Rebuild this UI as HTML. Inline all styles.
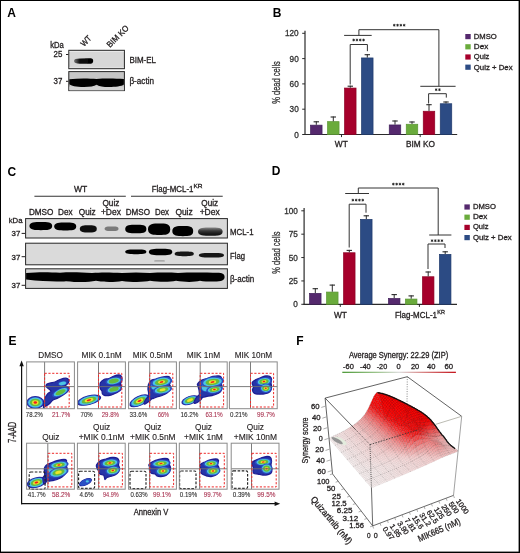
<!DOCTYPE html>
<html><head><meta charset="utf-8"><title>figure</title>
<style>html,body{margin:0;padding:0;background:#fff;}body{width:520px;height:553px;overflow:hidden;position:relative;font-family:"Liberation Sans", sans-serif;}</style>
</head><body>
<svg width="520" height="553" viewBox="0 0 520 553" style="position:absolute;left:0;top:0;will-change:transform;font-family:'Liberation Sans', sans-serif">
<defs>
<filter id="bl1" x="-20%" y="-50%" width="140%" height="200%"><feGaussianBlur stdDeviation="0.7"/></filter>
<filter id="bl2" x="-20%" y="-50%" width="140%" height="200%"><feGaussianBlur stdDeviation="1.1"/></filter>
<filter id="bl05" x="-20%" y="-50%" width="140%" height="200%"><feGaussianBlur stdDeviation="0.45"/></filter>
<linearGradient id="bimg" x1="0" x2="1" y1="0" y2="0"><stop offset="0" stop-color="#777"/><stop offset="0.3" stop-color="#111"/><stop offset="1" stop-color="#000"/></linearGradient>
<linearGradient id="qdg" x1="0" x2="0" y1="0" y2="1"><stop offset="0" stop-color="#8a8a8a"/><stop offset="0.45" stop-color="#333"/><stop offset="1" stop-color="#0a0a0a"/></linearGradient>
<linearGradient id="cbar" x1="0" x2="1" y1="0" y2="0">
 <stop offset="0" stop-color="#4f9a3a"/><stop offset="0.3" stop-color="#9cc48c"/>
 <stop offset="0.5" stop-color="#dddddd"/><stop offset="0.7" stop-color="#d98a8a"/>
 <stop offset="1" stop-color="#c4141c"/></linearGradient>
</defs>
<rect x="0.00" y="0.00" width="520.00" height="553.00" fill="#fff" />
<text x="7.20" y="16.90" font-size="12" fill="#000" font-weight="bold" >A</text>
<text x="272.80" y="16.90" font-size="12" fill="#000" font-weight="bold" >B</text>
<text x="7.40" y="175.60" font-size="12" fill="#000" font-weight="bold" >C</text>
<text x="271.70" y="175.40" font-size="12" fill="#000" font-weight="bold" >D</text>
<text x="8.40" y="345.30" font-size="12" fill="#000" font-weight="bold" >E</text>
<text x="296.20" y="345.30" font-size="12" fill="#000" font-weight="bold" >F</text>
<text x="50.20" y="47.50" font-size="8.2" fill="#231f20" textLength="13.60" lengthAdjust="spacingAndGlyphs" stroke="#231f20" stroke-width="0.3" >kDa</text>
<text x="53.60" y="56.90" font-size="8.9" fill="#231f20" textLength="8.80" lengthAdjust="spacingAndGlyphs" stroke="#231f20" stroke-width="0.3" >25</text>
<text x="53.60" y="83.70" font-size="8.9" fill="#231f20" textLength="8.80" lengthAdjust="spacingAndGlyphs" stroke="#231f20" stroke-width="0.3" >37</text>
<line x1="66.00" y1="54.50" x2="68.50" y2="54.50" stroke="#231f20" stroke-width="1" />
<line x1="66.00" y1="81.30" x2="68.50" y2="81.30" stroke="#231f20" stroke-width="1" />
<text x="83.90" y="46.90" font-size="8.4" fill="#231f20" textLength="11.50" lengthAdjust="spacingAndGlyphs" stroke="#231f20" stroke-width="0.3" transform="rotate(-45 83.90 46.90)" >WT</text>
<text x="110.00" y="48.10" font-size="8.4" fill="#231f20" textLength="27.50" lengthAdjust="spacingAndGlyphs" stroke="#231f20" stroke-width="0.3" transform="rotate(-45 110.00 48.10)" >BIM KO</text>
<rect x="68.80" y="50.30" width="55.60" height="18.40" fill="#d7d7d7" stroke="#262626" stroke-width="1" />
<line x1="69.50" y1="51.50" x2="123.80" y2="51.50" stroke="#ececec" stroke-width="0.8" />
<line x1="69.50" y1="67.40" x2="123.80" y2="67.40" stroke="#e6e6e6" stroke-width="0.8" />
<path d="M74.0,61 C74.0,59.2 76,58.6 80,58.5 L89,58.3 C92,58.3 93.2,58.8 93.2,61 C93.2,63.2 92,63.8 89,63.8 L80,63.7 C76,63.6 74.0,62.8 74.0,61 Z" fill="url(#bimg)" filter="url(#bl05)"/>
<rect x="68.80" y="71.60" width="55.60" height="19.00" fill="#c6c6c6" stroke="#262626" stroke-width="1" />
<rect x="69.30" y="86.50" width="54.60" height="3.90" fill="#d2d2d2" />
<path d="M69.3,79.2 C80,78.2 90,78.6 96.5,79.0 C104,78.3 115,78.4 123.9,79.0 L123.9,84.5 C121,86.8 112,87.2 105,86.9 C100,86.7 98,85.5 96.5,84.8 C94,86.3 90,87.0 84,87.0 C76,87.0 71,85.8 69.3,84.2 Z" fill="#060606" filter="url(#bl05)"/>
<text x="129.40" y="63.30" font-size="8.6" fill="#231f20" textLength="26.60" lengthAdjust="spacingAndGlyphs" stroke="#231f20" stroke-width="0.3" >BIM-EL</text>
<text x="129.40" y="84.20" font-size="8.6" fill="#231f20" textLength="24.60" lengthAdjust="spacingAndGlyphs" stroke="#231f20" stroke-width="0.3" >β-actin</text>
<line x1="305.00" y1="30.80" x2="305.00" y2="135.00" stroke="#2a2a2a" stroke-width="1.2" />
<line x1="304.40" y1="134.50" x2="457.20" y2="134.50" stroke="#2a2a2a" stroke-width="1.2" />
<line x1="302.20" y1="134.50" x2="305.00" y2="134.50" stroke="#2a2a2a" stroke-width="1" />
<text x="298.70" y="137.50" font-size="8.2" fill="#333" text-anchor="end" stroke="#333" stroke-width="0.3" >0</text>
<line x1="302.20" y1="109.20" x2="305.00" y2="109.20" stroke="#2a2a2a" stroke-width="1" />
<text x="298.70" y="112.20" font-size="8.2" fill="#333" text-anchor="end" stroke="#333" stroke-width="0.3" >30</text>
<line x1="302.20" y1="83.90" x2="305.00" y2="83.90" stroke="#2a2a2a" stroke-width="1" />
<text x="298.70" y="86.90" font-size="8.2" fill="#333" text-anchor="end" stroke="#333" stroke-width="0.3" >60</text>
<line x1="302.20" y1="58.60" x2="305.00" y2="58.60" stroke="#2a2a2a" stroke-width="1" />
<text x="298.70" y="61.60" font-size="8.2" fill="#333" text-anchor="end" stroke="#333" stroke-width="0.3" >90</text>
<line x1="302.20" y1="33.30" x2="305.00" y2="33.30" stroke="#2a2a2a" stroke-width="1" />
<text x="298.70" y="36.30" font-size="8.2" fill="#333" text-anchor="end" stroke="#333" stroke-width="0.3" >120</text>
<line x1="341.50" y1="134.50" x2="341.50" y2="137.10" stroke="#2a2a2a" stroke-width="1" />
<line x1="420.20" y1="134.50" x2="420.20" y2="137.10" stroke="#2a2a2a" stroke-width="1" />
<rect x="310.55" y="125.15" width="11.50" height="9.35" fill="#55296e" stroke="#40205a" stroke-width="0.7" />
<line x1="316.30" y1="121.30" x2="316.30" y2="124.80" stroke="#2a2a2a" stroke-width="1" />
<line x1="313.60" y1="121.80" x2="319.00" y2="121.80" stroke="#2a2a2a" stroke-width="1.1" />
<rect x="327.55" y="121.65" width="11.50" height="12.85" fill="#6aab3c" stroke="#5a9632" stroke-width="0.7" />
<line x1="333.30" y1="116.50" x2="333.30" y2="121.30" stroke="#2a2a2a" stroke-width="1" />
<line x1="330.60" y1="117.00" x2="336.00" y2="117.00" stroke="#2a2a2a" stroke-width="1.1" />
<rect x="344.55" y="88.05" width="11.50" height="46.45" fill="#a6002b" stroke="#8c0024" stroke-width="0.7" />
<line x1="350.30" y1="85.70" x2="350.30" y2="87.70" stroke="#2a2a2a" stroke-width="1" />
<line x1="347.60" y1="86.20" x2="353.00" y2="86.20" stroke="#2a2a2a" stroke-width="1.1" />
<rect x="361.55" y="57.95" width="11.50" height="76.55" fill="#2c4b84" stroke="#1f3a6c" stroke-width="0.7" />
<line x1="367.30" y1="54.20" x2="367.30" y2="57.60" stroke="#2a2a2a" stroke-width="1" />
<line x1="364.60" y1="54.70" x2="370.00" y2="54.70" stroke="#2a2a2a" stroke-width="1.1" />
<rect x="389.25" y="124.95" width="11.50" height="9.55" fill="#55296e" stroke="#40205a" stroke-width="0.7" />
<line x1="395.00" y1="120.50" x2="395.00" y2="124.60" stroke="#2a2a2a" stroke-width="1" />
<line x1="392.30" y1="121.00" x2="397.70" y2="121.00" stroke="#2a2a2a" stroke-width="1.1" />
<rect x="406.25" y="124.25" width="11.50" height="10.25" fill="#6aab3c" stroke="#5a9632" stroke-width="0.7" />
<line x1="412.00" y1="121.50" x2="412.00" y2="123.90" stroke="#2a2a2a" stroke-width="1" />
<line x1="409.30" y1="122.00" x2="414.70" y2="122.00" stroke="#2a2a2a" stroke-width="1.1" />
<rect x="423.25" y="111.25" width="11.50" height="23.25" fill="#a6002b" stroke="#8c0024" stroke-width="0.7" />
<line x1="429.00" y1="104.20" x2="429.00" y2="110.90" stroke="#2a2a2a" stroke-width="1" />
<line x1="426.30" y1="104.70" x2="431.70" y2="104.70" stroke="#2a2a2a" stroke-width="1.1" />
<rect x="440.25" y="103.75" width="11.50" height="30.75" fill="#2c4b84" stroke="#1f3a6c" stroke-width="0.7" />
<line x1="446.00" y1="101.50" x2="446.00" y2="103.40" stroke="#2a2a2a" stroke-width="1" />
<line x1="443.30" y1="102.00" x2="448.70" y2="102.00" stroke="#2a2a2a" stroke-width="1.1" />
<text x="279.80" y="103.80" font-size="10.5" fill="#333" textLength="42.70" lengthAdjust="spacingAndGlyphs" stroke="#333" stroke-width="0.3" transform="rotate(-90 279.80 103.80)" >% dead cells</text>
<text x="341.30" y="147.40" font-size="8.2" fill="#231f20" text-anchor="middle" textLength="13.00" lengthAdjust="spacingAndGlyphs" stroke="#231f20" stroke-width="0.3" >WT</text>
<text x="420.50" y="147.40" font-size="8.2" fill="#231f20" text-anchor="middle" textLength="29.00" lengthAdjust="spacingAndGlyphs" stroke="#231f20" stroke-width="0.3" >BIM KO</text>
<path d="M358.9,35.4 V29.7 H438.9 V86.3" fill="none" stroke="#333" stroke-width="1" />
<line x1="344.10" y1="35.40" x2="371.70" y2="35.40" stroke="#333" stroke-width="1" />
<path d="M353.65,38.65L353.65,41.35M352.48,39.33L354.82,40.67M354.82,39.33L352.48,40.67M356.95,38.65L356.95,41.35M355.78,39.33L358.12,40.67M358.12,39.33L355.78,40.67M360.25,38.65L360.25,41.35M359.08,39.33L361.42,40.67M361.42,39.33L359.08,40.67M363.55,38.65L363.55,41.35M362.38,39.33L364.72,40.67M364.72,39.33L362.38,40.67" fill="none" stroke="#1a1a1a" stroke-width="0.8" />
<path d="M350.2,84.5 V44.5 H367.4 V51.2" fill="none" stroke="#333" stroke-width="1" />
<path d="M394.25,23.85L394.25,26.55M393.08,24.52L395.42,25.88M395.42,24.52L393.08,25.88M397.55,23.85L397.55,26.55M396.38,24.52L398.72,25.88M398.72,24.52L396.38,25.88M400.85,23.85L400.85,26.55M399.68,24.52L402.02,25.88M402.02,24.52L399.68,25.88M404.15,23.85L404.15,26.55M402.98,24.52L405.32,25.88M405.32,24.52L402.98,25.88" fill="none" stroke="#1a1a1a" stroke-width="0.8" />
<line x1="420.30" y1="86.30" x2="455.60" y2="86.30" stroke="#333" stroke-width="1" />
<path d="M436.15,88.35L436.15,91.05M434.98,89.03L437.32,90.38M437.32,89.03L434.98,90.38M439.45,88.35L439.45,91.05M438.28,89.03L440.62,90.38M440.62,89.03L438.28,90.38" fill="none" stroke="#1a1a1a" stroke-width="0.8" />
<path d="M428.6,103.5 V93.7 H446.3 V97.6" fill="none" stroke="#333" stroke-width="1" />
<rect x="465.30" y="34.00" width="5.40" height="5.20" fill="#55296e" />
<text x="473.80" y="38.90" font-size="7.6" fill="#231f20" textLength="23.00" lengthAdjust="spacingAndGlyphs" stroke="#231f20" stroke-width="0.3" >DMSO</text>
<rect x="465.30" y="44.20" width="5.40" height="5.20" fill="#6aab3c" />
<text x="473.80" y="49.10" font-size="7.6" fill="#231f20" textLength="14.40" lengthAdjust="spacingAndGlyphs" stroke="#231f20" stroke-width="0.3" >Dex</text>
<rect x="465.30" y="54.40" width="5.40" height="5.20" fill="#a6002b" />
<text x="473.80" y="59.30" font-size="7.6" fill="#231f20" textLength="15.60" lengthAdjust="spacingAndGlyphs" stroke="#231f20" stroke-width="0.3" >Quiz</text>
<rect x="465.30" y="64.60" width="5.40" height="5.20" fill="#2c4b84" />
<text x="473.80" y="69.50" font-size="7.6" fill="#231f20" textLength="38.80" lengthAdjust="spacingAndGlyphs" stroke="#231f20" stroke-width="0.3" >Quiz + Dex</text>
<text x="80.70" y="191.60" font-size="8.2" fill="#231f20" text-anchor="middle" textLength="13.30" lengthAdjust="spacingAndGlyphs" stroke="#231f20" stroke-width="0.3" >WT</text>
<line x1="34.40" y1="196.20" x2="125.80" y2="196.20" stroke="#333" stroke-width="1.1" />
<text x="151.80" y="191.80" font-size="8.4" fill="#231f20" textLength="41.60" lengthAdjust="spacingAndGlyphs" stroke="#231f20" stroke-width="0.3" >Flag-MCL-1</text>
<text x="193.50" y="188.20" font-size="5.9" fill="#231f20" textLength="9.00" lengthAdjust="spacingAndGlyphs" stroke="#231f20" stroke-width="0.3" >KR</text>
<line x1="131.00" y1="196.20" x2="222.70" y2="196.20" stroke="#333" stroke-width="1.1" />
<text x="28.90" y="215.30" font-size="8.2" fill="#231f20" textLength="24.50" lengthAdjust="spacingAndGlyphs" stroke="#231f20" stroke-width="0.3" >DMSO</text>
<text x="58.00" y="215.30" font-size="8.2" fill="#231f20" textLength="14.50" lengthAdjust="spacingAndGlyphs" stroke="#231f20" stroke-width="0.3" >Dex</text>
<text x="78.80" y="215.30" font-size="8.2" fill="#231f20" textLength="16.90" lengthAdjust="spacingAndGlyphs" stroke="#231f20" stroke-width="0.3" >Quiz</text>
<text x="125.80" y="215.30" font-size="8.2" fill="#231f20" textLength="24.20" lengthAdjust="spacingAndGlyphs" stroke="#231f20" stroke-width="0.3" >DMSO</text>
<text x="155.00" y="215.30" font-size="8.2" fill="#231f20" textLength="14.00" lengthAdjust="spacingAndGlyphs" stroke="#231f20" stroke-width="0.3" >Dex</text>
<text x="175.40" y="215.30" font-size="8.2" fill="#231f20" textLength="17.30" lengthAdjust="spacingAndGlyphs" stroke="#231f20" stroke-width="0.3" >Quiz</text>
<text x="110.90" y="205.80" font-size="8.2" fill="#231f20" text-anchor="middle" textLength="16.90" lengthAdjust="spacingAndGlyphs" stroke="#231f20" stroke-width="0.3" >Quiz</text>
<text x="110.90" y="215.30" font-size="8.2" fill="#231f20" text-anchor="middle" textLength="20.00" lengthAdjust="spacingAndGlyphs" stroke="#231f20" stroke-width="0.3" >+Dex</text>
<text x="209.70" y="205.80" font-size="8.2" fill="#231f20" text-anchor="middle" textLength="16.80" lengthAdjust="spacingAndGlyphs" stroke="#231f20" stroke-width="0.3" >Quiz</text>
<text x="209.70" y="215.30" font-size="8.2" fill="#231f20" text-anchor="middle" textLength="20.10" lengthAdjust="spacingAndGlyphs" stroke="#231f20" stroke-width="0.3" >+Dex</text>
<text x="8.70" y="223.00" font-size="8" fill="#231f20" textLength="13.80" lengthAdjust="spacingAndGlyphs" stroke="#231f20" stroke-width="0.3" >kDa</text>
<text x="11.60" y="236.30" font-size="8" fill="#231f20" textLength="8.80" lengthAdjust="spacingAndGlyphs" stroke="#231f20" stroke-width="0.3" >37</text>
<line x1="21.60" y1="233.40" x2="25.30" y2="233.40" stroke="#231f20" stroke-width="1" />
<text x="11.60" y="259.60" font-size="8" fill="#231f20" textLength="8.80" lengthAdjust="spacingAndGlyphs" stroke="#231f20" stroke-width="0.3" >37</text>
<line x1="21.60" y1="256.70" x2="25.30" y2="256.70" stroke="#231f20" stroke-width="1" />
<text x="11.60" y="288.20" font-size="8" fill="#231f20" textLength="8.80" lengthAdjust="spacingAndGlyphs" stroke="#231f20" stroke-width="0.3" >37</text>
<line x1="21.60" y1="285.30" x2="25.30" y2="285.30" stroke="#231f20" stroke-width="1" />
<rect x="25.60" y="218.60" width="201.80" height="19.40" fill="#d9d9d9" stroke="#262626" stroke-width="1" />
<rect x="25.60" y="243.20" width="201.80" height="21.60" fill="#dadada" stroke="#262626" stroke-width="1" />
<rect x="25.60" y="268.80" width="201.80" height="19.60" fill="#d3d3d3" stroke="#262626" stroke-width="1" />
<path d="M29.4,226.1 C29.4,222.0 35.1,222.0 40.8,222.0 C47.6,222.0 52.2,222.0 52.2,226.1 C52.2,230.2 47.6,230.2 40.8,230.2 C35.1,230.2 29.4,230.2 29.4,226.1 Z" fill="#050505" filter="url(#bl05)"/>
<path d="M54.2,226.5 C54.2,222.6 59.7,222.6 65.2,222.6 C71.8,222.6 76.2,222.6 76.2,226.5 C76.2,230.4 71.8,230.4 65.2,230.4 C59.7,230.4 54.2,230.4 54.2,226.5 Z" fill="#050505" filter="url(#bl05)"/>
<path d="M79.8,228.8 C79.8,225.2 84.0,225.2 88.3,225.2 C93.4,225.2 96.8,225.2 96.8,228.8 C96.8,232.5 93.4,232.5 88.3,232.5 C84.0,232.5 79.8,232.5 79.8,228.8 Z" fill="#111" filter="url(#bl05)"/>
<path d="M104.6,228.8 C104.6,226.6 108.1,226.6 111.5,226.6 C115.7,226.6 118.5,226.6 118.5,228.8 C118.5,231.1 115.7,231.1 111.5,231.1 C108.1,231.1 104.6,231.1 104.6,228.8 Z" fill="#7a7a7a" filter="url(#bl1)"/>
<path d="M125.2,229.0 C125.2,224.7 130.5,224.7 135.8,224.7 C142.2,224.7 146.4,224.7 146.4,229.0 C146.4,233.3 142.2,233.3 135.8,233.3 C130.5,233.3 125.2,233.3 125.2,229.0 Z" fill="#050505" filter="url(#bl05)"/>
<path d="M148.0,229.3 C148.0,223.6 153.6,223.6 159.1,223.6 C165.8,223.6 170.2,223.6 170.2,229.3 C170.2,235.0 165.8,235.0 159.1,235.0 C153.6,235.0 148.0,235.0 148.0,229.3 Z" fill="#050505" filter="url(#bl05)"/>
<path d="M172.3,231.1 C172.3,226.0 177.5,226.0 182.8,226.0 C189.0,226.0 193.2,226.0 193.2,231.1 C193.2,236.2 189.0,236.2 182.8,236.2 C177.5,236.2 172.3,236.2 172.3,231.1 Z" fill="#050505" filter="url(#bl05)"/>
<path d="M198.0,231.6 C198.0,227.4 204.2,227.4 210.3,227.4 C217.7,227.4 222.6,227.4 222.6,231.6 C222.6,235.8 217.7,235.8 210.3,235.8 C204.2,235.8 198.0,235.8 198.0,231.6 Z" fill="url(#qdg)" filter="url(#bl05)"/>
<path d="M125.2,251.8 C125.2,249.5 130.5,249.5 135.8,249.5 C142.2,249.5 146.4,249.5 146.4,251.8 C146.4,254.2 142.2,254.2 135.8,254.2 C130.5,254.2 125.2,254.2 125.2,251.8 Z" fill="#050505" filter="url(#bl05)"/>
<path d="M148.8,252.0 C148.8,248.8 154.7,248.8 160.6,248.8 C167.6,248.8 172.3,248.8 172.3,252.0 C172.3,255.2 167.6,255.2 160.6,255.2 C154.7,255.2 148.8,255.2 148.8,252.0 Z" fill="#050505" filter="url(#bl05)"/>
<path d="M174.6,253.8 C174.6,251.4 179.4,251.4 184.2,251.4 C190.0,251.4 193.8,251.4 193.8,253.8 C193.8,256.2 190.0,256.2 184.2,256.2 C179.4,256.2 174.6,256.2 174.6,253.8 Z" fill="#151515" filter="url(#bl05)"/>
<path d="M198.8,255.3 C198.8,253.0 205.1,253.0 211.4,253.0 C219.0,253.0 224.0,253.0 224.0,255.3 C224.0,257.6 219.0,257.6 211.4,257.6 C205.1,257.6 198.8,257.6 198.8,255.3 Z" fill="#151515" filter="url(#bl05)"/>
<path d="M154.0,260.9 C154.0,260.2 156.8,260.2 159.5,260.2 C162.8,260.2 165.0,260.2 165.0,260.9 C165.0,261.6 162.8,261.6 159.5,261.6 C156.8,261.6 154.0,261.6 154.0,260.9 Z" fill="#9a9a9a" filter="url(#bl1)"/>
<path d="M26.1,273.0 C40,271.8 50,272.2 60,272.8 C70,272.0 80,272.4 92,273.0 C100,272.2 110,272.2 122,273.0 C132,272.2 140,272.2 150,273.0 C160,272.4 170,272.4 178,273.0 C188,272.4 200,272.4 219,272.8 C223.5,273.0 224.6,275.0 224.6,277.0 C224.6,280.2 222,281.6 214,281.6 C208,281.6 203,281.4 200,280.8 C195,282.2 185,282.4 176,280.8 C170,282.0 160,282.2 150,280.8 C145,282.2 132,282.4 122,281.0 C115,282.2 104,282.4 96,280.8 C88,282.4 78,282.4 66,281.2 C58,282.0 44,281.6 26.1,279.6 Z" fill="#060606" filter="url(#bl05)"/>
<text x="230.00" y="235.00" font-size="8.6" fill="#231f20" textLength="23.50" lengthAdjust="spacingAndGlyphs" stroke="#231f20" stroke-width="0.3" >MCL-1</text>
<text x="230.00" y="259.40" font-size="8.6" fill="#231f20" textLength="15.00" lengthAdjust="spacingAndGlyphs" stroke="#231f20" stroke-width="0.3" >Flag</text>
<text x="230.00" y="282.00" font-size="8.6" fill="#231f20" textLength="24.20" lengthAdjust="spacingAndGlyphs" stroke="#231f20" stroke-width="0.3" >β-actin</text>
<line x1="304.10" y1="208.00" x2="304.10" y2="304.80" stroke="#2a2a2a" stroke-width="1.2" />
<line x1="303.50" y1="304.30" x2="457.00" y2="304.30" stroke="#2a2a2a" stroke-width="1.2" />
<line x1="301.30" y1="304.30" x2="304.10" y2="304.30" stroke="#2a2a2a" stroke-width="1" />
<text x="297.80" y="307.30" font-size="8.2" fill="#333" text-anchor="end" stroke="#333" stroke-width="0.3" >0</text>
<line x1="301.30" y1="280.93" x2="304.10" y2="280.93" stroke="#2a2a2a" stroke-width="1" />
<text x="297.80" y="283.93" font-size="8.2" fill="#333" text-anchor="end" stroke="#333" stroke-width="0.3" >25</text>
<line x1="301.30" y1="257.55" x2="304.10" y2="257.55" stroke="#2a2a2a" stroke-width="1" />
<text x="297.80" y="260.55" font-size="8.2" fill="#333" text-anchor="end" stroke="#333" stroke-width="0.3" >50</text>
<line x1="301.30" y1="234.18" x2="304.10" y2="234.18" stroke="#2a2a2a" stroke-width="1" />
<text x="297.80" y="237.18" font-size="8.2" fill="#333" text-anchor="end" stroke="#333" stroke-width="0.3" >75</text>
<line x1="301.30" y1="210.80" x2="304.10" y2="210.80" stroke="#2a2a2a" stroke-width="1" />
<text x="297.80" y="213.80" font-size="8.2" fill="#333" text-anchor="end" stroke="#333" stroke-width="0.3" >100</text>
<line x1="340.30" y1="304.30" x2="340.30" y2="306.90" stroke="#2a2a2a" stroke-width="1" />
<line x1="419.40" y1="304.30" x2="419.40" y2="306.90" stroke="#2a2a2a" stroke-width="1" />
<rect x="309.55" y="293.35" width="11.50" height="10.95" fill="#55296e" stroke="#40205a" stroke-width="0.7" />
<line x1="315.30" y1="288.20" x2="315.30" y2="293.00" stroke="#2a2a2a" stroke-width="1" />
<line x1="312.60" y1="288.70" x2="318.00" y2="288.70" stroke="#2a2a2a" stroke-width="1.1" />
<rect x="326.55" y="292.05" width="11.50" height="12.25" fill="#6aab3c" stroke="#5a9632" stroke-width="0.7" />
<line x1="332.30" y1="284.60" x2="332.30" y2="291.70" stroke="#2a2a2a" stroke-width="1" />
<line x1="329.60" y1="285.10" x2="335.00" y2="285.10" stroke="#2a2a2a" stroke-width="1.1" />
<rect x="343.55" y="252.75" width="11.50" height="51.55" fill="#a6002b" stroke="#8c0024" stroke-width="0.7" />
<line x1="349.30" y1="249.90" x2="349.30" y2="252.40" stroke="#2a2a2a" stroke-width="1" />
<line x1="346.60" y1="250.40" x2="352.00" y2="250.40" stroke="#2a2a2a" stroke-width="1.1" />
<rect x="360.55" y="219.35" width="11.50" height="84.95" fill="#2c4b84" stroke="#1f3a6c" stroke-width="0.7" />
<line x1="366.30" y1="215.30" x2="366.30" y2="219.00" stroke="#2a2a2a" stroke-width="1" />
<line x1="363.60" y1="215.80" x2="369.00" y2="215.80" stroke="#2a2a2a" stroke-width="1.1" />
<rect x="388.45" y="298.45" width="11.50" height="5.85" fill="#55296e" stroke="#40205a" stroke-width="0.7" />
<line x1="394.20" y1="294.10" x2="394.20" y2="298.10" stroke="#2a2a2a" stroke-width="1" />
<line x1="391.50" y1="294.60" x2="396.90" y2="294.60" stroke="#2a2a2a" stroke-width="1.1" />
<rect x="405.45" y="299.05" width="11.50" height="5.25" fill="#6aab3c" stroke="#5a9632" stroke-width="0.7" />
<line x1="411.20" y1="295.40" x2="411.20" y2="298.70" stroke="#2a2a2a" stroke-width="1" />
<line x1="408.50" y1="295.90" x2="413.90" y2="295.90" stroke="#2a2a2a" stroke-width="1.1" />
<rect x="422.45" y="276.75" width="11.50" height="27.55" fill="#a6002b" stroke="#8c0024" stroke-width="0.7" />
<line x1="428.20" y1="271.50" x2="428.20" y2="276.40" stroke="#2a2a2a" stroke-width="1" />
<line x1="425.50" y1="272.00" x2="430.90" y2="272.00" stroke="#2a2a2a" stroke-width="1.1" />
<rect x="439.45" y="254.35" width="11.50" height="49.95" fill="#2c4b84" stroke="#1f3a6c" stroke-width="0.7" />
<line x1="445.20" y1="251.30" x2="445.20" y2="254.00" stroke="#2a2a2a" stroke-width="1" />
<line x1="442.50" y1="251.80" x2="447.90" y2="251.80" stroke="#2a2a2a" stroke-width="1.1" />
<text x="279.60" y="273.70" font-size="10.5" fill="#333" textLength="42.30" lengthAdjust="spacingAndGlyphs" stroke="#333" stroke-width="0.3" transform="rotate(-90 279.60 273.70)" >% dead cells</text>
<text x="340.40" y="318.00" font-size="8.2" fill="#231f20" text-anchor="middle" textLength="13.00" lengthAdjust="spacingAndGlyphs" stroke="#231f20" stroke-width="0.3" >WT</text>
<text x="394.90" y="318.00" font-size="8.2" fill="#231f20" textLength="42.10" lengthAdjust="spacingAndGlyphs" stroke="#231f20" stroke-width="0.3" >Flag-MCL-1</text>
<text x="437.30" y="314.20" font-size="5.9" fill="#231f20" textLength="7.60" lengthAdjust="spacingAndGlyphs" stroke="#231f20" stroke-width="0.3" >KR</text>
<path d="M358.3,193.5 V188.0 H438.2 V235.0" fill="none" stroke="#333" stroke-width="1" />
<line x1="345.20" y1="193.50" x2="369.00" y2="193.50" stroke="#333" stroke-width="1" />
<path d="M352.85,198.75L352.85,201.45M351.68,199.43L354.02,200.78M354.02,199.43L351.68,200.78M356.15,198.75L356.15,201.45M354.98,199.43L357.32,200.78M357.32,199.43L354.98,200.78M359.45,198.75L359.45,201.45M358.28,199.43L360.62,200.78M360.62,199.43L358.28,200.78M362.75,198.75L362.75,201.45M361.58,199.43L363.92,200.78M363.92,199.43L361.58,200.78" fill="none" stroke="#1a1a1a" stroke-width="0.8" />
<path d="M349.2,247.5 V204.2 H366.0 V212.7" fill="none" stroke="#333" stroke-width="1" />
<path d="M393.35,182.75L393.35,185.45M392.18,183.43L394.52,184.78M394.52,183.43L392.18,184.78M396.65,182.75L396.65,185.45M395.48,183.43L397.82,184.78M397.82,183.43L395.48,184.78M399.95,182.75L399.95,185.45M398.78,183.43L401.12,184.78M401.12,183.43L398.78,184.78M403.25,182.75L403.25,185.45M402.08,183.43L404.42,184.78M404.42,183.43L402.08,184.78" fill="none" stroke="#1a1a1a" stroke-width="0.8" />
<line x1="429.20" y1="235.00" x2="451.40" y2="235.00" stroke="#333" stroke-width="1" />
<path d="M432.05,239.35L432.05,242.05M430.88,240.03L433.22,241.38M433.22,240.03L430.88,241.38M435.35,239.35L435.35,242.05M434.18,240.03L436.52,241.38M436.52,240.03L434.18,241.38M438.65,239.35L438.65,242.05M437.48,240.03L439.82,241.38M439.82,240.03L437.48,241.38M441.95,239.35L441.95,242.05M440.78,240.03L443.12,241.38M443.12,240.03L440.78,241.38" fill="none" stroke="#1a1a1a" stroke-width="0.8" />
<path d="M428.0,269.0 V244.0 H445.0 V248.0" fill="none" stroke="#333" stroke-width="1" />
<rect x="464.40" y="204.40" width="5.40" height="5.20" fill="#55296e" />
<text x="472.90" y="208.90" font-size="7.6" fill="#231f20" textLength="23.00" lengthAdjust="spacingAndGlyphs" stroke="#231f20" stroke-width="0.3" >DMSO</text>
<rect x="464.40" y="214.60" width="5.40" height="5.20" fill="#6aab3c" />
<text x="472.90" y="219.10" font-size="7.6" fill="#231f20" textLength="14.40" lengthAdjust="spacingAndGlyphs" stroke="#231f20" stroke-width="0.3" >Dex</text>
<rect x="464.40" y="224.80" width="5.40" height="5.20" fill="#a6002b" />
<text x="472.90" y="229.30" font-size="7.6" fill="#231f20" textLength="15.60" lengthAdjust="spacingAndGlyphs" stroke="#231f20" stroke-width="0.3" >Quiz</text>
<rect x="464.40" y="235.00" width="5.40" height="5.20" fill="#2c4b84" />
<text x="472.90" y="239.50" font-size="7.6" fill="#231f20" textLength="38.80" lengthAdjust="spacingAndGlyphs" stroke="#231f20" stroke-width="0.3" >Quiz + Dex</text>
<defs><filter id="blE" x="-10%" y="-10%" width="120%" height="120%"><feGaussianBlur stdDeviation="0.45"/></filter></defs>
<line x1="21.60" y1="364.00" x2="21.60" y2="504.20" stroke="#111" stroke-width="1.2" />
<path d="M21.6,360.6 L19.4,366.2 L23.8,366.2 Z" fill="#111" />
<line x1="21.00" y1="503.70" x2="276.50" y2="503.70" stroke="#111" stroke-width="1.2" />
<path d="M280.2,503.7 L274.6,501.5 L274.6,505.9 Z" fill="#111" />
<text x="16.40" y="442.80" font-size="10.4" fill="#231f20" textLength="21.00" lengthAdjust="spacingAndGlyphs" stroke="#231f20" stroke-width="0.3" transform="rotate(-90 16.40 442.80)" >7-AAD</text>
<text x="133.70" y="514.90" font-size="9.0" fill="#231f20" textLength="34.60" lengthAdjust="spacingAndGlyphs" stroke="#231f20" stroke-width="0.3" >Annexin V</text>
<clipPath id="ce0"><rect x="26.60" y="361.90" width="47.80" height="46.80"/></clipPath>
<g clip-path="url(#ce0)"><g filter="url(#blE)">
<ellipse cx="35.30" cy="402.50" rx="9.00" ry="6.40" fill="#1f1f94" transform="rotate(0 35.30 402.50)"/>
<ellipse cx="35.30" cy="402.50" rx="8.10" ry="5.76" fill="#2c4fc4" transform="rotate(0 35.30 402.50)"/>
<ellipse cx="35.30" cy="402.50" rx="7.20" ry="5.12" fill="#4cc4e4" transform="rotate(0 35.30 402.50)"/>
<ellipse cx="35.30" cy="402.50" rx="5.40" ry="3.84" fill="#66bb3e" transform="rotate(0 35.30 402.50)"/>
<ellipse cx="35.30" cy="402.50" rx="3.24" ry="2.30" fill="#ece42a" transform="rotate(0 35.30 402.50)"/>
<ellipse cx="35.30" cy="402.50" rx="1.71" ry="1.22" fill="#f21c1c" transform="rotate(0 35.30 402.50)"/>
<path d="M44.00,402.00 C44.25,400.42 44.33,399.42 45.00,398.00 C45.67,396.58 47.00,394.67 48.00,393.50 C49.00,392.33 51.25,392.08 51.00,391.00 C50.75,389.92 47.25,388.08 46.50,387.00 C45.75,385.92 45.92,385.17 46.50,384.50 C47.08,383.83 48.58,383.42 50.00,383.00 C51.42,382.58 53.33,382.58 55.00,382.00 C56.67,381.42 58.17,380.13 60.00,379.50 C61.83,378.87 64.53,378.12 66.00,378.20 C67.47,378.28 68.47,379.12 68.80,380.00 C69.13,380.88 68.63,382.58 68.00,383.50 C67.37,384.42 65.00,384.92 65.00,385.50 C65.00,386.08 67.33,386.42 68.00,387.00 C68.67,387.58 69.17,388.17 69.00,389.00 C68.83,389.83 68.00,391.00 67.00,392.00 C66.00,393.00 64.50,394.00 63.00,395.00 C61.50,396.00 59.67,397.17 58.00,398.00 C56.33,398.83 54.50,399.00 53.00,400.00 C51.50,401.00 50.33,402.92 49.00,404.00 C47.67,405.08 45.92,405.92 45.00,406.50 C44.08,407.08 43.67,408.25 43.50,407.50 C43.33,406.75 43.75,403.58 44.00,402.00 Z" fill="#2636a8" stroke="#1f1f94" stroke-width="1.3" />
<ellipse cx="62.50" cy="383.40" rx="4.42" ry="2.08" fill="#2c4fc4" transform="rotate(-10 62.50 383.40)"/>
<ellipse cx="62.50" cy="383.40" rx="3.57" ry="1.68" fill="#4cc4e4" transform="rotate(-10 62.50 383.40)"/>
<ellipse cx="60.50" cy="392.20" rx="9.10" ry="3.64" fill="#2c4fc4" transform="rotate(-25 60.50 392.20)"/>
<ellipse cx="60.50" cy="392.20" rx="7.35" ry="2.94" fill="#4cc4e4" transform="rotate(-25 60.50 392.20)"/>
<ellipse cx="60.50" cy="392.20" rx="5.46" ry="2.18" fill="#66bb3e" transform="rotate(-25 60.50 392.20)"/>
</g></g>
<line x1="44.60" y1="361.90" x2="44.60" y2="408.70" stroke="#6e6e6e" stroke-width="0.9" />
<line x1="26.60" y1="386.60" x2="74.40" y2="386.60" stroke="#6e6e6e" stroke-width="0.9" />
<rect x="44.60" y="373.30" width="24.60" height="33.70" fill="none" stroke="#ee2a2a" stroke-width="1.0" stroke-dasharray="2.2 1.6"/>
<rect x="26.60" y="361.90" width="47.80" height="46.80" fill="none" stroke="#8a8a8a" stroke-width="1.0" />
<text x="50.60" y="358.40" font-size="8.4" fill="#231f20" text-anchor="middle" textLength="24.60" lengthAdjust="spacingAndGlyphs" stroke="#231f20" stroke-width="0.12" >DMSO</text>
<text x="25.80" y="416.60" font-size="7.6" fill="#2a2a2a" textLength="17.20" lengthAdjust="spacingAndGlyphs" stroke="#2a2a2a" stroke-width="0.1" >78.2%</text>
<text x="52.00" y="416.60" font-size="7.6" fill="#a8304e" textLength="18.40" lengthAdjust="spacingAndGlyphs" stroke="#a8304e" stroke-width="0.1" >21.7%</text>
<clipPath id="ce1"><rect x="77.60" y="361.90" width="47.80" height="46.80"/></clipPath>
<g clip-path="url(#ce1)"><g filter="url(#blE)">
<ellipse cx="89.00" cy="400.20" rx="12.50" ry="4.80" fill="#1f1f94" transform="rotate(-15 89.00 400.20)"/>
<ellipse cx="89.00" cy="400.20" rx="11.25" ry="4.32" fill="#2c4fc4" transform="rotate(-15 89.00 400.20)"/>
<ellipse cx="89.00" cy="400.20" rx="10.00" ry="3.84" fill="#4cc4e4" transform="rotate(-15 89.00 400.20)"/>
<ellipse cx="89.00" cy="400.20" rx="7.50" ry="2.88" fill="#66bb3e" transform="rotate(-15 89.00 400.20)"/>
<ellipse cx="89.00" cy="400.20" rx="4.50" ry="1.73" fill="#ece42a" transform="rotate(-15 89.00 400.20)"/>
<ellipse cx="89.00" cy="400.20" rx="2.38" ry="0.91" fill="#f21c1c" transform="rotate(-15 89.00 400.20)"/>
<path d="M100.50,382.50 C101.17,381.42 102.58,380.17 104.00,379.50 C105.42,378.83 107.33,379.08 109.00,378.50 C110.67,377.92 112.33,376.58 114.00,376.00 C115.67,375.42 117.75,374.92 119.00,375.00 C120.25,375.08 121.00,375.67 121.50,376.50 C122.00,377.33 122.17,378.75 122.00,380.00 C121.83,381.25 120.58,383.00 120.50,384.00 C120.42,385.00 121.50,385.00 121.50,386.00 C121.50,387.00 121.42,388.83 120.50,390.00 C119.58,391.17 117.58,392.17 116.00,393.00 C114.42,393.83 112.83,394.58 111.00,395.00 C109.17,395.42 106.42,395.67 105.00,395.50 C103.58,395.33 103.00,394.75 102.50,394.00 C102.00,393.25 102.33,391.83 102.00,391.00 C101.67,390.17 100.83,389.83 100.50,389.00 C100.17,388.17 100.00,387.08 100.00,386.00 C100.00,384.92 99.83,383.58 100.50,382.50 Z" fill="#2636a8" stroke="#1f1f94" stroke-width="1.3" />
<ellipse cx="113.80" cy="381.00" rx="8.45" ry="3.64" fill="#2c4fc4" transform="rotate(-10 113.80 381.00)"/>
<ellipse cx="113.80" cy="381.00" rx="6.83" ry="2.94" fill="#4cc4e4" transform="rotate(-10 113.80 381.00)"/>
<ellipse cx="113.80" cy="381.00" rx="5.07" ry="2.18" fill="#66bb3e" transform="rotate(-10 113.80 381.00)"/>
<ellipse cx="114.00" cy="389.20" rx="8.06" ry="3.64" fill="#2c4fc4" transform="rotate(-15 114.00 389.20)"/>
<ellipse cx="114.00" cy="389.20" rx="6.51" ry="2.94" fill="#4cc4e4" transform="rotate(-15 114.00 389.20)"/>
<ellipse cx="114.00" cy="389.20" rx="4.84" ry="2.18" fill="#66bb3e" transform="rotate(-15 114.00 389.20)"/>
</g></g>
<line x1="98.50" y1="361.90" x2="98.50" y2="408.70" stroke="#6e6e6e" stroke-width="0.9" />
<line x1="77.60" y1="386.60" x2="125.40" y2="386.60" stroke="#6e6e6e" stroke-width="0.9" />
<rect x="98.50" y="373.30" width="23.30" height="33.70" fill="none" stroke="#ee2a2a" stroke-width="1.0" stroke-dasharray="2.2 1.6"/>
<rect x="77.60" y="361.90" width="47.80" height="46.80" fill="none" stroke="#8a8a8a" stroke-width="1.0" />
<text x="101.60" y="358.40" font-size="8.4" fill="#231f20" text-anchor="middle" textLength="40.30" lengthAdjust="spacingAndGlyphs" stroke="#231f20" stroke-width="0.12" >MIK 0.1nM</text>
<text x="80.60" y="416.60" font-size="7.6" fill="#2a2a2a" textLength="12.10" lengthAdjust="spacingAndGlyphs" stroke="#2a2a2a" stroke-width="0.1" >70%</text>
<text x="101.70" y="416.60" font-size="7.6" fill="#a8304e" textLength="17.30" lengthAdjust="spacingAndGlyphs" stroke="#a8304e" stroke-width="0.1" >29.8%</text>
<clipPath id="ce2"><rect x="128.60" y="361.90" width="47.80" height="46.80"/></clipPath>
<g clip-path="url(#ce2)"><g filter="url(#blE)">
<ellipse cx="139.50" cy="400.80" rx="11.00" ry="5.00" fill="#1f1f94" transform="rotate(-25 139.50 400.80)"/>
<ellipse cx="139.50" cy="400.80" rx="9.90" ry="4.50" fill="#2c4fc4" transform="rotate(-25 139.50 400.80)"/>
<ellipse cx="139.50" cy="400.80" rx="8.80" ry="4.00" fill="#4cc4e4" transform="rotate(-25 139.50 400.80)"/>
<ellipse cx="139.50" cy="400.80" rx="6.60" ry="3.00" fill="#66bb3e" transform="rotate(-25 139.50 400.80)"/>
<ellipse cx="139.50" cy="400.80" rx="3.96" ry="1.80" fill="#ece42a" transform="rotate(-25 139.50 400.80)"/>
<ellipse cx="139.50" cy="400.80" rx="2.09" ry="0.95" fill="#f21c1c" transform="rotate(-25 139.50 400.80)"/>
<path d="M146.00,399.00 C146.83,397.67 148.25,396.83 149.00,396.00 C149.75,395.17 150.00,393.67 150.50,394.00 C151.00,394.33 152.42,396.67 152.00,398.00 C151.58,399.33 149.33,401.00 148.00,402.00 C146.67,403.00 144.33,404.50 144.00,404.00 C143.67,403.50 145.17,400.33 146.00,399.00 Z" fill="#2636a8" stroke="#1f1f94" stroke-width="1.3" />
<path d="M148.50,384.50 C149.00,383.08 149.75,381.42 151.00,380.50 C152.25,379.58 154.33,379.50 156.00,379.00 C157.67,378.50 159.17,377.92 161.00,377.50 C162.83,377.08 165.50,376.50 167.00,376.50 C168.50,376.50 169.42,376.67 170.00,377.50 C170.58,378.33 170.58,380.33 170.50,381.50 C170.42,382.67 169.50,383.67 169.50,384.50 C169.50,385.33 170.42,385.58 170.50,386.50 C170.58,387.42 170.58,388.92 170.00,390.00 C169.42,391.08 168.33,392.08 167.00,393.00 C165.67,393.92 163.67,394.83 162.00,395.50 C160.33,396.17 158.50,396.50 157.00,397.00 C155.50,397.50 154.08,398.25 153.00,398.50 C151.92,398.75 151.17,398.92 150.50,398.50 C149.83,398.08 149.33,397.08 149.00,396.00 C148.67,394.92 148.67,393.17 148.50,392.00 C148.33,390.83 148.00,390.25 148.00,389.00 C148.00,387.75 148.00,385.92 148.50,384.50 Z" fill="#2636a8" stroke="#1f1f94" stroke-width="1.3" />
<ellipse cx="156.00" cy="386.50" rx="5.85" ry="4.16" fill="#2c4fc4" transform="rotate(0 156.00 386.50)"/>
<ellipse cx="156.00" cy="386.50" rx="4.73" ry="3.36" fill="#4cc4e4" transform="rotate(0 156.00 386.50)"/>
<ellipse cx="161.50" cy="382.00" rx="11.05" ry="4.94" fill="#2c4fc4" transform="rotate(-10 161.50 382.00)"/>
<ellipse cx="161.50" cy="382.00" rx="8.93" ry="3.99" fill="#4cc4e4" transform="rotate(-10 161.50 382.00)"/>
<ellipse cx="161.50" cy="382.00" rx="6.63" ry="2.96" fill="#66bb3e" transform="rotate(-10 161.50 382.00)"/>
<ellipse cx="161.50" cy="382.00" rx="3.57" ry="1.60" fill="#ece42a" transform="rotate(-10 161.50 382.00)"/>
<ellipse cx="161.50" cy="382.00" rx="1.87" ry="0.84" fill="#f21c1c" transform="rotate(-10 161.50 382.00)"/>
<ellipse cx="162.50" cy="389.80" rx="9.75" ry="4.16" fill="#2c4fc4" transform="rotate(-10 162.50 389.80)"/>
<ellipse cx="162.50" cy="389.80" rx="7.88" ry="3.36" fill="#4cc4e4" transform="rotate(-10 162.50 389.80)"/>
<ellipse cx="162.50" cy="389.80" rx="5.85" ry="2.50" fill="#66bb3e" transform="rotate(-10 162.50 389.80)"/>
<ellipse cx="162.50" cy="389.80" rx="3.15" ry="1.34" fill="#ece42a" transform="rotate(-10 162.50 389.80)"/>
</g></g>
<line x1="149.70" y1="361.90" x2="149.70" y2="408.70" stroke="#6e6e6e" stroke-width="0.9" />
<line x1="128.60" y1="386.60" x2="176.40" y2="386.60" stroke="#6e6e6e" stroke-width="0.9" />
<rect x="149.70" y="373.30" width="23.10" height="33.70" fill="none" stroke="#ee2a2a" stroke-width="1.0" stroke-dasharray="2.2 1.6"/>
<rect x="128.60" y="361.90" width="47.80" height="46.80" fill="none" stroke="#8a8a8a" stroke-width="1.0" />
<text x="152.60" y="358.40" font-size="8.4" fill="#231f20" text-anchor="middle" textLength="39.70" lengthAdjust="spacingAndGlyphs" stroke="#231f20" stroke-width="0.12" >MIK 0.5nM</text>
<text x="129.60" y="416.60" font-size="7.6" fill="#2a2a2a" textLength="17.60" lengthAdjust="spacingAndGlyphs" stroke="#2a2a2a" stroke-width="0.1" >33.6%</text>
<text x="158.00" y="416.60" font-size="7.6" fill="#a8304e" textLength="11.00" lengthAdjust="spacingAndGlyphs" stroke="#a8304e" stroke-width="0.1" >66%</text>
<clipPath id="ce3"><rect x="179.40" y="361.90" width="47.80" height="46.80"/></clipPath>
<g clip-path="url(#ce3)"><g filter="url(#blE)">
<ellipse cx="190.00" cy="400.20" rx="9.00" ry="4.20" fill="#1f1f94" transform="rotate(-20 190.00 400.20)"/>
<ellipse cx="190.00" cy="400.20" rx="8.10" ry="3.78" fill="#2c4fc4" transform="rotate(-20 190.00 400.20)"/>
<ellipse cx="190.00" cy="400.20" rx="7.20" ry="3.36" fill="#4cc4e4" transform="rotate(-20 190.00 400.20)"/>
<ellipse cx="190.00" cy="400.20" rx="5.40" ry="2.52" fill="#66bb3e" transform="rotate(-20 190.00 400.20)"/>
<ellipse cx="190.00" cy="400.20" rx="3.24" ry="1.51" fill="#ece42a" transform="rotate(-20 190.00 400.20)"/>
<path d="M196.00,398.00 C196.83,396.67 198.25,395.67 199.00,395.00 C199.75,394.33 200.00,393.50 200.50,394.00 C201.00,394.50 202.42,396.67 202.00,398.00 C201.58,399.33 199.33,401.17 198.00,402.00 C196.67,402.83 194.33,403.67 194.00,403.00 C193.67,402.33 195.17,399.33 196.00,398.00 Z" fill="#2636a8" stroke="#1f1f94" stroke-width="1.3" />
<path d="M197.50,384.00 C198.00,383.08 199.42,381.42 201.00,380.50 C202.58,379.58 205.00,379.17 207.00,378.50 C209.00,377.83 211.00,376.92 213.00,376.50 C215.00,376.08 217.58,375.75 219.00,376.00 C220.42,376.25 221.17,376.83 221.50,378.00 C221.83,379.17 220.92,381.67 221.00,383.00 C221.08,384.33 222.00,384.67 222.00,386.00 C222.00,387.33 221.67,389.75 221.00,391.00 C220.33,392.25 219.50,392.75 218.00,393.50 C216.50,394.25 214.00,395.00 212.00,395.50 C210.00,396.00 207.67,396.17 206.00,396.50 C204.33,396.83 202.92,397.42 202.00,397.50 C201.08,397.58 200.92,397.58 200.50,397.00 C200.08,396.42 199.75,395.17 199.50,394.00 C199.25,392.83 199.25,391.33 199.00,390.00 C198.75,388.67 198.25,387.00 198.00,386.00 C197.75,385.00 197.00,384.92 197.50,384.00 Z" fill="#2636a8" stroke="#1f1f94" stroke-width="1.3" />
<ellipse cx="206.00" cy="387.50" rx="5.20" ry="4.55" fill="#2c4fc4" transform="rotate(0 206.00 387.50)"/>
<ellipse cx="206.00" cy="387.50" rx="4.20" ry="3.68" fill="#4cc4e4" transform="rotate(0 206.00 387.50)"/>
<ellipse cx="212.50" cy="382.00" rx="11.70" ry="5.20" fill="#2c4fc4" transform="rotate(-8 212.50 382.00)"/>
<ellipse cx="212.50" cy="382.00" rx="9.45" ry="4.20" fill="#4cc4e4" transform="rotate(-8 212.50 382.00)"/>
<ellipse cx="212.50" cy="382.00" rx="7.02" ry="3.12" fill="#66bb3e" transform="rotate(-8 212.50 382.00)"/>
<ellipse cx="212.50" cy="382.00" rx="3.78" ry="1.68" fill="#ece42a" transform="rotate(-8 212.50 382.00)"/>
<ellipse cx="212.50" cy="382.00" rx="1.98" ry="0.88" fill="#f21c1c" transform="rotate(-8 212.50 382.00)"/>
<ellipse cx="214.50" cy="389.50" rx="8.45" ry="3.90" fill="#2c4fc4" transform="rotate(-10 214.50 389.50)"/>
<ellipse cx="214.50" cy="389.50" rx="6.83" ry="3.15" fill="#4cc4e4" transform="rotate(-10 214.50 389.50)"/>
<ellipse cx="214.50" cy="389.50" rx="5.07" ry="2.34" fill="#66bb3e" transform="rotate(-10 214.50 389.50)"/>
<ellipse cx="214.50" cy="389.50" rx="2.73" ry="1.26" fill="#ece42a" transform="rotate(-10 214.50 389.50)"/>
<ellipse cx="214.50" cy="389.50" rx="1.43" ry="0.66" fill="#f21c1c" transform="rotate(-10 214.50 389.50)"/>
</g></g>
<line x1="200.20" y1="361.90" x2="200.20" y2="408.70" stroke="#6e6e6e" stroke-width="0.9" />
<line x1="179.40" y1="386.60" x2="227.20" y2="386.60" stroke="#6e6e6e" stroke-width="0.9" />
<rect x="200.20" y="373.30" width="23.40" height="33.70" fill="none" stroke="#ee2a2a" stroke-width="1.0" stroke-dasharray="2.2 1.6"/>
<rect x="179.40" y="361.90" width="47.80" height="46.80" fill="none" stroke="#8a8a8a" stroke-width="1.0" />
<text x="203.40" y="358.40" font-size="8.4" fill="#231f20" text-anchor="middle" textLength="33.40" lengthAdjust="spacingAndGlyphs" stroke="#231f20" stroke-width="0.12" >MIK 1nM</text>
<text x="180.50" y="416.60" font-size="7.6" fill="#2a2a2a" textLength="18.00" lengthAdjust="spacingAndGlyphs" stroke="#2a2a2a" stroke-width="0.1" >16.2%</text>
<text x="205.40" y="416.60" font-size="7.6" fill="#a8304e" textLength="17.30" lengthAdjust="spacingAndGlyphs" stroke="#a8304e" stroke-width="0.1" >63.1%</text>
<clipPath id="ce4"><rect x="229.40" y="361.90" width="47.80" height="46.80"/></clipPath>
<g clip-path="url(#ce4)"><g filter="url(#blE)">
<path d="M252.50,382.00 C253.08,381.17 254.58,380.25 256.00,379.50 C257.42,378.75 259.33,378.08 261.00,377.50 C262.67,376.92 264.50,376.17 266.00,376.00 C267.50,375.83 269.08,376.00 270.00,376.50 C270.92,377.00 271.33,377.92 271.50,379.00 C271.67,380.08 271.00,381.83 271.00,383.00 C271.00,384.17 271.50,384.83 271.50,386.00 C271.50,387.17 271.58,388.83 271.00,390.00 C270.42,391.17 269.33,392.33 268.00,393.00 C266.67,393.67 264.83,393.83 263.00,394.00 C261.17,394.17 258.50,394.17 257.00,394.00 C255.50,393.83 254.75,393.67 254.00,393.00 C253.25,392.33 252.58,391.00 252.50,390.00 C252.42,389.00 253.50,387.92 253.50,387.00 C253.50,386.08 252.67,385.33 252.50,384.50 C252.33,383.67 251.92,382.83 252.50,382.00 Z" fill="#2636a8" stroke="#1f1f94" stroke-width="1.3" />
<ellipse cx="264.00" cy="381.50" rx="7.80" ry="4.16" fill="#2c4fc4" transform="rotate(-8 264.00 381.50)"/>
<ellipse cx="264.00" cy="381.50" rx="6.30" ry="3.36" fill="#4cc4e4" transform="rotate(-8 264.00 381.50)"/>
<ellipse cx="264.00" cy="381.50" rx="4.68" ry="2.50" fill="#66bb3e" transform="rotate(-8 264.00 381.50)"/>
<ellipse cx="264.00" cy="381.50" rx="2.52" ry="1.34" fill="#ece42a" transform="rotate(-8 264.00 381.50)"/>
<ellipse cx="264.00" cy="381.50" rx="1.32" ry="0.70" fill="#f21c1c" transform="rotate(-8 264.00 381.50)"/>
<ellipse cx="265.80" cy="388.20" rx="5.85" ry="4.68" fill="#2c4fc4" transform="rotate(0 265.80 388.20)"/>
<ellipse cx="265.80" cy="388.20" rx="4.73" ry="3.78" fill="#4cc4e4" transform="rotate(0 265.80 388.20)"/>
<ellipse cx="265.80" cy="388.20" rx="3.51" ry="2.81" fill="#66bb3e" transform="rotate(0 265.80 388.20)"/>
<ellipse cx="265.80" cy="388.20" rx="1.89" ry="1.51" fill="#ece42a" transform="rotate(0 265.80 388.20)"/>
<ellipse cx="265.80" cy="388.20" rx="0.99" ry="0.79" fill="#f21c1c" transform="rotate(0 265.80 388.20)"/>
</g></g>
<line x1="250.50" y1="361.90" x2="250.50" y2="408.70" stroke="#6e6e6e" stroke-width="0.9" />
<line x1="229.40" y1="386.60" x2="277.20" y2="386.60" stroke="#6e6e6e" stroke-width="0.9" />
<rect x="250.50" y="373.30" width="23.10" height="33.70" fill="none" stroke="#ee2a2a" stroke-width="1.0" stroke-dasharray="2.2 1.6"/>
<rect x="229.40" y="361.90" width="47.80" height="46.80" fill="none" stroke="#8a8a8a" stroke-width="1.0" />
<text x="253.40" y="358.40" font-size="8.4" fill="#231f20" text-anchor="middle" textLength="37.30" lengthAdjust="spacingAndGlyphs" stroke="#231f20" stroke-width="0.12" >MIK 10nM</text>
<text x="230.00" y="416.60" font-size="7.6" fill="#2a2a2a" textLength="17.60" lengthAdjust="spacingAndGlyphs" stroke="#2a2a2a" stroke-width="0.1" >0.21%</text>
<text x="257.00" y="416.60" font-size="7.6" fill="#a8304e" textLength="17.90" lengthAdjust="spacingAndGlyphs" stroke="#a8304e" stroke-width="0.1" >99.7%</text>
<clipPath id="cf0"><rect x="26.60" y="443.20" width="47.80" height="46.00"/></clipPath>
<g clip-path="url(#cf0)"><g filter="url(#blE)">
<ellipse cx="36.50" cy="482.50" rx="10.00" ry="5.20" fill="#1f1f94" transform="rotate(-15 36.50 482.50)"/>
<ellipse cx="36.50" cy="482.50" rx="9.00" ry="4.68" fill="#2c4fc4" transform="rotate(-15 36.50 482.50)"/>
<ellipse cx="36.50" cy="482.50" rx="8.00" ry="4.16" fill="#4cc4e4" transform="rotate(-15 36.50 482.50)"/>
<ellipse cx="36.50" cy="482.50" rx="6.00" ry="3.12" fill="#66bb3e" transform="rotate(-15 36.50 482.50)"/>
<ellipse cx="36.50" cy="482.50" rx="3.60" ry="1.87" fill="#ece42a" transform="rotate(-15 36.50 482.50)"/>
<ellipse cx="36.50" cy="482.50" rx="1.90" ry="0.99" fill="#f21c1c" transform="rotate(-15 36.50 482.50)"/>
<path d="M43.00,478.00 C43.33,476.50 45.33,474.67 46.00,475.00 C46.67,475.33 47.33,478.50 47.00,480.00 C46.67,481.50 44.67,484.33 44.00,484.00 C43.33,483.67 42.67,479.50 43.00,478.00 Z" fill="#2636a8" stroke="#1f1f94" stroke-width="1.3" />
<path d="M44.50,468.00 C44.83,466.83 45.25,465.92 46.50,465.00 C47.75,464.08 50.08,463.25 52.00,462.50 C53.92,461.75 56.00,461.00 58.00,460.50 C60.00,460.00 62.58,459.50 64.00,459.50 C65.42,459.50 66.17,459.58 66.50,460.50 C66.83,461.42 65.92,463.75 66.00,465.00 C66.08,466.25 67.00,466.67 67.00,468.00 C67.00,469.33 66.83,471.50 66.00,473.00 C65.17,474.50 63.50,475.92 62.00,477.00 C60.50,478.08 58.50,478.92 57.00,479.50 C55.50,480.08 54.33,480.25 53.00,480.50 C51.67,480.75 50.08,481.17 49.00,481.00 C47.92,480.83 47.17,480.33 46.50,479.50 C45.83,478.67 45.33,477.25 45.00,476.00 C44.67,474.75 44.58,473.33 44.50,472.00 C44.42,470.67 44.17,469.17 44.50,468.00 Z" fill="#2636a8" stroke="#1f1f94" stroke-width="1.3" />
<ellipse cx="52.00" cy="470.50" rx="5.20" ry="3.90" fill="#2c4fc4" transform="rotate(0 52.00 470.50)"/>
<ellipse cx="52.00" cy="470.50" rx="4.20" ry="3.15" fill="#4cc4e4" transform="rotate(0 52.00 470.50)"/>
<ellipse cx="59.00" cy="465.00" rx="9.75" ry="3.90" fill="#2c4fc4" transform="rotate(-8 59.00 465.00)"/>
<ellipse cx="59.00" cy="465.00" rx="7.88" ry="3.15" fill="#4cc4e4" transform="rotate(-8 59.00 465.00)"/>
<ellipse cx="59.00" cy="465.00" rx="5.85" ry="2.34" fill="#66bb3e" transform="rotate(-8 59.00 465.00)"/>
<ellipse cx="59.00" cy="465.00" rx="3.15" ry="1.26" fill="#ece42a" transform="rotate(-8 59.00 465.00)"/>
<ellipse cx="59.00" cy="465.00" rx="1.65" ry="0.66" fill="#f21c1c" transform="rotate(-8 59.00 465.00)"/>
<ellipse cx="58.50" cy="472.30" rx="10.40" ry="4.94" fill="#2c4fc4" transform="rotate(-15 58.50 472.30)"/>
<ellipse cx="58.50" cy="472.30" rx="8.40" ry="3.99" fill="#4cc4e4" transform="rotate(-15 58.50 472.30)"/>
<ellipse cx="58.50" cy="472.30" rx="6.24" ry="2.96" fill="#66bb3e" transform="rotate(-15 58.50 472.30)"/>
<ellipse cx="58.50" cy="472.30" rx="3.36" ry="1.60" fill="#ece42a" transform="rotate(-15 58.50 472.30)"/>
</g></g>
<line x1="47.80" y1="443.20" x2="47.80" y2="489.20" stroke="#6e6e6e" stroke-width="0.9" />
<line x1="26.60" y1="468.80" x2="74.40" y2="468.80" stroke="#6e6e6e" stroke-width="0.9" />
<rect x="48.10" y="453.30" width="23.70" height="33.60" fill="none" stroke="#ee2a2a" stroke-width="1.0" stroke-dasharray="2.2 1.6"/>
<rect x="29.20" y="472.00" width="15.90" height="17.30" fill="none" stroke="#222" stroke-width="1.15" rx="1.5" stroke-dasharray="2.6 1.5"/>
<rect x="26.60" y="443.20" width="47.80" height="46.00" fill="none" stroke="#8a8a8a" stroke-width="1.0" />
<text x="50.80" y="439.80" font-size="8.4" fill="#231f20" text-anchor="middle" textLength="17.10" lengthAdjust="spacingAndGlyphs" stroke="#231f20" stroke-width="0.12" >Quiz</text>
<text x="27.70" y="497.10" font-size="7.6" fill="#2a2a2a" textLength="17.90" lengthAdjust="spacingAndGlyphs" stroke="#2a2a2a" stroke-width="0.1" >41.7%</text>
<text x="52.00" y="497.10" font-size="7.6" fill="#a8304e" textLength="18.40" lengthAdjust="spacingAndGlyphs" stroke="#a8304e" stroke-width="0.1" >58.2%</text>
<clipPath id="cf1"><rect x="77.40" y="443.20" width="47.80" height="46.00"/></clipPath>
<g clip-path="url(#cf1)"><g filter="url(#blE)">
<ellipse cx="85.50" cy="482.20" rx="7.00" ry="3.20" fill="#1f1f94" transform="rotate(-25 85.50 482.20)"/>
<ellipse cx="85.50" cy="482.20" rx="6.30" ry="2.88" fill="#2c4fc4" transform="rotate(-25 85.50 482.20)"/>
<ellipse cx="87.30" cy="481.40" rx="1.95" ry="1.30" fill="#2c4fc4" transform="rotate(0 87.30 481.40)"/>
<ellipse cx="87.30" cy="481.40" rx="1.58" ry="1.05" fill="#4cc4e4" transform="rotate(0 87.30 481.40)"/>
<path d="M96.50,465.00 C97.00,463.83 98.42,462.00 100.00,461.00 C101.58,460.00 104.00,459.58 106.00,459.00 C108.00,458.42 110.17,457.67 112.00,457.50 C113.83,457.33 115.83,457.42 117.00,458.00 C118.17,458.58 118.75,459.83 119.00,461.00 C119.25,462.17 118.42,463.83 118.50,465.00 C118.58,466.17 119.50,466.83 119.50,468.00 C119.50,469.17 119.25,470.83 118.50,472.00 C117.75,473.17 116.42,474.25 115.00,475.00 C113.58,475.75 111.33,476.08 110.00,476.50 C108.67,476.92 107.83,477.00 107.00,477.50 C106.17,478.00 105.42,479.50 105.00,479.50 C104.58,479.50 104.75,478.25 104.50,477.50 C104.25,476.75 104.25,475.58 103.50,475.00 C102.75,474.42 100.83,474.67 100.00,474.00 C99.17,473.33 99.00,472.00 98.50,471.00 C98.00,470.00 97.33,469.00 97.00,468.00 C96.67,467.00 96.00,466.17 96.50,465.00 Z" fill="#2636a8" stroke="#1f1f94" stroke-width="1.3" />
<ellipse cx="110.00" cy="463.00" rx="9.10" ry="4.16" fill="#2c4fc4" transform="rotate(-8 110.00 463.00)"/>
<ellipse cx="110.00" cy="463.00" rx="7.35" ry="3.36" fill="#4cc4e4" transform="rotate(-8 110.00 463.00)"/>
<ellipse cx="110.00" cy="463.00" rx="5.46" ry="2.50" fill="#66bb3e" transform="rotate(-8 110.00 463.00)"/>
<ellipse cx="110.00" cy="463.00" rx="2.94" ry="1.34" fill="#ece42a" transform="rotate(-8 110.00 463.00)"/>
<ellipse cx="110.00" cy="463.00" rx="1.54" ry="0.70" fill="#f21c1c" transform="rotate(-8 110.00 463.00)"/>
<ellipse cx="112.80" cy="470.40" rx="7.54" ry="4.42" fill="#2c4fc4" transform="rotate(-10 112.80 470.40)"/>
<ellipse cx="112.80" cy="470.40" rx="6.09" ry="3.57" fill="#4cc4e4" transform="rotate(-10 112.80 470.40)"/>
<ellipse cx="112.80" cy="470.40" rx="4.52" ry="2.65" fill="#66bb3e" transform="rotate(-10 112.80 470.40)"/>
<ellipse cx="112.80" cy="470.40" rx="2.44" ry="1.43" fill="#ece42a" transform="rotate(-10 112.80 470.40)"/>
<ellipse cx="112.80" cy="470.40" rx="1.28" ry="0.75" fill="#f21c1c" transform="rotate(-10 112.80 470.40)"/>
</g></g>
<line x1="98.60" y1="443.20" x2="98.60" y2="489.20" stroke="#6e6e6e" stroke-width="0.9" />
<line x1="77.40" y1="468.80" x2="125.20" y2="468.80" stroke="#6e6e6e" stroke-width="0.9" />
<rect x="98.90" y="453.30" width="23.50" height="33.60" fill="none" stroke="#ee2a2a" stroke-width="1.0" stroke-dasharray="2.2 1.6"/>
<rect x="78.60" y="471.20" width="16.00" height="17.20" fill="none" stroke="#222" stroke-width="1.15" rx="1.5" stroke-dasharray="2.6 1.5"/>
<rect x="77.40" y="443.20" width="47.80" height="46.00" fill="none" stroke="#8a8a8a" stroke-width="1.0" />
<text x="101.60" y="430.40" font-size="8.4" fill="#231f20" text-anchor="middle" textLength="17.10" lengthAdjust="spacingAndGlyphs" stroke="#231f20" stroke-width="0.12" >Quiz</text>
<text x="101.60" y="439.70" font-size="8.4" fill="#231f20" text-anchor="middle" textLength="45.80" lengthAdjust="spacingAndGlyphs" stroke="#231f20" stroke-width="0.12" >+MIK 0.1nM</text>
<text x="79.40" y="497.10" font-size="7.6" fill="#2a2a2a" textLength="14.30" lengthAdjust="spacingAndGlyphs" stroke="#2a2a2a" stroke-width="0.1" >4.6%</text>
<text x="103.00" y="497.10" font-size="7.6" fill="#a8304e" textLength="15.70" lengthAdjust="spacingAndGlyphs" stroke="#a8304e" stroke-width="0.1" >94.9%</text>
<clipPath id="cf2"><rect x="128.60" y="443.20" width="47.80" height="46.00"/></clipPath>
<g clip-path="url(#cf2)"><g filter="url(#blE)">
<path d="M149.00,464.50 C149.58,463.58 151.33,462.33 153.00,461.50 C154.67,460.67 157.00,460.00 159.00,459.50 C161.00,459.00 163.42,458.50 165.00,458.50 C166.58,458.50 167.83,458.58 168.50,459.50 C169.17,460.42 168.67,462.67 169.00,464.00 C169.33,465.33 170.42,466.17 170.50,467.50 C170.58,468.83 170.25,470.67 169.50,472.00 C168.75,473.33 167.42,474.75 166.00,475.50 C164.58,476.25 162.50,476.42 161.00,476.50 C159.50,476.58 158.00,476.42 157.00,476.00 C156.00,475.58 156.00,474.50 155.00,474.00 C154.00,473.50 151.92,473.67 151.00,473.00 C150.08,472.33 149.75,471.00 149.50,470.00 C149.25,469.00 149.58,467.92 149.50,467.00 C149.42,466.08 148.42,465.42 149.00,464.50 Z" fill="#2636a8" stroke="#1f1f94" stroke-width="1.3" />
<ellipse cx="161.00" cy="463.50" rx="9.75" ry="3.64" fill="#2c4fc4" transform="rotate(-5 161.00 463.50)"/>
<ellipse cx="161.00" cy="463.50" rx="7.88" ry="2.94" fill="#4cc4e4" transform="rotate(-5 161.00 463.50)"/>
<ellipse cx="161.00" cy="463.50" rx="5.85" ry="2.18" fill="#66bb3e" transform="rotate(-5 161.00 463.50)"/>
<ellipse cx="161.00" cy="463.50" rx="3.15" ry="1.18" fill="#ece42a" transform="rotate(-5 161.00 463.50)"/>
<ellipse cx="161.00" cy="463.50" rx="1.65" ry="0.62" fill="#f21c1c" transform="rotate(-5 161.00 463.50)"/>
<ellipse cx="163.00" cy="471.00" rx="7.54" ry="4.42" fill="#2c4fc4" transform="rotate(-5 163.00 471.00)"/>
<ellipse cx="163.00" cy="471.00" rx="6.09" ry="3.57" fill="#4cc4e4" transform="rotate(-5 163.00 471.00)"/>
<ellipse cx="163.00" cy="471.00" rx="4.52" ry="2.65" fill="#66bb3e" transform="rotate(-5 163.00 471.00)"/>
<ellipse cx="163.00" cy="471.00" rx="2.44" ry="1.43" fill="#ece42a" transform="rotate(-5 163.00 471.00)"/>
<ellipse cx="163.00" cy="471.00" rx="1.28" ry="0.75" fill="#f21c1c" transform="rotate(-5 163.00 471.00)"/>
</g></g>
<line x1="149.60" y1="443.20" x2="149.60" y2="489.20" stroke="#6e6e6e" stroke-width="0.9" />
<line x1="128.60" y1="468.80" x2="176.40" y2="468.80" stroke="#6e6e6e" stroke-width="0.9" />
<rect x="149.90" y="453.30" width="23.70" height="33.60" fill="none" stroke="#ee2a2a" stroke-width="1.0" stroke-dasharray="2.2 1.6"/>
<rect x="130.00" y="471.20" width="16.00" height="17.40" fill="none" stroke="#222" stroke-width="1.15" rx="1.5" stroke-dasharray="2.6 1.5"/>
<rect x="128.60" y="443.20" width="47.80" height="46.00" fill="none" stroke="#8a8a8a" stroke-width="1.0" />
<text x="152.80" y="430.40" font-size="8.4" fill="#231f20" text-anchor="middle" textLength="17.10" lengthAdjust="spacingAndGlyphs" stroke="#231f20" stroke-width="0.12" >Quiz</text>
<text x="152.80" y="439.70" font-size="8.4" fill="#231f20" text-anchor="middle" textLength="45.60" lengthAdjust="spacingAndGlyphs" stroke="#231f20" stroke-width="0.12" >+MIK 0.5nM</text>
<text x="130.50" y="497.10" font-size="7.6" fill="#2a2a2a" textLength="17.00" lengthAdjust="spacingAndGlyphs" stroke="#2a2a2a" stroke-width="0.1" >0.63%</text>
<text x="152.90" y="497.10" font-size="7.6" fill="#a8304e" textLength="18.10" lengthAdjust="spacingAndGlyphs" stroke="#a8304e" stroke-width="0.1" >99.1%</text>
<clipPath id="cf3"><rect x="179.30" y="443.20" width="47.80" height="46.00"/></clipPath>
<g clip-path="url(#cf3)"><g filter="url(#blE)">
<path d="M200.50,464.50 C201.25,463.58 203.42,462.75 205.00,462.00 C206.58,461.25 208.17,460.50 210.00,460.00 C211.83,459.50 214.58,458.92 216.00,459.00 C217.42,459.08 218.25,459.58 218.50,460.50 C218.75,461.42 217.42,463.25 217.50,464.50 C217.58,465.75 218.83,466.75 219.00,468.00 C219.17,469.25 219.00,470.83 218.50,472.00 C218.00,473.17 217.25,474.25 216.00,475.00 C214.75,475.75 212.50,476.33 211.00,476.50 C209.50,476.67 208.33,476.33 207.00,476.00 C205.67,475.67 204.00,475.08 203.00,474.50 C202.00,473.92 201.25,473.33 201.00,472.50 C200.75,471.67 201.58,470.33 201.50,469.50 C201.42,468.67 200.67,468.33 200.50,467.50 C200.33,466.67 199.75,465.42 200.50,464.50 Z" fill="#2636a8" stroke="#1f1f94" stroke-width="1.3" />
<ellipse cx="211.00" cy="463.60" rx="7.80" ry="3.64" fill="#2c4fc4" transform="rotate(-5 211.00 463.60)"/>
<ellipse cx="211.00" cy="463.60" rx="6.30" ry="2.94" fill="#4cc4e4" transform="rotate(-5 211.00 463.60)"/>
<ellipse cx="211.00" cy="463.60" rx="4.68" ry="2.18" fill="#66bb3e" transform="rotate(-5 211.00 463.60)"/>
<ellipse cx="211.00" cy="463.60" rx="2.52" ry="1.18" fill="#ece42a" transform="rotate(-5 211.00 463.60)"/>
<ellipse cx="211.00" cy="463.60" rx="1.32" ry="0.62" fill="#f21c1c" transform="rotate(-5 211.00 463.60)"/>
<ellipse cx="213.00" cy="471.00" rx="7.54" ry="4.42" fill="#2c4fc4" transform="rotate(-5 213.00 471.00)"/>
<ellipse cx="213.00" cy="471.00" rx="6.09" ry="3.57" fill="#4cc4e4" transform="rotate(-5 213.00 471.00)"/>
<ellipse cx="213.00" cy="471.00" rx="4.52" ry="2.65" fill="#66bb3e" transform="rotate(-5 213.00 471.00)"/>
<ellipse cx="213.00" cy="471.00" rx="2.44" ry="1.43" fill="#ece42a" transform="rotate(-5 213.00 471.00)"/>
<ellipse cx="213.00" cy="471.00" rx="1.28" ry="0.75" fill="#f21c1c" transform="rotate(-5 213.00 471.00)"/>
</g></g>
<line x1="199.60" y1="443.20" x2="199.60" y2="489.20" stroke="#6e6e6e" stroke-width="0.9" />
<line x1="179.30" y1="468.80" x2="227.10" y2="468.80" stroke="#6e6e6e" stroke-width="0.9" />
<rect x="199.90" y="453.30" width="24.40" height="33.60" fill="none" stroke="#ee2a2a" stroke-width="1.0" stroke-dasharray="2.2 1.6"/>
<rect x="179.60" y="471.00" width="16.40" height="17.60" fill="none" stroke="#222" stroke-width="1.15" rx="1.5" stroke-dasharray="2.6 1.5"/>
<rect x="179.30" y="443.20" width="47.80" height="46.00" fill="none" stroke="#8a8a8a" stroke-width="1.0" />
<text x="203.50" y="430.40" font-size="8.4" fill="#231f20" text-anchor="middle" textLength="17.10" lengthAdjust="spacingAndGlyphs" stroke="#231f20" stroke-width="0.12" >Quiz</text>
<text x="203.50" y="439.70" font-size="8.4" fill="#231f20" text-anchor="middle" textLength="38.80" lengthAdjust="spacingAndGlyphs" stroke="#231f20" stroke-width="0.12" >+MIK 1nM</text>
<text x="179.80" y="497.10" font-size="7.6" fill="#2a2a2a" textLength="17.40" lengthAdjust="spacingAndGlyphs" stroke="#2a2a2a" stroke-width="0.1" >0.19%</text>
<text x="203.80" y="497.10" font-size="7.6" fill="#a8304e" textLength="17.70" lengthAdjust="spacingAndGlyphs" stroke="#a8304e" stroke-width="0.1" >99.7%</text>
<clipPath id="cf4"><rect x="231.20" y="443.20" width="47.80" height="46.00"/></clipPath>
<g clip-path="url(#cf4)"><g filter="url(#blE)">
<path d="M252.00,462.50 C252.58,461.58 254.50,460.75 256.00,460.00 C257.50,459.25 259.17,458.58 261.00,458.00 C262.83,457.42 265.42,456.58 267.00,456.50 C268.58,456.42 269.75,456.75 270.50,457.50 C271.25,458.25 271.42,459.75 271.50,461.00 C271.58,462.25 270.92,463.67 271.00,465.00 C271.08,466.33 272.00,467.67 272.00,469.00 C272.00,470.33 271.67,472.08 271.00,473.00 C270.33,473.92 269.33,474.17 268.00,474.50 C266.67,474.83 264.67,475.08 263.00,475.00 C261.33,474.92 259.50,474.25 258.00,474.00 C256.50,473.75 254.83,474.00 254.00,473.50 C253.17,473.00 253.08,471.92 253.00,471.00 C252.92,470.08 253.58,468.92 253.50,468.00 C253.42,467.08 252.75,466.42 252.50,465.50 C252.25,464.58 251.42,463.42 252.00,462.50 Z" fill="#2636a8" stroke="#1f1f94" stroke-width="1.3" />
<ellipse cx="263.20" cy="462.00" rx="8.45" ry="3.64" fill="#2c4fc4" transform="rotate(-5 263.20 462.00)"/>
<ellipse cx="263.20" cy="462.00" rx="6.83" ry="2.94" fill="#4cc4e4" transform="rotate(-5 263.20 462.00)"/>
<ellipse cx="263.20" cy="462.00" rx="5.07" ry="2.18" fill="#66bb3e" transform="rotate(-5 263.20 462.00)"/>
<ellipse cx="263.20" cy="462.00" rx="2.73" ry="1.18" fill="#ece42a" transform="rotate(-5 263.20 462.00)"/>
<ellipse cx="263.20" cy="462.00" rx="1.43" ry="0.62" fill="#f21c1c" transform="rotate(-5 263.20 462.00)"/>
<ellipse cx="266.60" cy="468.60" rx="5.85" ry="5.20" fill="#2c4fc4" transform="rotate(0 266.60 468.60)"/>
<ellipse cx="266.60" cy="468.60" rx="4.73" ry="4.20" fill="#4cc4e4" transform="rotate(0 266.60 468.60)"/>
<ellipse cx="266.60" cy="468.60" rx="3.51" ry="3.12" fill="#66bb3e" transform="rotate(0 266.60 468.60)"/>
<ellipse cx="266.60" cy="468.60" rx="1.89" ry="1.68" fill="#ece42a" transform="rotate(0 266.60 468.60)"/>
<ellipse cx="266.60" cy="468.60" rx="0.99" ry="0.88" fill="#f21c1c" transform="rotate(0 266.60 468.60)"/>
</g></g>
<line x1="251.50" y1="443.20" x2="251.50" y2="489.20" stroke="#6e6e6e" stroke-width="0.9" />
<line x1="231.20" y1="468.80" x2="279.00" y2="468.80" stroke="#6e6e6e" stroke-width="0.9" />
<rect x="251.80" y="453.30" width="24.40" height="33.60" fill="none" stroke="#ee2a2a" stroke-width="1.0" stroke-dasharray="2.2 1.6"/>
<rect x="232.00" y="470.80" width="15.60" height="17.60" fill="none" stroke="#222" stroke-width="1.15" rx="1.5" stroke-dasharray="2.6 1.5"/>
<rect x="231.20" y="443.20" width="47.80" height="46.00" fill="none" stroke="#8a8a8a" stroke-width="1.0" />
<text x="255.40" y="430.40" font-size="8.4" fill="#231f20" text-anchor="middle" textLength="17.10" lengthAdjust="spacingAndGlyphs" stroke="#231f20" stroke-width="0.12" >Quiz</text>
<text x="255.40" y="439.70" font-size="8.4" fill="#231f20" text-anchor="middle" textLength="43.30" lengthAdjust="spacingAndGlyphs" stroke="#231f20" stroke-width="0.12" >+MIK 10nM</text>
<text x="232.70" y="497.10" font-size="7.6" fill="#2a2a2a" textLength="17.70" lengthAdjust="spacingAndGlyphs" stroke="#2a2a2a" stroke-width="0.1" >0.39%</text>
<text x="257.30" y="497.10" font-size="7.6" fill="#a8304e" textLength="18.10" lengthAdjust="spacingAndGlyphs" stroke="#a8304e" stroke-width="0.1" >99.5%</text>
<text x="348.90" y="358.20" font-size="8.2" fill="#231f20" textLength="99.30" lengthAdjust="spacingAndGlyphs" stroke="#231f20" stroke-width="0.3" >Average Synergy: 22.29 (ZIP)</text>
<text x="343.00" y="369.10" font-size="7.8" fill="#231f20" textLength="10.80" lengthAdjust="spacingAndGlyphs" stroke="#231f20" stroke-width="0.3" >-60</text>
<text x="359.90" y="369.10" font-size="7.8" fill="#231f20" textLength="10.80" lengthAdjust="spacingAndGlyphs" stroke="#231f20" stroke-width="0.3" >-40</text>
<text x="376.70" y="369.10" font-size="7.8" fill="#231f20" textLength="10.50" lengthAdjust="spacingAndGlyphs" stroke="#231f20" stroke-width="0.3" >-20</text>
<text x="396.60" y="369.10" font-size="7.8" fill="#231f20" textLength="4.20" lengthAdjust="spacingAndGlyphs" stroke="#231f20" stroke-width="0.3" >0</text>
<text x="410.90" y="369.10" font-size="7.8" fill="#231f20" textLength="8.30" lengthAdjust="spacingAndGlyphs" stroke="#231f20" stroke-width="0.3" >20</text>
<text x="427.00" y="369.10" font-size="7.8" fill="#231f20" textLength="8.40" lengthAdjust="spacingAndGlyphs" stroke="#231f20" stroke-width="0.3" >40</text>
<text x="444.50" y="369.10" font-size="7.8" fill="#231f20" textLength="8.60" lengthAdjust="spacingAndGlyphs" stroke="#231f20" stroke-width="0.3" >60</text>
<rect x="342.30" y="371.70" width="113.60" height="1.30" fill="url(#cbar)" />
<line x1="407.30" y1="376.70" x2="406.50" y2="450.00" stroke="#555" stroke-width="0.7" stroke-dasharray="1 1.4"/>
<line x1="325.10" y1="398.10" x2="407.30" y2="376.70" stroke="#3a3a3a" stroke-width="0.8" />
<line x1="407.30" y1="376.70" x2="461.70" y2="416.30" stroke="#3a3a3a" stroke-width="0.8" />
<g stroke-width="0.22"><path d="M406.9,417.3L408.3,416.9L406.9,415.7L405.5,416.1Z" fill="#f8f0f0" stroke="#c6c0c0"/><path d="M405.5,417.7L406.9,417.3L405.5,416.1L404.1,416.5Z" fill="#f8f0f0" stroke="#c6c0c0"/><path d="M404.1,418.1L405.5,417.7L404.1,416.5L402.7,416.9Z" fill="#f8f0f0" stroke="#c6c0c0"/><path d="M402.7,418.5L404.1,418.1L402.7,416.9L401.3,417.3Z" fill="#f8f0f0" stroke="#c6c0c0"/><path d="M401.3,418.9L402.7,418.5L401.3,417.3L399.9,417.7Z" fill="#f8f0f0" stroke="#c6c0c0"/><path d="M399.9,419.3L401.3,418.9L399.9,417.7L398.5,418.1Z" fill="#f8f0f0" stroke="#c6c0c0"/><path d="M398.5,419.7L399.9,419.3L398.5,418.1L397.1,418.5Z" fill="#f8f0f0" stroke="#c6c0c0"/><path d="M397.1,420.1L398.5,419.7L397.1,418.5L395.8,418.9Z" fill="#f8f0f0" stroke="#c6c0c0"/><path d="M395.7,420.5L397.1,420.1L395.8,418.9L394.4,419.3Z" fill="#f8f0f0" stroke="#c6c0c0"/><path d="M394.3,420.9L395.7,420.5L394.4,419.3L393.0,419.7Z" fill="#f8f0f0" stroke="#c6c0c0"/><path d="M392.9,421.2L394.3,420.9L393.0,419.7L391.6,420.1Z" fill="#f8f0f0" stroke="#c6c0c0"/><path d="M391.5,421.4L392.9,421.2L391.6,420.1L390.2,420.4Z" fill="#f8efef" stroke="#c6bfbf"/><path d="M390.1,421.3L391.5,421.4L390.2,420.4L388.8,420.5Z" fill="#f8eded" stroke="#c6bdbd"/><path d="M388.7,420.3L390.1,421.3L388.8,420.5L387.4,420.2Z" fill="#f8e8e8" stroke="#c6baba"/><path d="M387.3,417.6L388.7,420.3L387.4,420.2L386.0,418.8Z" fill="#f7dcdc" stroke="#c5b0b0"/><path d="M385.8,412.0L387.3,417.6L386.0,418.8L384.5,415.3Z" fill="#f6bfbf" stroke="#a27e7e"/><path d="M384.2,404.0L385.8,412.0L384.5,415.3L382.9,408.9Z" fill="#f77d7d" stroke="#9d5050"/><path d="M382.6,397.1L384.2,404.0L382.9,408.9L381.3,400.9Z" fill="#fe1919" stroke="#900e0e"/><path d="M381.0,393.5L382.6,397.1L381.3,400.9L379.7,395.0Z" fill="#ff0606" stroke="#8a0303"/><path d="M379.6,392.8L381.0,393.5L379.7,395.0L378.2,392.5Z" fill="#ff0505" stroke="#8a0303"/><path d="M378.1,393.8L379.6,392.8L378.2,392.5L376.7,392.7Z" fill="#ff0505" stroke="#8a0303"/><path d="M376.7,395.7L378.1,393.8L376.7,392.7L375.3,394.3Z" fill="#ff0505" stroke="#8a0303"/><path d="M375.3,398.2L376.7,395.7L375.3,394.3L373.9,396.6Z" fill="#ff0606" stroke="#8a0303"/><path d="M373.9,401.0L375.3,398.2L373.9,396.6L372.6,399.4Z" fill="#ff0606" stroke="#8a0303"/><path d="M372.6,404.0L373.9,401.0L372.6,399.4L371.2,402.4Z" fill="#ff0606" stroke="#8a0303"/><path d="M371.2,406.9L372.6,404.0L371.2,402.4L369.9,405.4Z" fill="#ff0f0f" stroke="#8e0909"/><path d="M369.9,409.6L371.2,406.9L369.9,405.4L368.6,408.2Z" fill="#fd2525" stroke="#931616"/><path d="M368.6,412.2L369.9,409.6L368.6,408.2L367.2,410.7Z" fill="#fb4545" stroke="#962a2a"/><path d="M367.2,414.4L368.6,412.2L367.2,410.7L365.9,412.9Z" fill="#f96060" stroke="#993b3b"/><path d="M365.9,416.3L367.2,414.4L365.9,412.9L364.6,414.9Z" fill="#f77575" stroke="#9c4a4a"/><path d="M364.5,418.0L365.9,416.3L364.6,414.9L363.2,416.6Z" fill="#f68787" stroke="#9f5757"/><path d="M363.2,419.5L364.5,418.0L363.2,416.6L361.8,418.1Z" fill="#f59696" stroke="#a16262"/><path d="M361.8,420.9L363.2,419.5L361.8,418.1L360.5,419.5Z" fill="#f5a1a1" stroke="#a26a6a"/><path d="M360.4,422.1L361.8,420.9L360.5,419.5L359.1,420.7Z" fill="#f5a9a9" stroke="#a27070"/><path d="M359.0,423.3L360.4,422.1L359.1,420.7L357.8,421.9Z" fill="#f5b0b0" stroke="#a27474"/><path d="M357.7,424.3L359.0,423.3L357.8,421.9L356.4,423.0Z" fill="#f6b7b7" stroke="#a27979"/><path d="M356.3,425.4L357.7,424.3L356.4,423.0L355.0,424.0Z" fill="#f6bdbd" stroke="#a27d7d"/><path d="M354.9,426.4L356.3,425.4L355.0,424.0L353.7,425.0Z" fill="#f6c3c3" stroke="#a28181"/><path d="M353.6,427.3L354.9,426.4L353.7,425.0L352.3,425.9Z" fill="#f6c8c8" stroke="#c5a0a0"/><path d="M352.2,428.2L353.6,427.3L352.3,425.9L350.9,426.8Z" fill="#f6cdcd" stroke="#c5a4a4"/><path d="M350.8,429.1L352.2,428.2L350.9,426.8L349.6,427.7Z" fill="#f6d0d0" stroke="#c5a7a7"/><path d="M349.4,429.9L350.8,429.1L349.6,427.7L348.2,428.6Z" fill="#f6d3d3" stroke="#c5a9a9"/><path d="M348.1,430.8L349.4,429.9L348.2,428.6L346.8,429.4Z" fill="#f7d6d6" stroke="#c5abab"/><path d="M346.7,431.6L348.1,430.8L346.8,429.4L345.5,430.2Z" fill="#f7d9d9" stroke="#c5aeae"/><path d="M345.3,432.3L346.7,431.6L345.5,430.2L344.1,431.0Z" fill="#f7dbdb" stroke="#c5afaf"/><path d="M344.0,433.1L345.3,432.3L344.1,431.0L342.7,431.7Z" fill="#f7dede" stroke="#c6b1b1"/><path d="M342.6,433.8L344.0,433.1L342.7,431.7L341.4,432.4Z" fill="#f7e0e0" stroke="#c6b3b3"/><path d="M341.2,434.5L342.6,433.8L341.4,432.4L340.0,433.1Z" fill="#f7e2e2" stroke="#c6b5b5"/><path d="M339.8,435.1L341.2,434.5L340.0,433.1L338.6,433.8Z" fill="#f7e3e3" stroke="#c6b6b6"/><path d="M338.4,435.8L339.8,435.1L338.6,433.8L337.2,434.4Z" fill="#f7e5e5" stroke="#c6b7b7"/><path d="M337.1,436.4L338.4,435.8L337.2,434.4L335.9,435.0Z" fill="#f7e7e7" stroke="#c6b8b8"/><path d="M335.7,437.0L337.1,436.4L335.9,435.0L334.5,435.6Z" fill="#f8e8e8" stroke="#c6b9b9"/><path d="M334.3,437.6L335.7,437.0L334.5,435.6L333.1,436.2Z" fill="#f8e9e9" stroke="#c6baba"/><path d="M332.9,438.4L334.3,437.6L333.1,436.2L331.8,437.0Z" fill="#f8ebeb" stroke="#c6bcbc"/><path d="M331.6,439.1L332.9,438.4L331.8,437.0L330.4,437.8Z" fill="#f8eded" stroke="#c6bebe"/><path d="M330.2,439.8L331.6,439.1L330.4,437.8L329.0,438.4Z" fill="#f8efef" stroke="#c6bfbf"/><path d="M408.3,418.5L409.7,418.1L408.3,416.9L406.9,417.3Z" fill="#f8f0f0" stroke="#c6c0c0"/><path d="M406.9,418.9L408.3,418.5L406.9,417.3L405.5,417.7Z" fill="#f8f0f0" stroke="#c6c0c0"/><path d="M405.5,419.3L406.9,418.9L405.5,417.7L404.1,418.1Z" fill="#f8f0f0" stroke="#c6c0c0"/><path d="M404.1,419.7L405.5,419.3L404.1,418.1L402.7,418.5Z" fill="#f8f0f0" stroke="#c6c0c0"/><path d="M402.7,420.1L404.1,419.7L402.7,418.5L401.3,418.9Z" fill="#f8f0f0" stroke="#c6c0c0"/><path d="M401.3,420.5L402.7,420.1L401.3,418.9L399.9,419.3Z" fill="#f8f0f0" stroke="#c6c0c0"/><path d="M399.9,420.9L401.3,420.5L399.9,419.3L398.5,419.7Z" fill="#f8f0f0" stroke="#c6c0c0"/><path d="M398.5,421.3L399.9,420.9L398.5,419.7L397.1,420.1Z" fill="#f8f0f0" stroke="#c6c0c0"/><path d="M397.1,421.7L398.5,421.3L397.1,420.1L395.7,420.5Z" fill="#f8f0f0" stroke="#c6c0c0"/><path d="M395.7,422.1L397.1,421.7L395.7,420.5L394.3,420.9Z" fill="#f8f0f0" stroke="#c6c0c0"/><path d="M394.3,422.3L395.7,422.1L394.3,420.9L392.9,421.2Z" fill="#f8efef" stroke="#c6bfbf"/><path d="M392.9,422.3L394.3,422.3L392.9,421.2L391.5,421.4Z" fill="#f8eeee" stroke="#c6bebe"/><path d="M391.5,421.7L392.9,422.3L391.5,421.4L390.1,421.3Z" fill="#f8eaea" stroke="#c6bbbb"/><path d="M390.1,419.6L391.5,421.7L390.1,421.3L388.7,420.3Z" fill="#f7e1e1" stroke="#c6b4b4"/><path d="M388.6,414.9L390.1,419.6L388.7,420.3L387.3,417.6Z" fill="#f6cccc" stroke="#c5a3a3"/><path d="M387.0,407.4L388.6,414.9L387.3,417.6L385.8,412.0Z" fill="#f59797" stroke="#a16363"/><path d="M385.5,399.7L387.0,407.4L385.8,412.0L384.2,404.0Z" fill="#fc3434" stroke="#941e1e"/><path d="M383.9,394.9L385.5,399.7L384.2,404.0L382.6,397.1Z" fill="#ff0606" stroke="#8a0303"/><path d="M382.4,393.3L383.9,394.9L382.6,397.1L381.0,393.5Z" fill="#ff0505" stroke="#8a0303"/><path d="M380.9,393.7L382.4,393.3L381.0,393.5L379.6,392.8Z" fill="#ff0505" stroke="#8a0303"/><path d="M379.5,395.1L380.9,393.7L379.6,392.8L378.1,393.8Z" fill="#ff0505" stroke="#8a0303"/><path d="M378.1,397.2L379.5,395.1L378.1,393.8L376.7,395.7Z" fill="#ff0505" stroke="#8a0303"/><path d="M376.7,399.7L378.1,397.2L376.7,395.7L375.3,398.2Z" fill="#ff0606" stroke="#8a0303"/><path d="M375.3,402.6L376.7,399.7L375.3,398.2L373.9,401.0Z" fill="#ff0606" stroke="#8a0303"/><path d="M374.0,405.5L375.3,402.6L373.9,401.0L372.6,404.0Z" fill="#ff0606" stroke="#8a0303"/><path d="M372.6,408.4L374.0,405.5L372.6,404.0L371.2,406.9Z" fill="#ff1212" stroke="#8e0a0a"/><path d="M371.3,411.1L372.6,408.4L371.2,406.9L369.9,409.6Z" fill="#fd2929" stroke="#931818"/><path d="M369.9,413.6L371.3,411.1L369.9,409.6L368.6,412.2Z" fill="#fa4949" stroke="#972c2c"/><path d="M368.5,415.8L369.9,413.6L368.6,412.2L367.2,414.4Z" fill="#f86363" stroke="#9a3d3d"/><path d="M367.2,417.8L368.5,415.8L367.2,414.4L365.9,416.3Z" fill="#f77878" stroke="#9d4c4c"/><path d="M365.8,419.5L367.2,417.8L365.9,416.3L364.5,418.0Z" fill="#f68989" stroke="#9f5959"/><path d="M364.5,421.0L365.8,419.5L364.5,418.0L363.2,419.5Z" fill="#f59898" stroke="#a16464"/><path d="M363.1,422.3L364.5,421.0L363.2,419.5L361.8,420.9Z" fill="#f5a2a2" stroke="#a26b6b"/><path d="M361.7,423.5L363.1,422.3L361.8,420.9L360.4,422.1Z" fill="#f5aaaa" stroke="#a27070"/><path d="M360.3,424.7L361.7,423.5L360.4,422.1L359.0,423.3Z" fill="#f5b2b2" stroke="#a27575"/><path d="M359.0,425.7L360.3,424.7L359.0,423.3L357.7,424.3Z" fill="#f6b8b8" stroke="#a27a7a"/><path d="M357.6,426.8L359.0,425.7L357.7,424.3L356.3,425.4Z" fill="#f6bebe" stroke="#a27e7e"/><path d="M356.2,427.7L357.6,426.8L356.3,425.4L354.9,426.4Z" fill="#f6c4c4" stroke="#c59d9d"/><path d="M354.8,428.7L356.2,427.7L354.9,426.4L353.6,427.3Z" fill="#f6c9c9" stroke="#c5a1a1"/><path d="M353.4,429.6L354.8,428.7L353.6,427.3L352.2,428.2Z" fill="#f6cece" stroke="#c5a4a4"/><path d="M352.1,430.5L353.4,429.6L352.2,428.2L350.8,429.1Z" fill="#f6d1d1" stroke="#c5a7a7"/><path d="M350.7,431.3L352.1,430.5L350.8,429.1L349.4,429.9Z" fill="#f6d4d4" stroke="#c5a9a9"/><path d="M349.3,432.1L350.7,431.3L349.4,429.9L348.1,430.8Z" fill="#f7d7d7" stroke="#c5acac"/><path d="M347.9,432.9L349.3,432.1L348.1,430.8L346.7,431.6Z" fill="#f7d9d9" stroke="#c5aeae"/><path d="M346.6,433.7L347.9,432.9L346.7,431.6L345.3,432.3Z" fill="#f7dcdc" stroke="#c5b0b0"/><path d="M345.2,434.5L346.6,433.7L345.3,432.3L344.0,433.1Z" fill="#f7dede" stroke="#c6b2b2"/><path d="M343.8,435.2L345.2,434.5L344.0,433.1L342.6,433.8Z" fill="#f7e0e0" stroke="#c6b3b3"/><path d="M342.4,435.9L343.8,435.2L342.6,433.8L341.2,434.5Z" fill="#f7e2e2" stroke="#c6b5b5"/><path d="M341.0,436.5L342.4,435.9L341.2,434.5L339.8,435.1Z" fill="#f7e4e4" stroke="#c6b6b6"/><path d="M339.7,437.2L341.0,436.5L339.8,435.1L338.4,435.8Z" fill="#f7e5e5" stroke="#c6b7b7"/><path d="M338.3,437.8L339.7,437.2L338.4,435.8L337.1,436.4Z" fill="#f7e7e7" stroke="#c6b9b9"/><path d="M336.9,438.4L338.3,437.8L337.1,436.4L335.7,437.0Z" fill="#f8e8e8" stroke="#c6baba"/><path d="M335.5,438.9L336.9,438.4L335.7,437.0L334.3,437.6Z" fill="#f8e9e9" stroke="#c6baba"/><path d="M334.1,439.7L335.5,438.9L334.3,437.6L332.9,438.4Z" fill="#f8ebeb" stroke="#c6bcbc"/><path d="M332.8,440.5L334.1,439.7L332.9,438.4L331.6,439.1Z" fill="#f8eded" stroke="#c6bebe"/><path d="M331.4,441.2L332.8,440.5L331.6,439.1L330.2,439.8Z" fill="#f8efef" stroke="#c6bfbf"/><path d="M409.7,419.7L411.1,419.2L409.7,418.1L408.3,418.5Z" fill="#f8f0f0" stroke="#c6c0c0"/><path d="M408.3,420.1L409.7,419.7L408.3,418.5L406.9,418.9Z" fill="#f8f0f0" stroke="#c6c0c0"/><path d="M406.9,420.5L408.3,420.1L406.9,418.9L405.5,419.3Z" fill="#f8f0f0" stroke="#c6c0c0"/><path d="M405.5,420.9L406.9,420.5L405.5,419.3L404.1,419.7Z" fill="#f8f0f0" stroke="#c6c0c0"/><path d="M404.1,421.3L405.5,420.9L404.1,419.7L402.7,420.1Z" fill="#f8f0f0" stroke="#c6c0c0"/><path d="M402.7,421.7L404.1,421.3L402.7,420.1L401.3,420.5Z" fill="#f8f0f0" stroke="#c6c0c0"/><path d="M401.3,422.1L402.7,421.7L401.3,420.5L399.9,420.9Z" fill="#f8f0f0" stroke="#c6c0c0"/><path d="M399.9,422.5L401.3,422.1L399.9,420.9L398.5,421.3Z" fill="#f8f0f0" stroke="#c6c0c0"/><path d="M398.5,422.9L399.9,422.5L398.5,421.3L397.1,421.7Z" fill="#f8f0f0" stroke="#c6c0c0"/><path d="M397.1,423.2L398.5,422.9L397.1,421.7L395.7,422.1Z" fill="#f8efef" stroke="#c6bfbf"/><path d="M395.7,423.3L397.1,423.2L395.7,422.1L394.3,422.3Z" fill="#f8eeee" stroke="#c6bfbf"/><path d="M394.2,422.9L395.7,423.3L394.3,422.3L392.9,422.3Z" fill="#f8ebeb" stroke="#c6bcbc"/><path d="M392.8,421.4L394.2,422.9L392.9,422.3L391.5,421.7Z" fill="#f7e4e4" stroke="#c6b7b7"/><path d="M391.4,417.5L392.8,421.4L391.5,421.7L390.1,419.6Z" fill="#f6d4d4" stroke="#c5aaaa"/><path d="M389.9,410.7L391.4,417.5L390.1,419.6L388.6,414.9Z" fill="#f5aaaa" stroke="#a27070"/><path d="M388.3,402.7L389.9,410.7L388.6,414.9L387.0,407.4Z" fill="#f95555" stroke="#983434"/><path d="M386.8,396.8L388.3,402.7L387.0,407.4L385.5,399.7Z" fill="#ff0606" stroke="#8a0303"/><path d="M385.3,394.3L386.8,396.8L385.5,399.7L383.9,394.9Z" fill="#ff0606" stroke="#8a0303"/><path d="M383.8,394.0L385.3,394.3L383.9,394.9L382.4,393.3Z" fill="#ff0505" stroke="#8a0303"/><path d="M382.3,395.0L383.8,394.0L382.4,393.3L380.9,393.7Z" fill="#ff0505" stroke="#8a0303"/><path d="M380.9,396.6L382.3,395.0L380.9,393.7L379.5,395.1Z" fill="#ff0505" stroke="#8a0303"/><path d="M379.5,398.8L380.9,396.6L379.5,395.1L378.1,397.2Z" fill="#ff0505" stroke="#8a0303"/><path d="M378.1,401.3L379.5,398.8L378.1,397.2L376.7,399.7Z" fill="#ff0606" stroke="#8a0303"/><path d="M376.7,404.1L378.1,401.3L376.7,399.7L375.3,402.6Z" fill="#ff0606" stroke="#8a0303"/><path d="M375.3,407.0L376.7,404.1L375.3,402.6L374.0,405.5Z" fill="#ff0606" stroke="#8a0303"/><path d="M374.0,409.9L375.3,407.0L374.0,405.5L372.6,408.4Z" fill="#fe1414" stroke="#8f0b0b"/><path d="M372.6,412.6L374.0,409.9L372.6,408.4L371.3,411.1Z" fill="#fd2d2d" stroke="#931a1a"/><path d="M371.2,415.1L372.6,412.6L371.3,411.1L369.9,413.6Z" fill="#fa4c4c" stroke="#972e2e"/><path d="M369.9,417.3L371.2,415.1L369.9,413.6L368.5,415.8Z" fill="#f86666" stroke="#9a3f3f"/><path d="M368.5,419.2L369.9,417.3L368.5,415.8L367.2,417.8Z" fill="#f77a7a" stroke="#9d4d4d"/><path d="M367.1,420.9L368.5,419.2L367.2,417.8L365.8,419.5Z" fill="#f68b8b" stroke="#9f5a5a"/><path d="M365.8,422.4L367.1,420.9L365.8,419.5L364.5,421.0Z" fill="#f59999" stroke="#a16565"/><path d="M364.4,423.7L365.8,422.4L364.5,421.0L363.1,422.3Z" fill="#f5a3a3" stroke="#a26c6c"/><path d="M363.0,424.9L364.4,423.7L363.1,422.3L361.7,423.5Z" fill="#f5abab" stroke="#a27171"/><path d="M361.6,426.1L363.0,424.9L361.7,423.5L360.3,424.7Z" fill="#f5b3b3" stroke="#a27676"/><path d="M360.2,427.1L361.6,426.1L360.3,424.7L359.0,425.7Z" fill="#f6b9b9" stroke="#a27a7a"/><path d="M358.9,428.2L360.2,427.1L359.0,425.7L357.6,426.8Z" fill="#f6bfbf" stroke="#a27e7e"/><path d="M357.5,429.1L358.9,428.2L357.6,426.8L356.2,427.7Z" fill="#f6c5c5" stroke="#c59d9d"/><path d="M356.1,430.1L357.5,429.1L356.2,427.7L354.8,428.7Z" fill="#f6caca" stroke="#c5a1a1"/><path d="M354.7,431.0L356.1,430.1L354.8,428.7L353.4,429.6Z" fill="#f6cece" stroke="#c5a5a5"/><path d="M353.3,431.8L354.7,431.0L353.4,429.6L352.1,430.5Z" fill="#f6d1d1" stroke="#c5a7a7"/><path d="M351.9,432.7L353.3,431.8L352.1,430.5L350.7,431.3Z" fill="#f6d4d4" stroke="#c5aaaa"/><path d="M350.6,433.5L351.9,432.7L350.7,431.3L349.3,432.1Z" fill="#f7d7d7" stroke="#c5acac"/><path d="M349.2,434.3L350.6,433.5L349.3,432.1L347.9,432.9Z" fill="#f7dada" stroke="#c5aeae"/><path d="M347.8,435.1L349.2,434.3L347.9,432.9L346.6,433.7Z" fill="#f7dcdc" stroke="#c5b0b0"/><path d="M346.4,435.8L347.8,435.1L346.6,433.7L345.2,434.5Z" fill="#f7dede" stroke="#c6b2b2"/><path d="M345.0,436.5L346.4,435.8L345.2,434.5L343.8,435.2Z" fill="#f7e0e0" stroke="#c6b3b3"/><path d="M343.6,437.2L345.0,436.5L343.8,435.2L342.4,435.9Z" fill="#f7e2e2" stroke="#c6b5b5"/><path d="M342.2,437.9L343.6,437.2L342.4,435.9L341.0,436.5Z" fill="#f7e4e4" stroke="#c6b6b6"/><path d="M340.9,438.5L342.2,437.9L341.0,436.5L339.7,437.2Z" fill="#f7e5e5" stroke="#c6b8b8"/><path d="M339.5,439.2L340.9,438.5L339.7,437.2L338.3,437.8Z" fill="#f7e7e7" stroke="#c6b9b9"/><path d="M338.1,439.7L339.5,439.2L338.3,437.8L336.9,438.4Z" fill="#f8e8e8" stroke="#c6baba"/><path d="M336.7,440.3L338.1,439.7L336.9,438.4L335.5,438.9Z" fill="#f8e9e9" stroke="#c6bbbb"/><path d="M335.3,441.1L336.7,440.3L335.5,438.9L334.1,439.7Z" fill="#f8ebeb" stroke="#c6bcbc"/><path d="M333.9,441.9L335.3,441.1L334.1,439.7L332.8,440.5Z" fill="#f8eded" stroke="#c6bebe"/><path d="M332.6,442.5L333.9,441.9L332.8,440.5L331.4,441.2Z" fill="#f8efef" stroke="#c6bfbf"/><path d="M411.1,420.8L412.5,420.4L411.1,419.2L409.7,419.7Z" fill="#f8f0f0" stroke="#c6c0c0"/><path d="M409.7,421.3L411.1,420.8L409.7,419.7L408.3,420.1Z" fill="#f8f0f0" stroke="#c6c0c0"/><path d="M408.3,421.7L409.7,421.3L408.3,420.1L406.9,420.5Z" fill="#f8f0f0" stroke="#c6c0c0"/><path d="M406.9,422.1L408.3,421.7L406.9,420.5L405.5,420.9Z" fill="#f8f0f0" stroke="#c6c0c0"/><path d="M405.5,422.5L406.9,422.1L405.5,420.9L404.1,421.3Z" fill="#f8f0f0" stroke="#c6c0c0"/><path d="M404.0,422.9L405.5,422.5L404.1,421.3L402.7,421.7Z" fill="#f8f0f0" stroke="#c6c0c0"/><path d="M402.6,423.3L404.0,422.9L402.7,421.7L401.3,422.1Z" fill="#f8f0f0" stroke="#c6c0c0"/><path d="M401.2,423.7L402.6,423.3L401.3,422.1L399.9,422.5Z" fill="#f8f0f0" stroke="#c6c0c0"/><path d="M399.8,424.0L401.2,423.7L399.9,422.5L398.5,422.9Z" fill="#f8efef" stroke="#c6c0c0"/><path d="M398.4,424.2L399.8,424.0L398.5,422.9L397.1,423.2Z" fill="#f8efef" stroke="#c6bfbf"/><path d="M397.0,424.0L398.4,424.2L397.1,423.2L395.7,423.3Z" fill="#f8ecec" stroke="#c6bdbd"/><path d="M395.6,422.9L397.0,424.0L395.7,423.3L394.2,422.9Z" fill="#f7e7e7" stroke="#c6b9b9"/><path d="M394.2,419.9L395.6,422.9L394.2,422.9L392.8,421.4Z" fill="#f7dada" stroke="#c5afaf"/><path d="M392.7,413.9L394.2,419.9L392.8,421.4L391.4,417.5Z" fill="#f6baba" stroke="#a27b7b"/><path d="M391.2,405.9L392.7,413.9L391.4,417.5L389.9,410.7Z" fill="#f87272" stroke="#9c4848"/><path d="M389.7,399.2L391.2,405.9L389.9,410.7L388.3,402.7Z" fill="#ff1212" stroke="#8e0a0a"/><path d="M388.2,395.6L389.7,399.2L388.3,402.7L386.8,396.8Z" fill="#ff0606" stroke="#8a0303"/><path d="M386.7,394.7L388.2,395.6L386.8,396.8L385.3,394.3Z" fill="#ff0505" stroke="#8a0303"/><path d="M385.2,395.2L386.7,394.7L385.3,394.3L383.8,394.0Z" fill="#ff0505" stroke="#8a0303"/><path d="M383.8,396.4L385.2,395.2L383.8,394.0L382.3,395.0Z" fill="#ff0505" stroke="#8a0303"/><path d="M382.3,398.2L383.8,396.4L382.3,395.0L380.9,396.6Z" fill="#ff0505" stroke="#8a0303"/><path d="M380.9,400.4L382.3,398.2L380.9,396.6L379.5,398.8Z" fill="#ff0505" stroke="#8a0303"/><path d="M379.5,402.9L380.9,400.4L379.5,398.8L378.1,401.3Z" fill="#ff0606" stroke="#8a0303"/><path d="M378.1,405.7L379.5,402.9L378.1,401.3L376.7,404.1Z" fill="#ff0606" stroke="#8a0303"/><path d="M376.7,408.6L378.1,405.7L376.7,404.1L375.3,407.0Z" fill="#ff0606" stroke="#8a0303"/><path d="M375.3,411.4L376.7,408.6L375.3,407.0L374.0,409.9Z" fill="#fe1616" stroke="#900d0d"/><path d="M373.9,414.1L375.3,411.4L374.0,409.9L372.6,412.6Z" fill="#fc3131" stroke="#941d1d"/><path d="M372.6,416.6L373.9,414.1L372.6,412.6L371.2,415.1Z" fill="#fa5050" stroke="#973030"/><path d="M371.2,418.7L372.6,416.6L371.2,415.1L369.9,417.3Z" fill="#f86868" stroke="#9a4141"/><path d="M369.8,420.6L371.2,418.7L369.9,417.3L368.5,419.2Z" fill="#f77c7c" stroke="#9d4f4f"/><path d="M368.4,422.3L369.8,420.6L368.5,419.2L367.1,420.9Z" fill="#f68d8d" stroke="#a05c5c"/><path d="M367.1,423.8L368.4,422.3L367.1,420.9L365.8,422.4Z" fill="#f59b9b" stroke="#a26666"/><path d="M365.7,425.1L367.1,423.8L365.8,422.4L364.4,423.7Z" fill="#f5a5a5" stroke="#a26d6d"/><path d="M364.3,426.3L365.7,425.1L364.4,423.7L363.0,424.9Z" fill="#f5adad" stroke="#a27272"/><path d="M362.9,427.5L364.3,426.3L363.0,424.9L361.6,426.1Z" fill="#f5b4b4" stroke="#a27777"/><path d="M361.5,428.5L362.9,427.5L361.6,426.1L360.2,427.1Z" fill="#f6baba" stroke="#a27b7b"/><path d="M360.1,429.5L361.5,428.5L360.2,427.1L358.9,428.2Z" fill="#f6c0c0" stroke="#a27f7f"/><path d="M358.7,430.5L360.1,429.5L358.9,428.2L357.5,429.1Z" fill="#f6c5c5" stroke="#c59e9e"/><path d="M357.3,431.4L358.7,430.5L357.5,429.1L356.1,430.1Z" fill="#f6caca" stroke="#c5a2a2"/><path d="M356.0,432.3L357.3,431.4L356.1,430.1L354.7,431.0Z" fill="#f6cfcf" stroke="#c5a5a5"/><path d="M354.6,433.2L356.0,432.3L354.7,431.0L353.3,431.8Z" fill="#f6d2d2" stroke="#c5a8a8"/><path d="M353.2,434.1L354.6,433.2L353.3,431.8L351.9,432.7Z" fill="#f6d5d5" stroke="#c5aaaa"/><path d="M351.8,434.9L353.2,434.1L351.9,432.7L350.6,433.5Z" fill="#f7d7d7" stroke="#c5acac"/><path d="M350.4,435.7L351.8,434.9L350.6,433.5L349.2,434.3Z" fill="#f7dada" stroke="#c5aeae"/><path d="M349.0,436.5L350.4,435.7L349.2,434.3L347.8,435.1Z" fill="#f7dcdc" stroke="#c5b0b0"/><path d="M347.6,437.2L349.0,436.5L347.8,435.1L346.4,435.8Z" fill="#f7dede" stroke="#c6b2b2"/><path d="M346.2,437.9L347.6,437.2L346.4,435.8L345.0,436.5Z" fill="#f7e0e0" stroke="#c6b4b4"/><path d="M344.8,438.6L346.2,437.9L345.0,436.5L343.6,437.2Z" fill="#f7e2e2" stroke="#c6b5b5"/><path d="M343.5,439.3L344.8,438.6L343.6,437.2L342.2,437.9Z" fill="#f7e4e4" stroke="#c6b6b6"/><path d="M342.1,439.9L343.5,439.3L342.2,437.9L340.9,438.5Z" fill="#f7e6e6" stroke="#c6b8b8"/><path d="M340.7,440.5L342.1,439.9L340.9,438.5L339.5,439.2Z" fill="#f7e7e7" stroke="#c6b9b9"/><path d="M339.3,441.1L340.7,440.5L339.5,439.2L338.1,439.7Z" fill="#f8e8e8" stroke="#c6baba"/><path d="M337.9,441.7L339.3,441.1L338.1,439.7L336.7,440.3Z" fill="#f8e9e9" stroke="#c6bbbb"/><path d="M336.5,442.5L337.9,441.7L336.7,440.3L335.3,441.1Z" fill="#f8ebeb" stroke="#c6bcbc"/><path d="M335.1,443.2L336.5,442.5L335.3,441.1L333.9,441.9Z" fill="#f8eded" stroke="#c6bebe"/><path d="M333.7,443.9L335.1,443.2L333.9,441.9L332.6,442.5Z" fill="#f8efef" stroke="#c6bfbf"/><path d="M412.5,422.0L413.9,421.6L412.5,420.4L411.1,420.8Z" fill="#f8f0f0" stroke="#c6c0c0"/><path d="M411.1,422.4L412.5,422.0L411.1,420.8L409.7,421.3Z" fill="#f8f0f0" stroke="#c6c0c0"/><path d="M409.7,422.9L411.1,422.4L409.7,421.3L408.3,421.7Z" fill="#f8f0f0" stroke="#c6c0c0"/><path d="M408.2,423.3L409.7,422.9L408.3,421.7L406.9,422.1Z" fill="#f8f0f0" stroke="#c6c0c0"/><path d="M406.8,423.7L408.2,423.3L406.9,422.1L405.5,422.5Z" fill="#f8f0f0" stroke="#c6c0c0"/><path d="M405.4,424.1L406.8,423.7L405.5,422.5L404.0,422.9Z" fill="#f8f0f0" stroke="#c6c0c0"/><path d="M404.0,424.5L405.4,424.1L404.0,422.9L402.6,423.3Z" fill="#f8f0f0" stroke="#c6c0c0"/><path d="M402.6,424.9L404.0,424.5L402.6,423.3L401.2,423.7Z" fill="#f8f0f0" stroke="#c6c0c0"/><path d="M401.2,425.1L402.6,424.9L401.2,423.7L399.8,424.0Z" fill="#f8efef" stroke="#c6bfbf"/><path d="M399.8,425.1L401.2,425.1L399.8,424.0L398.4,424.2Z" fill="#f8eded" stroke="#c6bebe"/><path d="M398.4,424.3L399.8,425.1L398.4,424.2L397.0,424.0Z" fill="#f8e9e9" stroke="#c6bbbb"/><path d="M397.0,422.0L398.4,424.3L397.0,424.0L395.6,422.9Z" fill="#f7dfdf" stroke="#c6b2b2"/><path d="M395.5,416.9L397.0,422.0L395.6,422.9L394.2,419.9Z" fill="#f6c8c8" stroke="#c5a0a0"/><path d="M394.1,409.3L395.5,416.9L394.2,419.9L392.7,413.9Z" fill="#f68d8d" stroke="#a05c5c"/><path d="M392.6,401.9L394.1,409.3L392.7,413.9L391.2,405.9Z" fill="#fd2828" stroke="#931717"/><path d="M391.1,397.4L392.6,401.9L391.2,405.9L389.7,399.2Z" fill="#ff0606" stroke="#8a0303"/><path d="M389.6,395.7L391.1,397.4L389.7,399.2L388.2,395.6Z" fill="#ff0505" stroke="#8a0303"/><path d="M388.1,395.7L389.6,395.7L388.2,395.6L386.7,394.7Z" fill="#ff0505" stroke="#8a0303"/><path d="M386.6,396.6L388.1,395.7L386.7,394.7L385.2,395.2Z" fill="#ff0505" stroke="#8a0303"/><path d="M385.2,398.0L386.6,396.6L385.2,395.2L383.8,396.4Z" fill="#ff0505" stroke="#8a0303"/><path d="M383.7,399.8L385.2,398.0L383.8,396.4L382.3,398.2Z" fill="#ff0505" stroke="#8a0303"/><path d="M382.3,402.0L383.7,399.8L382.3,398.2L380.9,400.4Z" fill="#ff0606" stroke="#8a0303"/><path d="M380.8,404.5L382.3,402.0L380.9,400.4L379.5,402.9Z" fill="#ff0606" stroke="#8a0303"/><path d="M379.4,407.3L380.8,404.5L379.5,402.9L378.1,405.7Z" fill="#ff0606" stroke="#8a0303"/><path d="M378.0,410.1L379.4,407.3L378.1,405.7L376.7,408.6Z" fill="#ff0606" stroke="#8b0303"/><path d="M376.7,413.0L378.0,410.1L376.7,408.6L375.3,411.4Z" fill="#fe1919" stroke="#900e0e"/><path d="M375.3,415.6L376.7,413.0L375.3,411.4L373.9,414.1Z" fill="#fc3535" stroke="#941f1f"/><path d="M373.9,418.1L375.3,415.6L373.9,414.1L372.6,416.6Z" fill="#fa5353" stroke="#983232"/><path d="M372.5,420.2L373.9,418.1L372.6,416.6L371.2,418.7Z" fill="#f86b6b" stroke="#9b4343"/><path d="M371.1,422.1L372.5,420.2L371.2,418.7L369.8,420.6Z" fill="#f77f7f" stroke="#9e5151"/><path d="M369.7,423.7L371.1,422.1L369.8,420.6L368.4,422.3Z" fill="#f68f8f" stroke="#a05d5d"/><path d="M368.4,425.2L369.7,423.7L368.4,422.3L367.1,423.8Z" fill="#f59d9d" stroke="#a26767"/><path d="M367.0,426.5L368.4,425.2L367.1,423.8L365.7,425.1Z" fill="#f5a6a6" stroke="#a26d6d"/><path d="M365.6,427.7L367.0,426.5L365.7,425.1L364.3,426.3Z" fill="#f5aeae" stroke="#a27373"/><path d="M364.2,428.9L365.6,427.7L364.3,426.3L362.9,427.5Z" fill="#f6b5b5" stroke="#a27777"/><path d="M362.8,429.9L364.2,428.9L362.9,427.5L361.5,428.5Z" fill="#f6bbbb" stroke="#a27c7c"/><path d="M361.4,430.9L362.8,429.9L361.5,428.5L360.1,429.5Z" fill="#f6c1c1" stroke="#a27f7f"/><path d="M360.0,431.9L361.4,430.9L360.1,429.5L358.7,430.5Z" fill="#f6c6c6" stroke="#c59f9f"/><path d="M358.6,432.8L360.0,431.9L358.7,430.5L357.3,431.4Z" fill="#f6cbcb" stroke="#c5a3a3"/><path d="M357.2,433.7L358.6,432.8L357.3,431.4L356.0,432.3Z" fill="#f6cfcf" stroke="#c5a6a6"/><path d="M355.8,434.6L357.2,433.7L356.0,432.3L354.6,433.2Z" fill="#f6d2d2" stroke="#c5a8a8"/><path d="M354.4,435.4L355.8,434.6L354.6,433.2L353.2,434.1Z" fill="#f6d5d5" stroke="#c5aaaa"/><path d="M353.0,436.3L354.4,435.4L353.2,434.1L351.8,434.9Z" fill="#f7d8d8" stroke="#c5adad"/><path d="M351.6,437.1L353.0,436.3L351.8,434.9L350.4,435.7Z" fill="#f7dada" stroke="#c5afaf"/><path d="M350.2,437.8L351.6,437.1L350.4,435.7L349.0,436.5Z" fill="#f7dddd" stroke="#c6b0b0"/><path d="M348.9,438.6L350.2,437.8L349.0,436.5L347.6,437.2Z" fill="#f7dfdf" stroke="#c6b2b2"/><path d="M347.5,439.3L348.9,438.6L347.6,437.2L346.2,437.9Z" fill="#f7e1e1" stroke="#c6b4b4"/><path d="M346.1,440.0L347.5,439.3L346.2,437.9L344.8,438.6Z" fill="#f7e3e3" stroke="#c6b5b5"/><path d="M344.7,440.6L346.1,440.0L344.8,438.6L343.5,439.3Z" fill="#f7e4e4" stroke="#c6b7b7"/><path d="M343.3,441.3L344.7,440.6L343.5,439.3L342.1,439.9Z" fill="#f7e6e6" stroke="#c6b8b8"/><path d="M341.9,441.9L343.3,441.3L342.1,439.9L340.7,440.5Z" fill="#f7e7e7" stroke="#c6b9b9"/><path d="M340.5,442.5L341.9,441.9L340.7,440.5L339.3,441.1Z" fill="#f8e8e8" stroke="#c6baba"/><path d="M339.1,443.1L340.5,442.5L339.3,441.1L337.9,441.7Z" fill="#f8e9e9" stroke="#c6bbbb"/><path d="M337.7,443.9L339.1,443.1L337.9,441.7L336.5,442.5Z" fill="#f8ebeb" stroke="#c6bcbc"/><path d="M336.3,444.6L337.7,443.9L336.5,442.5L335.1,443.2Z" fill="#f8eded" stroke="#c6bebe"/><path d="M334.9,445.3L336.3,444.6L335.1,443.2L333.7,443.9Z" fill="#f8efef" stroke="#c6bfbf"/><path d="M413.9,423.2L415.3,422.8L413.9,421.6L412.5,422.0Z" fill="#f8f0f0" stroke="#c6c0c0"/><path d="M412.5,423.6L413.9,423.2L412.5,422.0L411.1,422.4Z" fill="#f8f0f0" stroke="#c6c0c0"/><path d="M411.0,424.1L412.5,423.6L411.1,422.4L409.7,422.9Z" fill="#f8f0f0" stroke="#c6c0c0"/><path d="M409.6,424.5L411.0,424.1L409.7,422.9L408.2,423.3Z" fill="#f8f0f0" stroke="#c6c0c0"/><path d="M408.2,424.9L409.6,424.5L408.2,423.3L406.8,423.7Z" fill="#f8f0f0" stroke="#c6c0c0"/><path d="M406.8,425.3L408.2,424.9L406.8,423.7L405.4,424.1Z" fill="#f8f0f0" stroke="#c6c0c0"/><path d="M405.4,425.7L406.8,425.3L405.4,424.1L404.0,424.5Z" fill="#f8f0f0" stroke="#c6c0c0"/><path d="M404.0,426.0L405.4,425.7L404.0,424.5L402.6,424.9Z" fill="#f8efef" stroke="#c6bfbf"/><path d="M402.6,426.0L404.0,426.0L402.6,424.9L401.2,425.1Z" fill="#f8eeee" stroke="#c6bebe"/><path d="M401.2,425.6L402.6,426.0L401.2,425.1L399.8,425.1Z" fill="#f8ebeb" stroke="#c6bcbc"/><path d="M399.7,423.8L401.2,425.6L399.8,425.1L398.4,424.3Z" fill="#f7e3e3" stroke="#c6b6b6"/><path d="M398.3,419.7L399.7,423.8L398.4,424.3L397.0,422.0Z" fill="#f6d1d1" stroke="#c5a8a8"/><path d="M396.9,412.7L398.3,419.7L397.0,422.0L395.5,416.9Z" fill="#f5a4a4" stroke="#a26c6c"/><path d="M395.4,404.9L396.9,412.7L395.5,416.9L394.1,409.3Z" fill="#fa4b4b" stroke="#972d2d"/><path d="M394.0,399.4L395.4,404.9L394.1,409.3L392.6,401.9Z" fill="#ff0606" stroke="#8a0303"/><path d="M392.5,397.0L394.0,399.4L392.6,401.9L391.1,397.4Z" fill="#ff0606" stroke="#8a0303"/><path d="M391.0,396.5L392.5,397.0L391.1,397.4L389.6,395.7Z" fill="#ff0505" stroke="#8a0303"/><path d="M389.5,397.0L391.0,396.5L389.6,395.7L388.1,395.7Z" fill="#ff0505" stroke="#8a0303"/><path d="M388.0,398.1L389.5,397.0L388.1,395.7L386.6,396.6Z" fill="#ff0505" stroke="#8a0303"/><path d="M386.6,399.6L388.0,398.1L386.6,396.6L385.2,398.0Z" fill="#ff0505" stroke="#8a0303"/><path d="M385.1,401.4L386.6,399.6L385.2,398.0L383.7,399.8Z" fill="#ff0505" stroke="#8a0303"/><path d="M383.7,403.6L385.1,401.4L383.7,399.8L382.3,402.0Z" fill="#ff0606" stroke="#8a0303"/><path d="M382.2,406.1L383.7,403.6L382.3,402.0L380.8,404.5Z" fill="#ff0606" stroke="#8a0303"/><path d="M380.8,408.8L382.2,406.1L380.8,404.5L379.4,407.3Z" fill="#ff0606" stroke="#8a0303"/><path d="M379.4,411.7L380.8,408.8L379.4,407.3L378.0,410.1Z" fill="#ff0909" stroke="#8c0505"/><path d="M378.0,414.5L379.4,411.7L378.0,410.1L376.7,413.0Z" fill="#fe1b1b" stroke="#910f0f"/><path d="M376.6,417.1L378.0,414.5L376.7,413.0L375.3,415.6Z" fill="#fc3939" stroke="#952121"/><path d="M375.2,419.5L376.6,417.1L375.3,415.6L373.9,418.1Z" fill="#f95656" stroke="#983535"/><path d="M373.8,421.7L375.2,419.5L373.9,418.1L372.5,420.2Z" fill="#f86e6e" stroke="#9b4545"/><path d="M372.5,423.5L373.8,421.7L372.5,420.2L371.1,422.1Z" fill="#f78181" stroke="#9e5353"/><path d="M371.1,425.2L372.5,423.5L371.1,422.1L369.7,423.7Z" fill="#f69191" stroke="#a05f5f"/><path d="M369.7,426.6L371.1,425.2L369.7,423.7L368.4,425.2Z" fill="#f59e9e" stroke="#a26868"/><path d="M368.3,427.9L369.7,426.6L368.4,425.2L367.0,426.5Z" fill="#f5a7a7" stroke="#a26e6e"/><path d="M366.9,429.1L368.3,427.9L367.0,426.5L365.6,427.7Z" fill="#f5afaf" stroke="#a27474"/><path d="M365.5,430.3L366.9,429.1L365.6,427.7L364.2,428.9Z" fill="#f6b6b6" stroke="#a27878"/><path d="M364.1,431.3L365.5,430.3L364.2,428.9L362.8,429.9Z" fill="#f6bcbc" stroke="#a27c7c"/><path d="M362.7,432.3L364.1,431.3L362.8,429.9L361.4,430.9Z" fill="#f6c2c2" stroke="#a28080"/><path d="M361.3,433.3L362.7,432.3L361.4,430.9L360.0,431.9Z" fill="#f6c7c7" stroke="#c59f9f"/><path d="M359.9,434.2L361.3,433.3L360.0,431.9L358.6,432.8Z" fill="#f6cccc" stroke="#c5a3a3"/><path d="M358.5,435.1L359.9,434.2L358.6,432.8L357.2,433.7Z" fill="#f6cfcf" stroke="#c5a6a6"/><path d="M357.1,436.0L358.5,435.1L357.2,433.7L355.8,434.6Z" fill="#f6d3d3" stroke="#c5a8a8"/><path d="M355.7,436.8L357.1,436.0L355.8,434.6L354.4,435.4Z" fill="#f6d5d5" stroke="#c5abab"/><path d="M354.3,437.6L355.7,436.8L354.4,435.4L353.0,436.3Z" fill="#f7d8d8" stroke="#c5adad"/><path d="M352.9,438.4L354.3,437.6L353.0,436.3L351.6,437.1Z" fill="#f7dada" stroke="#c5afaf"/><path d="M351.5,439.2L352.9,438.4L351.6,437.1L350.2,437.8Z" fill="#f7dddd" stroke="#c6b1b1"/><path d="M350.1,439.9L351.5,439.2L350.2,437.8L348.9,438.6Z" fill="#f7dfdf" stroke="#c6b2b2"/><path d="M348.7,440.6L350.1,439.9L348.9,438.6L347.5,439.3Z" fill="#f7e1e1" stroke="#c6b4b4"/><path d="M347.3,441.3L348.7,440.6L347.5,439.3L346.1,440.0Z" fill="#f7e3e3" stroke="#c6b5b5"/><path d="M345.9,442.0L347.3,441.3L346.1,440.0L344.7,440.6Z" fill="#f7e4e4" stroke="#c6b7b7"/><path d="M344.5,442.6L345.9,442.0L344.7,440.6L343.3,441.3Z" fill="#f7e6e6" stroke="#c6b8b8"/><path d="M343.1,443.3L344.5,442.6L343.3,441.3L341.9,441.9Z" fill="#f7e7e7" stroke="#c6b9b9"/><path d="M341.7,443.9L343.1,443.3L341.9,441.9L340.5,442.5Z" fill="#f8e8e8" stroke="#c6baba"/><path d="M340.3,444.4L341.7,443.9L340.5,442.5L339.1,443.1Z" fill="#f8e9e9" stroke="#c6bbbb"/><path d="M338.9,445.2L340.3,444.4L339.1,443.1L337.7,443.9Z" fill="#f8ebeb" stroke="#c6bcbc"/><path d="M337.5,446.0L338.9,445.2L337.7,443.9L336.3,444.6Z" fill="#f8eded" stroke="#c6bebe"/><path d="M336.1,446.7L337.5,446.0L336.3,444.6L334.9,445.3Z" fill="#f8efef" stroke="#c6bfbf"/><path d="M415.3,424.4L416.7,424.0L415.3,422.8L413.9,423.2Z" fill="#f8f0f0" stroke="#c6c0c0"/><path d="M413.9,424.8L415.3,424.4L413.9,423.2L412.5,423.6Z" fill="#f8f0f0" stroke="#c6c0c0"/><path d="M412.4,425.2L413.9,424.8L412.5,423.6L411.0,424.1Z" fill="#f8f0f0" stroke="#c6c0c0"/><path d="M411.0,425.7L412.4,425.2L411.0,424.1L409.6,424.5Z" fill="#f8f0f0" stroke="#c6c0c0"/><path d="M409.6,426.1L411.0,425.7L409.6,424.5L408.2,424.9Z" fill="#f8f0f0" stroke="#c6c0c0"/><path d="M408.2,426.5L409.6,426.1L408.2,424.9L406.8,425.3Z" fill="#f8f0f0" stroke="#c6c0c0"/><path d="M406.8,426.8L408.2,426.5L406.8,425.3L405.4,425.7Z" fill="#f8efef" stroke="#c6bfbf"/><path d="M405.3,427.0L406.8,426.8L405.4,425.7L404.0,426.0Z" fill="#f8eeee" stroke="#c6bfbf"/><path d="M403.9,426.7L405.3,427.0L404.0,426.0L402.6,426.0Z" fill="#f8ecec" stroke="#c6bdbd"/><path d="M402.5,425.5L403.9,426.7L402.6,426.0L401.2,425.6Z" fill="#f7e6e6" stroke="#c6b8b8"/><path d="M401.1,422.2L402.5,425.5L401.2,425.6L399.7,423.8Z" fill="#f7d8d8" stroke="#c5adad"/><path d="M399.7,415.9L401.1,422.2L399.7,423.8L398.3,419.7Z" fill="#f6b5b5" stroke="#a27777"/><path d="M398.3,408.1L399.7,415.9L398.3,419.7L396.9,412.7Z" fill="#f86a6a" stroke="#9b4242"/><path d="M396.9,401.8L398.3,408.1L396.9,412.7L395.4,404.9Z" fill="#ff0e0e" stroke="#8d0808"/><path d="M395.4,398.6L396.9,401.8L395.4,404.9L394.0,399.4Z" fill="#ff0606" stroke="#8a0303"/><path d="M393.9,397.6L395.4,398.6L394.0,399.4L392.5,397.0Z" fill="#ff0505" stroke="#8a0303"/><path d="M392.4,397.8L393.9,397.6L392.5,397.0L391.0,396.5Z" fill="#ff0505" stroke="#8a0303"/><path d="M390.9,398.6L392.4,397.8L391.0,396.5L389.5,397.0Z" fill="#ff0505" stroke="#8a0303"/><path d="M389.4,399.7L390.9,398.6L389.5,397.0L388.0,398.1Z" fill="#ff0505" stroke="#8a0303"/><path d="M388.0,401.3L389.4,399.7L388.0,398.1L386.6,399.6Z" fill="#ff0505" stroke="#8a0303"/><path d="M386.5,403.1L388.0,401.3L386.6,399.6L385.1,401.4Z" fill="#ff0505" stroke="#8a0303"/><path d="M385.0,405.2L386.5,403.1L385.1,401.4L383.7,403.6Z" fill="#ff0606" stroke="#8a0303"/><path d="M383.6,407.7L385.0,405.2L383.7,403.6L382.2,406.1Z" fill="#ff0606" stroke="#8a0303"/><path d="M382.2,410.4L383.6,407.7L382.2,406.1L380.8,408.8Z" fill="#ff0606" stroke="#8a0303"/><path d="M380.8,413.2L382.2,410.4L380.8,408.8L379.4,411.7Z" fill="#ff0b0b" stroke="#8c0606"/><path d="M379.4,416.0L380.8,413.2L379.4,411.7L378.0,414.5Z" fill="#fe1d1d" stroke="#911111"/><path d="M378.0,418.6L379.4,416.0L378.0,414.5L376.6,417.1Z" fill="#fb3d3d" stroke="#952424"/><path d="M376.6,421.0L378.0,418.6L376.6,417.1L375.2,419.5Z" fill="#f95a5a" stroke="#983737"/><path d="M375.2,423.1L376.6,421.0L375.2,419.5L373.8,421.7Z" fill="#f87070" stroke="#9c4646"/><path d="M373.8,425.0L375.2,423.1L373.8,421.7L372.5,423.5Z" fill="#f68383" stroke="#9e5454"/><path d="M372.4,426.6L373.8,425.0L372.5,423.5L371.1,425.2Z" fill="#f59393" stroke="#a16060"/><path d="M371.0,428.1L372.4,426.6L371.1,425.2L369.7,426.6Z" fill="#f5a0a0" stroke="#a26969"/><path d="M369.6,429.4L371.0,428.1L369.7,426.6L368.3,427.9Z" fill="#f5a8a8" stroke="#a26f6f"/><path d="M368.2,430.5L369.6,429.4L368.3,427.9L366.9,429.1Z" fill="#f5b0b0" stroke="#a27474"/><path d="M366.7,431.7L368.2,430.5L366.9,429.1L365.5,430.3Z" fill="#f6b7b7" stroke="#a27979"/><path d="M365.3,432.7L366.7,431.7L365.5,430.3L364.1,431.3Z" fill="#f6bdbd" stroke="#a27d7d"/><path d="M363.9,433.7L365.3,432.7L364.1,431.3L362.7,432.3Z" fill="#f6c3c3" stroke="#a28181"/><path d="M362.5,434.7L363.9,433.7L362.7,432.3L361.3,433.3Z" fill="#f6c8c8" stroke="#c5a0a0"/><path d="M361.1,435.6L362.5,434.7L361.3,433.3L359.9,434.2Z" fill="#f6cdcd" stroke="#c5a4a4"/><path d="M359.7,436.5L361.1,435.6L359.9,434.2L358.5,435.1Z" fill="#f6d0d0" stroke="#c5a6a6"/><path d="M358.3,437.4L359.7,436.5L358.5,435.1L357.1,436.0Z" fill="#f6d3d3" stroke="#c5a9a9"/><path d="M356.9,438.2L358.3,437.4L357.1,436.0L355.7,436.8Z" fill="#f6d6d6" stroke="#c5abab"/><path d="M355.5,439.0L356.9,438.2L355.7,436.8L354.3,437.6Z" fill="#f7d8d8" stroke="#c5adad"/><path d="M354.1,439.8L355.5,439.0L354.3,437.6L352.9,438.4Z" fill="#f7dbdb" stroke="#c5afaf"/><path d="M352.7,440.6L354.1,439.8L352.9,438.4L351.5,439.2Z" fill="#f7dddd" stroke="#c6b1b1"/><path d="M351.3,441.3L352.7,440.6L351.5,439.2L350.1,439.9Z" fill="#f7dfdf" stroke="#c6b3b3"/><path d="M349.9,442.0L351.3,441.3L350.1,439.9L348.7,440.6Z" fill="#f7e1e1" stroke="#c6b4b4"/><path d="M348.5,442.7L349.9,442.0L348.7,440.6L347.3,441.3Z" fill="#f7e3e3" stroke="#c6b6b6"/><path d="M347.1,443.4L348.5,442.7L347.3,441.3L345.9,442.0Z" fill="#f7e5e5" stroke="#c6b7b7"/><path d="M345.7,444.0L347.1,443.4L345.9,442.0L344.5,442.6Z" fill="#f7e6e6" stroke="#c6b8b8"/><path d="M344.3,444.6L345.7,444.0L344.5,442.6L343.1,443.3Z" fill="#f8e7e7" stroke="#c6b9b9"/><path d="M342.9,445.2L344.3,444.6L343.1,443.3L341.7,443.9Z" fill="#f8e8e8" stroke="#c6baba"/><path d="M341.5,445.8L342.9,445.2L341.7,443.9L340.3,444.4Z" fill="#f8eaea" stroke="#c6bbbb"/><path d="M340.1,446.6L341.5,445.8L340.3,444.4L338.9,445.2Z" fill="#f8ebeb" stroke="#c6bcbc"/><path d="M338.7,447.4L340.1,446.6L338.9,445.2L337.5,446.0Z" fill="#f8eded" stroke="#c6bebe"/><path d="M337.3,448.0L338.7,447.4L337.5,446.0L336.1,446.7Z" fill="#f8efef" stroke="#c6bfbf"/><path d="M416.7,425.6L418.1,425.1L416.7,424.0L415.3,424.4Z" fill="#f8f0f0" stroke="#c6c0c0"/><path d="M415.2,426.0L416.7,425.6L415.3,424.4L413.9,424.8Z" fill="#f8f0f0" stroke="#c6c0c0"/><path d="M413.8,426.4L415.2,426.0L413.9,424.8L412.4,425.2Z" fill="#f8f0f0" stroke="#c6c0c0"/><path d="M412.4,426.8L413.8,426.4L412.4,425.2L411.0,425.7Z" fill="#f8f0f0" stroke="#c6c0c0"/><path d="M411.0,427.2L412.4,426.8L411.0,425.7L409.6,426.1Z" fill="#f8f0f0" stroke="#c6c0c0"/><path d="M409.6,427.6L411.0,427.2L409.6,426.1L408.2,426.5Z" fill="#f8efef" stroke="#c6bfbf"/><path d="M408.1,427.8L409.6,427.6L408.2,426.5L406.8,426.8Z" fill="#f8efef" stroke="#c6bfbf"/><path d="M406.7,427.7L408.1,427.8L406.8,426.8L405.3,427.0Z" fill="#f8eded" stroke="#c6bdbd"/><path d="M405.3,426.9L406.7,427.7L405.3,427.0L403.9,426.7Z" fill="#f8e8e8" stroke="#c6baba"/><path d="M403.9,424.3L405.3,426.9L403.9,426.7L402.5,425.5Z" fill="#f7dddd" stroke="#c6b1b1"/><path d="M402.6,419.0L403.9,424.3L402.5,425.5L401.1,422.2Z" fill="#f6c3c3" stroke="#c59c9c"/><path d="M401.2,411.4L402.6,419.0L401.1,422.2L399.7,415.9Z" fill="#f68585" stroke="#9f5656"/><path d="M399.7,404.5L401.2,411.4L399.7,415.9L398.3,408.1Z" fill="#fe2121" stroke="#921313"/><path d="M398.3,400.4L399.7,404.5L398.3,408.1L396.9,401.8Z" fill="#ff0606" stroke="#8a0303"/><path d="M396.8,398.9L398.3,400.4L396.9,401.8L395.4,398.6Z" fill="#ff0505" stroke="#8a0303"/><path d="M395.3,398.7L396.8,398.9L395.4,398.6L393.9,397.6Z" fill="#ff0505" stroke="#8a0303"/><path d="M393.8,399.2L395.3,398.7L393.9,397.6L392.4,397.8Z" fill="#ff0505" stroke="#8a0303"/><path d="M392.3,400.2L393.8,399.2L392.4,397.8L390.9,398.6Z" fill="#ff0505" stroke="#8a0303"/><path d="M390.8,401.4L392.3,400.2L390.9,398.6L389.4,399.7Z" fill="#ff0505" stroke="#8a0303"/><path d="M389.4,402.9L390.8,401.4L389.4,399.7L388.0,401.3Z" fill="#ff0505" stroke="#8a0303"/><path d="M387.9,404.7L389.4,402.9L388.0,401.3L386.5,403.1Z" fill="#ff0606" stroke="#8a0303"/><path d="M386.4,406.9L387.9,404.7L386.5,403.1L385.0,405.2Z" fill="#ff0606" stroke="#8a0303"/><path d="M385.0,409.3L386.4,406.9L385.0,405.2L383.6,407.7Z" fill="#ff0606" stroke="#8a0303"/><path d="M383.5,412.0L385.0,409.3L383.6,407.7L382.2,410.4Z" fill="#ff0606" stroke="#8a0303"/><path d="M382.1,414.8L383.5,412.0L382.2,410.4L380.8,413.2Z" fill="#ff0e0e" stroke="#8d0808"/><path d="M380.7,417.5L382.1,414.8L380.8,413.2L379.4,416.0Z" fill="#fe2121" stroke="#921313"/><path d="M379.3,420.1L380.7,417.5L379.4,416.0L378.0,418.6Z" fill="#fb4040" stroke="#962626"/><path d="M377.9,422.5L379.3,420.1L378.0,418.6L376.6,421.0Z" fill="#f95d5d" stroke="#993939"/><path d="M376.5,424.6L377.9,422.5L376.6,421.0L375.2,423.1Z" fill="#f77373" stroke="#9c4848"/><path d="M375.1,426.4L376.5,424.6L375.2,423.1L373.8,425.0Z" fill="#f68585" stroke="#9f5656"/><path d="M373.7,428.0L375.1,426.4L373.8,425.0L372.4,426.6Z" fill="#f59595" stroke="#a16262"/><path d="M372.3,429.5L373.7,428.0L372.4,426.6L371.0,428.1Z" fill="#f5a1a1" stroke="#a26a6a"/><path d="M370.9,430.8L372.3,429.5L371.0,428.1L369.6,429.4Z" fill="#f5aaaa" stroke="#a27070"/><path d="M369.4,432.0L370.9,430.8L369.6,429.4L368.2,430.5Z" fill="#f5b1b1" stroke="#a27575"/><path d="M368.0,433.1L369.4,432.0L368.2,430.5L366.7,431.7Z" fill="#f6b8b8" stroke="#a27979"/><path d="M366.6,434.1L368.0,433.1L366.7,431.7L365.3,432.7Z" fill="#f6bebe" stroke="#a27d7d"/><path d="M365.2,435.1L366.6,434.1L365.3,432.7L363.9,433.7Z" fill="#f6c4c4" stroke="#c59c9c"/><path d="M363.8,436.1L365.2,435.1L363.9,433.7L362.5,434.7Z" fill="#f6c9c9" stroke="#c5a1a1"/><path d="M362.4,437.0L363.8,436.1L362.5,434.7L361.1,435.6Z" fill="#f6cdcd" stroke="#c5a4a4"/><path d="M361.0,437.9L362.4,437.0L361.1,435.6L359.7,436.5Z" fill="#f6d0d0" stroke="#c5a7a7"/><path d="M359.6,438.7L361.0,437.9L359.7,436.5L358.3,437.4Z" fill="#f6d3d3" stroke="#c5a9a9"/><path d="M358.2,439.6L359.6,438.7L358.3,437.4L356.9,438.2Z" fill="#f7d6d6" stroke="#c5abab"/><path d="M356.8,440.4L358.2,439.6L356.9,438.2L355.5,439.0Z" fill="#f7d9d9" stroke="#c5adad"/><path d="M355.3,441.2L356.8,440.4L355.5,439.0L354.1,439.8Z" fill="#f7dbdb" stroke="#c5afaf"/><path d="M353.9,441.9L355.3,441.2L354.1,439.8L352.7,440.6Z" fill="#f7dddd" stroke="#c6b1b1"/><path d="M352.5,442.7L353.9,441.9L352.7,440.6L351.3,441.3Z" fill="#f7dfdf" stroke="#c6b3b3"/><path d="M351.1,443.4L352.5,442.7L351.3,441.3L349.9,442.0Z" fill="#f7e1e1" stroke="#c6b4b4"/><path d="M349.7,444.1L351.1,443.4L349.9,442.0L348.5,442.7Z" fill="#f7e3e3" stroke="#c6b6b6"/><path d="M348.3,444.7L349.7,444.1L348.5,442.7L347.1,443.4Z" fill="#f7e5e5" stroke="#c6b7b7"/><path d="M346.9,445.4L348.3,444.7L347.1,443.4L345.7,444.0Z" fill="#f7e6e6" stroke="#c6b8b8"/><path d="M345.5,446.0L346.9,445.4L345.7,444.0L344.3,444.6Z" fill="#f8e7e7" stroke="#c6b9b9"/><path d="M344.1,446.6L345.5,446.0L344.3,444.6L342.9,445.2Z" fill="#f8e9e9" stroke="#c6baba"/><path d="M342.7,447.2L344.1,446.6L342.9,445.2L341.5,445.8Z" fill="#f8eaea" stroke="#c6bbbb"/><path d="M341.3,448.0L342.7,447.2L341.5,445.8L340.1,446.6Z" fill="#f8ebeb" stroke="#c6bcbc"/><path d="M339.9,448.7L341.3,448.0L340.1,446.6L338.7,447.4Z" fill="#f8eded" stroke="#c6bebe"/><path d="M338.5,449.4L339.9,448.7L338.7,447.4L337.3,448.0Z" fill="#f8efef" stroke="#c6bfbf"/><path d="M418.1,426.7L419.5,426.3L418.1,425.1L416.7,425.6Z" fill="#f8f0f0" stroke="#c6c0c0"/><path d="M416.6,427.2L418.1,426.7L416.7,425.6L415.2,426.0Z" fill="#f8f0f0" stroke="#c6c0c0"/><path d="M415.2,427.6L416.6,427.2L415.2,426.0L413.8,426.4Z" fill="#f8f0f0" stroke="#c6c0c0"/><path d="M413.8,428.0L415.2,427.6L413.8,426.4L412.4,426.8Z" fill="#f8f0f0" stroke="#c6c0c0"/><path d="M412.4,428.4L413.8,428.0L412.4,426.8L411.0,427.2Z" fill="#f8efef" stroke="#c6bfbf"/><path d="M410.9,428.7L412.4,428.4L411.0,427.2L409.6,427.6Z" fill="#f8efef" stroke="#c6bfbf"/><path d="M409.5,428.7L410.9,428.7L409.6,427.6L408.1,427.8Z" fill="#f8eded" stroke="#c6bebe"/><path d="M408.1,428.2L409.5,428.7L408.1,427.8L406.7,427.7Z" fill="#f8eaea" stroke="#c6bbbb"/><path d="M406.7,426.2L408.1,428.2L406.7,427.7L405.3,426.9Z" fill="#f7e2e2" stroke="#c6b4b4"/><path d="M405.4,421.8L406.7,426.2L405.3,426.9L403.9,424.3Z" fill="#f6cfcf" stroke="#c5a5a5"/><path d="M404.0,414.7L405.4,421.8L403.9,424.3L402.6,419.0Z" fill="#f59e9e" stroke="#a26868"/><path d="M402.6,407.4L404.0,414.7L402.6,419.0L401.2,411.4Z" fill="#fb4343" stroke="#962828"/><path d="M401.2,402.5L402.6,407.4L401.2,411.4L399.7,404.5Z" fill="#ff0606" stroke="#8a0303"/><path d="M399.7,400.3L401.2,402.5L399.7,404.5L398.3,400.4Z" fill="#ff0606" stroke="#8a0303"/><path d="M398.2,399.8L399.7,400.3L398.3,400.4L396.8,398.9Z" fill="#ff0505" stroke="#8a0303"/><path d="M396.7,400.1L398.2,399.8L396.8,398.9L395.3,398.7Z" fill="#ff0505" stroke="#8a0303"/><path d="M395.2,400.8L396.7,400.1L395.3,398.7L393.8,399.2Z" fill="#ff0505" stroke="#8a0303"/><path d="M393.7,401.8L395.2,400.8L393.8,399.2L392.3,400.2Z" fill="#ff0505" stroke="#8a0303"/><path d="M392.2,403.0L393.7,401.8L392.3,400.2L390.8,401.4Z" fill="#ff0505" stroke="#8a0303"/><path d="M390.8,404.6L392.2,403.0L390.8,401.4L389.4,402.9Z" fill="#ff0505" stroke="#8a0303"/><path d="M389.3,406.4L390.8,404.6L389.4,402.9L387.9,404.7Z" fill="#ff0606" stroke="#8a0303"/><path d="M387.8,408.5L389.3,406.4L387.9,404.7L386.4,406.9Z" fill="#ff0606" stroke="#8a0303"/><path d="M386.4,410.9L387.8,408.5L386.4,406.9L385.0,409.3Z" fill="#ff0606" stroke="#8a0303"/><path d="M384.9,413.6L386.4,410.9L385.0,409.3L383.5,412.0Z" fill="#ff0606" stroke="#8a0303"/><path d="M383.5,416.3L384.9,413.6L383.5,412.0L382.1,414.8Z" fill="#ff1010" stroke="#8e0909"/><path d="M382.1,419.1L383.5,416.3L382.1,414.8L380.7,417.5Z" fill="#fd2525" stroke="#931515"/><path d="M380.6,421.6L382.1,419.1L380.7,417.5L379.3,420.1Z" fill="#fb4444" stroke="#962929"/><path d="M379.2,423.9L380.6,421.6L379.3,420.1L377.9,422.5Z" fill="#f96060" stroke="#993b3b"/><path d="M377.8,426.0L379.2,423.9L377.9,422.5L376.5,424.6Z" fill="#f77575" stroke="#9c4a4a"/><path d="M376.4,427.8L377.8,426.0L376.5,424.6L375.1,426.4Z" fill="#f68888" stroke="#9f5858"/><path d="M375.0,429.5L376.4,427.8L375.1,426.4L373.7,428.0Z" fill="#f59797" stroke="#a16464"/><path d="M373.6,430.9L375.0,429.5L373.7,428.0L372.3,429.5Z" fill="#f5a2a2" stroke="#a26b6b"/><path d="M372.1,432.2L373.6,430.9L372.3,429.5L370.9,430.8Z" fill="#f5abab" stroke="#a27171"/><path d="M370.7,433.4L372.1,432.2L370.9,430.8L369.4,432.0Z" fill="#f5b3b3" stroke="#a27676"/><path d="M369.3,434.5L370.7,433.4L369.4,432.0L368.0,433.1Z" fill="#f6b9b9" stroke="#a27a7a"/><path d="M367.9,435.5L369.3,434.5L368.0,433.1L366.6,434.1Z" fill="#f6bfbf" stroke="#a27e7e"/><path d="M366.5,436.5L367.9,435.5L366.6,434.1L365.2,435.1Z" fill="#f6c4c4" stroke="#c59d9d"/><path d="M365.1,437.4L366.5,436.5L365.2,435.1L363.8,436.1Z" fill="#f6caca" stroke="#c5a1a1"/><path d="M363.6,438.4L365.1,437.4L363.8,436.1L362.4,437.0Z" fill="#f6cece" stroke="#c5a5a5"/><path d="M362.2,439.2L363.6,438.4L362.4,437.0L361.0,437.9Z" fill="#f6d1d1" stroke="#c5a7a7"/><path d="M360.8,440.1L362.2,439.2L361.0,437.9L359.6,438.7Z" fill="#f6d4d4" stroke="#c5a9a9"/><path d="M359.4,440.9L360.8,440.1L359.6,438.7L358.2,439.6Z" fill="#f7d6d6" stroke="#c5acac"/><path d="M358.0,441.8L359.4,440.9L358.2,439.6L356.8,440.4Z" fill="#f7d9d9" stroke="#c5aeae"/><path d="M356.6,442.5L358.0,441.8L356.8,440.4L355.3,441.2Z" fill="#f7dbdb" stroke="#c5b0b0"/><path d="M355.2,443.3L356.6,442.5L355.3,441.2L353.9,441.9Z" fill="#f7dede" stroke="#c6b1b1"/><path d="M353.8,444.0L355.2,443.3L353.9,441.9L352.5,442.7Z" fill="#f7e0e0" stroke="#c6b3b3"/><path d="M352.3,444.8L353.8,444.0L352.5,442.7L351.1,443.4Z" fill="#f7e2e2" stroke="#c6b4b4"/><path d="M350.9,445.4L352.3,444.8L351.1,443.4L349.7,444.1Z" fill="#f7e3e3" stroke="#c6b6b6"/><path d="M349.5,446.1L350.9,445.4L349.7,444.1L348.3,444.7Z" fill="#f7e5e5" stroke="#c6b7b7"/><path d="M348.1,446.8L349.5,446.1L348.3,444.7L346.9,445.4Z" fill="#f7e6e6" stroke="#c6b8b8"/><path d="M346.7,447.4L348.1,446.8L346.9,445.4L345.5,446.0Z" fill="#f8e8e8" stroke="#c6b9b9"/><path d="M345.3,448.0L346.7,447.4L345.5,446.0L344.1,446.6Z" fill="#f8e9e9" stroke="#c6baba"/><path d="M343.8,448.6L345.3,448.0L344.1,446.6L342.7,447.2Z" fill="#f8eaea" stroke="#c6bbbb"/><path d="M342.4,449.4L343.8,448.6L342.7,447.2L341.3,448.0Z" fill="#f8ebeb" stroke="#c6bcbc"/><path d="M341.0,450.1L342.4,449.4L341.3,448.0L339.9,448.7Z" fill="#f8eded" stroke="#c6bebe"/><path d="M339.6,450.8L341.0,450.1L339.9,448.7L338.5,449.4Z" fill="#f8efef" stroke="#c6bfbf"/><path d="M419.5,427.9L420.9,427.4L419.5,426.3L418.1,426.7Z" fill="#f8efef" stroke="#c6c0c0"/><path d="M418.0,428.3L419.5,427.9L418.1,426.7L416.6,427.2Z" fill="#f8efef" stroke="#c6c0c0"/><path d="M416.6,428.7L418.0,428.3L416.6,427.2L415.2,427.6Z" fill="#f8efef" stroke="#c6c0c0"/><path d="M415.2,429.1L416.6,428.7L415.2,427.6L413.8,428.0Z" fill="#f8efef" stroke="#c6bfbf"/><path d="M413.7,429.5L415.2,429.1L413.8,428.0L412.4,428.4Z" fill="#f8efef" stroke="#c6bfbf"/><path d="M412.3,429.6L413.7,429.5L412.4,428.4L410.9,428.7Z" fill="#f8eeee" stroke="#c6bebe"/><path d="M410.9,429.3L412.3,429.6L410.9,428.7L409.5,428.7Z" fill="#f8ebeb" stroke="#c6bcbc"/><path d="M409.5,427.9L410.9,429.3L409.5,428.7L408.1,428.2Z" fill="#f7e5e5" stroke="#c6b7b7"/><path d="M408.2,424.4L409.5,427.9L408.1,428.2L406.7,426.2Z" fill="#f6d6d6" stroke="#c5abab"/><path d="M406.8,418.0L408.2,424.4L406.7,426.2L405.4,421.8Z" fill="#f5afaf" stroke="#a27474"/><path d="M405.5,410.4L406.8,418.0L405.4,421.8L404.0,414.7Z" fill="#f86363" stroke="#9a3d3d"/><path d="M404.1,404.8L405.5,410.4L404.0,414.7L402.6,407.4Z" fill="#ff0c0c" stroke="#8d0707"/><path d="M402.6,402.0L404.1,404.8L402.6,407.4L401.2,402.5Z" fill="#ff0606" stroke="#8a0303"/><path d="M401.1,401.1L402.6,402.0L401.2,402.5L399.7,400.3Z" fill="#ff0505" stroke="#8a0303"/><path d="M399.6,401.1L401.1,401.1L399.7,400.3L398.2,399.8Z" fill="#ff0505" stroke="#8a0303"/><path d="M398.1,401.7L399.6,401.1L398.2,399.8L396.7,400.1Z" fill="#ff0505" stroke="#8a0303"/><path d="M396.6,402.5L398.1,401.7L396.7,400.1L395.2,400.8Z" fill="#ff0505" stroke="#8a0303"/><path d="M395.1,403.5L396.6,402.5L395.2,400.8L393.7,401.8Z" fill="#ff0505" stroke="#8a0303"/><path d="M393.6,404.7L395.1,403.5L393.7,401.8L392.2,403.0Z" fill="#ff0505" stroke="#8a0303"/><path d="M392.2,406.2L393.6,404.7L392.2,403.0L390.8,404.6Z" fill="#ff0505" stroke="#8a0303"/><path d="M390.7,408.0L392.2,406.2L390.8,404.6L389.3,406.4Z" fill="#ff0606" stroke="#8a0303"/><path d="M389.2,410.1L390.7,408.0L389.3,406.4L387.8,408.5Z" fill="#ff0606" stroke="#8a0303"/><path d="M387.7,412.5L389.2,410.1L387.8,408.5L386.4,410.9Z" fill="#ff0606" stroke="#8a0303"/><path d="M386.3,415.2L387.7,412.5L386.4,410.9L384.9,413.6Z" fill="#ff0606" stroke="#8a0303"/><path d="M384.8,417.9L386.3,415.2L384.9,413.6L383.5,416.3Z" fill="#fe1313" stroke="#8f0b0b"/><path d="M383.4,420.6L384.8,417.9L383.5,416.3L382.1,419.1Z" fill="#fd2929" stroke="#931818"/><path d="M382.0,423.1L383.4,420.6L382.1,419.1L380.6,421.6Z" fill="#fb4848" stroke="#962b2b"/><path d="M380.5,425.4L382.0,423.1L380.6,421.6L379.2,423.9Z" fill="#f86363" stroke="#9a3d3d"/><path d="M379.1,427.5L380.5,425.4L379.2,423.9L377.8,426.0Z" fill="#f77878" stroke="#9d4c4c"/><path d="M377.7,429.3L379.1,427.5L377.8,426.0L376.4,427.8Z" fill="#f68a8a" stroke="#9f5959"/><path d="M376.3,430.9L377.7,429.3L376.4,427.8L375.0,429.5Z" fill="#f59999" stroke="#a16565"/><path d="M374.9,432.3L376.3,430.9L375.0,429.5L373.6,430.9Z" fill="#f5a4a4" stroke="#a26c6c"/><path d="M373.4,433.6L374.9,432.3L373.6,430.9L372.1,432.2Z" fill="#f5acac" stroke="#a27272"/><path d="M372.0,434.8L373.4,433.6L372.1,432.2L370.7,433.4Z" fill="#f5b4b4" stroke="#a27777"/><path d="M370.6,435.8L372.0,434.8L370.7,433.4L369.3,434.5Z" fill="#f6baba" stroke="#a27b7b"/><path d="M369.2,436.9L370.6,435.8L369.3,434.5L367.9,435.5Z" fill="#f6c0c0" stroke="#a27f7f"/><path d="M367.7,437.9L369.2,436.9L367.9,435.5L366.5,436.5Z" fill="#f6c5c5" stroke="#c59e9e"/><path d="M366.3,438.8L367.7,437.9L366.5,436.5L365.1,437.4Z" fill="#f6caca" stroke="#c5a2a2"/><path d="M364.9,439.7L366.3,438.8L365.1,437.4L363.6,438.4Z" fill="#f6cece" stroke="#c5a5a5"/><path d="M363.5,440.6L364.9,439.7L363.6,438.4L362.2,439.2Z" fill="#f6d1d1" stroke="#c5a7a7"/><path d="M362.1,441.5L363.5,440.6L362.2,439.2L360.8,440.1Z" fill="#f6d4d4" stroke="#c5aaaa"/><path d="M360.6,442.3L362.1,441.5L360.8,440.1L359.4,440.9Z" fill="#f7d7d7" stroke="#c5acac"/><path d="M359.2,443.1L360.6,442.3L359.4,440.9L358.0,441.8Z" fill="#f7d9d9" stroke="#c5aeae"/><path d="M357.8,443.9L359.2,443.1L358.0,441.8L356.6,442.5Z" fill="#f7dcdc" stroke="#c5b0b0"/><path d="M356.4,444.7L357.8,443.9L356.6,442.5L355.2,443.3Z" fill="#f7dede" stroke="#c6b2b2"/><path d="M355.0,445.4L356.4,444.7L355.2,443.3L353.8,444.0Z" fill="#f7e0e0" stroke="#c6b3b3"/><path d="M353.6,446.1L355.0,445.4L353.8,444.0L352.3,444.8Z" fill="#f7e2e2" stroke="#c6b5b5"/><path d="M352.1,446.8L353.6,446.1L352.3,444.8L350.9,445.4Z" fill="#f7e3e3" stroke="#c6b6b6"/><path d="M350.7,447.5L352.1,446.8L350.9,445.4L349.5,446.1Z" fill="#f7e5e5" stroke="#c6b7b7"/><path d="M349.3,448.1L350.7,447.5L349.5,446.1L348.1,446.8Z" fill="#f7e6e6" stroke="#c6b8b8"/><path d="M347.9,448.8L349.3,448.1L348.1,446.8L346.7,447.4Z" fill="#f8e8e8" stroke="#c6b9b9"/><path d="M346.5,449.4L347.9,448.8L346.7,447.4L345.3,448.0Z" fill="#f8e9e9" stroke="#c6baba"/><path d="M345.0,449.9L346.5,449.4L345.3,448.0L343.8,448.6Z" fill="#f8eaea" stroke="#c6bbbb"/><path d="M343.6,450.7L345.0,449.9L343.8,448.6L342.4,449.4Z" fill="#f8ebeb" stroke="#c6bcbc"/><path d="M342.2,451.5L343.6,450.7L342.4,449.4L341.0,450.1Z" fill="#f8eeee" stroke="#c6bebe"/><path d="M340.8,452.1L342.2,451.5L341.0,450.1L339.6,450.8Z" fill="#f8efef" stroke="#c6bfbf"/><path d="M420.9,429.0L422.3,428.6L420.9,427.4L419.5,427.9Z" fill="#f8efef" stroke="#c6bfbf"/><path d="M419.4,429.5L420.9,429.0L419.5,427.9L418.0,428.3Z" fill="#f8efef" stroke="#c6bfbf"/><path d="M418.0,429.9L419.4,429.5L418.0,428.3L416.6,428.7Z" fill="#f8efef" stroke="#c6bfbf"/><path d="M416.6,430.2L418.0,429.9L416.6,428.7L415.2,429.1Z" fill="#f8efef" stroke="#c6bfbf"/><path d="M415.1,430.5L416.6,430.2L415.2,429.1L413.7,429.5Z" fill="#f8eeee" stroke="#c6bebe"/><path d="M413.7,430.3L415.1,430.5L413.7,429.5L412.3,429.6Z" fill="#f8ecec" stroke="#c6bdbd"/><path d="M412.3,429.4L413.7,430.3L412.3,429.6L410.9,429.3Z" fill="#f7e7e7" stroke="#c6b9b9"/><path d="M411.0,426.6L412.3,429.4L410.9,429.3L409.5,427.9Z" fill="#f7dbdb" stroke="#c5afaf"/><path d="M409.6,421.1L411.0,426.6L409.5,427.9L408.2,424.4Z" fill="#f6bebe" stroke="#a27e7e"/><path d="M408.3,413.7L409.6,421.1L408.2,424.4L406.8,418.0Z" fill="#f77e7e" stroke="#9e5151"/><path d="M407.0,407.3L408.3,413.7L406.8,418.0L405.5,410.4Z" fill="#fe1d1d" stroke="#921111"/><path d="M405.5,403.8L407.0,407.3L405.5,410.4L404.1,404.8Z" fill="#ff0606" stroke="#8a0303"/><path d="M404.1,402.5L405.5,403.8L404.1,404.8L402.6,402.0Z" fill="#ff0606" stroke="#8a0303"/><path d="M402.6,402.3L404.1,402.5L402.6,402.0L401.1,401.1Z" fill="#ff0505" stroke="#8a0303"/><path d="M401.1,402.6L402.6,402.3L401.1,401.1L399.6,401.1Z" fill="#ff0505" stroke="#8a0303"/><path d="M399.6,403.3L401.1,402.6L399.6,401.1L398.1,401.7Z" fill="#ff0505" stroke="#8a0303"/><path d="M398.1,404.1L399.6,403.3L398.1,401.7L396.6,402.5Z" fill="#ff0505" stroke="#8a0303"/><path d="M396.5,405.1L398.1,404.1L396.6,402.5L395.1,403.5Z" fill="#ff0505" stroke="#8a0303"/><path d="M395.0,406.4L396.5,405.1L395.1,403.5L393.6,404.7Z" fill="#ff0505" stroke="#8a0303"/><path d="M393.6,407.9L395.0,406.4L393.6,404.7L392.2,406.2Z" fill="#ff0606" stroke="#8a0303"/><path d="M392.1,409.7L393.6,407.9L392.2,406.2L390.7,408.0Z" fill="#ff0606" stroke="#8a0303"/><path d="M390.6,411.8L392.1,409.7L390.7,408.0L389.2,410.1Z" fill="#ff0606" stroke="#8a0303"/><path d="M389.1,414.1L390.6,411.8L389.2,410.1L387.7,412.5Z" fill="#ff0606" stroke="#8a0303"/><path d="M387.6,416.7L389.1,414.1L387.7,412.5L386.3,415.2Z" fill="#ff0606" stroke="#8b0303"/><path d="M386.2,419.4L387.6,416.7L386.3,415.2L384.8,417.9Z" fill="#fe1616" stroke="#8f0c0c"/><path d="M384.7,422.1L386.2,419.4L384.8,417.9L383.4,420.6Z" fill="#fd2e2e" stroke="#931b1b"/><path d="M383.3,424.6L384.7,422.1L383.4,420.6L382.0,423.1Z" fill="#fa4c4c" stroke="#972e2e"/><path d="M381.9,426.9L383.3,424.6L382.0,423.1L380.5,425.4Z" fill="#f86565" stroke="#9a3f3f"/><path d="M380.4,428.9L381.9,426.9L380.5,425.4L379.1,427.5Z" fill="#f77a7a" stroke="#9d4e4e"/><path d="M379.0,430.7L380.4,428.9L379.1,427.5L377.7,429.3Z" fill="#f68c8c" stroke="#a05b5b"/><path d="M377.6,432.3L379.0,430.7L377.7,429.3L376.3,430.9Z" fill="#f59b9b" stroke="#a26767"/><path d="M376.2,433.7L377.6,432.3L376.3,430.9L374.9,432.3Z" fill="#f5a5a5" stroke="#a26d6d"/><path d="M374.7,435.0L376.2,433.7L374.9,432.3L373.4,433.6Z" fill="#f5aeae" stroke="#a27373"/><path d="M373.3,436.2L374.7,435.0L373.4,433.6L372.0,434.8Z" fill="#f6b5b5" stroke="#a27777"/><path d="M371.9,437.2L373.3,436.2L372.0,434.8L370.6,435.8Z" fill="#f6bbbb" stroke="#a27c7c"/><path d="M370.4,438.3L371.9,437.2L370.6,435.8L369.2,436.9Z" fill="#f6c1c1" stroke="#a27f7f"/><path d="M369.0,439.3L370.4,438.3L369.2,436.9L367.7,437.9Z" fill="#f6c6c6" stroke="#c59f9f"/><path d="M367.6,440.2L369.0,439.3L367.7,437.9L366.3,438.8Z" fill="#f6cbcb" stroke="#c5a2a2"/><path d="M366.2,441.1L367.6,440.2L366.3,438.8L364.9,439.7Z" fill="#f6cfcf" stroke="#c5a5a5"/><path d="M364.7,442.0L366.2,441.1L364.9,439.7L363.5,440.6Z" fill="#f6d2d2" stroke="#c5a8a8"/><path d="M363.3,442.9L364.7,442.0L363.5,440.6L362.1,441.5Z" fill="#f6d5d5" stroke="#c5aaaa"/><path d="M361.9,443.7L363.3,442.9L362.1,441.5L360.6,442.3Z" fill="#f7d7d7" stroke="#c5acac"/><path d="M360.5,444.5L361.9,443.7L360.6,442.3L359.2,443.1Z" fill="#f7dada" stroke="#c5aeae"/><path d="M359.0,445.3L360.5,444.5L359.2,443.1L357.8,443.9Z" fill="#f7dcdc" stroke="#c5b0b0"/><path d="M357.6,446.0L359.0,445.3L357.8,443.9L356.4,444.7Z" fill="#f7dede" stroke="#c6b2b2"/><path d="M356.2,446.8L357.6,446.0L356.4,444.7L355.0,445.4Z" fill="#f7e0e0" stroke="#c6b3b3"/><path d="M354.8,447.5L356.2,446.8L355.0,445.4L353.6,446.1Z" fill="#f7e2e2" stroke="#c6b5b5"/><path d="M353.4,448.2L354.8,447.5L353.6,446.1L352.1,446.8Z" fill="#f7e4e4" stroke="#c6b6b6"/><path d="M351.9,448.9L353.4,448.2L352.1,446.8L350.7,447.5Z" fill="#f7e5e5" stroke="#c6b7b7"/><path d="M350.5,449.5L351.9,448.9L350.7,447.5L349.3,448.1Z" fill="#f7e7e7" stroke="#c6b8b8"/><path d="M349.1,450.1L350.5,449.5L349.3,448.1L347.9,448.8Z" fill="#f8e8e8" stroke="#c6b9b9"/><path d="M347.7,450.7L349.1,450.1L347.9,448.8L346.5,449.4Z" fill="#f8e9e9" stroke="#c6baba"/><path d="M346.2,451.3L347.7,450.7L346.5,449.4L345.0,449.9Z" fill="#f8eaea" stroke="#c6bbbb"/><path d="M344.8,452.1L346.2,451.3L345.0,449.9L343.6,450.7Z" fill="#f8ebeb" stroke="#c6bcbc"/><path d="M343.4,452.9L344.8,452.1L343.6,450.7L342.2,451.5Z" fill="#f8eeee" stroke="#c6bebe"/><path d="M342.0,453.5L343.4,452.9L342.2,451.5L340.8,452.1Z" fill="#f8efef" stroke="#c6bfbf"/><path d="M422.3,430.2L423.7,429.7L422.3,428.6L420.9,429.0Z" fill="#f8efef" stroke="#c6bfbf"/><path d="M420.8,430.6L422.3,430.2L420.9,429.0L419.4,429.5Z" fill="#f8efef" stroke="#c6bfbf"/><path d="M419.4,431.0L420.8,430.6L419.4,429.5L418.0,429.9Z" fill="#f8efef" stroke="#c6bfbf"/><path d="M418.0,431.3L419.4,431.0L418.0,429.9L416.6,430.2Z" fill="#f8eeee" stroke="#c6bebe"/><path d="M416.5,431.3L418.0,431.3L416.6,430.2L415.1,430.5Z" fill="#f8eded" stroke="#c6bdbd"/><path d="M415.1,430.6L416.5,431.3L415.1,430.5L413.7,430.3Z" fill="#f8e9e9" stroke="#c6baba"/><path d="M413.8,428.5L415.1,430.6L413.7,430.3L412.3,429.4Z" fill="#f7e0e0" stroke="#c6b3b3"/><path d="M412.4,423.9L413.8,428.5L412.3,429.4L411.0,426.6Z" fill="#f6cbcb" stroke="#c5a3a3"/><path d="M411.2,416.9L412.4,423.9L411.0,426.6L409.6,421.1Z" fill="#f59898" stroke="#a16464"/><path d="M409.8,410.1L411.2,416.9L409.6,421.1L408.3,413.7Z" fill="#fb3d3d" stroke="#952424"/><path d="M408.4,405.8L409.8,410.1L408.3,413.7L407.0,407.3Z" fill="#ff0606" stroke="#8a0303"/><path d="M407.0,404.0L408.4,405.8L407.0,407.3L405.5,403.8Z" fill="#ff0606" stroke="#8a0303"/><path d="M405.5,403.5L407.0,404.0L405.5,403.8L404.1,402.5Z" fill="#ff0505" stroke="#8a0303"/><path d="M404.0,403.7L405.5,403.5L404.1,402.5L402.6,402.3Z" fill="#ff0505" stroke="#8a0303"/><path d="M402.5,404.2L404.0,403.7L402.6,402.3L401.1,402.6Z" fill="#ff0505" stroke="#8a0303"/><path d="M401.0,404.9L402.5,404.2L401.1,402.6L399.6,403.3Z" fill="#ff0505" stroke="#8a0303"/><path d="M399.5,405.8L401.0,404.9L399.6,403.3L398.1,404.1Z" fill="#ff0505" stroke="#8a0303"/><path d="M398.0,406.8L399.5,405.8L398.1,404.1L396.5,405.1Z" fill="#ff0505" stroke="#8a0303"/><path d="M396.4,408.1L398.0,406.8L396.5,405.1L395.0,406.4Z" fill="#ff0505" stroke="#8a0303"/><path d="M394.9,409.6L396.4,408.1L395.0,406.4L393.6,407.9Z" fill="#ff0606" stroke="#8a0303"/><path d="M393.4,411.3L394.9,409.6L393.6,407.9L392.1,409.7Z" fill="#ff0606" stroke="#8a0303"/><path d="M392.0,413.4L393.4,411.3L392.1,409.7L390.6,411.8Z" fill="#ff0606" stroke="#8a0303"/><path d="M390.5,415.8L392.0,413.4L390.6,411.8L389.1,414.1Z" fill="#ff0606" stroke="#8a0303"/><path d="M389.0,418.3L390.5,415.8L389.1,414.1L387.6,416.7Z" fill="#ff0808" stroke="#8b0404"/><path d="M387.5,421.0L389.0,418.3L387.6,416.7L386.2,419.4Z" fill="#fe1818" stroke="#900e0e"/><path d="M386.1,423.6L387.5,421.0L386.2,419.4L384.7,422.1Z" fill="#fc3232" stroke="#941d1d"/><path d="M384.6,426.1L386.1,423.6L384.7,422.1L383.3,424.6Z" fill="#fa4f4f" stroke="#973030"/><path d="M383.2,428.4L384.6,426.1L383.3,424.6L381.9,426.9Z" fill="#f86868" stroke="#9a4141"/><path d="M381.8,430.4L383.2,428.4L381.9,426.9L380.4,428.9Z" fill="#f77d7d" stroke="#9d5050"/><path d="M380.3,432.2L381.8,430.4L380.4,428.9L379.0,430.7Z" fill="#f68e8e" stroke="#a05d5d"/><path d="M378.9,433.7L380.3,432.2L379.0,430.7L377.6,432.3Z" fill="#f59d9d" stroke="#a26868"/><path d="M377.5,435.1L378.9,433.7L377.6,432.3L376.2,433.7Z" fill="#f5a7a7" stroke="#a26e6e"/><path d="M376.0,436.4L377.5,435.1L376.2,433.7L374.7,435.0Z" fill="#f5afaf" stroke="#a27373"/><path d="M374.6,437.6L376.0,436.4L374.7,435.0L373.3,436.2Z" fill="#f6b6b6" stroke="#a27878"/><path d="M373.1,438.6L374.6,437.6L373.3,436.2L371.9,437.2Z" fill="#f6bcbc" stroke="#a27c7c"/><path d="M371.7,439.7L373.1,438.6L371.9,437.2L370.4,438.3Z" fill="#f6c2c2" stroke="#a28080"/><path d="M370.3,440.6L371.7,439.7L370.4,438.3L369.0,439.3Z" fill="#f6c7c7" stroke="#c59f9f"/><path d="M368.9,441.6L370.3,440.6L369.0,439.3L367.6,440.2Z" fill="#f6cccc" stroke="#c5a3a3"/><path d="M367.4,442.5L368.9,441.6L367.6,440.2L366.2,441.1Z" fill="#f6cfcf" stroke="#c5a6a6"/><path d="M366.0,443.4L367.4,442.5L366.2,441.1L364.7,442.0Z" fill="#f6d2d2" stroke="#c5a8a8"/><path d="M364.6,444.2L366.0,443.4L364.7,442.0L363.3,442.9Z" fill="#f6d5d5" stroke="#c5aaaa"/><path d="M363.1,445.1L364.6,444.2L363.3,442.9L361.9,443.7Z" fill="#f7d8d8" stroke="#c5acac"/><path d="M361.7,445.9L363.1,445.1L361.9,443.7L360.5,444.5Z" fill="#f7dada" stroke="#c5aeae"/><path d="M360.3,446.7L361.7,445.9L360.5,444.5L359.0,445.3Z" fill="#f7dcdc" stroke="#c5b0b0"/><path d="M358.9,447.4L360.3,446.7L359.0,445.3L357.6,446.0Z" fill="#f7dede" stroke="#c6b2b2"/><path d="M357.4,448.2L358.9,447.4L357.6,446.0L356.2,446.8Z" fill="#f7e0e0" stroke="#c6b3b3"/><path d="M356.0,448.9L357.4,448.2L356.2,446.8L354.8,447.5Z" fill="#f7e2e2" stroke="#c6b5b5"/><path d="M354.6,449.6L356.0,448.9L354.8,447.5L353.4,448.2Z" fill="#f7e4e4" stroke="#c6b6b6"/><path d="M353.1,450.2L354.6,449.6L353.4,448.2L351.9,448.9Z" fill="#f7e5e5" stroke="#c6b7b7"/><path d="M351.7,450.9L353.1,450.2L351.9,448.9L350.5,449.5Z" fill="#f7e7e7" stroke="#c6b9b9"/><path d="M350.3,451.5L351.7,450.9L350.5,449.5L349.1,450.1Z" fill="#f8e8e8" stroke="#c6baba"/><path d="M348.9,452.1L350.3,451.5L349.1,450.1L347.7,450.7Z" fill="#f8e9e9" stroke="#c6baba"/><path d="M347.4,452.7L348.9,452.1L347.7,450.7L346.2,451.3Z" fill="#f8eaea" stroke="#c6bbbb"/><path d="M346.0,453.5L347.4,452.7L346.2,451.3L344.8,452.1Z" fill="#f8ecec" stroke="#c6bcbc"/><path d="M344.6,454.2L346.0,453.5L344.8,452.1L343.4,452.9Z" fill="#f8eeee" stroke="#c6bebe"/><path d="M343.2,454.9L344.6,454.2L343.4,452.9L342.0,453.5Z" fill="#f8efef" stroke="#c6bfbf"/><path d="M423.7,431.3L425.1,430.8L423.7,429.7L422.3,430.2Z" fill="#f8eeee" stroke="#c6bfbf"/><path d="M422.2,431.7L423.7,431.3L422.3,430.2L420.8,430.6Z" fill="#f8eeee" stroke="#c6bfbf"/><path d="M420.8,432.0L422.2,431.7L420.8,430.6L419.4,431.0Z" fill="#f8eeee" stroke="#c6bebe"/><path d="M419.4,432.1L420.8,432.0L419.4,431.0L418.0,431.3Z" fill="#f8eded" stroke="#c6bebe"/><path d="M417.9,431.8L419.4,432.1L418.0,431.3L416.5,431.3Z" fill="#f8eaea" stroke="#c6bbbb"/><path d="M416.6,430.2L417.9,431.8L416.5,431.3L415.1,430.6Z" fill="#f7e3e3" stroke="#c6b6b6"/><path d="M415.2,426.5L416.6,430.2L415.1,430.6L413.8,428.5Z" fill="#f6d3d3" stroke="#c5a9a9"/><path d="M414.0,420.1L415.2,426.5L413.8,428.5L412.4,423.9Z" fill="#f5aaaa" stroke="#a27070"/><path d="M412.7,413.0L414.0,420.1L412.4,423.9L411.2,416.9Z" fill="#f95d5d" stroke="#993939"/><path d="M411.3,408.0L412.7,413.0L411.2,416.9L409.8,410.1Z" fill="#ff0c0c" stroke="#8d0707"/><path d="M409.9,405.6L411.3,408.0L409.8,410.1L408.4,405.8Z" fill="#ff0606" stroke="#8a0303"/><path d="M408.4,404.9L409.9,405.6L408.4,405.8L407.0,404.0Z" fill="#ff0606" stroke="#8a0303"/><path d="M406.9,404.9L408.4,404.9L407.0,404.0L405.5,403.5Z" fill="#ff0505" stroke="#8a0303"/><path d="M405.4,405.3L406.9,404.9L405.5,403.5L404.0,403.7Z" fill="#ff0505" stroke="#8a0303"/><path d="M403.9,405.9L405.4,405.3L404.0,403.7L402.5,404.2Z" fill="#ff0505" stroke="#8a0303"/><path d="M402.4,406.6L403.9,405.9L402.5,404.2L401.0,404.9Z" fill="#ff0505" stroke="#8a0303"/><path d="M400.9,407.5L402.4,406.6L401.0,404.9L399.5,405.8Z" fill="#ff0505" stroke="#8a0303"/><path d="M399.4,408.5L400.9,407.5L399.5,405.8L398.0,406.8Z" fill="#ff0505" stroke="#8a0303"/><path d="M397.8,409.8L399.4,408.5L398.0,406.8L396.4,408.1Z" fill="#ff0606" stroke="#8a0303"/><path d="M396.3,411.2L397.8,409.8L396.4,408.1L394.9,409.6Z" fill="#ff0606" stroke="#8a0303"/><path d="M394.8,413.0L396.3,411.2L394.9,409.6L393.4,411.3Z" fill="#ff0606" stroke="#8a0303"/><path d="M393.3,415.0L394.8,413.0L393.4,411.3L392.0,413.4Z" fill="#ff0606" stroke="#8a0303"/><path d="M391.8,417.4L393.3,415.0L392.0,413.4L390.5,415.8Z" fill="#ff0606" stroke="#8a0303"/><path d="M390.4,419.9L391.8,417.4L390.5,415.8L389.0,418.3Z" fill="#ff0b0b" stroke="#8c0606"/><path d="M388.9,422.5L390.4,419.9L389.0,418.3L387.5,421.0Z" fill="#fe1b1b" stroke="#910f0f"/><path d="M387.4,425.1L388.9,422.5L387.5,421.0L386.1,423.6Z" fill="#fc3636" stroke="#942020"/><path d="M386.0,427.6L387.4,425.1L386.1,423.6L384.6,426.1Z" fill="#fa5353" stroke="#983333"/><path d="M384.5,429.8L386.0,427.6L384.6,426.1L383.2,428.4Z" fill="#f86b6b" stroke="#9b4343"/><path d="M383.1,431.8L384.5,429.8L383.2,428.4L381.8,430.4Z" fill="#f77f7f" stroke="#9e5151"/><path d="M381.6,433.6L383.1,431.8L381.8,430.4L380.3,432.2Z" fill="#f69191" stroke="#a05e5e"/><path d="M380.2,435.2L381.6,433.6L380.3,432.2L378.9,433.7Z" fill="#f59e9e" stroke="#a26969"/><path d="M378.7,436.5L380.2,435.2L378.9,433.7L377.5,435.1Z" fill="#f5a8a8" stroke="#a26f6f"/><path d="M377.3,437.8L378.7,436.5L377.5,435.1L376.0,436.4Z" fill="#f5b0b0" stroke="#a27474"/><path d="M375.9,438.9L377.3,437.8L376.0,436.4L374.6,437.6Z" fill="#f6b7b7" stroke="#a27979"/><path d="M374.4,440.0L375.9,438.9L374.6,437.6L373.1,438.6Z" fill="#f6bdbd" stroke="#a27d7d"/><path d="M373.0,441.0L374.4,440.0L373.1,438.6L371.7,439.7Z" fill="#f6c3c3" stroke="#a28181"/><path d="M371.6,442.0L373.0,441.0L371.7,439.7L370.3,440.6Z" fill="#f6c8c8" stroke="#c5a0a0"/><path d="M370.1,443.0L371.6,442.0L370.3,440.6L368.9,441.6Z" fill="#f6cdcd" stroke="#c5a4a4"/><path d="M368.7,443.9L370.1,443.0L368.9,441.6L367.4,442.5Z" fill="#f6d0d0" stroke="#c5a6a6"/><path d="M367.2,444.7L368.7,443.9L367.4,442.5L366.0,443.4Z" fill="#f6d3d3" stroke="#c5a9a9"/><path d="M365.8,445.6L367.2,444.7L366.0,443.4L364.6,444.2Z" fill="#f6d5d5" stroke="#c5abab"/><path d="M364.4,446.4L365.8,445.6L364.6,444.2L363.1,445.1Z" fill="#f7d8d8" stroke="#c5adad"/><path d="M362.9,447.2L364.4,446.4L363.1,445.1L361.7,445.9Z" fill="#f7dada" stroke="#c5afaf"/><path d="M361.5,448.0L362.9,447.2L361.7,445.9L360.3,446.7Z" fill="#f7dddd" stroke="#c6b0b0"/><path d="M360.1,448.8L361.5,448.0L360.3,446.7L358.9,447.4Z" fill="#f7dfdf" stroke="#c6b2b2"/><path d="M358.6,449.5L360.1,448.8L358.9,447.4L357.4,448.2Z" fill="#f7e1e1" stroke="#c6b4b4"/><path d="M357.2,450.2L358.6,449.5L357.4,448.2L356.0,448.9Z" fill="#f7e2e2" stroke="#c6b5b5"/><path d="M355.8,450.9L357.2,450.2L356.0,448.9L354.6,449.6Z" fill="#f7e4e4" stroke="#c6b6b6"/><path d="M354.4,451.6L355.8,450.9L354.6,449.6L353.1,450.2Z" fill="#f7e5e5" stroke="#c6b8b8"/><path d="M352.9,452.2L354.4,451.6L353.1,450.2L351.7,450.9Z" fill="#f7e7e7" stroke="#c6b9b9"/><path d="M351.5,452.9L352.9,452.2L351.7,450.9L350.3,451.5Z" fill="#f8e8e8" stroke="#c6baba"/><path d="M350.1,453.5L351.5,452.9L350.3,451.5L348.9,452.1Z" fill="#f8e9e9" stroke="#c6bbbb"/><path d="M348.6,454.1L350.1,453.5L348.9,452.1L347.4,452.7Z" fill="#f8eaea" stroke="#c6bbbb"/><path d="M347.2,454.9L348.6,454.1L347.4,452.7L346.0,453.5Z" fill="#f8ecec" stroke="#c6bdbd"/><path d="M345.8,455.6L347.2,454.9L346.0,453.5L344.6,454.2Z" fill="#f8eeee" stroke="#c6bebe"/><path d="M344.3,456.3L345.8,455.6L344.6,454.2L343.2,454.9Z" fill="#f8efef" stroke="#c6bfbf"/><path d="M425.1,432.4L426.5,431.9L425.1,430.8L423.7,431.3Z" fill="#f8eeee" stroke="#c6bebe"/><path d="M423.6,432.7L425.1,432.4L423.7,431.3L422.2,431.7Z" fill="#f8eeee" stroke="#c6bebe"/><path d="M422.2,432.9L423.6,432.7L422.2,431.7L420.8,432.0Z" fill="#f8eded" stroke="#c6bdbd"/><path d="M420.8,432.8L422.2,432.9L420.8,432.0L419.4,432.1Z" fill="#f8ebeb" stroke="#c6bcbc"/><path d="M419.4,431.7L420.8,432.8L419.4,432.1L417.9,431.8Z" fill="#f7e5e5" stroke="#c6b7b7"/><path d="M418.0,428.7L419.4,431.7L417.9,431.8L416.6,430.2Z" fill="#f7d9d9" stroke="#c5adad"/><path d="M416.8,423.1L418.0,428.7L416.6,430.2L415.2,426.5Z" fill="#f6b9b9" stroke="#a27a7a"/><path d="M415.5,416.0L416.8,423.1L415.2,426.5L414.0,420.1Z" fill="#f77878" stroke="#9d4c4c"/><path d="M414.2,410.4L415.5,416.0L414.0,420.1L412.7,413.0Z" fill="#fe1c1c" stroke="#911010"/><path d="M412.8,407.4L414.2,410.4L412.7,413.0L411.3,408.0Z" fill="#ff0606" stroke="#8a0303"/><path d="M411.4,406.3L412.8,407.4L411.3,408.0L409.9,405.6Z" fill="#ff0606" stroke="#8a0303"/><path d="M409.9,406.2L411.4,406.3L409.9,405.6L408.4,404.9Z" fill="#ff0505" stroke="#8a0303"/><path d="M408.3,406.5L409.9,406.2L408.4,404.9L406.9,404.9Z" fill="#ff0505" stroke="#8a0303"/><path d="M406.8,407.0L408.3,406.5L406.9,404.9L405.4,405.3Z" fill="#ff0505" stroke="#8a0303"/><path d="M405.3,407.6L406.8,407.0L405.4,405.3L403.9,405.9Z" fill="#ff0505" stroke="#8a0303"/><path d="M403.8,408.3L405.3,407.6L403.9,405.9L402.4,406.6Z" fill="#ff0505" stroke="#8a0303"/><path d="M402.3,409.2L403.8,408.3L402.4,406.6L400.9,407.5Z" fill="#ff0505" stroke="#8a0303"/><path d="M400.8,410.2L402.3,409.2L400.9,407.5L399.4,408.5Z" fill="#ff0606" stroke="#8a0303"/><path d="M399.2,411.5L400.8,410.2L399.4,408.5L397.8,409.8Z" fill="#ff0606" stroke="#8a0303"/><path d="M397.7,412.9L399.2,411.5L397.8,409.8L396.3,411.2Z" fill="#ff0606" stroke="#8a0303"/><path d="M396.2,414.7L397.7,412.9L396.3,411.2L394.8,413.0Z" fill="#ff0606" stroke="#8a0303"/><path d="M394.7,416.7L396.2,414.7L394.8,413.0L393.3,415.0Z" fill="#ff0606" stroke="#8a0303"/><path d="M393.2,419.0L394.7,416.7L393.3,415.0L391.8,417.4Z" fill="#ff0606" stroke="#8a0303"/><path d="M391.7,421.5L393.2,419.0L391.8,417.4L390.4,419.9Z" fill="#ff0d0d" stroke="#8d0707"/><path d="M390.2,424.1L391.7,421.5L390.4,419.9L388.9,422.5Z" fill="#fe1d1d" stroke="#911111"/><path d="M388.8,426.7L390.2,424.1L388.9,422.5L387.4,425.1Z" fill="#fc3a3a" stroke="#952323"/><path d="M387.3,429.1L388.8,426.7L387.4,425.1L386.0,427.6Z" fill="#f95757" stroke="#983535"/><path d="M385.8,431.3L387.3,429.1L386.0,427.6L384.5,429.8Z" fill="#f86e6e" stroke="#9b4545"/><path d="M384.4,433.3L385.8,431.3L384.5,429.8L383.1,431.8Z" fill="#f78282" stroke="#9e5353"/><path d="M382.9,435.0L384.4,433.3L383.1,431.8L381.6,433.6Z" fill="#f59393" stroke="#a16060"/><path d="M381.5,436.6L382.9,435.0L381.6,433.6L380.2,435.2Z" fill="#f5a0a0" stroke="#a26a6a"/><path d="M380.0,438.0L381.5,436.6L380.2,435.2L378.7,436.5Z" fill="#f5a9a9" stroke="#a27070"/><path d="M378.6,439.2L380.0,438.0L378.7,436.5L377.3,437.8Z" fill="#f5b1b1" stroke="#a27575"/><path d="M377.2,440.3L378.6,439.2L377.3,437.8L375.9,438.9Z" fill="#f6b8b8" stroke="#a27a7a"/><path d="M375.7,441.4L377.2,440.3L375.9,438.9L374.4,440.0Z" fill="#f6bebe" stroke="#a27e7e"/><path d="M374.3,442.4L375.7,441.4L374.4,440.0L373.0,441.0Z" fill="#f6c4c4" stroke="#c59d9d"/><path d="M372.8,443.4L374.3,442.4L373.0,441.0L371.6,442.0Z" fill="#f6c9c9" stroke="#c5a1a1"/><path d="M371.4,444.3L372.8,443.4L371.6,442.0L370.1,443.0Z" fill="#f6cdcd" stroke="#c5a4a4"/><path d="M369.9,445.2L371.4,444.3L370.1,443.0L368.7,443.9Z" fill="#f6d0d0" stroke="#c5a7a7"/><path d="M368.5,446.1L369.9,445.2L368.7,443.9L367.2,444.7Z" fill="#f6d3d3" stroke="#c5a9a9"/><path d="M367.1,447.0L368.5,446.1L367.2,444.7L365.8,445.6Z" fill="#f7d6d6" stroke="#c5abab"/><path d="M365.6,447.8L367.1,447.0L365.8,445.6L364.4,446.4Z" fill="#f7d8d8" stroke="#c5adad"/><path d="M364.2,448.6L365.6,447.8L364.4,446.4L362.9,447.2Z" fill="#f7dbdb" stroke="#c5afaf"/><path d="M362.7,449.4L364.2,448.6L362.9,447.2L361.5,448.0Z" fill="#f7dddd" stroke="#c6b1b1"/><path d="M361.3,450.2L362.7,449.4L361.5,448.0L360.1,448.8Z" fill="#f7dfdf" stroke="#c6b2b2"/><path d="M359.9,450.9L361.3,450.2L360.1,448.8L358.6,449.5Z" fill="#f7e1e1" stroke="#c6b4b4"/><path d="M358.4,451.6L359.9,450.9L358.6,449.5L357.2,450.2Z" fill="#f7e3e3" stroke="#c6b5b5"/><path d="M357.0,452.3L358.4,451.6L357.2,450.2L355.8,450.9Z" fill="#f7e4e4" stroke="#c6b7b7"/><path d="M355.6,453.0L357.0,452.3L355.8,450.9L354.4,451.6Z" fill="#f7e6e6" stroke="#c6b8b8"/><path d="M354.1,453.6L355.6,453.0L354.4,451.6L352.9,452.2Z" fill="#f7e7e7" stroke="#c6b9b9"/><path d="M352.7,454.2L354.1,453.6L352.9,452.2L351.5,452.9Z" fill="#f8e8e8" stroke="#c6baba"/><path d="M351.2,454.9L352.7,454.2L351.5,452.9L350.1,453.5Z" fill="#f8e9e9" stroke="#c6bbbb"/><path d="M349.8,455.4L351.2,454.9L350.1,453.5L348.6,454.1Z" fill="#f8eaea" stroke="#c6bbbb"/><path d="M348.4,456.2L349.8,455.4L348.6,454.1L347.2,454.9Z" fill="#f8ecec" stroke="#c6bdbd"/><path d="M347.0,457.0L348.4,456.2L347.2,454.9L345.8,455.6Z" fill="#f8eeee" stroke="#c6bebe"/><path d="M345.5,457.6L347.0,457.0L345.8,455.6L344.3,456.3Z" fill="#f8efef" stroke="#c6bfbf"/><path d="M426.5,433.4L427.9,433.0L426.5,431.9L425.1,432.4Z" fill="#f8eded" stroke="#c6bebe"/><path d="M425.0,433.7L426.5,433.4L425.1,432.4L423.6,432.7Z" fill="#f8eded" stroke="#c6bdbd"/><path d="M423.6,433.7L425.0,433.7L423.6,432.7L422.2,432.9Z" fill="#f8ebeb" stroke="#c6bcbc"/><path d="M422.2,432.9L423.6,433.7L422.2,432.9L420.8,432.8Z" fill="#f7e7e7" stroke="#c6b9b9"/><path d="M420.9,430.7L422.2,432.9L420.8,432.8L419.4,431.7Z" fill="#f7dddd" stroke="#c6b1b1"/><path d="M419.6,425.9L420.9,430.7L419.4,431.7L418.0,428.7Z" fill="#f6c6c6" stroke="#c59f9f"/><path d="M418.4,419.1L419.6,425.9L418.0,428.7L416.8,423.1Z" fill="#f69191" stroke="#a05f5f"/><path d="M417.1,412.9L418.4,419.1L416.8,423.1L415.5,416.0Z" fill="#fc3a3a" stroke="#952222"/><path d="M415.7,409.3L417.1,412.9L415.5,416.0L414.2,410.4Z" fill="#ff0606" stroke="#8a0303"/><path d="M414.3,407.8L415.7,409.3L414.2,410.4L412.8,407.4Z" fill="#ff0606" stroke="#8a0303"/><path d="M412.8,407.5L414.3,407.8L412.8,407.4L411.4,406.3Z" fill="#ff0606" stroke="#8a0303"/><path d="M411.3,407.7L412.8,407.5L411.4,406.3L409.9,406.2Z" fill="#ff0505" stroke="#8a0303"/><path d="M409.8,408.1L411.3,407.7L409.9,406.2L408.3,406.5Z" fill="#ff0505" stroke="#8a0303"/><path d="M408.2,408.7L409.8,408.1L408.3,406.5L406.8,407.0Z" fill="#ff0505" stroke="#8a0303"/><path d="M406.7,409.3L408.2,408.7L406.8,407.0L405.3,407.6Z" fill="#ff0505" stroke="#8a0303"/><path d="M405.2,410.1L406.7,409.3L405.3,407.6L403.8,408.3Z" fill="#ff0505" stroke="#8a0303"/><path d="M403.7,411.0L405.2,410.1L403.8,408.3L402.3,409.2Z" fill="#ff0606" stroke="#8a0303"/><path d="M402.1,412.0L403.7,411.0L402.3,409.2L400.8,410.2Z" fill="#ff0606" stroke="#8a0303"/><path d="M400.6,413.2L402.1,412.0L400.8,410.2L399.2,411.5Z" fill="#ff0606" stroke="#8a0303"/><path d="M399.1,414.7L400.6,413.2L399.2,411.5L397.7,412.9Z" fill="#ff0606" stroke="#8a0303"/><path d="M397.6,416.4L399.1,414.7L397.7,412.9L396.2,414.7Z" fill="#ff0606" stroke="#8a0303"/><path d="M396.1,418.4L397.6,416.4L396.2,414.7L394.7,416.7Z" fill="#ff0606" stroke="#8a0303"/><path d="M394.6,420.6L396.1,418.4L394.7,416.7L393.2,419.0Z" fill="#ff0606" stroke="#8a0303"/><path d="M393.1,423.1L394.6,420.6L393.2,419.0L391.7,421.5Z" fill="#ff1010" stroke="#8e0909"/><path d="M391.6,425.7L393.1,423.1L391.7,421.5L390.2,424.1Z" fill="#fe2222" stroke="#921313"/><path d="M390.1,428.2L391.6,425.7L390.2,424.1L388.8,426.7Z" fill="#fb3f3f" stroke="#952525"/><path d="M388.6,430.6L390.1,428.2L388.8,426.7L387.3,429.1Z" fill="#f95b5b" stroke="#993838"/><path d="M387.2,432.8L388.6,430.6L387.3,429.1L385.8,431.3Z" fill="#f87171" stroke="#9c4747"/><path d="M385.7,434.8L387.2,432.8L385.8,431.3L384.4,433.3Z" fill="#f68484" stroke="#9f5555"/><path d="M384.2,436.5L385.7,434.8L384.4,433.3L382.9,435.0Z" fill="#f59595" stroke="#a16262"/><path d="M382.8,438.0L384.2,436.5L382.9,435.0L381.5,436.6Z" fill="#f5a1a1" stroke="#a26b6b"/><path d="M381.3,439.4L382.8,438.0L381.5,436.6L380.0,438.0Z" fill="#f5abab" stroke="#a27171"/><path d="M379.9,440.6L381.3,439.4L380.0,438.0L378.6,439.2Z" fill="#f5b2b2" stroke="#a27676"/><path d="M378.4,441.7L379.9,440.6L378.6,439.2L377.2,440.3Z" fill="#f6b9b9" stroke="#a27a7a"/><path d="M377.0,442.8L378.4,441.7L377.2,440.3L375.7,441.4Z" fill="#f6bfbf" stroke="#a27e7e"/><path d="M375.5,443.8L377.0,442.8L375.7,441.4L374.3,442.4Z" fill="#f6c5c5" stroke="#c59d9d"/><path d="M374.1,444.8L375.5,443.8L374.3,442.4L372.8,443.4Z" fill="#f6caca" stroke="#c5a1a1"/><path d="M372.6,445.7L374.1,444.8L372.8,443.4L371.4,444.3Z" fill="#f6cece" stroke="#c5a5a5"/><path d="M371.2,446.6L372.6,445.7L371.4,444.3L369.9,445.2Z" fill="#f6d1d1" stroke="#c5a7a7"/><path d="M369.8,447.5L371.2,446.6L369.9,445.2L368.5,446.1Z" fill="#f6d4d4" stroke="#c5a9a9"/><path d="M368.3,448.3L369.8,447.5L368.5,446.1L367.1,447.0Z" fill="#f7d6d6" stroke="#c5abab"/><path d="M366.9,449.2L368.3,448.3L367.1,447.0L365.6,447.8Z" fill="#f7d9d9" stroke="#c5adad"/><path d="M365.4,450.0L366.9,449.2L365.6,447.8L364.2,448.6Z" fill="#f7dbdb" stroke="#c5afaf"/><path d="M364.0,450.8L365.4,450.0L364.2,448.6L362.7,449.4Z" fill="#f7dddd" stroke="#c6b1b1"/><path d="M362.5,451.5L364.0,450.8L362.7,449.4L361.3,450.2Z" fill="#f7dfdf" stroke="#c6b3b3"/><path d="M361.1,452.3L362.5,451.5L361.3,450.2L359.9,450.9Z" fill="#f7e1e1" stroke="#c6b4b4"/><path d="M359.7,453.0L361.1,452.3L359.9,450.9L358.4,451.6Z" fill="#f7e3e3" stroke="#c6b5b5"/><path d="M358.2,453.7L359.7,453.0L358.4,451.6L357.0,452.3Z" fill="#f7e4e4" stroke="#c6b7b7"/><path d="M356.8,454.3L358.2,453.7L357.0,452.3L355.6,453.0Z" fill="#f7e6e6" stroke="#c6b8b8"/><path d="M355.3,455.0L356.8,454.3L355.6,453.0L354.1,453.6Z" fill="#f7e7e7" stroke="#c6b9b9"/><path d="M353.9,455.6L355.3,455.0L354.1,453.6L352.7,454.2Z" fill="#f8e8e8" stroke="#c6baba"/><path d="M352.4,456.2L353.9,455.6L352.7,454.2L351.2,454.9Z" fill="#f8e9e9" stroke="#c6bbbb"/><path d="M351.0,456.8L352.4,456.2L351.2,454.9L349.8,455.4Z" fill="#f8eaea" stroke="#c6bbbb"/><path d="M349.6,457.6L351.0,456.8L349.8,455.4L348.4,456.2Z" fill="#f8ecec" stroke="#c6bdbd"/><path d="M348.1,458.3L349.6,457.6L348.4,456.2L347.0,457.0Z" fill="#f8eeee" stroke="#c6bebe"/><path d="M346.7,459.0L348.1,458.3L347.0,457.0L345.5,457.6Z" fill="#f8efef" stroke="#c6bfbf"/><path d="M427.9,434.3L429.3,434.0L427.9,433.0L426.5,433.4Z" fill="#f8ecec" stroke="#c6bdbd"/><path d="M426.5,434.5L427.9,434.3L426.5,433.4L425.0,433.7Z" fill="#f8ebeb" stroke="#c6bcbc"/><path d="M425.0,434.0L426.5,434.5L425.0,433.7L423.6,433.7Z" fill="#f8e8e8" stroke="#c6b9b9"/><path d="M423.7,432.4L425.0,434.0L423.6,433.7L422.2,432.9Z" fill="#f7e0e0" stroke="#c6b3b3"/><path d="M422.4,428.5L423.7,432.4L422.2,432.9L420.9,430.7Z" fill="#f6d0d0" stroke="#c5a6a6"/><path d="M421.2,422.2L422.4,428.5L420.9,430.7L419.6,425.9Z" fill="#f5a5a5" stroke="#a26d6d"/><path d="M420.0,415.7L421.2,422.2L419.6,425.9L418.4,419.1Z" fill="#f95959" stroke="#983636"/><path d="M418.6,411.4L420.0,415.7L418.4,419.1L417.1,412.9Z" fill="#ff0e0e" stroke="#8d0808"/><path d="M417.2,409.5L418.6,411.4L417.1,412.9L415.7,409.3Z" fill="#ff0606" stroke="#8a0303"/><path d="M415.7,408.9L417.2,409.5L415.7,409.3L414.3,407.8Z" fill="#ff0606" stroke="#8a0303"/><path d="M414.2,409.0L415.7,408.9L414.3,407.8L412.8,407.5Z" fill="#ff0606" stroke="#8a0303"/><path d="M412.7,409.4L414.2,409.0L412.8,407.5L411.3,407.7Z" fill="#ff0505" stroke="#8a0303"/><path d="M411.2,409.9L412.7,409.4L411.3,407.7L409.8,408.1Z" fill="#ff0505" stroke="#8a0303"/><path d="M409.6,410.5L411.2,409.9L409.8,408.1L408.2,408.7Z" fill="#ff0505" stroke="#8a0303"/><path d="M408.1,411.1L409.6,410.5L408.2,408.7L406.7,409.3Z" fill="#ff0606" stroke="#8a0303"/><path d="M406.6,411.9L408.1,411.1L406.7,409.3L405.2,410.1Z" fill="#ff0606" stroke="#8a0303"/><path d="M405.1,412.7L406.6,411.9L405.2,410.1L403.7,411.0Z" fill="#ff0606" stroke="#8a0303"/><path d="M403.5,413.8L405.1,412.7L403.7,411.0L402.1,412.0Z" fill="#ff0606" stroke="#8a0303"/><path d="M402.0,415.0L403.5,413.8L402.1,412.0L400.6,413.2Z" fill="#ff0606" stroke="#8a0303"/><path d="M400.5,416.4L402.0,415.0L400.6,413.2L399.1,414.7Z" fill="#ff0606" stroke="#8a0303"/><path d="M399.0,418.1L400.5,416.4L399.1,414.7L397.6,416.4Z" fill="#ff0606" stroke="#8a0303"/><path d="M397.4,420.1L399.0,418.1L397.6,416.4L396.1,418.4Z" fill="#ff0606" stroke="#8a0303"/><path d="M395.9,422.3L397.4,420.1L396.1,418.4L394.6,420.6Z" fill="#ff0606" stroke="#8b0303"/><path d="M394.4,424.8L395.9,422.3L394.6,420.6L393.1,423.1Z" fill="#fe1414" stroke="#8f0b0b"/><path d="M392.9,427.3L394.4,424.8L393.1,423.1L391.6,425.7Z" fill="#fd2727" stroke="#931616"/><path d="M391.4,429.8L392.9,427.3L391.6,425.7L390.1,428.2Z" fill="#fb4343" stroke="#962828"/><path d="M390.0,432.1L391.4,429.8L390.1,428.2L388.6,430.6Z" fill="#f95e5e" stroke="#993a3a"/><path d="M388.5,434.3L390.0,432.1L388.6,430.6L387.2,432.8Z" fill="#f77474" stroke="#9c4949"/><path d="M387.0,436.2L388.5,434.3L387.2,432.8L385.7,434.8Z" fill="#f68787" stroke="#9f5757"/><path d="M385.6,437.9L387.0,436.2L385.7,434.8L384.2,436.5Z" fill="#f59898" stroke="#a16464"/><path d="M384.1,439.4L385.6,437.9L384.2,436.5L382.8,438.0Z" fill="#f5a3a3" stroke="#a26c6c"/><path d="M382.6,440.8L384.1,439.4L382.8,438.0L381.3,439.4Z" fill="#f5acac" stroke="#a27272"/><path d="M381.2,442.0L382.6,440.8L381.3,439.4L379.9,440.6Z" fill="#f5b4b4" stroke="#a27777"/><path d="M379.7,443.2L381.2,442.0L379.9,440.6L378.4,441.7Z" fill="#f6baba" stroke="#a27b7b"/><path d="M378.3,444.2L379.7,443.2L378.4,441.7L377.0,442.8Z" fill="#f6c0c0" stroke="#a27f7f"/><path d="M376.8,445.2L378.3,444.2L377.0,442.8L375.5,443.8Z" fill="#f6c6c6" stroke="#c59e9e"/><path d="M375.4,446.2L376.8,445.2L375.5,443.8L374.1,444.8Z" fill="#f6caca" stroke="#c5a2a2"/><path d="M373.9,447.1L375.4,446.2L374.1,444.8L372.6,445.7Z" fill="#f6cece" stroke="#c5a5a5"/><path d="M372.5,448.0L373.9,447.1L372.6,445.7L371.2,446.6Z" fill="#f6d1d1" stroke="#c5a7a7"/><path d="M371.0,448.9L372.5,448.0L371.2,446.6L369.8,447.5Z" fill="#f6d4d4" stroke="#c5aaaa"/><path d="M369.6,449.7L371.0,448.9L369.8,447.5L368.3,448.3Z" fill="#f7d7d7" stroke="#c5acac"/><path d="M368.1,450.5L369.6,449.7L368.3,448.3L366.9,449.2Z" fill="#f7d9d9" stroke="#c5aeae"/><path d="M366.7,451.4L368.1,450.5L366.9,449.2L365.4,450.0Z" fill="#f7dbdb" stroke="#c5afaf"/><path d="M365.2,452.1L366.7,451.4L365.4,450.0L364.0,450.8Z" fill="#f7dddd" stroke="#c6b1b1"/><path d="M363.8,452.9L365.2,452.1L364.0,450.8L362.5,451.5Z" fill="#f7dfdf" stroke="#c6b3b3"/><path d="M362.3,453.6L363.8,452.9L362.5,451.5L361.1,452.3Z" fill="#f7e1e1" stroke="#c6b4b4"/><path d="M360.9,454.3L362.3,453.6L361.1,452.3L359.7,453.0Z" fill="#f7e3e3" stroke="#c6b6b6"/><path d="M359.4,455.0L360.9,454.3L359.7,453.0L358.2,453.7Z" fill="#f7e5e5" stroke="#c6b7b7"/><path d="M358.0,455.7L359.4,455.0L358.2,453.7L356.8,454.3Z" fill="#f7e6e6" stroke="#c6b8b8"/><path d="M356.5,456.4L358.0,455.7L356.8,454.3L355.3,455.0Z" fill="#f7e7e7" stroke="#c6b9b9"/><path d="M355.1,457.0L356.5,456.4L355.3,455.0L353.9,455.6Z" fill="#f8e8e8" stroke="#c6baba"/><path d="M353.6,457.6L355.1,457.0L353.9,455.6L352.4,456.2Z" fill="#f8e9e9" stroke="#c6bbbb"/><path d="M352.2,458.2L353.6,457.6L352.4,456.2L351.0,456.8Z" fill="#f8eaea" stroke="#c6bcbc"/><path d="M350.8,459.0L352.2,458.2L351.0,456.8L349.6,457.6Z" fill="#f8ecec" stroke="#c6bdbd"/><path d="M349.3,459.7L350.8,459.0L349.6,457.6L348.1,458.3Z" fill="#f8eeee" stroke="#c6bebe"/><path d="M347.9,460.4L349.3,459.7L348.1,458.3L346.7,459.0Z" fill="#f8efef" stroke="#c6bfbf"/><path d="M429.3,435.2L430.8,435.0L429.3,434.0L427.9,434.3Z" fill="#f8eaea" stroke="#c6bcbc"/><path d="M427.9,435.0L429.3,435.2L427.9,434.3L426.5,434.5Z" fill="#f8e8e8" stroke="#c6baba"/><path d="M426.5,433.8L427.9,435.0L426.5,434.5L425.0,434.0Z" fill="#f7e2e2" stroke="#c6b5b5"/><path d="M425.2,430.8L426.5,433.8L425.0,434.0L423.7,432.4Z" fill="#f6d5d5" stroke="#c5abab"/><path d="M424.0,425.2L425.2,430.8L423.7,432.4L422.4,428.5Z" fill="#f5b4b4" stroke="#a27777"/><path d="M422.8,418.6L424.0,425.2L422.4,428.5L421.2,422.2Z" fill="#f77373" stroke="#9c4848"/><path d="M421.5,413.7L422.8,418.6L421.2,422.2L420.0,415.7Z" fill="#fe1d1d" stroke="#911111"/><path d="M420.1,411.3L421.5,413.7L420.0,415.7L418.6,411.4Z" fill="#ff0606" stroke="#8a0303"/><path d="M418.7,410.5L420.1,411.3L418.6,411.4L417.2,409.5Z" fill="#ff0606" stroke="#8a0303"/><path d="M417.1,410.4L418.7,410.5L417.2,409.5L415.7,408.9Z" fill="#ff0606" stroke="#8a0303"/><path d="M415.6,410.7L417.1,410.4L415.7,408.9L414.2,409.0Z" fill="#ff0606" stroke="#8a0303"/><path d="M414.1,411.2L415.6,410.7L414.2,409.0L412.7,409.4Z" fill="#ff0606" stroke="#8a0303"/><path d="M412.6,411.7L414.1,411.2L412.7,409.4L411.2,409.9Z" fill="#ff0606" stroke="#8a0303"/><path d="M411.0,412.3L412.6,411.7L411.2,409.9L409.6,410.5Z" fill="#ff0606" stroke="#8a0303"/><path d="M409.5,413.0L411.0,412.3L409.6,410.5L408.1,411.1Z" fill="#ff0606" stroke="#8a0303"/><path d="M408.0,413.7L409.5,413.0L408.1,411.1L406.6,411.9Z" fill="#ff0606" stroke="#8a0303"/><path d="M406.5,414.6L408.0,413.7L406.6,411.9L405.1,412.7Z" fill="#ff0606" stroke="#8a0303"/><path d="M404.9,415.6L406.5,414.6L405.1,412.7L403.5,413.8Z" fill="#ff0606" stroke="#8a0303"/><path d="M403.4,416.8L404.9,415.6L403.5,413.8L402.0,415.0Z" fill="#ff0606" stroke="#8a0303"/><path d="M401.9,418.2L403.4,416.8L402.0,415.0L400.5,416.4Z" fill="#ff0606" stroke="#8a0303"/><path d="M400.3,419.9L401.9,418.2L400.5,416.4L399.0,418.1Z" fill="#ff0606" stroke="#8a0303"/><path d="M398.8,421.8L400.3,419.9L399.0,418.1L397.4,420.1Z" fill="#ff0606" stroke="#8a0303"/><path d="M397.3,424.0L398.8,421.8L397.4,420.1L395.9,422.3Z" fill="#ff0909" stroke="#8c0505"/><path d="M395.8,426.4L397.3,424.0L395.9,422.3L394.4,424.8Z" fill="#fe1717" stroke="#900d0d"/><path d="M394.3,428.9L395.8,426.4L394.4,424.8L392.9,427.3Z" fill="#fd2c2c" stroke="#931a1a"/><path d="M392.8,431.4L394.3,428.9L392.9,427.3L391.4,429.8Z" fill="#fa4949" stroke="#962c2c"/><path d="M391.3,433.7L392.8,431.4L391.4,429.8L390.0,432.1Z" fill="#f86262" stroke="#9a3d3d"/><path d="M389.8,435.8L391.3,433.7L390.0,432.1L388.5,434.3Z" fill="#f77777" stroke="#9d4c4c"/><path d="M388.3,437.7L389.8,435.8L388.5,434.3L387.0,436.2Z" fill="#f68a8a" stroke="#9f5959"/><path d="M386.9,439.4L388.3,437.7L387.0,436.2L385.6,437.9Z" fill="#f59a9a" stroke="#a26666"/><path d="M385.4,440.9L386.9,439.4L385.6,437.9L384.1,439.4Z" fill="#f5a5a5" stroke="#a26d6d"/><path d="M383.9,442.2L385.4,440.9L384.1,439.4L382.6,440.8Z" fill="#f5aeae" stroke="#a27373"/><path d="M382.5,443.5L383.9,442.2L382.6,440.8L381.2,442.0Z" fill="#f6b5b5" stroke="#a27878"/><path d="M381.0,444.6L382.5,443.5L381.2,442.0L379.7,443.2Z" fill="#f6bcbc" stroke="#a27c7c"/><path d="M379.5,445.6L381.0,444.6L379.7,443.2L378.3,444.2Z" fill="#f6c1c1" stroke="#a28080"/><path d="M378.1,446.6L379.5,445.6L378.3,444.2L376.8,445.2Z" fill="#f6c7c7" stroke="#c59f9f"/><path d="M376.6,447.6L378.1,446.6L376.8,445.2L375.4,446.2Z" fill="#f6cbcb" stroke="#c5a3a3"/><path d="M375.2,448.5L376.6,447.6L375.4,446.2L373.9,447.1Z" fill="#f6cfcf" stroke="#c5a6a6"/><path d="M373.7,449.4L375.2,448.5L373.9,447.1L372.5,448.0Z" fill="#f6d2d2" stroke="#c5a8a8"/><path d="M372.3,450.3L373.7,449.4L372.5,448.0L371.0,448.9Z" fill="#f6d4d4" stroke="#c5aaaa"/><path d="M370.8,451.1L372.3,450.3L371.0,448.9L369.6,449.7Z" fill="#f7d7d7" stroke="#c5acac"/><path d="M369.3,451.9L370.8,451.1L369.6,449.7L368.1,450.5Z" fill="#f7d9d9" stroke="#c5aeae"/><path d="M367.9,452.7L369.3,451.9L368.1,450.5L366.7,451.4Z" fill="#f7dcdc" stroke="#c5b0b0"/><path d="M366.4,453.5L367.9,452.7L366.7,451.4L365.2,452.1Z" fill="#f7dede" stroke="#c6b1b1"/><path d="M365.0,454.3L366.4,453.5L365.2,452.1L363.8,452.9Z" fill="#f7e0e0" stroke="#c6b3b3"/><path d="M363.5,455.0L365.0,454.3L363.8,452.9L362.3,453.6Z" fill="#f7e1e1" stroke="#c6b4b4"/><path d="M362.1,455.7L363.5,455.0L362.3,453.6L360.9,454.3Z" fill="#f7e3e3" stroke="#c6b6b6"/><path d="M360.6,456.4L362.1,455.7L360.9,454.3L359.4,455.0Z" fill="#f7e5e5" stroke="#c6b7b7"/><path d="M359.2,457.1L360.6,456.4L359.4,455.0L358.0,455.7Z" fill="#f7e6e6" stroke="#c6b8b8"/><path d="M357.7,457.7L359.2,457.1L358.0,455.7L356.5,456.4Z" fill="#f8e7e7" stroke="#c6b9b9"/><path d="M356.3,458.4L357.7,457.7L356.5,456.4L355.1,457.0Z" fill="#f8e9e9" stroke="#c6baba"/><path d="M354.8,459.0L356.3,458.4L355.1,457.0L353.6,457.6Z" fill="#f8eaea" stroke="#c6bbbb"/><path d="M353.4,459.6L354.8,459.0L353.6,457.6L352.2,458.2Z" fill="#f8eaea" stroke="#c6bcbc"/><path d="M351.9,460.3L353.4,459.6L352.2,458.2L350.8,459.0Z" fill="#f8ecec" stroke="#c6bdbd"/><path d="M350.5,461.1L351.9,460.3L350.8,459.0L349.3,459.7Z" fill="#f8eeee" stroke="#c6bebe"/><path d="M349.1,461.8L350.5,461.1L349.3,459.7L347.9,460.4Z" fill="#f8efef" stroke="#c6bfbf"/><path d="M430.7,435.8L432.2,435.8L430.8,435.0L429.3,435.2Z" fill="#f8e8e8" stroke="#c6baba"/><path d="M429.3,435.0L430.7,435.8L429.3,435.2L427.9,435.0Z" fill="#f7e4e4" stroke="#c6b6b6"/><path d="M428.0,432.7L429.3,435.0L427.9,435.0L426.5,433.8Z" fill="#f7dada" stroke="#c5aeae"/><path d="M426.8,428.0L428.0,432.7L426.5,433.8L425.2,430.8Z" fill="#f6c1c1" stroke="#a27f7f"/><path d="M425.6,421.7L426.8,428.0L425.2,430.8L424.0,425.2Z" fill="#f68b8b" stroke="#9f5a5a"/><path d="M424.4,416.3L425.6,421.7L424.0,425.2L422.8,418.6Z" fill="#fc3a3a" stroke="#952222"/><path d="M423.0,413.3L424.4,416.3L422.8,418.6L421.5,413.7Z" fill="#ff0606" stroke="#8b0303"/><path d="M421.6,412.2L423.0,413.3L421.5,413.7L420.1,411.3Z" fill="#ff0606" stroke="#8a0303"/><path d="M420.1,412.0L421.6,412.2L420.1,411.3L418.7,410.5Z" fill="#ff0606" stroke="#8a0303"/><path d="M418.6,412.2L420.1,412.0L418.7,410.5L417.1,410.4Z" fill="#ff0606" stroke="#8a0303"/><path d="M417.0,412.7L418.6,412.2L417.1,410.4L415.6,410.7Z" fill="#ff0606" stroke="#8a0303"/><path d="M415.5,413.1L417.0,412.7L415.6,410.7L414.1,411.2Z" fill="#ff0606" stroke="#8a0303"/><path d="M414.0,413.7L415.5,413.1L414.1,411.2L412.6,411.7Z" fill="#ff0606" stroke="#8a0303"/><path d="M412.4,414.3L414.0,413.7L412.6,411.7L411.0,412.3Z" fill="#ff0606" stroke="#8a0303"/><path d="M410.9,414.9L412.4,414.3L411.0,412.3L409.5,413.0Z" fill="#ff0606" stroke="#8a0303"/><path d="M409.4,415.6L410.9,414.9L409.5,413.0L408.0,413.7Z" fill="#ff0606" stroke="#8a0303"/><path d="M407.8,416.5L409.4,415.6L408.0,413.7L406.5,414.6Z" fill="#ff0606" stroke="#8a0303"/><path d="M406.3,417.5L407.8,416.5L406.5,414.6L404.9,415.6Z" fill="#ff0606" stroke="#8a0303"/><path d="M404.8,418.6L406.3,417.5L404.9,415.6L403.4,416.8Z" fill="#ff0606" stroke="#8a0303"/><path d="M403.2,420.0L404.8,418.6L403.4,416.8L401.9,418.2Z" fill="#ff0606" stroke="#8a0303"/><path d="M401.7,421.7L403.2,420.0L401.9,418.2L400.3,419.9Z" fill="#ff0606" stroke="#8a0303"/><path d="M400.2,423.6L401.7,421.7L400.3,419.9L398.8,421.8Z" fill="#ff0606" stroke="#8a0303"/><path d="M398.6,425.8L400.2,423.6L398.8,421.8L397.3,424.0Z" fill="#ff0d0d" stroke="#8d0707"/><path d="M397.1,428.2L398.6,425.8L397.3,424.0L395.8,426.4Z" fill="#fe1b1b" stroke="#910f0f"/><path d="M395.6,430.6L397.1,428.2L395.8,426.4L394.3,428.9Z" fill="#fc3333" stroke="#941e1e"/><path d="M394.1,433.0L395.6,430.6L394.3,428.9L392.8,431.4Z" fill="#fa4e4e" stroke="#972f2f"/><path d="M392.6,435.3L394.1,433.0L392.8,431.4L391.3,433.7Z" fill="#f86666" stroke="#9a4040"/><path d="M391.1,437.4L392.6,435.3L391.3,433.7L389.8,435.8Z" fill="#f77b7b" stroke="#9d4e4e"/><path d="M389.6,439.3L391.1,437.4L389.8,435.8L388.3,437.7Z" fill="#f68d8d" stroke="#a05c5c"/><path d="M388.2,440.9L389.6,439.3L388.3,437.7L386.9,439.4Z" fill="#f59d9d" stroke="#a26767"/><path d="M386.7,442.4L388.2,440.9L386.9,439.4L385.4,440.9Z" fill="#f5a7a7" stroke="#a26e6e"/><path d="M385.2,443.7L386.7,442.4L385.4,440.9L383.9,442.2Z" fill="#f5afaf" stroke="#a27474"/><path d="M383.8,444.9L385.2,443.7L383.9,442.2L382.5,443.5Z" fill="#f6b7b7" stroke="#a27979"/><path d="M382.3,446.0L383.8,444.9L382.5,443.5L381.0,444.6Z" fill="#f6bdbd" stroke="#a27d7d"/><path d="M380.8,447.1L382.3,446.0L381.0,444.6L379.5,445.6Z" fill="#f6c3c3" stroke="#a28080"/><path d="M379.4,448.1L380.8,447.1L379.5,445.6L378.1,446.6Z" fill="#f6c8c8" stroke="#c5a0a0"/><path d="M377.9,449.0L379.4,448.1L378.1,446.6L376.6,447.6Z" fill="#f6cccc" stroke="#c5a3a3"/><path d="M376.4,449.9L377.9,449.0L376.6,447.6L375.2,448.5Z" fill="#f6d0d0" stroke="#c5a6a6"/><path d="M375.0,450.8L376.4,449.9L375.2,448.5L373.7,449.4Z" fill="#f6d2d2" stroke="#c5a8a8"/><path d="M373.5,451.7L375.0,450.8L373.7,449.4L372.3,450.3Z" fill="#f6d5d5" stroke="#c5aaaa"/><path d="M372.0,452.5L373.5,451.7L372.3,450.3L370.8,451.1Z" fill="#f7d7d7" stroke="#c5acac"/><path d="M370.6,453.3L372.0,452.5L370.8,451.1L369.3,451.9Z" fill="#f7dada" stroke="#c5aeae"/><path d="M369.1,454.1L370.6,453.3L369.3,451.9L367.9,452.7Z" fill="#f7dcdc" stroke="#c5b0b0"/><path d="M367.7,454.9L369.1,454.1L367.9,452.7L366.4,453.5Z" fill="#f7dede" stroke="#c6b2b2"/><path d="M366.2,455.6L367.7,454.9L366.4,453.5L365.0,454.3Z" fill="#f7e0e0" stroke="#c6b3b3"/><path d="M364.8,456.4L366.2,455.6L365.0,454.3L363.5,455.0Z" fill="#f7e2e2" stroke="#c6b5b5"/><path d="M363.3,457.1L364.8,456.4L363.5,455.0L362.1,455.7Z" fill="#f7e3e3" stroke="#c6b6b6"/><path d="M361.9,457.8L363.3,457.1L362.1,455.7L360.6,456.4Z" fill="#f7e5e5" stroke="#c6b7b7"/><path d="M360.4,458.4L361.9,457.8L360.6,456.4L359.2,457.1Z" fill="#f7e6e6" stroke="#c6b8b8"/><path d="M358.9,459.1L360.4,458.4L359.2,457.1L357.7,457.7Z" fill="#f8e8e8" stroke="#c6b9b9"/><path d="M357.5,459.7L358.9,459.1L357.7,457.7L356.3,458.4Z" fill="#f8e9e9" stroke="#c6baba"/><path d="M356.0,460.4L357.5,459.7L356.3,458.4L354.8,459.0Z" fill="#f8eaea" stroke="#c6bbbb"/><path d="M354.6,461.0L356.0,460.4L354.8,459.0L353.4,459.6Z" fill="#f8ebeb" stroke="#c6bcbc"/><path d="M353.1,461.7L354.6,461.0L353.4,459.6L351.9,460.3Z" fill="#f8ecec" stroke="#c6bdbd"/><path d="M351.7,462.5L353.1,461.7L351.9,460.3L350.5,461.1Z" fill="#f8eeee" stroke="#c6bebe"/><path d="M350.2,463.1L351.7,462.5L350.5,461.1L349.1,461.8Z" fill="#f8efef" stroke="#c6bfbf"/><path d="M432.2,436.0L433.6,436.5L432.2,435.8L430.7,435.8Z" fill="#f7e4e4" stroke="#c6b7b7"/><path d="M430.8,434.4L432.2,436.0L430.7,435.8L429.3,435.0Z" fill="#f7dcdc" stroke="#c6b0b0"/><path d="M429.6,430.6L430.8,434.4L429.3,435.0L428.0,432.7Z" fill="#f6cbcb" stroke="#c5a2a2"/><path d="M428.5,424.7L429.6,430.6L428.0,432.7L426.8,428.0Z" fill="#f5a0a0" stroke="#a26a6a"/><path d="M427.3,419.1L428.5,424.7L426.8,428.0L425.6,421.7Z" fill="#f95959" stroke="#983636"/><path d="M425.9,415.6L427.3,419.1L425.6,421.7L424.4,416.3Z" fill="#fe1414" stroke="#8f0b0b"/><path d="M424.5,414.2L425.9,415.6L424.4,416.3L423.0,413.3Z" fill="#ff0606" stroke="#8a0303"/><path d="M423.0,413.8L424.5,414.2L423.0,413.3L421.6,412.2Z" fill="#ff0606" stroke="#8a0303"/><path d="M421.5,414.0L423.0,413.8L421.6,412.2L420.1,412.0Z" fill="#ff0606" stroke="#8a0303"/><path d="M420.0,414.3L421.5,414.0L420.1,412.0L418.6,412.2Z" fill="#ff0606" stroke="#8a0303"/><path d="M418.4,414.8L420.0,414.3L418.6,412.2L417.0,412.7Z" fill="#ff0606" stroke="#8a0303"/><path d="M416.9,415.2L418.4,414.8L417.0,412.7L415.5,413.1Z" fill="#ff0606" stroke="#8a0303"/><path d="M415.4,415.7L416.9,415.2L415.5,413.1L414.0,413.7Z" fill="#ff0606" stroke="#8a0303"/><path d="M413.8,416.3L415.4,415.7L414.0,413.7L412.4,414.3Z" fill="#ff0606" stroke="#8a0303"/><path d="M412.3,416.9L413.8,416.3L412.4,414.3L410.9,414.9Z" fill="#ff0606" stroke="#8a0303"/><path d="M410.8,417.6L412.3,416.9L410.9,414.9L409.4,415.6Z" fill="#ff0606" stroke="#8a0303"/><path d="M409.2,418.4L410.8,417.6L409.4,415.6L407.8,416.5Z" fill="#ff0606" stroke="#8a0303"/><path d="M407.7,419.3L409.2,418.4L407.8,416.5L406.3,417.5Z" fill="#ff0606" stroke="#8a0303"/><path d="M406.2,420.5L407.7,419.3L406.3,417.5L404.8,418.6Z" fill="#ff0606" stroke="#8a0303"/><path d="M404.6,421.9L406.2,420.5L404.8,418.6L403.2,420.0Z" fill="#ff0606" stroke="#8a0303"/><path d="M403.1,423.5L404.6,421.9L403.2,420.0L401.7,421.7Z" fill="#ff0606" stroke="#8a0303"/><path d="M401.5,425.4L403.1,423.5L401.7,421.7L400.2,423.6Z" fill="#ff0606" stroke="#8b0303"/><path d="M400.0,427.5L401.5,425.4L400.2,423.6L398.6,425.8Z" fill="#ff1111" stroke="#8e0a0a"/><path d="M398.5,429.9L400.0,427.5L398.6,425.8L397.1,428.2Z" fill="#fe1f1f" stroke="#921212"/><path d="M397.0,432.3L398.5,429.9L397.1,428.2L395.6,430.6Z" fill="#fc3939" stroke="#952222"/><path d="M395.4,434.7L397.0,432.3L395.6,430.6L394.1,433.0Z" fill="#fa5454" stroke="#983333"/><path d="M393.9,436.9L395.4,434.7L394.1,433.0L392.6,435.3Z" fill="#f86b6b" stroke="#9b4343"/><path d="M392.4,439.0L393.9,436.9L392.6,435.3L391.1,437.4Z" fill="#f77f7f" stroke="#9e5151"/><path d="M391.0,440.9L392.4,439.0L391.1,437.4L389.6,439.3Z" fill="#f69191" stroke="#a05f5f"/><path d="M389.5,442.5L391.0,440.9L389.6,439.3L388.2,440.9Z" fill="#f59f9f" stroke="#a26969"/><path d="M388.0,443.9L389.5,442.5L388.2,440.9L386.7,442.4Z" fill="#f5a9a9" stroke="#a27070"/><path d="M386.5,445.2L388.0,443.9L386.7,442.4L385.2,443.7Z" fill="#f5b1b1" stroke="#a27575"/><path d="M385.0,446.4L386.5,445.2L385.2,443.7L383.8,444.9Z" fill="#f6b9b9" stroke="#a27a7a"/><path d="M383.6,447.5L385.0,446.4L383.8,444.9L382.3,446.0Z" fill="#f6bfbf" stroke="#a27e7e"/><path d="M382.1,448.5L383.6,447.5L382.3,446.0L380.8,447.1Z" fill="#f6c4c4" stroke="#c59d9d"/><path d="M380.6,449.5L382.1,448.5L380.8,447.1L379.4,448.1Z" fill="#f6c9c9" stroke="#c5a1a1"/><path d="M379.2,450.5L380.6,449.5L379.4,448.1L377.9,449.0Z" fill="#f6cdcd" stroke="#c5a4a4"/><path d="M377.7,451.4L379.2,450.5L377.9,449.0L376.4,449.9Z" fill="#f6d0d0" stroke="#c5a7a7"/><path d="M376.2,452.2L377.7,451.4L376.4,449.9L375.0,450.8Z" fill="#f6d3d3" stroke="#c5a9a9"/><path d="M374.8,453.1L376.2,452.2L375.0,450.8L373.5,451.7Z" fill="#f6d6d6" stroke="#c5abab"/><path d="M373.3,453.9L374.8,453.1L373.5,451.7L372.0,452.5Z" fill="#f7d8d8" stroke="#c5adad"/><path d="M371.8,454.7L373.3,453.9L372.0,452.5L370.6,453.3Z" fill="#f7dada" stroke="#c5afaf"/><path d="M370.4,455.5L371.8,454.7L370.6,453.3L369.1,454.1Z" fill="#f7dddd" stroke="#c6b0b0"/><path d="M368.9,456.3L370.4,455.5L369.1,454.1L367.7,454.9Z" fill="#f7dfdf" stroke="#c6b2b2"/><path d="M367.5,457.0L368.9,456.3L367.7,454.9L366.2,455.6Z" fill="#f7e0e0" stroke="#c6b3b3"/><path d="M366.0,457.8L367.5,457.0L366.2,455.6L364.8,456.4Z" fill="#f7e2e2" stroke="#c6b5b5"/><path d="M364.5,458.5L366.0,457.8L364.8,456.4L363.3,457.1Z" fill="#f7e4e4" stroke="#c6b6b6"/><path d="M363.1,459.2L364.5,458.5L363.3,457.1L361.9,457.8Z" fill="#f7e5e5" stroke="#c6b7b7"/><path d="M361.6,459.8L363.1,459.2L361.9,457.8L360.4,458.4Z" fill="#f7e7e7" stroke="#c6b8b8"/><path d="M360.2,460.5L361.6,459.8L360.4,458.4L358.9,459.1Z" fill="#f8e8e8" stroke="#c6b9b9"/><path d="M358.7,461.1L360.2,460.5L358.9,459.1L357.5,459.7Z" fill="#f8e9e9" stroke="#c6baba"/><path d="M357.2,461.7L358.7,461.1L357.5,459.7L356.0,460.4Z" fill="#f8eaea" stroke="#c6bbbb"/><path d="M355.8,462.3L357.2,461.7L356.0,460.4L354.6,461.0Z" fill="#f8ebeb" stroke="#c6bcbc"/><path d="M354.3,463.1L355.8,462.3L354.6,461.0L353.1,461.7Z" fill="#f8ecec" stroke="#c6bdbd"/><path d="M352.9,463.8L354.3,463.1L353.1,461.7L351.7,462.5Z" fill="#f8eeee" stroke="#c6bebe"/><path d="M351.4,464.5L352.9,463.8L351.7,462.5L350.2,463.1Z" fill="#f8efef" stroke="#c6c0c0"/><path d="M433.7,435.8L435.1,436.9L433.6,436.5L432.2,436.0Z" fill="#f7dede" stroke="#c6b2b2"/><path d="M432.4,432.8L433.7,435.8L432.2,436.0L430.8,434.4Z" fill="#f6d1d1" stroke="#c5a7a7"/><path d="M431.2,427.8L432.4,432.8L430.8,434.4L429.6,430.6Z" fill="#f5b0b0" stroke="#a27474"/><path d="M430.1,422.2L431.2,427.8L429.6,430.6L428.5,424.7Z" fill="#f77474" stroke="#9c4949"/><path d="M428.8,418.3L430.1,422.2L428.5,424.7L427.3,419.1Z" fill="#fd2929" stroke="#931818"/><path d="M427.4,416.5L428.8,418.3L427.3,419.1L425.9,415.6Z" fill="#ff0606" stroke="#8b0303"/><path d="M425.9,416.0L427.4,416.5L425.9,415.6L424.5,414.2Z" fill="#ff0606" stroke="#8a0303"/><path d="M424.4,416.0L425.9,416.0L424.5,414.2L423.0,413.8Z" fill="#ff0606" stroke="#8a0303"/><path d="M422.9,416.3L424.4,416.0L423.0,413.8L421.5,414.0Z" fill="#ff0606" stroke="#8a0303"/><path d="M421.3,416.7L422.9,416.3L421.5,414.0L420.0,414.3Z" fill="#ff0606" stroke="#8a0303"/><path d="M419.8,417.1L421.3,416.7L420.0,414.3L418.4,414.8Z" fill="#ff0606" stroke="#8a0303"/><path d="M418.3,417.5L419.8,417.1L418.4,414.8L416.9,415.2Z" fill="#ff0606" stroke="#8a0303"/><path d="M416.8,417.9L418.3,417.5L416.9,415.2L415.4,415.7Z" fill="#ff0606" stroke="#8a0303"/><path d="M415.2,418.4L416.8,417.9L415.4,415.7L413.8,416.3Z" fill="#ff0606" stroke="#8a0303"/><path d="M413.7,418.9L415.2,418.4L413.8,416.3L412.3,416.9Z" fill="#ff0606" stroke="#8a0303"/><path d="M412.2,419.5L413.7,418.9L412.3,416.9L410.8,417.6Z" fill="#ff0606" stroke="#8a0303"/><path d="M410.6,420.2L412.2,419.5L410.8,417.6L409.2,418.4Z" fill="#ff0606" stroke="#8a0303"/><path d="M409.1,421.1L410.6,420.2L409.2,418.4L407.7,419.3Z" fill="#ff0606" stroke="#8a0303"/><path d="M407.5,422.2L409.1,421.1L407.7,419.3L406.2,420.5Z" fill="#ff0606" stroke="#8a0303"/><path d="M406.0,423.6L407.5,422.2L406.2,420.5L404.6,421.9Z" fill="#ff0606" stroke="#8a0303"/><path d="M404.4,425.2L406.0,423.6L404.6,421.9L403.1,423.5Z" fill="#ff0606" stroke="#8a0303"/><path d="M402.9,427.1L404.4,425.2L403.1,423.5L401.5,425.4Z" fill="#ff0a0a" stroke="#8c0505"/><path d="M401.4,429.2L402.9,427.1L401.5,425.4L400.0,427.5Z" fill="#fe1515" stroke="#8f0c0c"/><path d="M399.8,431.6L401.4,429.2L400.0,427.5L398.5,429.9Z" fill="#fd2525" stroke="#931616"/><path d="M398.3,434.0L399.8,431.6L398.5,429.9L397.0,432.3Z" fill="#fb4040" stroke="#952626"/><path d="M396.8,436.4L398.3,434.0L397.0,432.3L395.4,434.7Z" fill="#f95a5a" stroke="#983737"/><path d="M395.3,438.6L396.8,436.4L395.4,434.7L393.9,436.9Z" fill="#f87070" stroke="#9c4646"/><path d="M393.8,440.7L395.3,438.6L393.9,436.9L392.4,439.0Z" fill="#f68484" stroke="#9e5555"/><path d="M392.3,442.5L393.8,440.7L392.4,439.0L391.0,440.9Z" fill="#f59595" stroke="#a16262"/><path d="M390.8,444.1L392.3,442.5L391.0,440.9L389.5,442.5Z" fill="#f5a2a2" stroke="#a26b6b"/><path d="M389.3,445.5L390.8,444.1L389.5,442.5L388.0,443.9Z" fill="#f5acac" stroke="#a27171"/><path d="M387.8,446.8L389.3,445.5L388.0,443.9L386.5,445.2Z" fill="#f6b4b4" stroke="#a27777"/><path d="M386.3,448.0L387.8,446.8L386.5,445.2L385.0,446.4Z" fill="#f6bbbb" stroke="#a27b7b"/><path d="M384.9,449.1L386.3,448.0L385.0,446.4L383.6,447.5Z" fill="#f6c1c1" stroke="#a27f7f"/><path d="M383.4,450.1L384.9,449.1L383.6,447.5L382.1,448.5Z" fill="#f6c6c6" stroke="#c59f9f"/><path d="M381.9,451.0L383.4,450.1L382.1,448.5L380.6,449.5Z" fill="#f6cbcb" stroke="#c5a2a2"/><path d="M380.4,452.0L381.9,451.0L380.6,449.5L379.2,450.5Z" fill="#f6cfcf" stroke="#c5a5a5"/><path d="M379.0,452.8L380.4,452.0L379.2,450.5L377.7,451.4Z" fill="#f6d2d2" stroke="#c5a8a8"/><path d="M377.5,453.7L379.0,452.8L377.7,451.4L376.2,452.2Z" fill="#f6d4d4" stroke="#c5aaaa"/><path d="M376.0,454.6L377.5,453.7L376.2,452.2L374.8,453.1Z" fill="#f7d7d7" stroke="#c5acac"/><path d="M374.5,455.4L376.0,454.6L374.8,453.1L373.3,453.9Z" fill="#f7d9d9" stroke="#c5aeae"/><path d="M373.1,456.2L374.5,455.4L373.3,453.9L371.8,454.7Z" fill="#f7dbdb" stroke="#c5afaf"/><path d="M371.6,457.0L373.1,456.2L371.8,454.7L370.4,455.5Z" fill="#f7dddd" stroke="#c6b1b1"/><path d="M370.1,457.7L371.6,457.0L370.4,455.5L368.9,456.3Z" fill="#f7dfdf" stroke="#c6b2b2"/><path d="M368.7,458.5L370.1,457.7L368.9,456.3L367.5,457.0Z" fill="#f7e1e1" stroke="#c6b4b4"/><path d="M367.2,459.2L368.7,458.5L367.5,457.0L366.0,457.8Z" fill="#f7e3e3" stroke="#c6b5b5"/><path d="M365.7,459.9L367.2,459.2L366.0,457.8L364.5,458.5Z" fill="#f7e4e4" stroke="#c6b6b6"/><path d="M364.3,460.6L365.7,459.9L364.5,458.5L363.1,459.2Z" fill="#f7e6e6" stroke="#c6b8b8"/><path d="M362.8,461.2L364.3,460.6L363.1,459.2L361.6,459.8Z" fill="#f7e7e7" stroke="#c6b9b9"/><path d="M361.4,461.9L362.8,461.2L361.6,459.8L360.2,460.5Z" fill="#f8e8e8" stroke="#c6baba"/><path d="M359.9,462.5L361.4,461.9L360.2,460.5L358.7,461.1Z" fill="#f8e9e9" stroke="#c6baba"/><path d="M358.4,463.1L359.9,462.5L358.7,461.1L357.2,461.7Z" fill="#f8eaea" stroke="#c6bbbb"/><path d="M357.0,463.7L358.4,463.1L357.2,461.7L355.8,462.3Z" fill="#f8ebeb" stroke="#c6bcbc"/><path d="M355.5,464.5L357.0,463.7L355.8,462.3L354.3,463.1Z" fill="#f8ecec" stroke="#c6bdbd"/><path d="M354.1,465.2L355.5,464.5L354.3,463.1L352.9,463.8Z" fill="#f8eeee" stroke="#c6bebe"/><path d="M352.6,465.9L354.1,465.2L352.9,463.8L351.4,464.5Z" fill="#f8efef" stroke="#c6c0c0"/><path d="M435.2,434.8L436.6,436.9L435.1,436.9L433.7,435.8Z" fill="#f6d5d5" stroke="#c5abab"/><path d="M434.0,430.7L435.2,434.8L433.7,435.8L432.4,432.8Z" fill="#f6bdbd" stroke="#a27d7d"/><path d="M432.9,425.5L434.0,430.7L432.4,432.8L431.2,427.8Z" fill="#f68e8e" stroke="#a05c5c"/><path d="M431.6,421.4L432.9,425.5L431.2,427.8L430.1,422.2Z" fill="#fa4b4b" stroke="#972d2d"/><path d="M430.2,419.3L431.6,421.4L430.1,422.2L428.8,418.3Z" fill="#fe1616" stroke="#8f0c0c"/><path d="M428.8,418.6L430.2,419.3L428.8,418.3L427.4,416.5Z" fill="#ff0606" stroke="#8a0303"/><path d="M427.3,418.5L428.8,418.6L427.4,416.5L425.9,416.0Z" fill="#ff0606" stroke="#8a0303"/><path d="M425.8,418.8L427.3,418.5L425.9,416.0L424.4,416.0Z" fill="#ff0606" stroke="#8a0303"/><path d="M424.2,419.1L425.8,418.8L424.4,416.0L422.9,416.3Z" fill="#ff0606" stroke="#8a0303"/><path d="M422.7,419.4L424.2,419.1L422.9,416.3L421.3,416.7Z" fill="#ff0606" stroke="#8a0303"/><path d="M421.2,419.7L422.7,419.4L421.3,416.7L419.8,417.1Z" fill="#ff0606" stroke="#8a0303"/><path d="M419.7,420.0L421.2,419.7L419.8,417.1L418.3,417.5Z" fill="#ff0606" stroke="#8a0303"/><path d="M418.1,420.2L419.7,420.0L418.3,417.5L416.8,417.9Z" fill="#ff0606" stroke="#8a0303"/><path d="M416.6,420.5L418.1,420.2L416.8,417.9L415.2,418.4Z" fill="#ff0606" stroke="#8a0303"/><path d="M415.1,420.9L416.6,420.5L415.2,418.4L413.7,418.9Z" fill="#ff0606" stroke="#8a0303"/><path d="M413.5,421.3L415.1,420.9L413.7,418.9L412.2,419.5Z" fill="#ff0606" stroke="#8a0303"/><path d="M412.0,421.9L413.5,421.3L412.2,419.5L410.6,420.2Z" fill="#ff0606" stroke="#8a0303"/><path d="M410.5,422.7L412.0,421.9L410.6,420.2L409.1,421.1Z" fill="#ff0606" stroke="#8a0303"/><path d="M408.9,423.7L410.5,422.7L409.1,421.1L407.5,422.2Z" fill="#ff0606" stroke="#8a0303"/><path d="M407.4,425.0L408.9,423.7L407.5,422.2L406.0,423.6Z" fill="#ff0606" stroke="#8a0303"/><path d="M405.8,426.7L407.4,425.0L406.0,423.6L404.4,425.2Z" fill="#ff0606" stroke="#8a0303"/><path d="M404.3,428.6L405.8,426.7L404.4,425.2L402.9,427.1Z" fill="#ff0c0c" stroke="#8d0707"/><path d="M402.7,430.8L404.3,428.6L402.9,427.1L401.4,429.2Z" fill="#fe1818" stroke="#900d0d"/><path d="M401.2,433.2L402.7,430.8L401.4,429.2L399.8,431.6Z" fill="#fd2b2b" stroke="#931919"/><path d="M399.6,435.6L401.2,433.2L399.8,431.6L398.3,434.0Z" fill="#fb4545" stroke="#962929"/><path d="M398.1,438.0L399.6,435.6L398.3,434.0L396.8,436.4Z" fill="#f95f5f" stroke="#993a3a"/><path d="M396.6,440.3L398.1,438.0L396.8,436.4L395.3,438.6Z" fill="#f77575" stroke="#9c4a4a"/><path d="M395.1,442.4L396.6,440.3L395.3,438.6L393.8,440.7Z" fill="#f68989" stroke="#9f5959"/><path d="M393.6,444.2L395.1,442.4L393.8,440.7L392.3,442.5Z" fill="#f59a9a" stroke="#a26666"/><path d="M392.1,445.8L393.6,444.2L392.3,442.5L390.8,444.1Z" fill="#f5a6a6" stroke="#a26d6d"/><path d="M390.6,447.2L392.1,445.8L390.8,444.1L389.3,445.5Z" fill="#f5afaf" stroke="#a27474"/><path d="M389.1,448.5L390.6,447.2L389.3,445.5L387.8,446.8Z" fill="#f6b7b7" stroke="#a27979"/><path d="M387.6,449.7L389.1,448.5L387.8,446.8L386.3,448.0Z" fill="#f6bebe" stroke="#a27e7e"/><path d="M386.1,450.7L387.6,449.7L386.3,448.0L384.9,449.1Z" fill="#f6c4c4" stroke="#c59d9d"/><path d="M384.7,451.7L386.1,450.7L384.9,449.1L383.4,450.1Z" fill="#f6c9c9" stroke="#c5a1a1"/><path d="M383.2,452.6L384.7,451.7L383.4,450.1L381.9,451.0Z" fill="#f6cdcd" stroke="#c5a4a4"/><path d="M381.7,453.5L383.2,452.6L381.9,451.0L380.4,452.0Z" fill="#f6d0d0" stroke="#c5a7a7"/><path d="M380.2,454.4L381.7,453.5L380.4,452.0L379.0,452.8Z" fill="#f6d3d3" stroke="#c5a9a9"/><path d="M378.7,455.3L380.2,454.4L379.0,452.8L377.5,453.7Z" fill="#f6d5d5" stroke="#c5abab"/><path d="M377.3,456.1L378.7,455.3L377.5,453.7L376.0,454.6Z" fill="#f7d8d8" stroke="#c5adad"/><path d="M375.8,456.9L377.3,456.1L376.0,454.6L374.5,455.4Z" fill="#f7dada" stroke="#c5aeae"/><path d="M374.3,457.7L375.8,456.9L374.5,455.4L373.1,456.2Z" fill="#f7dcdc" stroke="#c5b0b0"/><path d="M372.9,458.4L374.3,457.7L373.1,456.2L371.6,457.0Z" fill="#f7dede" stroke="#c6b2b2"/><path d="M371.4,459.2L372.9,458.4L371.6,457.0L370.1,457.7Z" fill="#f7e0e0" stroke="#c6b3b3"/><path d="M369.9,459.9L371.4,459.2L370.1,457.7L368.7,458.5Z" fill="#f7e2e2" stroke="#c6b4b4"/><path d="M368.4,460.6L369.9,459.9L368.7,458.5L367.2,459.2Z" fill="#f7e3e3" stroke="#c6b6b6"/><path d="M367.0,461.3L368.4,460.6L367.2,459.2L365.7,459.9Z" fill="#f7e5e5" stroke="#c6b7b7"/><path d="M365.5,462.0L367.0,461.3L365.7,459.9L364.3,460.6Z" fill="#f7e6e6" stroke="#c6b8b8"/><path d="M364.0,462.7L365.5,462.0L364.3,460.6L362.8,461.2Z" fill="#f8e7e7" stroke="#c6b9b9"/><path d="M362.6,463.3L364.0,462.7L362.8,461.2L361.4,461.9Z" fill="#f8e8e8" stroke="#c6baba"/><path d="M361.1,463.9L362.6,463.3L361.4,461.9L359.9,462.5Z" fill="#f8e9e9" stroke="#c6bbbb"/><path d="M359.6,464.5L361.1,463.9L359.9,462.5L358.4,463.1Z" fill="#f8eaea" stroke="#c6bcbc"/><path d="M358.2,465.1L359.6,464.5L358.4,463.1L357.0,463.7Z" fill="#f8ebeb" stroke="#c6bcbc"/><path d="M356.7,465.9L358.2,465.1L357.0,463.7L355.5,464.5Z" fill="#f8ecec" stroke="#c6bdbd"/><path d="M355.2,466.6L356.7,465.9L355.5,464.5L354.1,465.2Z" fill="#f8eeee" stroke="#c6bebe"/><path d="M353.8,467.3L355.2,466.6L354.1,465.2L352.6,465.9Z" fill="#f8efef" stroke="#c6c0c0"/><path d="M436.8,433.4L438.1,436.5L436.6,436.9L435.2,434.8Z" fill="#f6c8c8" stroke="#c5a0a0"/><path d="M435.7,428.9L436.8,433.4L435.2,434.8L434.0,430.7Z" fill="#f5a4a4" stroke="#a26c6c"/><path d="M434.4,424.9L435.7,428.9L434.0,430.7L432.9,425.5Z" fill="#f86c6c" stroke="#9b4343"/><path d="M433.1,422.6L434.4,424.9L432.9,425.5L431.6,421.4Z" fill="#fc3232" stroke="#941d1d"/><path d="M431.6,421.7L433.1,422.6L431.6,421.4L430.2,419.3Z" fill="#fe1414" stroke="#8f0b0b"/><path d="M430.1,421.6L431.6,421.7L430.2,419.3L428.8,418.6Z" fill="#ff0a0a" stroke="#8c0505"/><path d="M428.6,421.8L430.1,421.6L428.8,418.6L427.3,418.5Z" fill="#ff0606" stroke="#8b0303"/><path d="M427.1,422.0L428.6,421.8L427.3,418.5L425.8,418.8Z" fill="#ff0606" stroke="#8a0303"/><path d="M425.6,422.3L427.1,422.0L425.8,418.8L424.2,419.1Z" fill="#ff0606" stroke="#8a0303"/><path d="M424.0,422.5L425.6,422.3L424.2,419.1L422.7,419.4Z" fill="#ff0606" stroke="#8a0303"/><path d="M422.5,422.6L424.0,422.5L422.7,419.4L421.2,419.7Z" fill="#ff0606" stroke="#8a0303"/><path d="M421.0,422.7L422.5,422.6L421.2,419.7L419.7,420.0Z" fill="#ff0606" stroke="#8a0303"/><path d="M419.5,422.7L421.0,422.7L419.7,420.0L418.1,420.2Z" fill="#ff0606" stroke="#8a0303"/><path d="M418.0,422.8L419.5,422.7L418.1,420.2L416.6,420.5Z" fill="#ff0606" stroke="#8a0303"/><path d="M416.4,422.9L418.0,422.8L416.6,420.5L415.1,420.9Z" fill="#ff0606" stroke="#8a0303"/><path d="M414.9,423.1L416.4,422.9L415.1,420.9L413.5,421.3Z" fill="#ff0606" stroke="#8a0303"/><path d="M413.4,423.4L414.9,423.1L413.5,421.3L412.0,421.9Z" fill="#ff0606" stroke="#8a0303"/><path d="M411.8,424.1L413.4,423.4L412.0,421.9L410.5,422.7Z" fill="#ff0606" stroke="#8a0303"/><path d="M410.3,425.0L411.8,424.1L410.5,422.7L408.9,423.7Z" fill="#ff0606" stroke="#8a0303"/><path d="M408.7,426.3L410.3,425.0L408.9,423.7L407.4,425.0Z" fill="#ff0606" stroke="#8a0303"/><path d="M407.2,427.9L408.7,426.3L407.4,425.0L405.8,426.7Z" fill="#ff0606" stroke="#8a0303"/><path d="M405.6,429.9L407.2,427.9L405.8,426.7L404.3,428.6Z" fill="#ff0e0e" stroke="#8d0808"/><path d="M404.1,432.2L405.6,429.9L404.3,428.6L402.7,430.8Z" fill="#fe1919" stroke="#900e0e"/><path d="M402.5,434.7L404.1,432.2L402.7,430.8L401.2,433.2Z" fill="#fd2f2f" stroke="#941b1b"/><path d="M401.0,437.2L402.5,434.7L401.2,433.2L399.6,435.6Z" fill="#fa4a4a" stroke="#972c2c"/><path d="M399.4,439.7L401.0,437.2L399.6,435.6L398.1,438.0Z" fill="#f86464" stroke="#9a3e3e"/><path d="M397.9,442.0L399.4,439.7L398.1,438.0L396.6,440.3Z" fill="#f77a7a" stroke="#9d4e4e"/><path d="M396.4,444.1L397.9,442.0L396.6,440.3L395.1,442.4Z" fill="#f68e8e" stroke="#a05d5d"/><path d="M394.9,446.0L396.4,444.1L395.1,442.4L393.6,444.2Z" fill="#f59f9f" stroke="#a26969"/><path d="M393.4,447.6L394.9,446.0L393.6,444.2L392.1,445.8Z" fill="#f5aaaa" stroke="#a27070"/><path d="M391.9,449.1L393.4,447.6L392.1,445.8L390.6,447.2Z" fill="#f5b4b4" stroke="#a27777"/><path d="M390.4,450.3L391.9,449.1L390.6,447.2L389.1,448.5Z" fill="#f6bcbc" stroke="#a27c7c"/><path d="M388.9,451.4L390.4,450.3L389.1,448.5L387.6,449.7Z" fill="#f6c2c2" stroke="#a28080"/><path d="M387.4,452.5L388.9,451.4L387.6,449.7L386.1,450.7Z" fill="#f6c8c8" stroke="#c5a0a0"/><path d="M385.9,453.4L387.4,452.5L386.1,450.7L384.7,451.7Z" fill="#f6cdcd" stroke="#c5a4a4"/><path d="M384.4,454.3L385.9,453.4L384.7,451.7L383.2,452.6Z" fill="#f6d0d0" stroke="#c5a6a6"/><path d="M383.0,455.2L384.4,454.3L383.2,452.6L381.7,453.5Z" fill="#f6d2d2" stroke="#c5a8a8"/><path d="M381.5,456.1L383.0,455.2L381.7,453.5L380.2,454.4Z" fill="#f6d5d5" stroke="#c5aaaa"/><path d="M380.0,456.9L381.5,456.1L380.2,454.4L378.7,455.3Z" fill="#f7d7d7" stroke="#c5acac"/><path d="M378.5,457.7L380.0,456.9L378.7,455.3L377.3,456.1Z" fill="#f7d9d9" stroke="#c5aeae"/><path d="M377.0,458.4L378.5,457.7L377.3,456.1L375.8,456.9Z" fill="#f7dbdb" stroke="#c5b0b0"/><path d="M375.6,459.2L377.0,458.4L375.8,456.9L374.3,457.7Z" fill="#f7dddd" stroke="#c6b1b1"/><path d="M374.1,460.0L375.6,459.2L374.3,457.7L372.9,458.4Z" fill="#f7dfdf" stroke="#c6b3b3"/><path d="M372.6,460.7L374.1,460.0L372.9,458.4L371.4,459.2Z" fill="#f7e1e1" stroke="#c6b4b4"/><path d="M371.1,461.4L372.6,460.7L371.4,459.2L369.9,459.9Z" fill="#f7e2e2" stroke="#c6b5b5"/><path d="M369.7,462.1L371.1,461.4L369.9,459.9L368.4,460.6Z" fill="#f7e4e4" stroke="#c6b6b6"/><path d="M368.2,462.8L369.7,462.1L368.4,460.6L367.0,461.3Z" fill="#f7e5e5" stroke="#c6b7b7"/><path d="M366.7,463.4L368.2,462.8L367.0,461.3L365.5,462.0Z" fill="#f7e7e7" stroke="#c6b9b9"/><path d="M365.2,464.1L366.7,463.4L365.5,462.0L364.0,462.7Z" fill="#f8e8e8" stroke="#c6b9b9"/><path d="M363.8,464.7L365.2,464.1L364.0,462.7L362.6,463.3Z" fill="#f8e9e9" stroke="#c6baba"/><path d="M362.3,465.4L363.8,464.7L362.6,463.3L361.1,463.9Z" fill="#f8eaea" stroke="#c6bbbb"/><path d="M360.8,466.0L362.3,465.4L361.1,463.9L359.6,464.5Z" fill="#f8ebeb" stroke="#c6bcbc"/><path d="M359.3,466.6L360.8,466.0L359.6,464.5L358.2,465.1Z" fill="#f8ecec" stroke="#c6bcbc"/><path d="M357.9,467.3L359.3,466.6L358.2,465.1L356.7,465.9Z" fill="#f8eded" stroke="#c6bdbd"/><path d="M356.4,468.0L357.9,467.3L356.7,465.9L355.2,466.6Z" fill="#f8eeee" stroke="#c6bfbf"/><path d="M354.9,468.6L356.4,468.0L355.2,466.6L353.8,467.3Z" fill="#f8efef" stroke="#c6c0c0"/><path d="M438.4,432.2L439.6,435.7L438.1,436.5L436.8,433.4Z" fill="#f6b4b4" stroke="#a27777"/><path d="M437.2,428.6L438.4,432.2L436.8,433.4L435.7,428.9Z" fill="#f68b8b" stroke="#9f5a5a"/><path d="M435.8,426.3L437.2,428.6L435.7,428.9L434.4,424.9Z" fill="#f95a5a" stroke="#983737"/><path d="M434.4,425.4L435.8,426.3L434.4,424.9L433.1,422.6Z" fill="#fc3333" stroke="#941e1e"/><path d="M432.9,425.2L434.4,425.4L433.1,422.6L431.6,421.7Z" fill="#fe1e1e" stroke="#921111"/><path d="M431.4,425.3L432.9,425.2L431.6,421.7L430.1,421.6Z" fill="#fe1818" stroke="#900e0e"/><path d="M429.9,425.6L431.4,425.3L430.1,421.6L428.6,421.8Z" fill="#fe1616" stroke="#8f0c0c"/><path d="M428.4,425.8L429.9,425.6L428.6,421.8L427.1,422.0Z" fill="#fe1414" stroke="#8f0b0b"/><path d="M426.9,425.9L428.4,425.8L427.1,422.0L425.6,422.3Z" fill="#fe1212" stroke="#8e0a0a"/><path d="M425.4,426.0L426.9,425.9L425.6,422.3L424.0,422.5Z" fill="#ff1010" stroke="#8e0909"/><path d="M423.8,425.9L425.4,426.0L424.0,422.5L422.5,422.6Z" fill="#ff0d0d" stroke="#8d0707"/><path d="M422.3,425.8L423.8,425.9L422.5,422.6L421.0,422.7Z" fill="#ff0a0a" stroke="#8c0505"/><path d="M420.8,425.5L422.3,425.8L421.0,422.7L419.5,422.7Z" fill="#ff0606" stroke="#8b0303"/><path d="M419.3,425.3L420.8,425.5L419.5,422.7L418.0,422.8Z" fill="#ff0606" stroke="#8a0303"/><path d="M417.8,425.1L419.3,425.3L418.0,422.8L416.4,422.9Z" fill="#ff0606" stroke="#8a0303"/><path d="M416.3,425.0L417.8,425.1L416.4,422.9L414.9,423.1Z" fill="#ff0606" stroke="#8a0303"/><path d="M414.8,425.1L416.3,425.0L414.9,423.1L413.4,423.4Z" fill="#ff0606" stroke="#8a0303"/><path d="M413.2,425.6L414.8,425.1L413.4,423.4L411.8,424.1Z" fill="#ff0606" stroke="#8a0303"/><path d="M411.7,426.4L413.2,425.6L411.8,424.1L410.3,425.0Z" fill="#ff0606" stroke="#8a0303"/><path d="M410.1,427.6L411.7,426.4L410.3,425.0L408.7,426.3Z" fill="#ff0606" stroke="#8a0303"/><path d="M408.5,429.3L410.1,427.6L408.7,426.3L407.2,427.9Z" fill="#ff0606" stroke="#8b0303"/><path d="M407.0,431.3L408.5,429.3L407.2,427.9L405.6,429.9Z" fill="#ff0f0f" stroke="#8d0808"/><path d="M405.4,433.7L407.0,431.3L405.6,429.9L404.1,432.2Z" fill="#fe1b1b" stroke="#910f0f"/><path d="M403.8,436.3L405.4,433.7L404.1,432.2L402.5,434.7Z" fill="#fc3333" stroke="#941e1e"/><path d="M402.3,438.9L403.8,436.3L402.5,434.7L401.0,437.2Z" fill="#fa4f4f" stroke="#973030"/><path d="M400.7,441.5L402.3,438.9L401.0,437.2L399.4,439.7Z" fill="#f86969" stroke="#9b4141"/><path d="M399.2,443.9L400.7,441.5L399.4,439.7L397.9,442.0Z" fill="#f78080" stroke="#9e5252"/><path d="M397.7,446.0L399.2,443.9L397.9,442.0L396.4,444.1Z" fill="#f59595" stroke="#a16262"/><path d="M396.2,447.9L397.7,446.0L396.4,444.1L394.9,446.0Z" fill="#f5a4a4" stroke="#a26c6c"/><path d="M394.7,449.6L396.2,447.9L394.9,446.0L393.4,447.6Z" fill="#f5b0b0" stroke="#a27474"/><path d="M393.2,451.0L394.7,449.6L393.4,447.6L391.9,449.1Z" fill="#f6b9b9" stroke="#a27a7a"/><path d="M391.7,452.2L393.2,451.0L391.9,449.1L390.4,450.3Z" fill="#f6c1c1" stroke="#a27f7f"/><path d="M390.2,453.3L391.7,452.2L390.4,450.3L388.9,451.4Z" fill="#f6c7c7" stroke="#c59f9f"/><path d="M388.7,454.3L390.2,453.3L388.9,451.4L387.4,452.5Z" fill="#f6cdcd" stroke="#c5a4a4"/><path d="M387.2,455.3L388.7,454.3L387.4,452.5L385.9,453.4Z" fill="#f6d0d0" stroke="#c5a6a6"/><path d="M385.7,456.1L387.2,455.3L385.9,453.4L384.4,454.3Z" fill="#f6d3d3" stroke="#c5a9a9"/><path d="M384.2,457.0L385.7,456.1L384.4,454.3L383.0,455.2Z" fill="#f6d5d5" stroke="#c5abab"/><path d="M382.7,457.8L384.2,457.0L383.0,455.2L381.5,456.1Z" fill="#f7d7d7" stroke="#c5acac"/><path d="M381.3,458.6L382.7,457.8L381.5,456.1L380.0,456.9Z" fill="#f7dada" stroke="#c5aeae"/><path d="M379.8,459.3L381.3,458.6L380.0,456.9L378.5,457.7Z" fill="#f7dbdb" stroke="#c5b0b0"/><path d="M378.3,460.1L379.8,459.3L378.5,457.7L377.0,458.4Z" fill="#f7dddd" stroke="#c6b1b1"/><path d="M376.8,460.8L378.3,460.1L377.0,458.4L375.6,459.2Z" fill="#f7dfdf" stroke="#c6b2b2"/><path d="M375.3,461.5L376.8,460.8L375.6,459.2L374.1,460.0Z" fill="#f7e1e1" stroke="#c6b4b4"/><path d="M373.9,462.2L375.3,461.5L374.1,460.0L372.6,460.7Z" fill="#f7e2e2" stroke="#c6b5b5"/><path d="M372.4,462.9L373.9,462.2L372.6,460.7L371.1,461.4Z" fill="#f7e4e4" stroke="#c6b6b6"/><path d="M370.9,463.6L372.4,462.9L371.1,461.4L369.7,462.1Z" fill="#f7e5e5" stroke="#c6b7b7"/><path d="M369.4,464.3L370.9,463.6L369.7,462.1L368.2,462.8Z" fill="#f7e6e6" stroke="#c6b8b8"/><path d="M367.9,464.9L369.4,464.3L368.2,462.8L366.7,463.4Z" fill="#f8e7e7" stroke="#c6b9b9"/><path d="M366.5,465.6L367.9,464.9L366.7,463.4L365.2,464.1Z" fill="#f8e9e9" stroke="#c6baba"/><path d="M365.0,466.2L366.5,465.6L365.2,464.1L363.8,464.7Z" fill="#f8eaea" stroke="#c6bbbb"/><path d="M363.5,466.8L365.0,466.2L363.8,464.7L362.3,465.4Z" fill="#f8eaea" stroke="#c6bcbc"/><path d="M362.0,467.4L363.5,466.8L362.3,465.4L360.8,466.0Z" fill="#f8ebeb" stroke="#c6bcbc"/><path d="M360.5,468.0L362.0,467.4L360.8,466.0L359.3,466.6Z" fill="#f8ecec" stroke="#c6bdbd"/><path d="M359.1,468.7L360.5,468.0L359.3,466.6L357.9,467.3Z" fill="#f8eded" stroke="#c6bebe"/><path d="M357.6,469.4L359.1,468.7L357.9,467.3L356.4,468.0Z" fill="#f8eeee" stroke="#c6bfbf"/><path d="M356.1,470.0L357.6,469.4L356.4,468.0L354.9,468.6Z" fill="#f8f0f0" stroke="#c6c0c0"/><path d="M439.9,432.3L441.2,435.2L439.6,435.7L438.4,432.2Z" fill="#f5a4a4" stroke="#a26c6c"/><path d="M438.6,430.2L439.9,432.3L438.4,432.2L437.2,428.6Z" fill="#f77d7d" stroke="#9d5050"/><path d="M437.2,429.3L438.6,430.2L437.2,428.6L435.8,426.3Z" fill="#f95d5d" stroke="#993939"/><path d="M435.7,429.1L437.2,429.3L435.8,426.3L434.4,425.4Z" fill="#fb4848" stroke="#962b2b"/><path d="M434.2,429.2L435.7,429.1L434.4,425.4L432.9,425.2Z" fill="#fb3d3d" stroke="#952424"/><path d="M432.7,429.5L434.2,429.2L432.9,425.2L431.4,425.3Z" fill="#fc3838" stroke="#952121"/><path d="M431.2,429.7L432.7,429.5L431.4,425.3L429.9,425.6Z" fill="#fc3535" stroke="#941f1f"/><path d="M429.6,429.8L431.2,429.7L429.9,425.6L428.4,425.8Z" fill="#fc3131" stroke="#941d1d"/><path d="M428.1,429.8L429.6,429.8L428.4,425.8L426.9,425.9Z" fill="#fd2c2c" stroke="#931a1a"/><path d="M426.6,429.7L428.1,429.8L426.9,425.9L425.4,426.0Z" fill="#fd2626" stroke="#931616"/><path d="M425.1,429.5L426.6,429.7L425.4,426.0L423.8,425.9Z" fill="#fe1e1e" stroke="#921111"/><path d="M423.6,429.1L425.1,429.5L423.8,425.9L422.3,425.8Z" fill="#fe1919" stroke="#900e0e"/><path d="M422.2,428.7L423.6,429.1L422.3,425.8L420.8,425.5Z" fill="#fe1414" stroke="#8f0b0b"/><path d="M420.7,428.2L422.2,428.7L420.8,425.5L419.3,425.3Z" fill="#ff0e0e" stroke="#8d0808"/><path d="M419.2,427.7L420.7,428.2L419.3,425.3L417.8,425.1Z" fill="#ff0808" stroke="#8b0404"/><path d="M417.6,427.4L419.2,427.7L417.8,425.1L416.3,425.0Z" fill="#ff0606" stroke="#8a0303"/><path d="M416.1,427.4L417.6,427.4L416.3,425.0L414.8,425.1Z" fill="#ff0606" stroke="#8a0303"/><path d="M414.6,427.6L416.1,427.4L414.8,425.1L413.2,425.6Z" fill="#ff0606" stroke="#8a0303"/><path d="M413.0,428.3L414.6,427.6L413.2,425.6L411.7,426.4Z" fill="#ff0606" stroke="#8a0303"/><path d="M411.5,429.5L413.0,428.3L411.7,426.4L410.1,427.6Z" fill="#ff0606" stroke="#8a0303"/><path d="M409.9,431.2L411.5,429.5L410.1,427.6L408.5,429.3Z" fill="#ff0808" stroke="#8b0404"/><path d="M408.3,433.3L409.9,431.2L408.5,429.3L407.0,431.3Z" fill="#ff1212" stroke="#8e0a0a"/><path d="M406.7,435.7L408.3,433.3L407.0,431.3L405.4,433.7Z" fill="#fe1f1f" stroke="#921212"/><path d="M405.2,438.3L406.7,435.7L405.4,433.7L403.8,436.3Z" fill="#fc3a3a" stroke="#952222"/><path d="M403.6,441.0L405.2,438.3L403.8,436.3L402.3,438.9Z" fill="#f95757" stroke="#983535"/><path d="M402.1,443.6L403.6,441.0L402.3,438.9L400.7,441.5Z" fill="#f87171" stroke="#9c4747"/><path d="M400.5,446.0L402.1,443.6L400.7,441.5L399.2,443.9Z" fill="#f68888" stroke="#9f5858"/><path d="M399.0,448.1L400.5,446.0L399.2,443.9L397.7,446.0Z" fill="#f59d9d" stroke="#a26868"/><path d="M397.5,450.0L399.0,448.1L397.7,446.0L396.2,447.9Z" fill="#f5abab" stroke="#a27171"/><path d="M396.0,451.7L397.5,450.0L396.2,447.9L394.7,449.6Z" fill="#f6b6b6" stroke="#a27878"/><path d="M394.5,453.0L396.0,451.7L394.7,449.6L393.2,451.0Z" fill="#f6c0c0" stroke="#a27f7f"/><path d="M393.0,454.3L394.5,453.0L393.2,451.0L391.7,452.2Z" fill="#f6c7c7" stroke="#c59f9f"/><path d="M391.5,455.3L393.0,454.3L391.7,452.2L390.2,453.3Z" fill="#f6cdcd" stroke="#c5a4a4"/><path d="M390.0,456.3L391.5,455.3L390.2,453.3L388.7,454.3Z" fill="#f6d1d1" stroke="#c5a7a7"/><path d="M388.5,457.2L390.0,456.3L388.7,454.3L387.2,455.3Z" fill="#f6d4d4" stroke="#c5a9a9"/><path d="M387.0,458.0L388.5,457.2L387.2,455.3L385.7,456.1Z" fill="#f7d6d6" stroke="#c5abab"/><path d="M385.5,458.8L387.0,458.0L385.7,456.1L384.2,457.0Z" fill="#f7d8d8" stroke="#c5adad"/><path d="M384.0,459.5L385.5,458.8L384.2,457.0L382.7,457.8Z" fill="#f7dada" stroke="#c5afaf"/><path d="M382.5,460.3L384.0,459.5L382.7,457.8L381.3,458.6Z" fill="#f7dcdc" stroke="#c5b0b0"/><path d="M381.0,461.0L382.5,460.3L381.3,458.6L379.8,459.3Z" fill="#f7dede" stroke="#c6b1b1"/><path d="M379.5,461.7L381.0,461.0L379.8,459.3L378.3,460.1Z" fill="#f7dfdf" stroke="#c6b3b3"/><path d="M378.1,462.4L379.5,461.7L378.3,460.1L376.8,460.8Z" fill="#f7e1e1" stroke="#c6b4b4"/><path d="M376.6,463.1L378.1,462.4L376.8,460.8L375.3,461.5Z" fill="#f7e2e2" stroke="#c6b5b5"/><path d="M375.1,463.8L376.6,463.1L375.3,461.5L373.9,462.2Z" fill="#f7e4e4" stroke="#c6b6b6"/><path d="M373.6,464.5L375.1,463.8L373.9,462.2L372.4,462.9Z" fill="#f7e5e5" stroke="#c6b7b7"/><path d="M372.1,465.1L373.6,464.5L372.4,462.9L370.9,463.6Z" fill="#f7e6e6" stroke="#c6b8b8"/><path d="M370.6,465.8L372.1,465.1L370.9,463.6L369.4,464.3Z" fill="#f8e7e7" stroke="#c6b9b9"/><path d="M369.2,466.4L370.6,465.8L369.4,464.3L367.9,464.9Z" fill="#f8e8e8" stroke="#c6baba"/><path d="M367.7,467.0L369.2,466.4L367.9,464.9L366.5,465.6Z" fill="#f8e9e9" stroke="#c6bbbb"/><path d="M366.2,467.7L367.7,467.0L366.5,465.6L365.0,466.2Z" fill="#f8eaea" stroke="#c6bbbb"/><path d="M364.7,468.3L366.2,467.7L365.0,466.2L363.5,466.8Z" fill="#f8ebeb" stroke="#c6bcbc"/><path d="M363.2,468.9L364.7,468.3L363.5,466.8L362.0,467.4Z" fill="#f8ecec" stroke="#c6bdbd"/><path d="M361.7,469.4L363.2,468.9L362.0,467.4L360.5,468.0Z" fill="#f8eded" stroke="#c6bdbd"/><path d="M360.3,470.1L361.7,469.4L360.5,468.0L359.1,468.7Z" fill="#f8eded" stroke="#c6bebe"/><path d="M358.8,470.8L360.3,470.1L359.1,468.7L357.6,469.4Z" fill="#f8efef" stroke="#c6bfbf"/><path d="M357.3,471.4L358.8,470.8L357.6,469.4L356.1,470.0Z" fill="#f8f0f0" stroke="#c6c0c0"/><path d="M441.3,433.8L442.7,435.5L441.2,435.2L439.9,432.3Z" fill="#f59d9d" stroke="#a26767"/><path d="M439.9,433.0L441.3,433.8L439.9,432.3L438.6,430.2Z" fill="#f78181" stroke="#9e5353"/><path d="M438.4,432.9L439.9,433.0L438.6,430.2L437.2,429.3Z" fill="#f87070" stroke="#9c4646"/><path d="M436.9,433.0L438.4,432.9L437.2,429.3L435.7,429.1Z" fill="#f86767" stroke="#9a4040"/><path d="M435.4,433.3L436.9,433.0L435.7,429.1L434.2,429.2Z" fill="#f86262" stroke="#9a3d3d"/><path d="M433.9,433.5L435.4,433.3L434.2,429.2L432.7,429.5Z" fill="#f95f5f" stroke="#993a3a"/><path d="M432.4,433.6L433.9,433.5L432.7,429.5L431.2,429.7Z" fill="#f95c5c" stroke="#993838"/><path d="M430.9,433.7L432.4,433.6L431.2,429.7L429.6,429.8Z" fill="#f95757" stroke="#983535"/><path d="M429.4,433.6L430.9,433.7L429.6,429.8L428.1,429.8Z" fill="#fa5151" stroke="#973131"/><path d="M427.9,433.4L429.4,433.6L428.1,429.8L426.6,429.7Z" fill="#fa4a4a" stroke="#972c2c"/><path d="M426.4,433.1L427.9,433.4L426.6,429.7L425.1,429.5Z" fill="#fb4040" stroke="#962626"/><path d="M424.9,432.7L426.4,433.1L425.1,429.5L423.6,429.1Z" fill="#fc3535" stroke="#941f1f"/><path d="M423.5,432.2L424.9,432.7L423.6,429.1L422.2,428.7Z" fill="#fd2929" stroke="#931818"/><path d="M422.0,431.6L423.5,432.2L422.2,428.7L420.7,428.2Z" fill="#fe1d1d" stroke="#911010"/><path d="M420.5,431.1L422.0,431.6L420.7,428.2L419.2,427.7Z" fill="#fe1616" stroke="#8f0c0c"/><path d="M419.0,430.7L420.5,431.1L419.2,427.7L417.6,427.4Z" fill="#ff0f0f" stroke="#8d0808"/><path d="M417.4,430.6L419.0,430.7L417.6,427.4L416.1,427.4Z" fill="#ff0a0a" stroke="#8c0505"/><path d="M415.9,430.8L417.4,430.6L416.1,427.4L414.6,427.6Z" fill="#ff0707" stroke="#8b0404"/><path d="M414.4,431.4L415.9,430.8L414.6,427.6L413.0,428.3Z" fill="#ff0707" stroke="#8b0404"/><path d="M412.8,432.5L414.4,431.4L413.0,428.3L411.5,429.5Z" fill="#ff0a0a" stroke="#8c0606"/><path d="M411.2,434.1L412.8,432.5L411.5,429.5L409.9,431.2Z" fill="#ff1111" stroke="#8e0909"/><path d="M409.6,436.1L411.2,434.1L409.9,431.2L408.3,433.3Z" fill="#fe1a1a" stroke="#910f0f"/><path d="M408.1,438.5L409.6,436.1L408.3,433.3L406.7,435.7Z" fill="#fd2f2f" stroke="#941b1b"/><path d="M406.5,441.0L408.1,438.5L406.7,435.7L405.2,438.3Z" fill="#fa4a4a" stroke="#972c2c"/><path d="M404.9,443.6L406.5,441.0L405.2,438.3L403.6,441.0Z" fill="#f86565" stroke="#9a3e3e"/><path d="M403.4,446.1L404.9,443.6L403.6,441.0L402.1,443.6Z" fill="#f77e7e" stroke="#9e5050"/><path d="M401.8,448.4L403.4,446.1L402.1,443.6L400.5,446.0Z" fill="#f59595" stroke="#a16161"/><path d="M400.3,450.5L401.8,448.4L400.5,446.0L399.0,448.1Z" fill="#f5a6a6" stroke="#a26e6e"/><path d="M398.8,452.3L400.3,450.5L399.0,448.1L397.5,450.0Z" fill="#f5b3b3" stroke="#a27676"/><path d="M397.3,453.8L398.8,452.3L397.5,450.0L396.0,451.7Z" fill="#f6bfbf" stroke="#a27e7e"/><path d="M395.8,455.2L397.3,453.8L396.0,451.7L394.5,453.0Z" fill="#f6c7c7" stroke="#c5a0a0"/><path d="M394.3,456.3L395.8,455.2L394.5,453.0L393.0,454.3Z" fill="#f6cece" stroke="#c5a5a5"/><path d="M392.7,457.3L394.3,456.3L393.0,454.3L391.5,455.3Z" fill="#f6d2d2" stroke="#c5a8a8"/><path d="M391.3,458.2L392.7,457.3L391.5,455.3L390.0,456.3Z" fill="#f6d5d5" stroke="#c5aaaa"/><path d="M389.8,459.1L391.3,458.2L390.0,456.3L388.5,457.2Z" fill="#f7d8d8" stroke="#c5acac"/><path d="M388.3,459.8L389.8,459.1L388.5,457.2L387.0,458.0Z" fill="#f7dada" stroke="#c5aeae"/><path d="M386.8,460.6L388.3,459.8L387.0,458.0L385.5,458.8Z" fill="#f7dcdc" stroke="#c5b0b0"/><path d="M385.3,461.3L386.8,460.6L385.5,458.8L384.0,459.5Z" fill="#f7dddd" stroke="#c6b1b1"/><path d="M383.8,462.0L385.3,461.3L384.0,459.5L382.5,460.3Z" fill="#f7dfdf" stroke="#c6b2b2"/><path d="M382.3,462.7L383.8,462.0L382.5,460.3L381.0,461.0Z" fill="#f7e0e0" stroke="#c6b3b3"/><path d="M380.8,463.4L382.3,462.7L381.0,461.0L379.5,461.7Z" fill="#f7e2e2" stroke="#c6b5b5"/><path d="M379.3,464.1L380.8,463.4L379.5,461.7L378.1,462.4Z" fill="#f7e3e3" stroke="#c6b6b6"/><path d="M377.8,464.7L379.3,464.1L378.1,462.4L376.6,463.1Z" fill="#f7e4e4" stroke="#c6b7b7"/><path d="M376.3,465.4L377.8,464.7L376.6,463.1L375.1,463.8Z" fill="#f7e5e5" stroke="#c6b8b8"/><path d="M374.8,466.0L376.3,465.4L375.1,463.8L373.6,464.5Z" fill="#f7e7e7" stroke="#c6b8b8"/><path d="M373.3,466.7L374.8,466.0L373.6,464.5L372.1,465.1Z" fill="#f8e8e8" stroke="#c6b9b9"/><path d="M371.9,467.3L373.3,466.7L372.1,465.1L370.6,465.8Z" fill="#f8e9e9" stroke="#c6baba"/><path d="M370.4,467.9L371.9,467.3L370.6,465.8L369.2,466.4Z" fill="#f8e9e9" stroke="#c6bbbb"/><path d="M368.9,468.5L370.4,467.9L369.2,466.4L367.7,467.0Z" fill="#f8eaea" stroke="#c6bbbb"/><path d="M367.4,469.1L368.9,468.5L367.7,467.0L366.2,467.7Z" fill="#f8ebeb" stroke="#c6bcbc"/><path d="M365.9,469.7L367.4,469.1L366.2,467.7L364.7,468.3Z" fill="#f8ecec" stroke="#c6bdbd"/><path d="M364.4,470.3L365.9,469.7L364.7,468.3L363.2,468.9Z" fill="#f8ecec" stroke="#c6bdbd"/><path d="M362.9,470.9L364.4,470.3L363.2,468.9L361.7,469.4Z" fill="#f8eded" stroke="#c6bebe"/><path d="M361.4,471.5L362.9,470.9L361.7,469.4L360.3,470.1Z" fill="#f8eeee" stroke="#c6bebe"/><path d="M360.0,472.2L361.4,471.5L360.3,470.1L358.8,470.8Z" fill="#f8efef" stroke="#c6bfbf"/><path d="M358.5,472.7L360.0,472.2L358.8,470.8L357.3,471.4Z" fill="#f8f0f0" stroke="#c6c0c0"/><path d="M442.7,436.3L444.1,436.9L442.7,435.5L441.3,433.8Z" fill="#f59f9f" stroke="#a26969"/><path d="M441.2,436.2L442.7,436.3L441.3,433.8L439.9,433.0Z" fill="#f69191" stroke="#a05f5f"/><path d="M439.7,436.4L441.2,436.2L439.9,433.0L438.4,432.9Z" fill="#f68989" stroke="#9f5959"/><path d="M438.2,436.6L439.7,436.4L438.4,432.9L436.9,433.0Z" fill="#f68484" stroke="#9e5555"/><path d="M436.7,436.8L438.2,436.6L436.9,433.0L435.4,433.3Z" fill="#f78181" stroke="#9e5353"/><path d="M435.2,436.9L436.7,436.8L435.4,433.3L433.9,433.5Z" fill="#f77e7e" stroke="#9e5050"/><path d="M433.7,437.0L435.2,436.9L433.9,433.5L432.4,433.6Z" fill="#f77979" stroke="#9d4d4d"/><path d="M432.2,436.9L433.7,437.0L432.4,433.6L430.9,433.7Z" fill="#f77474" stroke="#9c4949"/><path d="M430.7,436.8L432.2,436.9L430.9,433.7L429.4,433.6Z" fill="#f86e6e" stroke="#9b4545"/><path d="M429.2,436.6L430.7,436.8L429.4,433.6L427.9,433.4Z" fill="#f86767" stroke="#9a4040"/><path d="M427.7,436.4L429.2,436.6L427.9,433.4L426.4,433.1Z" fill="#f95e5e" stroke="#993a3a"/><path d="M426.2,436.1L427.7,436.4L426.4,433.1L424.9,432.7Z" fill="#f95454" stroke="#983333"/><path d="M424.7,435.8L426.2,436.1L424.9,432.7L423.5,432.2Z" fill="#fa4949" stroke="#962c2c"/><path d="M423.2,435.4L424.7,435.8L423.5,432.2L422.0,431.6Z" fill="#fc3c3c" stroke="#952424"/><path d="M421.7,435.1L423.2,435.4L422.0,431.6L420.5,431.1Z" fill="#fd2f2f" stroke="#941c1c"/><path d="M420.2,434.9L421.7,435.1L420.5,431.1L419.0,430.7Z" fill="#fe2424" stroke="#921515"/><path d="M418.7,434.8L420.2,434.9L419.0,430.7L417.4,430.6Z" fill="#fe1c1c" stroke="#911010"/><path d="M417.2,435.1L418.7,434.8L417.4,430.6L415.9,430.8Z" fill="#fe1919" stroke="#900e0e"/><path d="M415.6,435.7L417.2,435.1L415.9,430.8L414.4,431.4Z" fill="#fe1919" stroke="#900e0e"/><path d="M414.1,436.8L415.6,435.7L414.4,431.4L412.8,432.5Z" fill="#fe1c1c" stroke="#911010"/><path d="M412.5,438.2L414.1,436.8L412.8,432.5L411.2,434.1Z" fill="#fd2525" stroke="#921515"/><path d="M410.9,440.1L412.5,438.2L411.2,434.1L409.6,436.1Z" fill="#fc3636" stroke="#942020"/><path d="M409.4,442.2L410.9,440.1L409.6,436.1L408.1,438.5Z" fill="#fa4b4b" stroke="#972d2d"/><path d="M407.8,444.5L409.4,442.2L408.1,438.5L406.5,441.0Z" fill="#f86363" stroke="#9a3d3d"/><path d="M406.2,446.8L407.8,444.5L406.5,441.0L404.9,443.6Z" fill="#f77a7a" stroke="#9d4d4d"/><path d="M404.7,449.1L406.2,446.8L404.9,443.6L403.4,446.1Z" fill="#f69090" stroke="#a05e5e"/><path d="M403.1,451.2L404.7,449.1L403.4,446.1L401.8,448.4Z" fill="#f5a3a3" stroke="#a26b6b"/><path d="M401.6,453.0L403.1,451.2L401.8,448.4L400.3,450.5Z" fill="#f5b1b1" stroke="#a27575"/><path d="M400.1,454.7L401.6,453.0L400.3,450.5L398.8,452.3Z" fill="#f6bdbd" stroke="#a27d7d"/><path d="M398.5,456.1L400.1,454.7L398.8,452.3L397.3,453.8Z" fill="#f6c7c7" stroke="#c59f9f"/><path d="M397.0,457.3L398.5,456.1L397.3,453.8L395.8,455.2Z" fill="#f6cfcf" stroke="#c5a5a5"/><path d="M395.5,458.3L397.0,457.3L395.8,455.2L394.3,456.3Z" fill="#f6d3d3" stroke="#c5a9a9"/><path d="M394.0,459.3L395.5,458.3L394.3,456.3L392.7,457.3Z" fill="#f7d6d6" stroke="#c5acac"/><path d="M392.5,460.1L394.0,459.3L392.7,457.3L391.3,458.2Z" fill="#f7d9d9" stroke="#c5aeae"/><path d="M391.0,460.9L392.5,460.1L391.3,458.2L389.8,459.1Z" fill="#f7dbdb" stroke="#c5afaf"/><path d="M389.5,461.6L391.0,460.9L389.8,459.1L388.3,459.8Z" fill="#f7dddd" stroke="#c6b1b1"/><path d="M388.0,462.3L389.5,461.6L388.3,459.8L386.8,460.6Z" fill="#f7dfdf" stroke="#c6b2b2"/><path d="M386.5,463.0L388.0,462.3L386.8,460.6L385.3,461.3Z" fill="#f7e0e0" stroke="#c6b3b3"/><path d="M385.0,463.7L386.5,463.0L385.3,461.3L383.8,462.0Z" fill="#f7e1e1" stroke="#c6b4b4"/><path d="M383.5,464.3L385.0,463.7L383.8,462.0L382.3,462.7Z" fill="#f7e3e3" stroke="#c6b5b5"/><path d="M382.0,465.0L383.5,464.3L382.3,462.7L380.8,463.4Z" fill="#f7e4e4" stroke="#c6b6b6"/><path d="M380.5,465.6L382.0,465.0L380.8,463.4L379.3,464.1Z" fill="#f7e5e5" stroke="#c6b7b7"/><path d="M379.1,466.3L380.5,465.6L379.3,464.1L377.8,464.7Z" fill="#f7e6e6" stroke="#c6b8b8"/><path d="M377.6,466.9L379.1,466.3L377.8,464.7L376.3,465.4Z" fill="#f7e7e7" stroke="#c6b9b9"/><path d="M376.1,467.5L377.6,466.9L376.3,465.4L374.8,466.0Z" fill="#f8e8e8" stroke="#c6b9b9"/><path d="M374.6,468.2L376.1,467.5L374.8,466.0L373.3,466.7Z" fill="#f8e9e9" stroke="#c6baba"/><path d="M373.1,468.8L374.6,468.2L373.3,466.7L371.9,467.3Z" fill="#f8eaea" stroke="#c6bbbb"/><path d="M371.6,469.4L373.1,468.8L371.9,467.3L370.4,467.9Z" fill="#f8eaea" stroke="#c6bbbb"/><path d="M370.1,470.0L371.6,469.4L370.4,467.9L368.9,468.5Z" fill="#f8ebeb" stroke="#c6bcbc"/><path d="M368.6,470.6L370.1,470.0L368.9,468.5L367.4,469.1Z" fill="#f8ecec" stroke="#c6bdbd"/><path d="M367.1,471.2L368.6,470.6L367.4,469.1L365.9,469.7Z" fill="#f8ecec" stroke="#c6bdbd"/><path d="M365.6,471.7L367.1,471.2L365.9,469.7L364.4,470.3Z" fill="#f8eded" stroke="#c6bebe"/><path d="M364.1,472.3L365.6,471.7L364.4,470.3L362.9,470.9Z" fill="#f8eeee" stroke="#c6bebe"/><path d="M362.6,472.9L364.1,472.3L362.9,470.9L361.4,471.5Z" fill="#f8eeee" stroke="#c6bfbf"/><path d="M361.1,473.5L362.6,472.9L361.4,471.5L360.0,472.2Z" fill="#f8efef" stroke="#c6bfbf"/><path d="M359.7,474.1L361.1,473.5L360.0,472.2L358.5,472.7Z" fill="#f8f0f0" stroke="#c6c0c0"/><path d="M444.0,438.9L445.4,438.9L444.1,436.9L442.7,436.3Z" fill="#f5a8a8" stroke="#a26f6f"/><path d="M442.5,439.1L444.0,438.9L442.7,436.3L441.2,436.2Z" fill="#f5a2a2" stroke="#a26b6b"/><path d="M441.0,439.3L442.5,439.1L441.2,436.2L439.7,436.4Z" fill="#f59f9f" stroke="#a26969"/><path d="M439.5,439.5L441.0,439.3L439.7,436.4L438.2,436.6Z" fill="#f59c9c" stroke="#a26767"/><path d="M438.0,439.5L439.5,439.5L438.2,436.6L436.7,436.8Z" fill="#f59999" stroke="#a16464"/><path d="M436.5,439.5L438.0,439.5L436.7,436.8L435.2,436.9Z" fill="#f59494" stroke="#a16161"/><path d="M435.0,439.4L436.5,439.5L435.2,436.9L433.7,437.0Z" fill="#f68e8e" stroke="#a05c5c"/><path d="M433.5,439.2L435.0,439.4L433.7,437.0L432.2,436.9Z" fill="#f68888" stroke="#9f5858"/><path d="M432.0,439.1L433.5,439.2L432.2,436.9L430.7,436.8Z" fill="#f78181" stroke="#9e5252"/><path d="M430.5,439.0L432.0,439.1L430.7,436.8L429.2,436.6Z" fill="#f77979" stroke="#9d4d4d"/><path d="M429.0,439.0L430.5,439.0L429.2,436.6L427.7,436.4Z" fill="#f87272" stroke="#9c4848"/><path d="M427.5,439.0L429.0,439.0L427.7,436.4L426.2,436.1Z" fill="#f86b6b" stroke="#9b4343"/><path d="M426.0,439.1L427.5,439.0L426.2,436.1L424.7,435.8Z" fill="#f86464" stroke="#9a3e3e"/><path d="M424.5,439.1L426.0,439.1L424.7,435.8L423.2,435.4Z" fill="#f95c5c" stroke="#993939"/><path d="M423.0,439.2L424.5,439.1L423.2,435.4L421.7,435.1Z" fill="#f95454" stroke="#983333"/><path d="M421.5,439.4L423.0,439.2L421.7,435.1L420.2,434.9Z" fill="#fa4c4c" stroke="#972e2e"/><path d="M419.9,439.6L421.5,439.4L420.2,434.9L418.7,434.8Z" fill="#fb4646" stroke="#962a2a"/><path d="M418.4,440.1L419.9,439.6L418.7,434.8L417.2,435.1Z" fill="#fb4343" stroke="#962828"/><path d="M416.9,440.8L418.4,440.1L417.2,435.1L415.6,435.7Z" fill="#fb4444" stroke="#962828"/><path d="M415.3,441.8L416.9,440.8L415.6,435.7L414.1,436.8Z" fill="#fa4848" stroke="#962c2c"/><path d="M413.7,443.1L415.3,441.8L414.1,436.8L412.5,438.2Z" fill="#fa5252" stroke="#983232"/><path d="M412.2,444.7L413.7,443.1L412.5,438.2L410.9,440.1Z" fill="#f96060" stroke="#993b3b"/><path d="M410.6,446.5L412.2,444.7L410.9,440.1L409.4,442.2Z" fill="#f86f6f" stroke="#9b4646"/><path d="M409.1,448.4L410.6,446.5L409.4,442.2L407.8,444.5Z" fill="#f78181" stroke="#9e5353"/><path d="M407.5,450.4L409.1,448.4L407.8,444.5L406.2,446.8Z" fill="#f59494" stroke="#a16161"/><path d="M405.9,452.2L407.5,450.4L406.2,446.8L404.7,449.1Z" fill="#f5a4a4" stroke="#a26d6d"/><path d="M404.4,454.0L405.9,452.2L404.7,449.1L403.1,451.2Z" fill="#f5b2b2" stroke="#a27575"/><path d="M402.9,455.6L404.4,454.0L403.1,451.2L401.6,453.0Z" fill="#f6bebe" stroke="#a27d7d"/><path d="M401.3,457.0L402.9,455.6L401.6,453.0L400.1,454.7Z" fill="#f6c8c8" stroke="#c5a0a0"/><path d="M399.8,458.2L401.3,457.0L400.1,454.7L398.5,456.1Z" fill="#f6cfcf" stroke="#c5a6a6"/><path d="M398.3,459.3L399.8,458.2L398.5,456.1L397.0,457.3Z" fill="#f6d4d4" stroke="#c5a9a9"/><path d="M396.8,460.2L398.3,459.3L397.0,457.3L395.5,458.3Z" fill="#f7d7d7" stroke="#c5acac"/><path d="M395.3,461.1L396.8,460.2L395.5,458.3L394.0,459.3Z" fill="#f7dada" stroke="#c5afaf"/><path d="M393.8,461.8L395.3,461.1L394.0,459.3L392.5,460.1Z" fill="#f7dddd" stroke="#c6b0b0"/><path d="M392.3,462.6L393.8,461.8L392.5,460.1L391.0,460.9Z" fill="#f7dede" stroke="#c6b2b2"/><path d="M390.8,463.3L392.3,462.6L391.0,460.9L389.5,461.6Z" fill="#f7e0e0" stroke="#c6b3b3"/><path d="M389.3,463.9L390.8,463.3L389.5,461.6L388.0,462.3Z" fill="#f7e1e1" stroke="#c6b4b4"/><path d="M387.8,464.6L389.3,463.9L388.0,462.3L386.5,463.0Z" fill="#f7e2e2" stroke="#c6b5b5"/><path d="M386.3,465.2L387.8,464.6L386.5,463.0L385.0,463.7Z" fill="#f7e3e3" stroke="#c6b6b6"/><path d="M384.8,465.9L386.3,465.2L385.0,463.7L383.5,464.3Z" fill="#f7e4e4" stroke="#c6b7b7"/><path d="M383.3,466.5L384.8,465.9L383.5,464.3L382.0,465.0Z" fill="#f7e5e5" stroke="#c6b8b8"/><path d="M381.8,467.1L383.3,466.5L382.0,465.0L380.5,465.6Z" fill="#f7e6e6" stroke="#c6b8b8"/><path d="M380.3,467.8L381.8,467.1L380.5,465.6L379.1,466.3Z" fill="#f7e7e7" stroke="#c6b9b9"/><path d="M378.8,468.4L380.3,467.8L379.1,466.3L377.6,466.9Z" fill="#f8e8e8" stroke="#c6baba"/><path d="M377.3,469.0L378.8,468.4L377.6,466.9L376.1,467.5Z" fill="#f8e9e9" stroke="#c6baba"/><path d="M375.8,469.6L377.3,469.0L376.1,467.5L374.6,468.2Z" fill="#f8eaea" stroke="#c6bbbb"/><path d="M374.3,470.2L375.8,469.6L374.6,468.2L373.1,468.8Z" fill="#f8eaea" stroke="#c6bbbb"/><path d="M372.8,470.8L374.3,470.2L373.1,468.8L371.6,469.4Z" fill="#f8ebeb" stroke="#c6bcbc"/><path d="M371.3,471.4L372.8,470.8L371.6,469.4L370.1,470.0Z" fill="#f8ecec" stroke="#c6bdbd"/><path d="M369.8,472.0L371.3,471.4L370.1,470.0L368.6,470.6Z" fill="#f8ecec" stroke="#c6bdbd"/><path d="M368.3,472.6L369.8,472.0L368.6,470.6L367.1,471.2Z" fill="#f8eded" stroke="#c6bebe"/><path d="M366.8,473.2L368.3,472.6L367.1,471.2L365.6,471.7Z" fill="#f8eded" stroke="#c6bebe"/><path d="M365.3,473.7L366.8,473.2L365.6,471.7L364.1,472.3Z" fill="#f8eeee" stroke="#c6bebe"/><path d="M363.8,474.3L365.3,473.7L364.1,472.3L362.6,472.9Z" fill="#f8efef" stroke="#c6bfbf"/><path d="M362.3,474.9L363.8,474.3L362.6,472.9L361.1,473.5Z" fill="#f8efef" stroke="#c6bfbf"/><path d="M360.8,475.5L362.3,474.9L361.1,473.5L359.7,474.1Z" fill="#f8f0f0" stroke="#c6c0c0"/><path d="M445.3,441.1L446.8,440.8L445.4,438.9L444.0,438.9Z" fill="#f5b1b1" stroke="#a27575"/><path d="M443.8,441.4L445.3,441.1L444.0,438.9L442.5,439.1Z" fill="#f5aeae" stroke="#a27373"/><path d="M442.3,441.5L443.8,441.4L442.5,439.1L441.0,439.3Z" fill="#f5abab" stroke="#a27171"/><path d="M440.8,441.6L442.3,441.5L441.0,439.3L439.5,439.5Z" fill="#f5a8a8" stroke="#a26f6f"/><path d="M439.3,441.5L440.8,441.6L439.5,439.5L438.0,439.5Z" fill="#f5a4a4" stroke="#a26c6c"/><path d="M437.9,441.2L439.3,441.5L438.0,439.5L436.5,439.5Z" fill="#f59f9f" stroke="#a26969"/><path d="M436.4,440.9L437.9,441.2L436.5,439.5L435.0,439.4Z" fill="#f59999" stroke="#a16464"/><path d="M434.9,440.7L436.4,440.9L435.0,439.4L433.5,439.2Z" fill="#f69090" stroke="#a05e5e"/><path d="M433.4,440.5L434.9,440.7L433.5,439.2L432.0,439.1Z" fill="#f68989" stroke="#9f5858"/><path d="M431.9,440.5L433.4,440.5L432.0,439.1L430.5,439.0Z" fill="#f78282" stroke="#9e5353"/><path d="M430.4,440.8L431.9,440.5L430.5,439.0L429.0,439.0Z" fill="#f77c7c" stroke="#9d4f4f"/><path d="M428.9,441.2L430.4,440.8L429.0,439.0L427.5,439.0Z" fill="#f77979" stroke="#9d4d4d"/><path d="M427.3,441.8L428.9,441.2L427.5,439.0L426.0,439.1Z" fill="#f77676" stroke="#9c4b4b"/><path d="M425.8,442.4L427.3,441.8L426.0,439.1L424.5,439.1Z" fill="#f77474" stroke="#9c4949"/><path d="M424.2,443.0L425.8,442.4L424.5,439.1L423.0,439.2Z" fill="#f77373" stroke="#9c4848"/><path d="M422.7,443.7L424.2,443.0L423.0,439.2L421.5,439.4Z" fill="#f87171" stroke="#9c4747"/><path d="M421.2,444.4L422.7,443.7L421.5,439.4L419.9,439.6Z" fill="#f87171" stroke="#9c4747"/><path d="M419.6,445.1L421.2,444.4L419.9,439.6L418.4,440.1Z" fill="#f87171" stroke="#9c4747"/><path d="M418.1,445.9L419.6,445.1L418.4,440.1L416.9,440.8Z" fill="#f77373" stroke="#9c4949"/><path d="M416.5,446.9L418.1,445.9L416.9,440.8L415.3,441.8Z" fill="#f77878" stroke="#9d4c4c"/><path d="M415.0,448.0L416.5,446.9L415.3,441.8L413.7,443.1Z" fill="#f77f7f" stroke="#9e5151"/><path d="M413.4,449.3L415.0,448.0L413.7,443.1L412.2,444.7Z" fill="#f68989" stroke="#9f5858"/><path d="M411.9,450.8L413.4,449.3L412.2,444.7L410.6,446.5Z" fill="#f59595" stroke="#a16262"/><path d="M410.3,452.3L411.9,450.8L410.6,446.5L409.1,448.4Z" fill="#f5a1a1" stroke="#a26a6a"/><path d="M408.8,453.8L410.3,452.3L409.1,448.4L407.5,450.4Z" fill="#f5acac" stroke="#a27272"/><path d="M407.2,455.3L408.8,453.8L407.5,450.4L405.9,452.2Z" fill="#f6b7b7" stroke="#a27979"/><path d="M405.7,456.7L407.2,455.3L405.9,452.2L404.4,454.0Z" fill="#f6c1c1" stroke="#a27f7f"/><path d="M404.2,458.0L405.7,456.7L404.4,454.0L402.9,455.6Z" fill="#f6caca" stroke="#c5a2a2"/><path d="M402.6,459.1L404.2,458.0L402.9,455.6L401.3,457.0Z" fill="#f6d0d0" stroke="#c5a7a7"/><path d="M401.1,460.2L402.6,459.1L401.3,457.0L399.8,458.2Z" fill="#f6d5d5" stroke="#c5aaaa"/><path d="M399.6,461.1L401.1,460.2L399.8,458.2L398.3,459.3Z" fill="#f7d8d8" stroke="#c5adad"/><path d="M398.1,461.9L399.6,461.1L398.3,459.3L396.8,460.2Z" fill="#f7dbdb" stroke="#c5afaf"/><path d="M396.6,462.7L398.1,461.9L396.8,460.2L395.3,461.1Z" fill="#f7dddd" stroke="#c6b1b1"/><path d="M395.1,463.4L396.6,462.7L395.3,461.1L393.8,461.8Z" fill="#f7dfdf" stroke="#c6b2b2"/><path d="M393.6,464.1L395.1,463.4L393.8,461.8L392.3,462.6Z" fill="#f7e1e1" stroke="#c6b4b4"/><path d="M392.1,464.8L393.6,464.1L392.3,462.6L390.8,463.3Z" fill="#f7e2e2" stroke="#c6b5b5"/><path d="M390.5,465.4L392.1,464.8L390.8,463.3L389.3,463.9Z" fill="#f7e3e3" stroke="#c6b5b5"/><path d="M389.0,466.1L390.5,465.4L389.3,463.9L387.8,464.6Z" fill="#f7e4e4" stroke="#c6b6b6"/><path d="M387.5,466.7L389.0,466.1L387.8,464.6L386.3,465.2Z" fill="#f7e5e5" stroke="#c6b7b7"/><path d="M386.0,467.3L387.5,466.7L386.3,465.2L384.8,465.9Z" fill="#f7e6e6" stroke="#c6b8b8"/><path d="M384.5,468.0L386.0,467.3L384.8,465.9L383.3,466.5Z" fill="#f7e6e6" stroke="#c6b8b8"/><path d="M383.0,468.6L384.5,468.0L383.3,466.5L381.8,467.1Z" fill="#f8e7e7" stroke="#c6b9b9"/><path d="M381.5,469.2L383.0,468.6L381.8,467.1L380.3,467.8Z" fill="#f8e8e8" stroke="#c6baba"/><path d="M380.0,469.8L381.5,469.2L380.3,467.8L378.8,468.4Z" fill="#f8e9e9" stroke="#c6baba"/><path d="M378.5,470.4L380.0,469.8L378.8,468.4L377.3,469.0Z" fill="#f8eaea" stroke="#c6bbbb"/><path d="M377.0,471.0L378.5,470.4L377.3,469.0L375.8,469.6Z" fill="#f8eaea" stroke="#c6bbbb"/><path d="M375.5,471.6L377.0,471.0L375.8,469.6L374.3,470.2Z" fill="#f8ebeb" stroke="#c6bcbc"/><path d="M374.0,472.2L375.5,471.6L374.3,470.2L372.8,470.8Z" fill="#f8ebeb" stroke="#c6bcbc"/><path d="M372.5,472.8L374.0,472.2L372.8,470.8L371.3,471.4Z" fill="#f8ecec" stroke="#c6bdbd"/><path d="M371.0,473.4L372.5,472.8L371.3,471.4L369.8,472.0Z" fill="#f8eded" stroke="#c6bdbd"/><path d="M369.5,474.0L371.0,473.4L369.8,472.0L368.3,472.6Z" fill="#f8eded" stroke="#c6bebe"/><path d="M368.0,474.6L369.5,474.0L368.3,472.6L366.8,473.2Z" fill="#f8eeee" stroke="#c6bebe"/><path d="M366.5,475.1L368.0,474.6L366.8,473.2L365.3,473.7Z" fill="#f8eeee" stroke="#c6bfbf"/><path d="M365.0,475.7L366.5,475.1L365.3,473.7L363.8,474.3Z" fill="#f8efef" stroke="#c6bfbf"/><path d="M363.5,476.3L365.0,475.7L363.8,474.3L362.3,474.9Z" fill="#f8efef" stroke="#c6bfbf"/><path d="M362.0,476.9L363.5,476.3L362.3,474.9L360.8,475.5Z" fill="#f8f0f0" stroke="#c6c0c0"/><path d="M446.7,442.9L448.2,442.5L446.8,440.8L445.3,441.1Z" fill="#f6b8b8" stroke="#a27979"/><path d="M445.2,443.1L446.7,442.9L445.3,441.1L443.8,441.4Z" fill="#f6b6b6" stroke="#a27878"/><path d="M443.7,443.2L445.2,443.1L443.8,441.4L442.3,441.5Z" fill="#f5b3b3" stroke="#a27676"/><path d="M442.2,443.1L443.7,443.2L442.3,441.5L440.8,441.6Z" fill="#f5afaf" stroke="#a27373"/><path d="M440.7,442.9L442.2,443.1L440.8,441.6L439.3,441.5Z" fill="#f5a9a9" stroke="#a27070"/><path d="M439.3,442.5L440.7,442.9L439.3,441.5L437.9,441.2Z" fill="#f5a3a3" stroke="#a26b6b"/><path d="M437.8,442.0L439.3,442.5L437.9,441.2L436.4,440.9Z" fill="#f59b9b" stroke="#a26666"/><path d="M436.3,441.7L437.8,442.0L436.4,440.9L434.9,440.7Z" fill="#f69191" stroke="#a05f5f"/><path d="M434.8,441.5L436.3,441.7L434.9,440.7L433.4,440.5Z" fill="#f68989" stroke="#9f5858"/><path d="M433.3,441.6L434.8,441.5L433.4,440.5L431.9,440.5Z" fill="#f78282" stroke="#9e5454"/><path d="M431.8,442.1L433.3,441.6L431.9,440.5L430.4,440.8Z" fill="#f77f7f" stroke="#9e5151"/><path d="M430.2,442.9L431.8,442.1L430.4,440.8L428.9,441.2Z" fill="#f77f7f" stroke="#9e5151"/><path d="M428.7,443.9L430.2,442.9L428.9,441.2L427.3,441.8Z" fill="#f78282" stroke="#9e5353"/><path d="M427.1,445.1L428.7,443.9L427.3,441.8L425.8,442.4Z" fill="#f68686" stroke="#9f5656"/><path d="M425.5,446.2L427.1,445.1L425.8,442.4L424.2,443.0Z" fill="#f68a8a" stroke="#9f5a5a"/><path d="M424.0,447.4L425.5,446.2L424.2,443.0L422.7,443.7Z" fill="#f68f8f" stroke="#a05d5d"/><path d="M422.4,448.4L424.0,447.4L422.7,443.7L421.2,444.4Z" fill="#f59393" stroke="#a16060"/><path d="M420.8,449.4L422.4,448.4L421.2,444.4L419.6,445.1Z" fill="#f59797" stroke="#a16363"/><path d="M419.3,450.3L420.8,449.4L419.6,445.1L418.1,445.9Z" fill="#f59b9b" stroke="#a26767"/><path d="M417.8,451.3L419.3,450.3L418.1,445.9L416.5,446.9Z" fill="#f59f9f" stroke="#a26969"/><path d="M416.2,452.3L417.8,451.3L416.5,446.9L415.0,448.0Z" fill="#f5a4a4" stroke="#a26c6c"/><path d="M414.7,453.4L416.2,452.3L415.0,448.0L413.4,449.3Z" fill="#f5aaaa" stroke="#a27070"/><path d="M413.1,454.5L414.7,453.4L413.4,449.3L411.9,450.8Z" fill="#f5b1b1" stroke="#a27575"/><path d="M411.6,455.7L413.1,454.5L411.9,450.8L410.3,452.3Z" fill="#f6b8b8" stroke="#a27979"/><path d="M410.0,456.9L411.6,455.7L410.3,452.3L408.8,453.8Z" fill="#f6c0c0" stroke="#a27e7e"/><path d="M408.5,458.0L410.0,456.9L408.8,453.8L407.2,455.3Z" fill="#f6c7c7" stroke="#c59f9f"/><path d="M407.0,459.1L408.5,458.0L407.2,455.3L405.7,456.7Z" fill="#f6cece" stroke="#c5a5a5"/><path d="M405.4,460.1L407.0,459.1L405.7,456.7L404.2,458.0Z" fill="#f6d2d2" stroke="#c5a8a8"/><path d="M403.9,461.1L405.4,460.1L404.2,458.0L402.6,459.1Z" fill="#f7d6d6" stroke="#c5abab"/><path d="M402.4,461.9L403.9,461.1L402.6,459.1L401.1,460.2Z" fill="#f7d9d9" stroke="#c5aeae"/><path d="M400.9,462.7L402.4,461.9L401.1,460.2L399.6,461.1Z" fill="#f7dcdc" stroke="#c5b0b0"/><path d="M399.4,463.5L400.9,462.7L399.6,461.1L398.1,461.9Z" fill="#f7dede" stroke="#c6b1b1"/><path d="M397.8,464.2L399.4,463.5L398.1,461.9L396.6,462.7Z" fill="#f7dfdf" stroke="#c6b3b3"/><path d="M396.3,464.9L397.8,464.2L396.6,462.7L395.1,463.4Z" fill="#f7e1e1" stroke="#c6b4b4"/><path d="M394.8,465.6L396.3,464.9L395.1,463.4L393.6,464.1Z" fill="#f7e2e2" stroke="#c6b5b5"/><path d="M393.3,466.2L394.8,465.6L393.6,464.1L392.1,464.8Z" fill="#f7e3e3" stroke="#c6b6b6"/><path d="M391.8,466.8L393.3,466.2L392.1,464.8L390.5,465.4Z" fill="#f7e4e4" stroke="#c6b6b6"/><path d="M390.3,467.5L391.8,466.8L390.5,465.4L389.0,466.1Z" fill="#f7e5e5" stroke="#c6b7b7"/><path d="M388.8,468.1L390.3,467.5L389.0,466.1L387.5,466.7Z" fill="#f7e6e6" stroke="#c6b8b8"/><path d="M387.3,468.7L388.8,468.1L387.5,466.7L386.0,467.3Z" fill="#f7e6e6" stroke="#c6b8b8"/><path d="M385.8,469.3L387.3,468.7L386.0,467.3L384.5,468.0Z" fill="#f7e7e7" stroke="#c6b9b9"/><path d="M384.3,469.9L385.8,469.3L384.5,468.0L383.0,468.6Z" fill="#f8e8e8" stroke="#c6b9b9"/><path d="M382.8,470.6L384.3,469.9L383.0,468.6L381.5,469.2Z" fill="#f8e8e8" stroke="#c6baba"/><path d="M381.2,471.2L382.8,470.6L381.5,469.2L380.0,469.8Z" fill="#f8e9e9" stroke="#c6bbbb"/><path d="M379.7,471.8L381.2,471.2L380.0,469.8L378.5,470.4Z" fill="#f8eaea" stroke="#c6bbbb"/><path d="M378.2,472.4L379.7,471.8L378.5,470.4L377.0,471.0Z" fill="#f8eaea" stroke="#c6bcbc"/><path d="M376.7,473.0L378.2,472.4L377.0,471.0L375.5,471.6Z" fill="#f8ebeb" stroke="#c6bcbc"/><path d="M375.2,473.6L376.7,473.0L375.5,471.6L374.0,472.2Z" fill="#f8ecec" stroke="#c6bdbd"/><path d="M373.7,474.2L375.2,473.6L374.0,472.2L372.5,472.8Z" fill="#f8ecec" stroke="#c6bdbd"/><path d="M372.2,474.8L373.7,474.2L372.5,472.8L371.0,473.4Z" fill="#f8eded" stroke="#c6bdbd"/><path d="M370.7,475.3L372.2,474.8L371.0,473.4L369.5,474.0Z" fill="#f8eded" stroke="#c6bebe"/><path d="M369.2,475.9L370.7,475.3L369.5,474.0L368.0,474.6Z" fill="#f8eeee" stroke="#c6bebe"/><path d="M367.7,476.5L369.2,475.9L368.0,474.6L366.5,475.1Z" fill="#f8eeee" stroke="#c6bfbf"/><path d="M366.2,477.1L367.7,476.5L366.5,475.1L365.0,475.7Z" fill="#f8efef" stroke="#c6bfbf"/><path d="M364.7,477.7L366.2,477.1L365.0,475.7L363.5,476.3Z" fill="#f8efef" stroke="#c6c0c0"/><path d="M363.2,478.2L364.7,477.7L363.5,476.3L362.0,476.9Z" fill="#f8f0f0" stroke="#c6c0c0"/><path d="M448.1,444.4L449.6,444.0L448.2,442.5L446.7,442.9Z" fill="#f6bcbc" stroke="#a27c7c"/><path d="M446.6,444.6L448.1,444.4L446.7,442.9L445.2,443.1Z" fill="#f6baba" stroke="#a27b7b"/><path d="M445.1,444.7L446.6,444.6L445.2,443.1L443.7,443.2Z" fill="#f6b7b7" stroke="#a27979"/><path d="M443.6,444.5L445.1,444.7L443.7,443.2L442.2,443.1Z" fill="#f5b2b2" stroke="#a27575"/><path d="M442.1,444.2L443.6,444.5L442.2,443.1L440.7,442.9Z" fill="#f5acac" stroke="#a27171"/><path d="M440.7,443.7L442.1,444.2L440.7,442.9L439.3,442.5Z" fill="#f5a4a4" stroke="#a26c6c"/><path d="M439.2,443.2L440.7,443.7L439.3,442.5L437.8,442.0Z" fill="#f59b9b" stroke="#a26666"/><path d="M437.7,442.8L439.2,443.2L437.8,442.0L436.3,441.7Z" fill="#f69090" stroke="#a05e5e"/><path d="M436.2,442.6L437.7,442.8L436.3,441.7L434.8,441.5Z" fill="#f68787" stroke="#9f5757"/><path d="M434.7,442.9L436.2,442.6L434.8,441.5L433.3,441.6Z" fill="#f78282" stroke="#9e5353"/><path d="M433.1,443.5L434.7,442.9L433.3,441.6L431.8,442.1Z" fill="#f78080" stroke="#9e5252"/><path d="M431.6,444.6L433.1,443.5L431.8,442.1L430.2,442.9Z" fill="#f68383" stroke="#9e5454"/><path d="M430.0,445.9L431.6,444.6L430.2,442.9L428.7,443.9Z" fill="#f68a8a" stroke="#9f5959"/><path d="M428.4,447.4L430.0,445.9L428.7,443.9L427.1,445.1Z" fill="#f69292" stroke="#a06060"/><path d="M426.8,448.9L428.4,447.4L427.1,445.1L425.5,446.2Z" fill="#f59c9c" stroke="#a26767"/><path d="M425.2,450.3L426.8,448.9L425.5,446.2L424.0,447.4Z" fill="#f5a3a3" stroke="#a26b6b"/><path d="M423.7,451.6L425.2,450.3L424.0,447.4L422.4,448.4Z" fill="#f5a9a9" stroke="#a27070"/><path d="M422.1,452.7L423.7,451.6L422.4,448.4L420.8,449.4Z" fill="#f5aeae" stroke="#a27373"/><path d="M420.5,453.7L422.1,452.7L420.8,449.4L419.3,450.3Z" fill="#f5b3b3" stroke="#a27676"/><path d="M419.0,454.7L420.5,453.7L419.3,450.3L417.8,451.3Z" fill="#f6b7b7" stroke="#a27979"/><path d="M417.5,455.6L419.0,454.7L417.8,451.3L416.2,452.3Z" fill="#f6bbbb" stroke="#a27c7c"/><path d="M415.9,456.5L417.5,455.6L416.2,452.3L414.7,453.4Z" fill="#f6c0c0" stroke="#a27f7f"/><path d="M414.4,457.4L415.9,456.5L414.7,453.4L413.1,454.5Z" fill="#f6c4c4" stroke="#c59d9d"/><path d="M412.8,458.4L414.4,457.4L413.1,454.5L411.6,455.7Z" fill="#f6c9c9" stroke="#c5a1a1"/><path d="M411.3,459.3L412.8,458.4L411.6,455.7L410.0,456.9Z" fill="#f6cece" stroke="#c5a5a5"/><path d="M409.8,460.2L411.3,459.3L410.0,456.9L408.5,458.0Z" fill="#f6d1d1" stroke="#c5a7a7"/><path d="M408.3,461.1L409.8,460.2L408.5,458.0L407.0,459.1Z" fill="#f6d4d4" stroke="#c5aaaa"/><path d="M406.7,461.9L408.3,461.1L407.0,459.1L405.4,460.1Z" fill="#f7d7d7" stroke="#c5acac"/><path d="M405.2,462.7L406.7,461.9L405.4,460.1L403.9,461.1Z" fill="#f7dada" stroke="#c5aeae"/><path d="M403.7,463.5L405.2,462.7L403.9,461.1L402.4,461.9Z" fill="#f7dcdc" stroke="#c5b0b0"/><path d="M402.2,464.2L403.7,463.5L402.4,461.9L400.9,462.7Z" fill="#f7dede" stroke="#c6b1b1"/><path d="M400.6,464.9L402.2,464.2L400.9,462.7L399.4,463.5Z" fill="#f7dfdf" stroke="#c6b2b2"/><path d="M399.1,465.6L400.6,464.9L399.4,463.5L397.8,464.2Z" fill="#f7e0e0" stroke="#c6b4b4"/><path d="M397.6,466.2L399.1,465.6L397.8,464.2L396.3,464.9Z" fill="#f7e2e2" stroke="#c6b4b4"/><path d="M396.1,466.9L397.6,466.2L396.3,464.9L394.8,465.6Z" fill="#f7e2e2" stroke="#c6b5b5"/><path d="M394.6,467.5L396.1,466.9L394.8,465.6L393.3,466.2Z" fill="#f7e3e3" stroke="#c6b6b6"/><path d="M393.1,468.2L394.6,467.5L393.3,466.2L391.8,466.8Z" fill="#f7e4e4" stroke="#c6b7b7"/><path d="M391.5,468.8L393.1,468.2L391.8,466.8L390.3,467.5Z" fill="#f7e5e5" stroke="#c6b7b7"/><path d="M390.0,469.4L391.5,468.8L390.3,467.5L388.8,468.1Z" fill="#f7e6e6" stroke="#c6b8b8"/><path d="M388.5,470.0L390.0,469.4L388.8,468.1L387.3,468.7Z" fill="#f7e7e7" stroke="#c6b8b8"/><path d="M387.0,470.7L388.5,470.0L387.3,468.7L385.8,469.3Z" fill="#f7e7e7" stroke="#c6b9b9"/><path d="M385.5,471.3L387.0,470.7L385.8,469.3L384.3,469.9Z" fill="#f8e8e8" stroke="#c6baba"/><path d="M384.0,471.9L385.5,471.3L384.3,469.9L382.8,470.6Z" fill="#f8e9e9" stroke="#c6baba"/><path d="M382.5,472.5L384.0,471.9L382.8,470.6L381.2,471.2Z" fill="#f8e9e9" stroke="#c6bbbb"/><path d="M381.0,473.1L382.5,472.5L381.2,471.2L379.7,471.8Z" fill="#f8eaea" stroke="#c6bbbb"/><path d="M379.5,473.7L381.0,473.1L379.7,471.8L378.2,472.4Z" fill="#f8ebeb" stroke="#c6bcbc"/><path d="M377.9,474.3L379.5,473.7L378.2,472.4L376.7,473.0Z" fill="#f8ebeb" stroke="#c6bcbc"/><path d="M376.4,474.9L377.9,474.3L376.7,473.0L375.2,473.6Z" fill="#f8ecec" stroke="#c6bdbd"/><path d="M374.9,475.5L376.4,474.9L375.2,473.6L373.7,474.2Z" fill="#f8ecec" stroke="#c6bdbd"/><path d="M373.4,476.1L374.9,475.5L373.7,474.2L372.2,474.8Z" fill="#f8eded" stroke="#c6bebe"/><path d="M371.9,476.7L373.4,476.1L372.2,474.8L370.7,475.3Z" fill="#f8eded" stroke="#c6bebe"/><path d="M370.4,477.3L371.9,476.7L370.7,475.3L369.2,475.9Z" fill="#f8eeee" stroke="#c6bebe"/><path d="M368.9,477.9L370.4,477.3L369.2,475.9L367.7,476.5Z" fill="#f8eeee" stroke="#c6bfbf"/><path d="M367.4,478.5L368.9,477.9L367.7,476.5L366.2,477.1Z" fill="#f8efef" stroke="#c6bfbf"/><path d="M365.9,479.0L367.4,478.5L366.2,477.1L364.7,477.7Z" fill="#f8efef" stroke="#c6c0c0"/><path d="M364.4,479.6L365.9,479.0L364.7,477.7L363.2,478.2Z" fill="#f8f0f0" stroke="#c6c0c0"/><path d="M449.5,445.7L451.0,445.2L449.6,444.0L448.1,444.4Z" fill="#f6bdbd" stroke="#a27d7d"/><path d="M448.0,445.9L449.5,445.7L448.1,444.4L446.6,444.6Z" fill="#f6bcbc" stroke="#a27c7c"/><path d="M446.5,446.0L448.0,445.9L446.6,444.6L445.1,444.7Z" fill="#f6b9b9" stroke="#a27a7a"/><path d="M445.0,445.9L446.5,446.0L445.1,444.7L443.6,444.5Z" fill="#f5b4b4" stroke="#a27777"/><path d="M443.5,445.6L445.0,445.9L443.6,444.5L442.1,444.2Z" fill="#f5adad" stroke="#a27272"/><path d="M442.0,445.2L443.5,445.6L442.1,444.2L440.7,443.7Z" fill="#f5a5a5" stroke="#a26d6d"/><path d="M440.6,444.8L442.0,445.2L440.7,443.7L439.2,443.2Z" fill="#f59d9d" stroke="#a26767"/><path d="M439.1,444.5L440.6,444.8L439.2,443.2L437.7,442.8Z" fill="#f69393" stroke="#a16060"/><path d="M437.6,444.4L439.1,444.5L437.7,442.8L436.2,442.6Z" fill="#f68a8a" stroke="#9f5959"/><path d="M436.0,444.8L437.6,444.4L436.2,442.6L434.7,442.9Z" fill="#f68585" stroke="#9f5656"/><path d="M434.5,445.5L436.0,444.8L434.7,442.9L433.1,443.5Z" fill="#f68585" stroke="#9f5656"/><path d="M432.9,446.6L434.5,445.5L433.1,443.5L431.6,444.6Z" fill="#f68a8a" stroke="#9f5959"/><path d="M431.3,448.1L432.9,446.6L431.6,444.6L430.0,445.9Z" fill="#f69292" stroke="#a06060"/><path d="M429.7,449.6L431.3,448.1L430.0,445.9L428.4,447.4Z" fill="#f59d9d" stroke="#a26868"/><path d="M428.1,451.2L429.7,449.6L428.4,447.4L426.8,448.9Z" fill="#f5a6a6" stroke="#a26e6e"/><path d="M426.5,452.7L428.1,451.2L426.8,448.9L425.2,450.3Z" fill="#f5afaf" stroke="#a27474"/><path d="M424.9,454.1L426.5,452.7L425.2,450.3L423.7,451.6Z" fill="#f6b7b7" stroke="#a27979"/><path d="M423.4,455.2L424.9,454.1L423.7,451.6L422.1,452.7Z" fill="#f6bdbd" stroke="#a27d7d"/><path d="M421.8,456.2L423.4,455.2L422.1,452.7L420.5,453.7Z" fill="#f6c2c2" stroke="#a28080"/><path d="M420.3,457.2L421.8,456.2L420.5,453.7L419.0,454.7Z" fill="#f6c7c7" stroke="#c59f9f"/><path d="M418.7,458.0L420.3,457.2L419.0,454.7L417.5,455.6Z" fill="#f6caca" stroke="#c5a2a2"/><path d="M417.2,458.8L418.7,458.0L417.5,455.6L415.9,456.5Z" fill="#f6cdcd" stroke="#c5a4a4"/><path d="M415.7,459.6L417.2,458.8L415.9,456.5L414.4,457.4Z" fill="#f6d0d0" stroke="#c5a6a6"/><path d="M414.1,460.4L415.7,459.6L414.4,457.4L412.8,458.4Z" fill="#f6d2d2" stroke="#c5a8a8"/><path d="M412.6,461.2L414.1,460.4L412.8,458.4L411.3,459.3Z" fill="#f6d4d4" stroke="#c5aaaa"/><path d="M411.1,462.0L412.6,461.2L411.3,459.3L409.8,460.2Z" fill="#f7d6d6" stroke="#c5abab"/><path d="M409.5,462.7L411.1,462.0L409.8,460.2L408.3,461.1Z" fill="#f7d8d8" stroke="#c5adad"/><path d="M408.0,463.5L409.5,462.7L408.3,461.1L406.7,461.9Z" fill="#f7dada" stroke="#c5afaf"/><path d="M406.5,464.2L408.0,463.5L406.7,461.9L405.2,462.7Z" fill="#f7dcdc" stroke="#c5b0b0"/><path d="M405.0,464.9L406.5,464.2L405.2,462.7L403.7,463.5Z" fill="#f7dddd" stroke="#c6b1b1"/><path d="M403.4,465.6L405.0,464.9L403.7,463.5L402.2,464.2Z" fill="#f7dfdf" stroke="#c6b2b2"/><path d="M401.9,466.2L403.4,465.6L402.2,464.2L400.6,464.9Z" fill="#f7e0e0" stroke="#c6b3b3"/><path d="M400.4,466.9L401.9,466.2L400.6,464.9L399.1,465.6Z" fill="#f7e1e1" stroke="#c6b4b4"/><path d="M398.9,467.5L400.4,466.9L399.1,465.6L397.6,466.2Z" fill="#f7e2e2" stroke="#c6b5b5"/><path d="M397.4,468.2L398.9,467.5L397.6,466.2L396.1,466.9Z" fill="#f7e3e3" stroke="#c6b5b5"/><path d="M395.8,468.8L397.4,468.2L396.1,466.9L394.6,467.5Z" fill="#f7e3e3" stroke="#c6b6b6"/><path d="M394.3,469.4L395.8,468.8L394.6,467.5L393.1,468.2Z" fill="#f7e4e4" stroke="#c6b7b7"/><path d="M392.8,470.1L394.3,469.4L393.1,468.2L391.5,468.8Z" fill="#f7e5e5" stroke="#c6b7b7"/><path d="M391.3,470.7L392.8,470.1L391.5,468.8L390.0,469.4Z" fill="#f7e6e6" stroke="#c6b8b8"/><path d="M389.8,471.3L391.3,470.7L390.0,469.4L388.5,470.0Z" fill="#f7e6e6" stroke="#c6b8b8"/><path d="M388.2,471.9L389.8,471.3L388.5,470.0L387.0,470.7Z" fill="#f7e7e7" stroke="#c6b9b9"/><path d="M386.7,472.6L388.2,471.9L387.0,470.7L385.5,471.3Z" fill="#f8e8e8" stroke="#c6b9b9"/><path d="M385.2,473.2L386.7,472.6L385.5,471.3L384.0,471.9Z" fill="#f8e9e9" stroke="#c6baba"/><path d="M383.7,473.8L385.2,473.2L384.0,471.9L382.5,472.5Z" fill="#f8e9e9" stroke="#c6bbbb"/><path d="M382.2,474.4L383.7,473.8L382.5,472.5L381.0,473.1Z" fill="#f8eaea" stroke="#c6bbbb"/><path d="M380.7,475.0L382.2,474.4L381.0,473.1L379.5,473.7Z" fill="#f8eaea" stroke="#c6bcbc"/><path d="M379.2,475.6L380.7,475.0L379.5,473.7L377.9,474.3Z" fill="#f8ebeb" stroke="#c6bcbc"/><path d="M377.6,476.3L379.2,475.6L377.9,474.3L376.4,474.9Z" fill="#f8ecec" stroke="#c6bdbd"/><path d="M376.1,476.9L377.6,476.3L376.4,474.9L374.9,475.5Z" fill="#f8ecec" stroke="#c6bdbd"/><path d="M374.6,477.5L376.1,476.9L374.9,475.5L373.4,476.1Z" fill="#f8eded" stroke="#c6bebe"/><path d="M373.1,478.1L374.6,477.5L373.4,476.1L371.9,476.7Z" fill="#f8eded" stroke="#c6bebe"/><path d="M371.6,478.7L373.1,478.1L371.9,476.7L370.4,477.3Z" fill="#f8eeee" stroke="#c6bebe"/><path d="M370.1,479.2L371.6,478.7L370.4,477.3L368.9,477.9Z" fill="#f8eeee" stroke="#c6bfbf"/><path d="M368.6,479.8L370.1,479.2L368.9,477.9L367.4,478.5Z" fill="#f8efef" stroke="#c6bfbf"/><path d="M367.1,480.4L368.6,479.8L367.4,478.5L365.9,479.0Z" fill="#f8efef" stroke="#c6c0c0"/><path d="M365.5,481.0L367.1,480.4L365.9,479.0L364.4,479.6Z" fill="#f8f0f0" stroke="#c6c0c0"/><path d="M450.9,446.9L452.4,446.4L451.0,445.2L449.5,445.7Z" fill="#f6bebe" stroke="#a27d7d"/><path d="M449.4,447.2L450.9,446.9L449.5,445.7L448.0,445.9Z" fill="#f6bdbd" stroke="#a27c7c"/><path d="M447.8,447.4L449.4,447.2L448.0,445.9L446.5,446.0Z" fill="#f6baba" stroke="#a27b7b"/><path d="M446.4,447.5L447.8,447.4L446.5,446.0L445.0,445.9Z" fill="#f6b6b6" stroke="#a27878"/><path d="M444.9,447.4L446.4,447.5L445.0,445.9L443.5,445.6Z" fill="#f5b1b1" stroke="#a27575"/><path d="M443.4,447.2L444.9,447.4L443.5,445.6L442.0,445.2Z" fill="#f5aaaa" stroke="#a27070"/><path d="M441.9,446.9L443.4,447.2L442.0,445.2L440.6,444.8Z" fill="#f5a2a2" stroke="#a26b6b"/><path d="M440.4,446.8L441.9,446.9L440.6,444.8L439.1,444.5Z" fill="#f59b9b" stroke="#a26767"/><path d="M438.9,446.9L440.4,446.8L439.1,444.5L437.6,444.4Z" fill="#f59494" stroke="#a16161"/><path d="M437.3,447.3L438.9,446.9L437.6,444.4L436.0,444.8Z" fill="#f69191" stroke="#a05f5f"/><path d="M435.8,448.1L437.3,447.3L436.0,444.8L434.5,445.5Z" fill="#f69292" stroke="#a05f5f"/><path d="M434.2,449.2L435.8,448.1L434.5,445.5L432.9,446.6Z" fill="#f59797" stroke="#a16363"/><path d="M432.6,450.5L434.2,449.2L432.9,446.6L431.3,448.1Z" fill="#f59e9e" stroke="#a26868"/><path d="M431.0,452.0L432.6,450.5L431.3,448.1L429.7,449.6Z" fill="#f5a7a7" stroke="#a26e6e"/><path d="M429.4,453.5L431.0,452.0L429.7,449.6L428.1,451.2Z" fill="#f5b0b0" stroke="#a27474"/><path d="M427.8,454.8L429.4,453.5L428.1,451.2L426.5,452.7Z" fill="#f6b8b8" stroke="#a27a7a"/><path d="M426.3,456.1L427.8,454.8L426.5,452.7L424.9,454.1Z" fill="#f6c0c0" stroke="#a27f7f"/><path d="M424.7,457.2L426.3,456.1L424.9,454.1L423.4,455.2Z" fill="#f6c6c6" stroke="#c59f9f"/><path d="M423.1,458.2L424.7,457.2L423.4,455.2L421.8,456.2Z" fill="#f6cbcb" stroke="#c5a3a3"/><path d="M421.6,459.0L423.1,458.2L421.8,456.2L420.3,457.2Z" fill="#f6cfcf" stroke="#c5a5a5"/><path d="M420.1,459.8L421.6,459.0L420.3,457.2L418.7,458.0Z" fill="#f6d1d1" stroke="#c5a7a7"/><path d="M418.5,460.6L420.1,459.8L418.7,458.0L417.2,458.8Z" fill="#f6d3d3" stroke="#c5a9a9"/><path d="M417.0,461.3L418.5,460.6L417.2,458.8L415.7,459.6Z" fill="#f6d4d4" stroke="#c5aaaa"/><path d="M415.4,462.0L417.0,461.3L415.7,459.6L414.1,460.4Z" fill="#f7d6d6" stroke="#c5abab"/><path d="M413.9,462.7L415.4,462.0L414.1,460.4L412.6,461.2Z" fill="#f7d7d7" stroke="#c5acac"/><path d="M412.4,463.5L413.9,462.7L412.6,461.2L411.1,462.0Z" fill="#f7d9d9" stroke="#c5adad"/><path d="M410.8,464.2L412.4,463.5L411.1,462.0L409.5,462.7Z" fill="#f7dada" stroke="#c5afaf"/><path d="M409.3,464.8L410.8,464.2L409.5,462.7L408.0,463.5Z" fill="#f7dcdc" stroke="#c5b0b0"/><path d="M407.8,465.5L409.3,464.8L408.0,463.5L406.5,464.2Z" fill="#f7dddd" stroke="#c6b1b1"/><path d="M406.3,466.2L407.8,465.5L406.5,464.2L405.0,464.9Z" fill="#f7dede" stroke="#c6b2b2"/><path d="M404.7,466.8L406.3,466.2L405.0,464.9L403.4,465.6Z" fill="#f7dfdf" stroke="#c6b2b2"/><path d="M403.2,467.5L404.7,466.8L403.4,465.6L401.9,466.2Z" fill="#f7e0e0" stroke="#c6b3b3"/><path d="M401.7,468.1L403.2,467.5L401.9,466.2L400.4,466.9Z" fill="#f7e1e1" stroke="#c6b4b4"/><path d="M400.1,468.8L401.7,468.1L400.4,466.9L398.9,467.5Z" fill="#f7e2e2" stroke="#c6b5b5"/><path d="M398.6,469.4L400.1,468.8L398.9,467.5L397.4,468.2Z" fill="#f7e2e2" stroke="#c6b5b5"/><path d="M397.1,470.1L398.6,469.4L397.4,468.2L395.8,468.8Z" fill="#f7e3e3" stroke="#c6b6b6"/><path d="M395.6,470.7L397.1,470.1L395.8,468.8L394.3,469.4Z" fill="#f7e4e4" stroke="#c6b6b6"/><path d="M394.1,471.3L395.6,470.7L394.3,469.4L392.8,470.1Z" fill="#f7e5e5" stroke="#c6b7b7"/><path d="M392.5,472.0L394.1,471.3L392.8,470.1L391.3,470.7Z" fill="#f7e6e6" stroke="#c6b8b8"/><path d="M391.0,472.6L392.5,472.0L391.3,470.7L389.8,471.3Z" fill="#f7e6e6" stroke="#c6b8b8"/><path d="M389.5,473.2L391.0,472.6L389.8,471.3L388.2,471.9Z" fill="#f7e7e7" stroke="#c6b9b9"/><path d="M388.0,473.9L389.5,473.2L388.2,471.9L386.7,472.6Z" fill="#f8e8e8" stroke="#c6b9b9"/><path d="M386.4,474.5L388.0,473.9L386.7,472.6L385.2,473.2Z" fill="#f8e8e8" stroke="#c6baba"/><path d="M384.9,475.1L386.4,474.5L385.2,473.2L383.7,473.8Z" fill="#f8e9e9" stroke="#c6baba"/><path d="M383.4,475.7L384.9,475.1L383.7,473.8L382.2,474.4Z" fill="#f8eaea" stroke="#c6bbbb"/><path d="M381.9,476.3L383.4,475.7L382.2,474.4L380.7,475.0Z" fill="#f8eaea" stroke="#c6bbbb"/><path d="M380.4,477.0L381.9,476.3L380.7,475.0L379.2,475.6Z" fill="#f8ebeb" stroke="#c6bcbc"/><path d="M378.9,477.6L380.4,477.0L379.2,475.6L377.6,476.3Z" fill="#f8ecec" stroke="#c6bcbc"/><path d="M377.3,478.2L378.9,477.6L377.6,476.3L376.1,476.9Z" fill="#f8ecec" stroke="#c6bdbd"/><path d="M375.8,478.8L377.3,478.2L376.1,476.9L374.6,477.5Z" fill="#f8eded" stroke="#c6bdbd"/><path d="M374.3,479.4L375.8,478.8L374.6,477.5L373.1,478.1Z" fill="#f8eded" stroke="#c6bebe"/><path d="M372.8,480.0L374.3,479.4L373.1,478.1L371.6,478.7Z" fill="#f8eeee" stroke="#c6bebe"/><path d="M371.3,480.6L372.8,480.0L371.6,478.7L370.1,479.2Z" fill="#f8eeee" stroke="#c6bfbf"/><path d="M369.8,481.2L371.3,480.6L370.1,479.2L368.6,479.8Z" fill="#f8efef" stroke="#c6bfbf"/><path d="M368.2,481.8L369.8,481.2L368.6,479.8L367.1,480.4Z" fill="#f8efef" stroke="#c6c0c0"/><path d="M366.7,482.4L368.2,481.8L367.1,480.4L365.5,481.0Z" fill="#f8f0f0" stroke="#c6c0c0"/><path d="M452.3,448.1L453.8,447.5L452.4,446.4L450.9,446.9Z" fill="#f6bebe" stroke="#a27d7d"/><path d="M450.8,448.5L452.3,448.1L450.9,446.9L449.4,447.2Z" fill="#f6bdbd" stroke="#a27d7d"/><path d="M449.2,448.9L450.8,448.5L449.4,447.2L447.8,447.4Z" fill="#f6bcbc" stroke="#a27c7c"/><path d="M447.7,449.1L449.2,448.9L447.8,447.4L446.4,447.5Z" fill="#f6b9b9" stroke="#a27a7a"/><path d="M446.2,449.2L447.7,449.1L446.4,447.5L444.9,447.4Z" fill="#f6b5b5" stroke="#a27777"/><path d="M444.7,449.3L446.2,449.2L444.9,447.4L443.4,447.2Z" fill="#f5b0b0" stroke="#a27474"/><path d="M443.2,449.3L444.7,449.3L443.4,447.2L441.9,446.9Z" fill="#f5abab" stroke="#a27171"/><path d="M441.7,449.4L443.2,449.3L441.9,446.9L440.4,446.8Z" fill="#f5a6a6" stroke="#a26d6d"/><path d="M440.2,449.7L441.7,449.4L440.4,446.8L438.9,446.9Z" fill="#f5a2a2" stroke="#a26b6b"/><path d="M438.6,450.2L440.2,449.7L438.9,446.9L437.3,447.3Z" fill="#f5a0a0" stroke="#a26a6a"/><path d="M437.1,451.0L438.6,450.2L437.3,447.3L435.8,448.1Z" fill="#f5a1a1" stroke="#a26a6a"/><path d="M435.5,451.9L437.1,451.0L435.8,448.1L434.2,449.2Z" fill="#f5a5a5" stroke="#a26d6d"/><path d="M433.9,453.1L435.5,451.9L434.2,449.2L432.6,450.5Z" fill="#f5abab" stroke="#a27171"/><path d="M432.3,454.3L433.9,453.1L432.6,450.5L431.0,452.0Z" fill="#f5b2b2" stroke="#a27575"/><path d="M430.7,455.6L432.3,454.3L431.0,452.0L429.4,453.5Z" fill="#f6b9b9" stroke="#a27a7a"/><path d="M429.1,456.8L430.7,455.6L429.4,453.5L427.8,454.8Z" fill="#f6c0c0" stroke="#a27f7f"/><path d="M427.6,457.9L429.1,456.8L427.8,454.8L426.3,456.1Z" fill="#f6c7c7" stroke="#c59f9f"/><path d="M426.0,458.9L427.6,457.9L426.3,456.1L424.7,457.2Z" fill="#f6cccc" stroke="#c5a3a3"/><path d="M424.5,459.7L426.0,458.9L424.7,457.2L423.1,458.2Z" fill="#f6cfcf" stroke="#c5a6a6"/><path d="M422.9,460.6L424.5,459.7L423.1,458.2L421.6,459.0Z" fill="#f6d2d2" stroke="#c5a8a8"/><path d="M421.4,461.3L422.9,460.6L421.6,459.0L420.1,459.8Z" fill="#f6d3d3" stroke="#c5a9a9"/><path d="M419.8,462.0L421.4,461.3L420.1,459.8L418.5,460.6Z" fill="#f6d5d5" stroke="#c5aaaa"/><path d="M418.3,462.7L419.8,462.0L418.5,460.6L417.0,461.3Z" fill="#f7d6d6" stroke="#c5abab"/><path d="M416.7,463.4L418.3,462.7L417.0,461.3L415.4,462.0Z" fill="#f7d7d7" stroke="#c5acac"/><path d="M415.2,464.1L416.7,463.4L415.4,462.0L413.9,462.7Z" fill="#f7d9d9" stroke="#c5adad"/><path d="M413.7,464.8L415.2,464.1L413.9,462.7L412.4,463.5Z" fill="#f7dada" stroke="#c5aeae"/><path d="M412.1,465.4L413.7,464.8L412.4,463.5L410.8,464.2Z" fill="#f7dbdb" stroke="#c5afaf"/><path d="M410.6,466.1L412.1,465.4L410.8,464.2L409.3,464.8Z" fill="#f7dcdc" stroke="#c5b0b0"/><path d="M409.1,466.8L410.6,466.1L409.3,464.8L407.8,465.5Z" fill="#f7dddd" stroke="#c6b1b1"/><path d="M407.5,467.4L409.1,466.8L407.8,465.5L406.3,466.2Z" fill="#f7dede" stroke="#c6b2b2"/><path d="M406.0,468.1L407.5,467.4L406.3,466.2L404.7,466.8Z" fill="#f7dfdf" stroke="#c6b2b2"/><path d="M404.5,468.7L406.0,468.1L404.7,466.8L403.2,467.5Z" fill="#f7e0e0" stroke="#c6b3b3"/><path d="M402.9,469.4L404.5,468.7L403.2,467.5L401.7,468.1Z" fill="#f7e1e1" stroke="#c6b4b4"/><path d="M401.4,470.0L402.9,469.4L401.7,468.1L400.1,468.8Z" fill="#f7e1e1" stroke="#c6b4b4"/><path d="M399.9,470.7L401.4,470.0L400.1,468.8L398.6,469.4Z" fill="#f7e2e2" stroke="#c6b5b5"/><path d="M398.4,471.3L399.9,470.7L398.6,469.4L397.1,470.1Z" fill="#f7e3e3" stroke="#c6b6b6"/><path d="M396.8,472.0L398.4,471.3L397.1,470.1L395.6,470.7Z" fill="#f7e4e4" stroke="#c6b6b6"/><path d="M395.3,472.6L396.8,472.0L395.6,470.7L394.1,471.3Z" fill="#f7e4e4" stroke="#c6b7b7"/><path d="M393.8,473.2L395.3,472.6L394.1,471.3L392.5,472.0Z" fill="#f7e5e5" stroke="#c6b7b7"/><path d="M392.3,473.9L393.8,473.2L392.5,472.0L391.0,472.6Z" fill="#f7e6e6" stroke="#c6b8b8"/><path d="M390.7,474.5L392.3,473.9L391.0,472.6L389.5,473.2Z" fill="#f7e7e7" stroke="#c6b9b9"/><path d="M389.2,475.1L390.7,474.5L389.5,473.2L388.0,473.9Z" fill="#f8e7e7" stroke="#c6b9b9"/><path d="M387.7,475.8L389.2,475.1L388.0,473.9L386.4,474.5Z" fill="#f8e8e8" stroke="#c6baba"/><path d="M386.2,476.4L387.7,475.8L386.4,474.5L384.9,475.1Z" fill="#f8e9e9" stroke="#c6baba"/><path d="M384.6,477.0L386.2,476.4L384.9,475.1L383.4,475.7Z" fill="#f8eaea" stroke="#c6bbbb"/><path d="M383.1,477.7L384.6,477.0L383.4,475.7L381.9,476.3Z" fill="#f8eaea" stroke="#c6bbbb"/><path d="M381.6,478.3L383.1,477.7L381.9,476.3L380.4,477.0Z" fill="#f8ebeb" stroke="#c6bcbc"/><path d="M380.1,478.9L381.6,478.3L380.4,477.0L378.9,477.6Z" fill="#f8ebeb" stroke="#c6bcbc"/><path d="M378.5,479.5L380.1,478.9L378.9,477.6L377.3,478.2Z" fill="#f8ecec" stroke="#c6bdbd"/><path d="M377.0,480.1L378.5,479.5L377.3,478.2L375.8,478.8Z" fill="#f8eded" stroke="#c6bdbd"/><path d="M375.5,480.7L377.0,480.1L375.8,478.8L374.3,479.4Z" fill="#f8eded" stroke="#c6bebe"/><path d="M374.0,481.4L375.5,480.7L374.3,479.4L372.8,480.0Z" fill="#f8eeee" stroke="#c6bebe"/><path d="M372.5,482.0L374.0,481.4L372.8,480.0L371.3,480.6Z" fill="#f8eeee" stroke="#c6bfbf"/><path d="M370.9,482.6L372.5,482.0L371.3,480.6L369.8,481.2Z" fill="#f8efef" stroke="#c6bfbf"/><path d="M369.4,483.2L370.9,482.6L369.8,481.2L368.2,481.8Z" fill="#f8efef" stroke="#c6c0c0"/><path d="M367.9,483.7L369.4,483.2L368.2,481.8L366.7,482.4Z" fill="#f8f0f0" stroke="#c6c0c0"/><path d="M453.7,449.3L455.3,448.7L453.8,447.5L452.3,448.1Z" fill="#f6bebe" stroke="#a27d7d"/><path d="M452.2,449.8L453.7,449.3L452.3,448.1L450.8,448.5Z" fill="#f6bebe" stroke="#a27d7d"/><path d="M450.6,450.3L452.2,449.8L450.8,448.5L449.2,448.9Z" fill="#f6bdbd" stroke="#a27d7d"/><path d="M449.1,450.7L450.6,450.3L449.2,448.9L447.7,449.1Z" fill="#f6bcbc" stroke="#a27c7c"/><path d="M447.6,451.0L449.1,450.7L447.7,449.1L446.2,449.2Z" fill="#f6baba" stroke="#a27b7b"/><path d="M446.0,451.3L447.6,451.0L446.2,449.2L444.7,449.3Z" fill="#f6b7b7" stroke="#a27979"/><path d="M444.5,451.6L446.0,451.3L444.7,449.3L443.2,449.3Z" fill="#f5b4b4" stroke="#a27777"/><path d="M443.0,452.0L444.5,451.6L443.2,449.3L441.7,449.4Z" fill="#f5b1b1" stroke="#a27575"/><path d="M441.4,452.4L443.0,452.0L441.7,449.4L440.2,449.7Z" fill="#f5afaf" stroke="#a27474"/><path d="M439.9,453.0L441.4,452.4L440.2,449.7L438.6,450.2Z" fill="#f5afaf" stroke="#a27373"/><path d="M438.3,453.7L439.9,453.0L438.6,450.2L437.1,451.0Z" fill="#f5b0b0" stroke="#a27474"/><path d="M436.8,454.5L438.3,453.7L437.1,451.0L435.5,451.9Z" fill="#f5b3b3" stroke="#a27676"/><path d="M435.2,455.5L436.8,454.5L435.5,451.9L433.9,453.1Z" fill="#f6b7b7" stroke="#a27979"/><path d="M433.6,456.5L435.2,455.5L433.9,453.1L432.3,454.3Z" fill="#f6bcbc" stroke="#a27c7c"/><path d="M432.0,457.6L433.6,456.5L432.3,454.3L430.7,455.6Z" fill="#f6c2c2" stroke="#a28080"/><path d="M430.5,458.6L432.0,457.6L430.7,455.6L429.1,456.8Z" fill="#f6c7c7" stroke="#c59f9f"/><path d="M428.9,459.5L430.5,458.6L429.1,456.8L427.6,457.9Z" fill="#f6cccc" stroke="#c5a3a3"/><path d="M427.3,460.4L428.9,459.5L427.6,457.9L426.0,458.9Z" fill="#f6cfcf" stroke="#c5a6a6"/><path d="M425.8,461.2L427.3,460.4L426.0,458.9L424.5,459.7Z" fill="#f6d1d1" stroke="#c5a7a7"/><path d="M424.2,461.9L425.8,461.2L424.5,459.7L422.9,460.6Z" fill="#f6d3d3" stroke="#c5a9a9"/><path d="M422.7,462.6L424.2,461.9L422.9,460.6L421.4,461.3Z" fill="#f6d4d4" stroke="#c5aaaa"/><path d="M421.1,463.3L422.7,462.6L421.4,461.3L419.8,462.0Z" fill="#f7d6d6" stroke="#c5abab"/><path d="M419.6,464.0L421.1,463.3L419.8,462.0L418.3,462.7Z" fill="#f7d7d7" stroke="#c5acac"/><path d="M418.1,464.7L419.6,464.0L418.3,462.7L416.7,463.4Z" fill="#f7d8d8" stroke="#c5adad"/><path d="M416.5,465.4L418.1,464.7L416.7,463.4L415.2,464.1Z" fill="#f7d9d9" stroke="#c5aeae"/><path d="M415.0,466.0L416.5,465.4L415.2,464.1L413.7,464.8Z" fill="#f7dada" stroke="#c5aeae"/><path d="M413.4,466.7L415.0,466.0L413.7,464.8L412.1,465.4Z" fill="#f7dbdb" stroke="#c5afaf"/><path d="M411.9,467.3L413.4,466.7L412.1,465.4L410.6,466.1Z" fill="#f7dcdc" stroke="#c5b0b0"/><path d="M410.4,468.0L411.9,467.3L410.6,466.1L409.1,466.8Z" fill="#f7dddd" stroke="#c6b1b1"/><path d="M408.8,468.7L410.4,468.0L409.1,466.8L407.5,467.4Z" fill="#f7dede" stroke="#c6b1b1"/><path d="M407.3,469.3L408.8,468.7L407.5,467.4L406.0,468.1Z" fill="#f7dfdf" stroke="#c6b2b2"/><path d="M405.8,470.0L407.3,469.3L406.0,468.1L404.5,468.7Z" fill="#f7dfdf" stroke="#c6b3b3"/><path d="M404.2,470.6L405.8,470.0L404.5,468.7L402.9,469.4Z" fill="#f7e0e0" stroke="#c6b3b3"/><path d="M402.7,471.3L404.2,470.6L402.9,469.4L401.4,470.0Z" fill="#f7e1e1" stroke="#c6b4b4"/><path d="M401.2,471.9L402.7,471.3L401.4,470.0L399.9,470.7Z" fill="#f7e2e2" stroke="#c6b5b5"/><path d="M399.6,472.6L401.2,471.9L399.9,470.7L398.4,471.3Z" fill="#f7e3e3" stroke="#c6b5b5"/><path d="M398.1,473.2L399.6,472.6L398.4,471.3L396.8,472.0Z" fill="#f7e3e3" stroke="#c6b6b6"/><path d="M396.6,473.9L398.1,473.2L396.8,472.0L395.3,472.6Z" fill="#f7e4e4" stroke="#c6b7b7"/><path d="M395.0,474.5L396.6,473.9L395.3,472.6L393.8,473.2Z" fill="#f7e5e5" stroke="#c6b7b7"/><path d="M393.5,475.2L395.0,474.5L393.8,473.2L392.3,473.9Z" fill="#f7e6e6" stroke="#c6b8b8"/><path d="M392.0,475.8L393.5,475.2L392.3,473.9L390.7,474.5Z" fill="#f7e6e6" stroke="#c6b8b8"/><path d="M390.4,476.4L392.0,475.8L390.7,474.5L389.2,475.1Z" fill="#f7e7e7" stroke="#c6b9b9"/><path d="M388.9,477.1L390.4,476.4L389.2,475.1L387.7,475.8Z" fill="#f8e8e8" stroke="#c6baba"/><path d="M387.4,477.7L388.9,477.1L387.7,475.8L386.2,476.4Z" fill="#f8e9e9" stroke="#c6baba"/><path d="M385.9,478.3L387.4,477.7L386.2,476.4L384.6,477.0Z" fill="#f8e9e9" stroke="#c6bbbb"/><path d="M384.3,479.0L385.9,478.3L384.6,477.0L383.1,477.7Z" fill="#f8eaea" stroke="#c6bbbb"/><path d="M382.8,479.6L384.3,479.0L383.1,477.7L381.6,478.3Z" fill="#f8ebeb" stroke="#c6bcbc"/><path d="M381.3,480.2L382.8,479.6L381.6,478.3L380.1,478.9Z" fill="#f8ebeb" stroke="#c6bcbc"/><path d="M379.8,480.9L381.3,480.2L380.1,478.9L378.5,479.5Z" fill="#f8ecec" stroke="#c6bdbd"/><path d="M378.2,481.5L379.8,480.9L378.5,479.5L377.0,480.1Z" fill="#f8eded" stroke="#c6bdbd"/><path d="M376.7,482.1L378.2,481.5L377.0,480.1L375.5,480.7Z" fill="#f8eded" stroke="#c6bebe"/><path d="M375.2,482.7L376.7,482.1L375.5,480.7L374.0,481.4Z" fill="#f8eeee" stroke="#c6bebe"/><path d="M373.7,483.3L375.2,482.7L374.0,481.4L372.5,482.0Z" fill="#f8eeee" stroke="#c6bfbf"/><path d="M372.1,483.9L373.7,483.3L372.5,482.0L370.9,482.6Z" fill="#f8efef" stroke="#c6bfbf"/><path d="M370.6,484.5L372.1,483.9L370.9,482.6L369.4,483.2Z" fill="#f8efef" stroke="#c6c0c0"/><path d="M369.1,485.1L370.6,484.5L369.4,483.2L367.9,483.7Z" fill="#f8f0f0" stroke="#c6c0c0"/><path d="M455.1,450.5L456.7,449.9L455.3,448.7L453.7,449.3Z" fill="#f6bebe" stroke="#a27d7d"/><path d="M453.6,451.1L455.1,450.5L453.7,449.3L452.2,449.8Z" fill="#f6bebe" stroke="#a27e7e"/><path d="M452.0,451.7L453.6,451.1L452.2,449.8L450.6,450.3Z" fill="#f6bfbf" stroke="#a27e7e"/><path d="M450.5,452.2L452.0,451.7L450.6,450.3L449.1,450.7Z" fill="#f6bfbf" stroke="#a27e7e"/><path d="M448.9,452.7L450.5,452.2L449.1,450.7L447.6,451.0Z" fill="#f6bebe" stroke="#a27d7d"/><path d="M447.4,453.2L448.9,452.7L447.6,451.0L446.0,451.3Z" fill="#f6bdbd" stroke="#a27d7d"/><path d="M445.8,453.7L447.4,453.2L446.0,451.3L444.5,451.6Z" fill="#f6bcbc" stroke="#a27c7c"/><path d="M444.3,454.2L445.8,453.7L444.5,451.6L443.0,452.0Z" fill="#f6bbbb" stroke="#a27b7b"/><path d="M442.7,454.7L444.3,454.2L443.0,452.0L441.4,452.4Z" fill="#f6baba" stroke="#a27b7b"/><path d="M441.2,455.4L442.7,454.7L441.4,452.4L439.9,453.0Z" fill="#f6bbbb" stroke="#a27b7b"/><path d="M439.6,456.1L441.2,455.4L439.9,453.0L438.3,453.7Z" fill="#f6bcbc" stroke="#a27c7c"/><path d="M438.1,456.8L439.6,456.1L438.3,453.7L436.8,454.5Z" fill="#f6bebe" stroke="#a27d7d"/><path d="M436.5,457.7L438.1,456.8L436.8,454.5L435.2,455.5Z" fill="#f6c1c1" stroke="#a27f7f"/><path d="M434.9,458.5L436.5,457.7L435.2,455.5L433.6,456.5Z" fill="#f6c5c5" stroke="#c59d9d"/><path d="M433.3,459.4L434.9,458.5L433.6,456.5L432.0,457.6Z" fill="#f6c8c8" stroke="#c5a0a0"/><path d="M431.8,460.2L433.3,459.4L432.0,457.6L430.5,458.6Z" fill="#f6cccc" stroke="#c5a3a3"/><path d="M430.2,461.0L431.8,460.2L430.5,458.6L428.9,459.5Z" fill="#f6cfcf" stroke="#c5a5a5"/><path d="M428.7,461.8L430.2,461.0L428.9,459.5L427.3,460.4Z" fill="#f6d1d1" stroke="#c5a7a7"/><path d="M427.1,462.5L428.7,461.8L427.3,460.4L425.8,461.2Z" fill="#f6d2d2" stroke="#c5a8a8"/><path d="M425.6,463.2L427.1,462.5L425.8,461.2L424.2,461.9Z" fill="#f6d4d4" stroke="#c5a9a9"/><path d="M424.0,463.9L425.6,463.2L424.2,461.9L422.7,462.6Z" fill="#f6d5d5" stroke="#c5aaaa"/><path d="M422.5,464.6L424.0,463.9L422.7,462.6L421.1,463.3Z" fill="#f7d6d6" stroke="#c5abab"/><path d="M420.9,465.3L422.5,464.6L421.1,463.3L419.6,464.0Z" fill="#f7d7d7" stroke="#c5acac"/><path d="M419.4,466.0L420.9,465.3L419.6,464.0L418.1,464.7Z" fill="#f7d8d8" stroke="#c5adad"/><path d="M417.8,466.6L419.4,466.0L418.1,464.7L416.5,465.4Z" fill="#f7d9d9" stroke="#c5aeae"/><path d="M416.3,467.3L417.8,466.6L416.5,465.4L415.0,466.0Z" fill="#f7dada" stroke="#c5aeae"/><path d="M414.7,468.0L416.3,467.3L415.0,466.0L413.4,466.7Z" fill="#f7dbdb" stroke="#c5afaf"/><path d="M413.2,468.6L414.7,468.0L413.4,466.7L411.9,467.3Z" fill="#f7dcdc" stroke="#c5b0b0"/><path d="M411.7,469.3L413.2,468.6L411.9,467.3L410.4,468.0Z" fill="#f7dddd" stroke="#c6b1b1"/><path d="M410.1,469.9L411.7,469.3L410.4,468.0L408.8,468.7Z" fill="#f7dddd" stroke="#c6b1b1"/><path d="M408.6,470.6L410.1,469.9L408.8,468.7L407.3,469.3Z" fill="#f7dede" stroke="#c6b2b2"/><path d="M407.0,471.2L408.6,470.6L407.3,469.3L405.8,470.0Z" fill="#f7dfdf" stroke="#c6b3b3"/><path d="M405.5,471.9L407.0,471.2L405.8,470.0L404.2,470.6Z" fill="#f7e0e0" stroke="#c6b3b3"/><path d="M404.0,472.6L405.5,471.9L404.2,470.6L402.7,471.3Z" fill="#f7e1e1" stroke="#c6b4b4"/><path d="M402.4,473.2L404.0,472.6L402.7,471.3L401.2,471.9Z" fill="#f7e2e2" stroke="#c6b5b5"/><path d="M400.9,473.9L402.4,473.2L401.2,471.9L399.6,472.6Z" fill="#f7e2e2" stroke="#c6b5b5"/><path d="M399.3,474.5L400.9,473.9L399.6,472.6L398.1,473.2Z" fill="#f7e3e3" stroke="#c6b6b6"/><path d="M397.8,475.2L399.3,474.5L398.1,473.2L396.6,473.9Z" fill="#f7e4e4" stroke="#c6b6b6"/><path d="M396.3,475.8L397.8,475.2L396.6,473.9L395.0,474.5Z" fill="#f7e5e5" stroke="#c6b7b7"/><path d="M394.7,476.5L396.3,475.8L395.0,474.5L393.5,475.2Z" fill="#f7e6e6" stroke="#c6b8b8"/><path d="M393.2,477.1L394.7,476.5L393.5,475.2L392.0,475.8Z" fill="#f7e6e6" stroke="#c6b8b8"/><path d="M391.7,477.7L393.2,477.1L392.0,475.8L390.4,476.4Z" fill="#f7e7e7" stroke="#c6b9b9"/><path d="M390.1,478.4L391.7,477.7L390.4,476.4L388.9,477.1Z" fill="#f8e8e8" stroke="#c6b9b9"/><path d="M388.6,479.0L390.1,478.4L388.9,477.1L387.4,477.7Z" fill="#f8e9e9" stroke="#c6baba"/><path d="M387.1,479.7L388.6,479.0L387.4,477.7L385.9,478.3Z" fill="#f8e9e9" stroke="#c6bbbb"/><path d="M385.5,480.3L387.1,479.7L385.9,478.3L384.3,479.0Z" fill="#f8eaea" stroke="#c6bbbb"/><path d="M384.0,480.9L385.5,480.3L384.3,479.0L382.8,479.6Z" fill="#f8ebeb" stroke="#c6bcbc"/><path d="M382.5,481.6L384.0,480.9L382.8,479.6L381.3,480.2Z" fill="#f8ebeb" stroke="#c6bcbc"/><path d="M381.0,482.2L382.5,481.6L381.3,480.2L379.8,480.9Z" fill="#f8ecec" stroke="#c6bdbd"/><path d="M379.4,482.8L381.0,482.2L379.8,480.9L378.2,481.5Z" fill="#f8eded" stroke="#c6bdbd"/><path d="M377.9,483.4L379.4,482.8L378.2,481.5L376.7,482.1Z" fill="#f8eded" stroke="#c6bebe"/><path d="M376.4,484.1L377.9,483.4L376.7,482.1L375.2,482.7Z" fill="#f8eeee" stroke="#c6bebe"/><path d="M374.8,484.7L376.4,484.1L375.2,482.7L373.7,483.3Z" fill="#f8eeee" stroke="#c6bfbf"/><path d="M373.3,485.3L374.8,484.7L373.7,483.3L372.1,483.9Z" fill="#f8efef" stroke="#c6bfbf"/><path d="M371.8,485.9L373.3,485.3L372.1,483.9L370.6,484.5Z" fill="#f8efef" stroke="#c6c0c0"/><path d="M370.3,486.5L371.8,485.9L370.6,484.5L369.1,485.1Z" fill="#f8f0f0" stroke="#c6c0c0"/><path d="M456.5,451.7L458.1,451.1L456.7,449.9L455.1,450.5Z" fill="#f6bebe" stroke="#a27e7e"/><path d="M455.0,452.4L456.5,451.7L455.1,450.5L453.6,451.1Z" fill="#f6bfbf" stroke="#a27e7e"/><path d="M453.4,453.0L455.0,452.4L453.6,451.1L452.0,451.7Z" fill="#f6c0c0" stroke="#a27f7f"/><path d="M451.8,453.6L453.4,453.0L452.0,451.7L450.5,452.2Z" fill="#f6c1c1" stroke="#a27f7f"/><path d="M450.3,454.2L451.8,453.6L450.5,452.2L448.9,452.7Z" fill="#f6c1c1" stroke="#a27f7f"/><path d="M448.7,454.8L450.3,454.2L448.9,452.7L447.4,453.2Z" fill="#f6c1c1" stroke="#a28080"/><path d="M447.2,455.4L448.7,454.8L447.4,453.2L445.8,453.7Z" fill="#f6c1c1" stroke="#a28080"/><path d="M445.6,456.0L447.2,455.4L445.8,453.7L444.3,454.2Z" fill="#f6c2c2" stroke="#a28080"/><path d="M444.1,456.6L445.6,456.0L444.3,454.2L442.7,454.7Z" fill="#f6c2c2" stroke="#a28080"/><path d="M442.5,457.3L444.1,456.6L442.7,454.7L441.2,455.4Z" fill="#f6c3c3" stroke="#a28181"/><path d="M440.9,458.0L442.5,457.3L441.2,455.4L439.6,456.1Z" fill="#f6c4c4" stroke="#c59d9d"/><path d="M439.4,458.7L440.9,458.0L439.6,456.1L438.1,456.8Z" fill="#f6c6c6" stroke="#c59e9e"/><path d="M437.8,459.4L439.4,458.7L438.1,456.8L436.5,457.7Z" fill="#f6c8c8" stroke="#c5a0a0"/><path d="M436.2,460.2L437.8,459.4L436.5,457.7L434.9,458.5Z" fill="#f6cbcb" stroke="#c5a2a2"/><path d="M434.7,461.0L436.2,460.2L434.9,458.5L433.3,459.4Z" fill="#f6cdcd" stroke="#c5a4a4"/><path d="M433.1,461.7L434.7,461.0L433.3,459.4L431.8,460.2Z" fill="#f6cfcf" stroke="#c5a5a5"/><path d="M431.6,462.4L433.1,461.7L431.8,460.2L430.2,461.0Z" fill="#f6d0d0" stroke="#c5a7a7"/><path d="M430.0,463.1L431.6,462.4L430.2,461.0L428.7,461.8Z" fill="#f6d2d2" stroke="#c5a8a8"/><path d="M428.4,463.8L430.0,463.1L428.7,461.8L427.1,462.5Z" fill="#f6d3d3" stroke="#c5a9a9"/><path d="M426.9,464.5L428.4,463.8L427.1,462.5L425.6,463.2Z" fill="#f6d4d4" stroke="#c5aaaa"/><path d="M425.3,465.2L426.9,464.5L425.6,463.2L424.0,463.9Z" fill="#f6d5d5" stroke="#c5abab"/><path d="M423.8,465.9L425.3,465.2L424.0,463.9L422.5,464.6Z" fill="#f7d6d6" stroke="#c5acac"/><path d="M422.2,466.6L423.8,465.9L422.5,464.6L420.9,465.3Z" fill="#f7d7d7" stroke="#c5acac"/><path d="M420.7,467.2L422.2,466.6L420.9,465.3L419.4,466.0Z" fill="#f7d8d8" stroke="#c5adad"/><path d="M419.1,467.9L420.7,467.2L419.4,466.0L417.8,466.6Z" fill="#f7d9d9" stroke="#c5aeae"/><path d="M417.6,468.6L419.1,467.9L417.8,466.6L416.3,467.3Z" fill="#f7dada" stroke="#c5aeae"/><path d="M416.0,469.2L417.6,468.6L416.3,467.3L414.7,468.0Z" fill="#f7dbdb" stroke="#c5afaf"/><path d="M414.5,469.9L416.0,469.2L414.7,468.0L413.2,468.6Z" fill="#f7dcdc" stroke="#c5b0b0"/><path d="M413.0,470.6L414.5,469.9L413.2,468.6L411.7,469.3Z" fill="#f7dddd" stroke="#c6b0b0"/><path d="M411.4,471.2L413.0,470.6L411.7,469.3L410.1,469.9Z" fill="#f7dddd" stroke="#c6b1b1"/><path d="M409.9,471.9L411.4,471.2L410.1,469.9L408.6,470.6Z" fill="#f7dede" stroke="#c6b2b2"/><path d="M408.3,472.5L409.9,471.9L408.6,470.6L407.0,471.2Z" fill="#f7dfdf" stroke="#c6b3b3"/><path d="M406.8,473.2L408.3,472.5L407.0,471.2L405.5,471.9Z" fill="#f7e0e0" stroke="#c6b3b3"/><path d="M405.2,473.9L406.8,473.2L405.5,471.9L404.0,472.6Z" fill="#f7e1e1" stroke="#c6b4b4"/><path d="M403.7,474.5L405.2,473.9L404.0,472.6L402.4,473.2Z" fill="#f7e2e2" stroke="#c6b4b4"/><path d="M402.1,475.2L403.7,474.5L402.4,473.2L400.9,473.9Z" fill="#f7e2e2" stroke="#c6b5b5"/><path d="M400.6,475.8L402.1,475.2L400.9,473.9L399.3,474.5Z" fill="#f7e3e3" stroke="#c6b6b6"/><path d="M399.1,476.5L400.6,475.8L399.3,474.5L397.8,475.2Z" fill="#f7e4e4" stroke="#c6b6b6"/><path d="M397.5,477.1L399.1,476.5L397.8,475.2L396.3,475.8Z" fill="#f7e5e5" stroke="#c6b7b7"/><path d="M396.0,477.8L397.5,477.1L396.3,475.8L394.7,476.5Z" fill="#f7e6e6" stroke="#c6b8b8"/><path d="M394.4,478.4L396.0,477.8L394.7,476.5L393.2,477.1Z" fill="#f7e6e6" stroke="#c6b8b8"/><path d="M392.9,479.1L394.4,478.4L393.2,477.1L391.7,477.7Z" fill="#f7e7e7" stroke="#c6b9b9"/><path d="M391.4,479.7L392.9,479.1L391.7,477.7L390.1,478.4Z" fill="#f8e8e8" stroke="#c6b9b9"/><path d="M389.8,480.4L391.4,479.7L390.1,478.4L388.6,479.0Z" fill="#f8e8e8" stroke="#c6baba"/><path d="M388.3,481.0L389.8,480.4L388.6,479.0L387.1,479.7Z" fill="#f8e9e9" stroke="#c6bbbb"/><path d="M386.8,481.6L388.3,481.0L387.1,479.7L385.5,480.3Z" fill="#f8eaea" stroke="#c6bbbb"/><path d="M385.2,482.3L386.8,481.6L385.5,480.3L384.0,480.9Z" fill="#f8ebeb" stroke="#c6bcbc"/><path d="M383.7,482.9L385.2,482.3L384.0,480.9L382.5,481.6Z" fill="#f8ebeb" stroke="#c6bcbc"/><path d="M382.2,483.5L383.7,482.9L382.5,481.6L381.0,482.2Z" fill="#f8ecec" stroke="#c6bdbd"/><path d="M380.6,484.2L382.2,483.5L381.0,482.2L379.4,482.8Z" fill="#f8eded" stroke="#c6bdbd"/><path d="M379.1,484.8L380.6,484.2L379.4,482.8L377.9,483.4Z" fill="#f8eded" stroke="#c6bebe"/><path d="M377.6,485.4L379.1,484.8L377.9,483.4L376.4,484.1Z" fill="#f8eeee" stroke="#c6bebe"/><path d="M376.0,486.0L377.6,485.4L376.4,484.1L374.8,484.7Z" fill="#f8eeee" stroke="#c6bfbf"/><path d="M374.5,486.7L376.0,486.0L374.8,484.7L373.3,485.3Z" fill="#f8efef" stroke="#c6bfbf"/><path d="M373.0,487.3L374.5,486.7L373.3,485.3L371.8,485.9Z" fill="#f8efef" stroke="#c6c0c0"/><path d="M371.4,487.8L373.0,487.3L371.8,485.9L370.3,486.5Z" fill="#f8f0f0" stroke="#c6c0c0"/></g>
<path d="M379.2,484.7 L378.5,483.9 L377.8,483.1 L377.1,482.3 L376.4,481.5 L375.6,480.7 L374.9,479.9 L374.2,479.1 L373.5,478.3 L372.8,477.5 L372.0,476.7 L371.3,475.8 L370.6,475.0 L369.9,474.2 L369.2,473.4 L368.4,472.5 L367.7,471.7 L367.0,470.8 L366.3,470.0 L365.6,469.1 L364.8,468.2 L364.1,467.3 L363.4,466.5 L362.7,465.6 L361.9,464.7 L361.2,463.9 L360.5,463.0 L359.8,462.2 L359.1,461.3 L358.3,460.5 L357.6,459.7 L356.9,458.9 L356.2,458.0 L355.5,457.2 L354.7,456.4 L354.0,455.6 L353.3,454.7 L352.6,453.9 L351.9,453.1 L351.1,452.3 L350.4,451.4 L349.7,450.6 L349.0,449.8 L348.3,449.0 L347.5,448.2 L346.8,447.3 L346.1,446.5 L345.4,445.7 L344.6,444.9 L343.9,444.0 L343.2,443.2 L342.5,442.4 L341.8,441.6 L341.0,440.7 L340.3,439.9 L339.6,439.1 L338.9,438.3 L338.2,437.4 L337.4,436.6 L336.7,435.8 L336.0,435.0" fill="none" stroke="#222" stroke-opacity="0.4" stroke-width="0.55" stroke-dasharray="0.9 1.3"/>
<path d="M387.0,481.5 L386.3,480.7 L385.6,479.9 L384.8,479.1 L384.1,478.3 L383.4,477.5 L382.7,476.8 L381.9,476.0 L381.2,475.2 L380.5,474.4 L379.7,473.6 L379.0,472.8 L378.3,472.0 L377.5,471.2 L376.8,470.4 L376.1,469.5 L375.3,468.6 L374.6,467.8 L373.9,466.9 L373.1,465.9 L372.4,465.0 L371.7,464.1 L370.9,463.2 L370.2,462.3 L369.4,461.4 L368.7,460.5 L368.0,459.6 L367.2,458.8 L366.5,457.9 L365.8,457.1 L365.0,456.2 L364.3,455.4 L363.6,454.6 L362.8,453.8 L362.1,452.9 L361.4,452.1 L360.6,451.3 L359.9,450.5 L359.2,449.7 L358.4,448.8 L357.7,448.0 L356.9,447.2 L356.2,446.4 L355.5,445.6 L354.7,444.7 L354.0,443.9 L353.3,443.1 L352.5,442.3 L351.8,441.4 L351.1,440.6 L350.3,439.8 L349.6,439.0 L348.9,438.2 L348.1,437.3 L347.4,436.5 L346.7,435.7 L345.9,434.9 L345.2,434.0 L344.4,433.2 L343.7,432.4 L343.0,431.6" fill="none" stroke="#222" stroke-opacity="0.4" stroke-width="0.55" stroke-dasharray="0.9 1.3"/>
<path d="M394.9,478.2 L394.1,477.5 L393.4,476.7 L392.6,475.9 L391.9,475.1 L391.1,474.3 L390.4,473.6 L389.7,472.8 L388.9,472.0 L388.2,471.3 L387.4,470.5 L386.7,469.7 L385.9,468.9 L385.2,468.1 L384.4,467.2 L383.7,466.3 L382.9,465.4 L382.2,464.5 L381.4,463.5 L380.7,462.5 L380.0,461.5 L379.2,460.5 L378.4,459.5 L377.7,458.6 L376.9,457.6 L376.2,456.7 L375.4,455.7 L374.7,454.9 L373.9,454.0 L373.2,453.1 L372.4,452.3 L371.7,451.4 L370.9,450.6 L370.2,449.8 L369.4,448.9 L368.7,448.1 L368.0,447.3 L367.2,446.5 L366.5,445.6 L365.7,444.8 L365.0,444.0 L364.2,443.2 L363.5,442.4 L362.7,441.5 L362.0,440.7 L361.2,439.9 L360.5,439.1 L359.7,438.2 L359.0,437.4 L358.2,436.6 L357.5,435.7 L356.7,434.9 L355.9,434.1 L355.2,433.3 L354.4,432.4 L353.7,431.6 L352.9,430.8 L352.2,430.0 L351.4,429.1 L350.7,428.3 L349.9,427.5" fill="none" stroke="#222" stroke-opacity="0.4" stroke-width="0.55" stroke-dasharray="0.9 1.3"/>
<path d="M402.7,474.9 L401.9,474.1 L401.2,473.4 L400.4,472.6 L399.7,471.8 L398.9,471.1 L398.2,470.3 L397.4,469.6 L396.6,468.8 L395.9,468.1 L395.1,467.3 L394.4,466.5 L393.6,465.7 L392.9,464.8 L392.1,464.0 L391.3,463.0 L390.6,462.0 L389.8,461.0 L389.1,459.9 L388.3,458.8 L387.5,457.7 L386.8,456.6 L386.0,455.5 L385.2,454.4 L384.5,453.3 L383.7,452.3 L382.9,451.3 L382.2,450.4 L381.4,449.5 L380.7,448.6 L379.9,447.7 L379.1,446.8 L378.4,446.0 L377.6,445.1 L376.8,444.3 L376.1,443.5 L375.3,442.6 L374.5,441.8 L373.8,441.0 L373.0,440.1 L372.2,439.3 L371.5,438.5 L370.7,437.6 L369.9,436.8 L369.2,436.0 L368.4,435.1 L367.6,434.3 L366.9,433.4 L366.1,432.6 L365.3,431.8 L364.6,430.9 L363.8,430.1 L363.0,429.3 L362.3,428.4 L361.5,427.6 L360.7,426.8 L360.0,425.9 L359.2,425.1 L358.4,424.2 L357.7,423.4 L356.9,422.6" fill="none" stroke="#222" stroke-opacity="0.4" stroke-width="0.55" stroke-dasharray="0.9 1.3"/>
<path d="M410.6,471.6 L409.8,470.8 L409.0,470.0 L408.2,469.3 L407.5,468.5 L406.7,467.8 L405.9,467.0 L405.2,466.3 L404.4,465.5 L403.6,464.7 L402.9,463.9 L402.1,463.0 L401.3,462.1 L400.5,461.0 L399.8,460.0 L399.0,458.8 L398.2,457.6 L397.5,456.3 L396.7,455.0 L395.9,453.7 L395.2,452.4 L394.4,451.2 L393.6,450.0 L392.8,448.8 L392.0,447.7 L391.3,446.6 L390.5,445.6 L389.7,444.6 L388.9,443.6 L388.1,442.7 L387.4,441.8 L386.6,440.8 L385.8,440.0 L385.0,439.1 L384.2,438.2 L383.5,437.3 L382.7,436.5 L381.9,435.6 L381.1,434.8 L380.3,433.9 L379.5,433.0 L378.8,432.2 L378.0,431.3 L377.2,430.5 L376.4,429.6 L375.6,428.8 L374.8,427.9 L374.0,427.0 L373.3,426.2 L372.5,425.3 L371.7,424.5 L370.9,423.6 L370.1,422.7 L369.3,421.9 L368.5,421.0 L367.8,420.2 L367.0,419.3 L366.2,418.4 L365.4,417.6 L364.6,416.7 L363.8,415.9" fill="none" stroke="#222" stroke-opacity="0.4" stroke-width="0.55" stroke-dasharray="0.9 1.3"/>
<path d="M418.4,468.2 L417.7,467.4 L416.9,466.7 L416.1,465.9 L415.3,465.2 L414.5,464.4 L413.7,463.6 L412.9,462.8 L412.2,461.9 L411.4,460.9 L410.6,459.7 L409.8,458.4 L409.1,456.9 L408.3,455.1 L407.6,453.2 L406.8,451.2 L406.0,449.2 L405.3,447.2 L404.5,445.3 L403.7,443.6 L402.9,442.2 L402.1,440.9 L401.3,439.7 L400.5,438.7 L399.7,437.7 L398.9,436.7 L398.1,435.7 L397.3,434.7 L396.5,433.7 L395.7,432.7 L394.9,431.7 L394.1,430.7 L393.3,429.7 L392.5,428.8 L391.7,427.8 L390.9,426.9 L390.1,425.9 L389.3,425.0 L388.5,424.0 L387.7,423.1 L386.9,422.2 L386.1,421.3 L385.3,420.4 L384.4,419.4 L383.6,418.5 L382.8,417.6 L382.0,416.7 L381.2,415.7 L380.4,414.8 L379.6,413.9 L378.8,413.0 L378.0,412.0 L377.1,411.1 L376.3,410.2 L375.5,409.3 L374.7,408.4 L373.9,407.4 L373.1,406.5 L372.3,405.6 L371.4,404.7 L370.6,403.8" fill="none" stroke="#222" stroke-opacity="0.4" stroke-width="0.55" stroke-dasharray="0.9 1.3"/>
<path d="M426.3,464.8 L425.5,464.0 L424.7,463.2 L423.9,462.4 L423.1,461.6 L422.3,460.8 L421.6,460.0 L420.8,459.0 L420.0,457.9 L419.2,456.6 L418.4,455.0 L417.7,453.1 L416.9,450.8 L416.2,448.2 L415.5,445.3 L414.7,442.3 L414.0,439.2 L413.3,436.3 L412.5,433.8 L411.7,431.7 L410.9,430.1 L410.1,428.8 L409.3,427.9 L408.4,427.1 L407.6,426.4 L406.8,425.6 L406.0,424.7 L405.1,423.8 L404.3,422.8 L403.5,421.7 L402.7,420.6 L401.9,419.5 L401.0,418.4 L400.2,417.3 L399.4,416.3 L398.6,415.2 L397.7,414.2 L396.9,413.2 L396.1,412.2 L395.2,411.2 L394.4,410.2 L393.6,409.2 L392.7,408.2 L391.9,407.2 L391.1,406.2 L390.2,405.2 L389.4,404.2 L388.5,403.2 L387.7,402.2 L386.9,401.2 L386.0,400.2 L385.2,399.3 L384.3,398.3 L383.5,397.3 L382.7,396.4 L381.8,395.5 L381.0,394.6 L380.1,393.9 L379.3,393.2 L378.5,392.7 L377.6,392.3" fill="none" stroke="#222" stroke-opacity="0.4" stroke-width="0.55" stroke-dasharray="0.9 1.3"/>
<path d="M434.3,461.2 L433.5,460.2 L432.7,459.3 L431.9,458.2 L431.1,457.1 L430.3,455.9 L429.5,454.7 L428.7,453.4 L427.9,452.1 L427.2,450.7 L426.4,449.3 L425.6,447.7 L424.8,445.9 L424.1,443.9 L423.3,441.7 L422.6,439.3 L421.8,436.7 L421.1,434.2 L420.3,431.8 L419.5,429.6 L418.7,427.6 L417.9,426.0 L417.1,424.6 L416.3,423.3 L415.5,422.1 L414.7,421.0 L413.8,419.8 L413.0,418.7 L412.2,417.5 L411.3,416.3 L410.5,415.1 L409.7,413.9 L408.8,412.8 L408.0,411.7 L407.1,410.6 L406.3,409.5 L405.5,408.5 L404.6,407.4 L403.8,406.4 L402.9,405.4 L402.1,404.4 L401.2,403.4 L400.4,402.5 L399.5,401.5 L398.7,400.7 L397.8,399.8 L397.0,399.1 L396.1,398.6 L395.3,398.2 L394.4,398.2 L393.6,398.5 L392.7,399.4 L391.9,400.9 L391.1,403.0 L390.3,405.6 L389.5,408.5 L388.7,411.3 L387.9,413.8 L387.1,415.8 L386.4,417.2 L385.6,418.1" fill="none" stroke="#222" stroke-opacity="0.4" stroke-width="0.55" stroke-dasharray="0.9 1.3"/>
<path d="M442.2,457.4 L441.4,456.3 L440.6,455.0 L439.9,453.6 L439.1,452.0 L438.3,450.3 L437.6,448.6 L436.8,446.9 L436.0,445.3 L435.2,444.0 L434.4,443.0 L433.6,442.2 L432.8,441.5 L431.9,440.8 L431.1,440.0 L430.3,439.0 L429.5,437.7 L428.7,436.0 L427.9,434.1 L427.1,431.9 L426.4,429.7 L425.6,427.4 L424.8,425.2 L424.0,423.2 L423.2,421.2 L422.4,419.4 L421.6,417.8 L420.8,416.3 L420.0,414.8 L419.1,413.5 L418.3,412.3 L417.4,411.2 L416.6,410.1 L415.7,409.2 L414.9,408.4 L414.0,407.7 L413.1,407.2 L412.3,407.0 L411.4,407.2 L410.5,407.9 L409.6,409.1 L408.7,410.8 L407.8,413.1 L406.9,415.7 L406.0,418.4 L405.1,420.7 L404.2,422.6 L403.4,424.0 L402.6,424.9 L401.7,425.3 L400.9,425.4 L400.1,425.2 L399.3,424.9 L398.4,424.4 L397.6,423.9 L396.8,423.2 L396.0,422.6 L395.2,421.9 L394.4,421.2 L393.5,420.5 L392.7,419.8" fill="none" stroke="#222" stroke-opacity="0.4" stroke-width="0.55" stroke-dasharray="0.9 1.3"/>
<path d="M450.1,454.3 L449.3,453.4 L448.5,452.4 L447.7,451.4 L446.9,450.3 L446.1,449.2 L445.3,448.1 L444.5,447.0 L443.6,445.9 L442.8,445.0 L442.0,444.1 L441.1,443.3 L440.3,442.6 L439.5,441.7 L438.6,440.8 L437.8,439.5 L437.1,438.0 L436.3,436.2 L435.5,434.0 L434.8,431.7 L434.0,429.2 L433.3,426.8 L432.5,424.4 L431.7,422.3 L430.9,420.5 L430.1,419.2 L429.3,418.3 L428.4,418.0 L427.5,418.4 L426.5,419.5 L425.5,421.1 L424.6,423.1 L423.6,425.3 L422.6,427.4 L421.7,429.1 L420.7,430.4 L419.8,431.2 L419.0,431.6 L418.1,431.7 L417.2,431.6 L416.4,431.3 L415.6,430.8 L414.7,430.3 L413.9,429.7 L413.1,429.1 L412.2,428.4 L411.4,427.7 L410.6,427.1 L409.7,426.4 L408.9,425.6 L408.1,424.9 L407.3,424.2 L406.4,423.5 L405.6,422.8 L404.8,422.1 L403.9,421.4 L403.1,420.6 L402.3,419.9 L401.5,419.2 L400.6,418.5 L399.8,417.8" fill="none" stroke="#222" stroke-opacity="0.4" stroke-width="0.55" stroke-dasharray="0.9 1.3"/>
<path d="M458.1,451.1 L457.2,450.3 L456.4,449.6 L455.5,448.9 L454.7,448.2 L453.8,447.5 L453.0,446.9 L452.1,446.2 L451.3,445.5 L450.4,444.8 L449.6,444.0 L448.7,443.2 L447.9,442.2 L447.1,441.2 L446.3,440.1 L445.4,438.9 L444.6,437.6 L443.8,436.6 L443.0,435.7 L442.1,435.3 L441.2,435.2 L440.3,435.4 L439.3,435.9 L438.4,436.3 L437.5,436.7 L436.6,436.9 L435.7,436.9 L434.8,436.8 L433.9,436.6 L433.0,436.2 L432.2,435.8 L431.3,435.3 L430.5,434.8 L429.6,434.2 L428.8,433.6 L427.9,433.0 L427.1,432.4 L426.2,431.7 L425.4,431.1 L424.5,430.4 L423.7,429.7 L422.9,429.0 L422.0,428.4 L421.2,427.7 L420.3,427.0 L419.5,426.3 L418.7,425.6 L417.8,424.9 L417.0,424.2 L416.1,423.5 L415.3,422.8 L414.4,422.1 L413.6,421.4 L412.8,420.7 L411.9,419.9 L411.1,419.2 L410.2,418.5 L409.4,417.8 L408.6,417.1 L407.7,416.4 L406.9,415.7" fill="none" stroke="#222" stroke-opacity="0.4" stroke-width="0.55" stroke-dasharray="0.9 1.3"/>
<path d="M365.4,480.8 L366.4,480.4 L367.5,480.0 L368.6,479.6 L369.6,479.2 L370.7,478.8 L371.7,478.3 L372.8,477.9 L373.8,477.5 L374.9,477.1 L376.0,476.7 L377.0,476.2 L378.1,475.8 L379.1,475.4 L380.2,475.0 L381.3,474.5 L382.3,474.1 L383.4,473.7 L384.4,473.3 L385.5,472.8 L386.6,472.4 L387.6,472.0 L388.7,471.5 L389.7,471.1 L390.8,470.6 L391.9,470.2 L392.9,469.8 L394.0,469.3 L395.0,468.9 L396.1,468.4 L397.2,468.0 L398.2,467.6 L399.3,467.1 L400.4,466.6 L401.4,466.2 L402.5,465.7 L403.6,465.3 L404.6,464.8 L405.7,464.3 L406.8,463.8 L407.8,463.3 L408.9,462.8 L410.0,462.2 L411.0,461.7 L412.1,461.1 L413.2,460.6 L414.3,460.0 L415.3,459.4 L416.4,458.9 L417.5,458.3 L418.6,457.7 L419.6,457.1 L420.7,456.5 L421.8,455.8 L422.9,455.1 L424.0,454.3 L425.1,453.5 L426.2,452.5 L427.3,451.5 L428.4,450.4 L429.5,449.3 L430.6,448.2 L431.8,447.1 L432.9,446.2 L434.0,445.4 L435.1,444.8 L436.2,444.4 L437.2,444.1 L438.3,444.1 L439.3,444.3 L440.4,444.5 L441.4,444.8 L442.4,445.2 L443.5,445.4 L444.5,445.7 L445.5,445.8 L446.6,445.8 L447.6,445.8 L448.7,445.6 L449.7,445.4 L450.8,445.1" fill="none" stroke="#222" stroke-opacity="0.4" stroke-width="0.55" stroke-dasharray="0.9 1.3"/>
<path d="M359.3,473.7 L360.4,473.3 L361.4,472.9 L362.4,472.5 L363.5,472.0 L364.5,471.6 L365.6,471.2 L366.6,470.8 L367.7,470.4 L368.7,470.0 L369.7,469.6 L370.8,469.1 L371.8,468.7 L372.9,468.3 L373.9,467.9 L375.0,467.4 L376.0,467.0 L377.1,466.5 L378.1,466.1 L379.1,465.7 L380.2,465.2 L381.2,464.7 L382.3,464.3 L383.3,463.8 L384.4,463.3 L385.4,462.9 L386.5,462.4 L387.5,461.9 L388.6,461.4 L389.6,460.9 L390.7,460.4 L391.7,459.8 L392.8,459.2 L393.8,458.6 L394.9,458.0 L395.9,457.2 L397.0,456.4 L398.0,455.6 L399.1,454.6 L400.2,453.5 L401.2,452.3 L402.3,451.0 L403.4,449.5 L404.5,448.0 L405.5,446.3 L406.6,444.6 L407.7,442.9 L408.8,441.3 L409.9,439.7 L411.0,438.3 L412.1,437.0 L413.2,435.9 L414.3,435.0 L415.4,434.3 L416.5,433.9 L417.6,433.6 L418.7,433.5 L419.7,433.6 L420.8,433.8 L421.8,434.0 L422.9,434.3 L423.9,434.6 L425.0,434.9 L426.0,435.2 L427.0,435.5 L428.1,435.7 L429.1,435.8 L430.2,436.0 L431.2,436.0 L432.3,436.1 L433.3,436.1 L434.4,436.1 L435.4,436.0 L436.5,435.8 L437.5,435.7 L438.6,435.5 L439.6,435.4 L440.7,435.3 L441.7,435.4 L442.7,435.7 L443.7,436.4" fill="none" stroke="#222" stroke-opacity="0.4" stroke-width="0.55" stroke-dasharray="0.9 1.3"/>
<path d="M353.3,466.7 L354.3,466.2 L355.3,465.7 L356.3,465.2 L357.4,464.7 L358.4,464.2 L359.4,463.8 L360.4,463.4 L361.5,462.9 L362.5,462.5 L363.5,462.0 L364.5,461.6 L365.6,461.1 L366.6,460.6 L367.6,460.1 L368.6,459.6 L369.7,459.1 L370.7,458.6 L371.7,458.1 L372.8,457.6 L373.8,457.0 L374.8,456.5 L375.8,455.9 L376.9,455.3 L377.9,454.8 L378.9,454.2 L380.0,453.6 L381.0,452.9 L382.0,452.3 L383.1,451.7 L384.1,451.0 L385.1,450.3 L386.2,449.6 L387.2,448.8 L388.3,448.0 L389.3,447.2 L390.3,446.2 L391.4,445.2 L392.4,444.1 L393.5,442.9 L394.5,441.6 L395.6,440.2 L396.6,438.7 L397.7,437.1 L398.7,435.4 L399.8,433.7 L400.9,432.0 L402.0,430.4 L403.1,428.8 L404.1,427.4 L405.2,426.1 L406.3,424.9 L407.4,423.9 L408.5,423.0 L409.6,422.2 L410.6,421.6 L411.7,421.1 L412.8,420.6 L413.9,420.2 L414.9,419.9 L416.0,419.6 L417.1,419.3 L418.2,419.1 L419.2,418.8 L420.3,418.6 L421.4,418.4 L422.4,418.1 L423.5,417.9 L424.6,417.6 L425.6,417.4 L426.7,417.3 L427.7,417.4 L428.8,417.8 L429.8,418.9 L430.7,420.8 L431.6,423.7 L432.4,427.4 L433.2,431.2 L434.1,434.1 L435.0,436.0 L435.9,437.0" fill="none" stroke="#222" stroke-opacity="0.4" stroke-width="0.55" stroke-dasharray="0.9 1.3"/>
<path d="M347.2,459.6 L348.2,459.1 L349.2,458.6 L350.2,458.1 L351.2,457.5 L352.2,457.1 L353.2,456.7 L354.3,456.3 L355.3,455.8 L356.3,455.4 L357.3,454.9 L358.3,454.4 L359.3,454.0 L360.3,453.5 L361.3,453.0 L362.3,452.5 L363.4,452.0 L364.4,451.4 L365.4,450.9 L366.4,450.3 L367.4,449.8 L368.4,449.2 L369.4,448.6 L370.4,448.0 L371.4,447.4 L372.5,446.8 L373.5,446.1 L374.5,445.5 L375.5,444.8 L376.5,444.1 L377.5,443.4 L378.5,442.7 L379.6,441.9 L380.6,441.1 L381.6,440.2 L382.6,439.3 L383.6,438.3 L384.7,437.3 L385.7,436.1 L386.7,434.8 L387.7,433.4 L388.8,431.9 L389.8,430.3 L390.8,428.6 L391.9,426.9 L392.9,425.1 L394.0,423.3 L395.0,421.6 L396.1,420.0 L397.1,418.5 L398.2,417.1 L399.2,415.9 L400.3,414.8 L401.4,413.8 L402.4,413.0 L403.5,412.2 L404.6,411.5 L405.6,410.9 L406.7,410.4 L407.8,409.9 L408.8,409.4 L409.9,409.0 L411.0,408.7 L412.0,408.4 L413.1,408.2 L414.2,408.1 L415.2,408.3 L416.2,409.1 L417.2,410.7 L418.2,413.4 L419.1,417.5 L419.9,422.4 L420.8,426.9 L421.6,430.3 L422.6,432.4 L423.5,433.5 L424.5,434.0 L425.5,434.0 L426.5,433.9 L427.5,433.7 L428.5,433.4" fill="none" stroke="#222" stroke-opacity="0.4" stroke-width="0.55" stroke-dasharray="0.9 1.3"/>
<path d="M341.2,452.5 L342.1,452.1 L343.1,451.6 L344.1,451.0 L345.1,450.5 L346.1,450.0 L347.1,449.6 L348.1,449.2 L349.1,448.8 L350.1,448.3 L351.1,447.9 L352.1,447.4 L353.1,446.9 L354.0,446.4 L355.0,446.0 L356.0,445.4 L357.0,444.9 L358.0,444.4 L359.0,443.8 L360.0,443.3 L361.0,442.7 L362.0,442.1 L363.0,441.5 L364.0,440.9 L365.0,440.3 L366.0,439.7 L367.0,439.0 L368.0,438.4 L369.0,437.7 L370.0,437.0 L371.0,436.2 L372.0,435.5 L372.9,434.7 L373.9,433.9 L374.9,433.0 L375.9,432.0 L376.9,431.0 L377.9,429.9 L378.9,428.6 L379.9,427.3 L380.9,425.8 L381.9,424.3 L382.9,422.6 L383.9,420.7 L384.9,418.9 L385.9,417.0 L387.0,415.1 L388.0,413.2 L389.0,411.5 L390.0,409.9 L391.1,408.5 L392.1,407.2 L393.2,406.1 L394.2,405.1 L395.2,404.2 L396.3,403.4 L397.3,402.7 L398.4,402.2 L399.4,401.7 L400.5,401.4 L401.5,401.4 L402.6,401.7 L403.6,402.7 L404.6,404.7 L405.6,408.1 L406.6,412.9 L407.5,418.3 L408.4,423.0 L409.4,426.4 L410.3,428.4 L411.3,429.4 L412.3,429.8 L413.3,429.9 L414.3,429.7 L415.3,429.5 L416.3,429.3 L417.3,429.0 L418.3,428.7 L419.3,428.4 L420.3,428.1 L421.3,427.8" fill="none" stroke="#222" stroke-opacity="0.4" stroke-width="0.55" stroke-dasharray="0.9 1.3"/>
<path d="M335.1,445.5 L336.1,445.0 L337.0,444.5 L338.0,444.0 L339.0,443.4 L339.9,443.0 L340.9,442.6 L341.9,442.2 L342.9,441.7 L343.9,441.3 L344.8,440.8 L345.8,440.4 L346.8,439.9 L347.8,439.4 L348.7,438.9 L349.7,438.4 L350.7,437.9 L351.7,437.3 L352.7,436.8 L353.6,436.2 L354.6,435.6 L355.6,435.1 L356.6,434.5 L357.5,433.8 L358.5,433.2 L359.5,432.6 L360.5,431.9 L361.4,431.2 L362.4,430.5 L363.4,429.8 L364.4,429.1 L365.3,428.3 L366.3,427.5 L367.3,426.6 L368.3,425.7 L369.2,424.7 L370.2,423.6 L371.2,422.5 L372.2,421.2 L373.1,419.8 L374.1,418.3 L375.1,416.6 L376.0,414.8 L377.0,412.9 L378.0,410.9 L378.9,408.9 L379.9,406.9 L380.9,405.0 L381.9,403.2 L382.9,401.5 L383.9,400.0 L384.9,398.7 L385.9,397.6 L387.0,396.7 L388.0,396.0 L389.0,395.7 L390.1,395.9 L391.1,397.0 L392.2,399.4 L393.2,403.3 L394.3,408.6 L395.3,414.2 L396.3,418.9 L397.3,422.1 L398.3,424.0 L399.3,424.9 L400.3,425.2 L401.2,425.3 L402.2,425.1 L403.2,424.9 L404.2,424.7 L405.2,424.4 L406.2,424.1 L407.2,423.8 L408.2,423.5 L409.1,423.3 L410.1,423.0 L411.1,422.7 L412.1,422.4 L413.1,422.1 L414.1,421.8" fill="none" stroke="#222" stroke-opacity="0.4" stroke-width="0.55" stroke-dasharray="0.9 1.3"/>
<path d="M329.0,438.4 L330.0,438.0 L330.9,437.5 L331.9,436.9 L332.8,436.3 L333.8,435.9 L334.8,435.5 L335.7,435.1 L336.7,434.7 L337.7,434.2 L338.6,433.8 L339.6,433.3 L340.5,432.8 L341.5,432.4 L342.5,431.9 L343.4,431.3 L344.4,430.8 L345.3,430.3 L346.3,429.7 L347.2,429.2 L348.2,428.6 L349.2,428.0 L350.1,427.4 L351.1,426.7 L352.0,426.1 L353.0,425.4 L353.9,424.8 L354.9,424.1 L355.9,423.4 L356.8,422.6 L357.8,421.9 L358.7,421.1 L359.7,420.2 L360.6,419.4 L361.6,418.4 L362.5,417.4 L363.5,416.3 L364.4,415.1 L365.4,413.7 L366.3,412.3 L367.2,410.7 L368.2,408.9 L369.1,407.1 L370.0,405.1 L371.0,403.0 L371.9,400.9 L372.8,398.9 L373.8,396.9 L374.8,395.1 L375.7,393.7 L376.7,392.7 L377.7,392.4 L378.8,393.1 L379.9,395.4 L381.0,399.5 L382.1,404.9 L383.3,410.4 L384.3,414.8 L385.4,417.7 L386.4,419.4 L387.4,420.2 L388.4,420.5 L389.4,420.5 L390.3,420.4 L391.3,420.2 L392.3,419.9 L393.3,419.6 L394.2,419.4 L395.2,419.1 L396.2,418.8 L397.1,418.5 L398.1,418.2 L399.1,418.0 L400.1,417.7 L401.0,417.4 L402.0,417.1 L403.0,416.8 L404.0,416.5 L404.9,416.3 L405.9,416.0 L406.9,415.7" fill="none" stroke="#222" stroke-opacity="0.4" stroke-width="0.55" stroke-dasharray="0.9 1.3"/>
<path d="M377.5,392.7 L378.0,392.7 L378.5,392.8 L379.0,392.8 L379.5,393.0 L380.0,393.1 L380.5,393.1 L381.0,393.3 L381.5,393.4 L382.0,393.5 L382.5,393.6 L383.0,393.7 L383.5,394.0 L384.0,394.1 L384.5,394.2 L385.0,394.4 L385.5,394.5 L386.0,394.7 L386.5,394.8 L387.0,395.1 L387.5,395.2 L388.0,395.3 L388.5,395.6 L389.0,395.8 L389.5,395.9 L390.0,396.2 L390.5,396.4 L391.0,396.7 L391.5,396.7 L392.0,397.0 L392.5,397.2 L393.0,397.5 L393.5,397.6 L394.0,397.8 L394.5,398.2 L395.0,398.4 L395.5,398.5 L396.0,398.8 L396.5,399.1 L397.0,399.2 L397.5,399.5 L398.0,399.8 L398.5,400.0 L399.0,400.2 L399.5,400.5 L400.0,400.7 L400.5,400.9 L401.0,401.2 L401.5,401.5 L402.0,401.6 L402.5,401.9 L403.0,402.2 L403.5,402.4 L404.0,402.6 L404.5,403.0 L405.0,403.2 L405.5,403.4 L406.0,403.7 L406.5,404.0 L407.0,404.2 L407.5,404.5 L408.0,404.8 L408.5,405.0 L409.0,405.2 L409.5,405.6 L410.0,405.8 L410.5,406.0 L411.0,406.3 L411.5,406.6 L412.0,406.8 L412.5,407.1 L413.0,407.5 L413.5,407.7 L414.0,407.9 L414.5,408.2 L415.0,408.5 L415.5,408.7 L416.0,409.0 L416.5,409.4 L417.0,409.6 L417.5,409.8 L418.0,410.2 L418.5,410.5 L419.0,410.7 L419.5,411.0 L420.0,411.4 L420.5,411.7 L421.0,411.9 L421.5,412.3 L422.0,412.7 L422.5,413.0 L423.0,413.2 L423.5,413.7 L424.0,414.1 L424.5,414.3 L425.0,414.7 L425.5,415.2 L426.0,415.6 L426.5,415.9 L427.0,416.3 L427.5,416.9 L428.0,417.3 L428.5,417.6 L429.0,418.2 L429.5,418.8 L430.0,419.2 L430.5,419.6 L431.0,420.2 L431.5,420.9 L432.0,421.5 L432.5,422.2 L433.0,422.7 L433.5,423.2 L434.0,423.9 L434.5,424.7 L435.0,425.2 L435.5,425.7 L436.0,426.8 L436.5,427.3 L437.0,428.0 L437.5,428.8 L438.0,429.5 L438.5,430.2 L439.0,431.0 L439.5,431.6 L440.0,432.1 L440.5,432.8 L441.0,433.5 L441.5,434.1 L442.0,434.8 L442.5,435.4 L443.0,435.8 L443.5,436.3 L444.0,437.0 L444.5,437.8 L445.0,438.2 L445.5,439.2 L446.0,439.6 L446.5,440.5 L447.0,441.4 L447.5,441.8 L448.0,442.5 L448.5,443.2 L449.0,443.6 L449.5,444.2 L450.0,444.5 L450.5,445.1 L451.0,445.6 L451.5,445.9 L452.0,446.4 L452.5,446.7 L453.0,447.2 L453.5,447.4 L454.0,447.9 L454.5,448.2 L455.0,448.7" fill="none" stroke="#111" stroke-width="1.3" stroke-linejoin="round"/>
<ellipse cx="340.5" cy="441.0" rx="6.8" ry="2.6" fill="#e3ecdd" transform="rotate(28 340.5 441.0)"/>
<ellipse cx="337.2" cy="440.6" rx="6.4" ry="1.8" fill="#959595" transform="rotate(30 337.2 440.6)"/>
<line x1="325.10" y1="398.10" x2="355.63" y2="429.72" stroke="#333" stroke-width="0.8" />
<line x1="355.63" y1="429.72" x2="370.00" y2="444.60" stroke="#333" stroke-width="0.8" stroke-dasharray="1 1.2"/>
<line x1="370.00" y1="444.60" x2="418.60" y2="429.60" stroke="#333" stroke-width="0.8" stroke-dasharray="1.6 1.2"/>
<line x1="435.11" y1="424.51" x2="461.70" y2="416.30" stroke="#a9a9a0" stroke-width="0.8" />
<line x1="370.00" y1="444.60" x2="371.44" y2="487.84" stroke="#333" stroke-width="0.8" stroke-dasharray="1 1.1"/>
<line x1="371.44" y1="487.84" x2="372.70" y2="525.90" stroke="#444" stroke-width="0.8" />
<line x1="325.10" y1="398.10" x2="332.50" y2="473.90" stroke="#3a3a3a" stroke-width="0.8" />
<line x1="461.70" y1="416.30" x2="453.50" y2="495.40" stroke="#8a8a8a" stroke-width="0.8" />
<line x1="332.50" y1="473.90" x2="372.70" y2="525.90" stroke="#444" stroke-width="0.8" />
<line x1="372.70" y1="525.90" x2="453.50" y2="495.40" stroke="#444" stroke-width="0.8" />
<line x1="321.29" y1="407.46" x2="325.29" y2="406.16" stroke="#777" stroke-width="0.6" />
<text x="319.59" y="409.06" font-size="7.8" fill="#231f20" text-anchor="end" textLength="8.60" lengthAdjust="spacingAndGlyphs" stroke="#231f20" stroke-width="0.3" >60</text>
<line x1="322.34" y1="418.22" x2="326.34" y2="416.92" stroke="#777" stroke-width="0.6" />
<text x="320.64" y="419.82" font-size="7.8" fill="#231f20" text-anchor="end" textLength="8.60" lengthAdjust="spacingAndGlyphs" stroke="#231f20" stroke-width="0.3" >40</text>
<line x1="323.39" y1="428.97" x2="327.39" y2="427.67" stroke="#777" stroke-width="0.6" />
<text x="321.69" y="430.57" font-size="7.8" fill="#231f20" text-anchor="end" textLength="8.60" lengthAdjust="spacingAndGlyphs" stroke="#231f20" stroke-width="0.3" >20</text>
<line x1="324.44" y1="439.72" x2="328.44" y2="438.42" stroke="#777" stroke-width="0.6" />
<text x="322.74" y="441.32" font-size="7.8" fill="#231f20" text-anchor="end" textLength="4.00" lengthAdjust="spacingAndGlyphs" stroke="#231f20" stroke-width="0.3" >0</text>
<line x1="325.49" y1="450.47" x2="329.49" y2="449.17" stroke="#777" stroke-width="0.6" />
<text x="323.79" y="452.07" font-size="7.8" fill="#231f20" text-anchor="end" textLength="8.60" lengthAdjust="spacingAndGlyphs" stroke="#231f20" stroke-width="0.3" >20</text>
<line x1="326.54" y1="461.22" x2="330.54" y2="459.92" stroke="#777" stroke-width="0.6" />
<text x="324.84" y="462.82" font-size="7.8" fill="#231f20" text-anchor="end" textLength="8.60" lengthAdjust="spacingAndGlyphs" stroke="#231f20" stroke-width="0.3" >40</text>
<line x1="327.59" y1="471.97" x2="331.59" y2="470.67" stroke="#777" stroke-width="0.6" />
<text x="325.89" y="473.57" font-size="7.8" fill="#231f20" text-anchor="end" textLength="8.60" lengthAdjust="spacingAndGlyphs" stroke="#231f20" stroke-width="0.3" >60</text>
<text x="308.00" y="463.40" font-size="8.8" fill="#231f20" textLength="46.00" lengthAdjust="spacingAndGlyphs" stroke="#231f20" stroke-width="0.3" transform="rotate(-90 308.00 463.40)" >Synergy score</text>
<line x1="370.10" y1="526.80" x2="372.70" y2="525.90" stroke="#777" stroke-width="0.6" />
<text x="370.50" y="538.00" font-size="7.8" fill="#231f20" text-anchor="end" textLength="3.60" lengthAdjust="spacingAndGlyphs" stroke="#231f20" stroke-width="0.3" >0</text>
<line x1="364.36" y1="519.37" x2="366.96" y2="518.47" stroke="#777" stroke-width="0.6" />
<text x="363.96" y="528.27" font-size="7.8" fill="#231f20" text-anchor="end" textLength="14.80" lengthAdjust="spacingAndGlyphs" stroke="#231f20" stroke-width="0.3" >1.56</text>
<line x1="358.61" y1="511.94" x2="361.21" y2="511.04" stroke="#777" stroke-width="0.6" />
<text x="358.21" y="520.84" font-size="7.8" fill="#231f20" text-anchor="end" textLength="15.60" lengthAdjust="spacingAndGlyphs" stroke="#231f20" stroke-width="0.3" >3.12</text>
<line x1="352.87" y1="504.51" x2="355.47" y2="503.61" stroke="#777" stroke-width="0.6" />
<text x="352.47" y="513.41" font-size="7.8" fill="#231f20" text-anchor="end" textLength="15.80" lengthAdjust="spacingAndGlyphs" stroke="#231f20" stroke-width="0.3" >6.25</text>
<line x1="347.13" y1="497.09" x2="349.73" y2="496.19" stroke="#777" stroke-width="0.6" />
<text x="346.73" y="505.99" font-size="7.8" fill="#231f20" text-anchor="end" textLength="15.20" lengthAdjust="spacingAndGlyphs" stroke="#231f20" stroke-width="0.3" >12.5</text>
<line x1="341.39" y1="489.66" x2="343.99" y2="488.76" stroke="#777" stroke-width="0.6" />
<text x="340.99" y="498.56" font-size="7.8" fill="#231f20" text-anchor="end" textLength="9.00" lengthAdjust="spacingAndGlyphs" stroke="#231f20" stroke-width="0.3" >25</text>
<line x1="335.64" y1="482.23" x2="338.24" y2="481.33" stroke="#777" stroke-width="0.6" />
<text x="335.24" y="491.13" font-size="7.8" fill="#231f20" text-anchor="end" textLength="8.60" lengthAdjust="spacingAndGlyphs" stroke="#231f20" stroke-width="0.3" >50</text>
<line x1="329.90" y1="474.80" x2="332.50" y2="473.90" stroke="#777" stroke-width="0.6" />
<text x="329.50" y="483.70" font-size="7.8" fill="#231f20" text-anchor="end" textLength="12.50" lengthAdjust="spacingAndGlyphs" stroke="#231f20" stroke-width="0.3" >100</text>
<text x="310.20" y="499.60" font-size="9.0" fill="#231f20" textLength="59.00" lengthAdjust="spacingAndGlyphs" stroke="#231f20" stroke-width="0.3" transform="rotate(50 310.20 499.60)" >Quizartinib (nM)</text>
<line x1="372.70" y1="525.90" x2="373.60" y2="528.50" stroke="#777" stroke-width="0.6" />
<text x="373.80" y="537.90" font-size="7.8" fill="#231f20" textLength="4.00" lengthAdjust="spacingAndGlyphs" stroke="#231f20" stroke-width="0.3" >0</text>
<line x1="380.05" y1="523.13" x2="380.95" y2="525.73" stroke="#777" stroke-width="0.6" />
<text x="382.25" y="528.93" font-size="7.4" fill="#231f20" textLength="14.40" lengthAdjust="spacingAndGlyphs" stroke="#231f20" stroke-width="0.3" transform="rotate(55 382.25 528.93)" >0.97</text>
<line x1="387.39" y1="520.35" x2="388.29" y2="522.95" stroke="#777" stroke-width="0.6" />
<text x="389.59" y="526.15" font-size="7.4" fill="#231f20" textLength="14.40" lengthAdjust="spacingAndGlyphs" stroke="#231f20" stroke-width="0.3" transform="rotate(55 389.59 526.15)" >1.95</text>
<line x1="394.74" y1="517.58" x2="395.64" y2="520.18" stroke="#777" stroke-width="0.6" />
<text x="396.94" y="523.38" font-size="7.4" fill="#231f20" textLength="14.40" lengthAdjust="spacingAndGlyphs" stroke="#231f20" stroke-width="0.3" transform="rotate(55 396.94 523.38)" >3.90</text>
<line x1="402.08" y1="514.81" x2="402.98" y2="517.41" stroke="#777" stroke-width="0.6" />
<text x="404.28" y="520.61" font-size="7.4" fill="#231f20" textLength="14.40" lengthAdjust="spacingAndGlyphs" stroke="#231f20" stroke-width="0.3" transform="rotate(55 404.28 520.61)" >7.81</text>
<line x1="409.43" y1="512.04" x2="410.33" y2="514.64" stroke="#777" stroke-width="0.6" />
<text x="411.63" y="517.84" font-size="7.4" fill="#231f20" textLength="14.40" lengthAdjust="spacingAndGlyphs" stroke="#231f20" stroke-width="0.3" transform="rotate(55 411.63 517.84)" >15.6</text>
<line x1="416.77" y1="509.26" x2="417.67" y2="511.86" stroke="#777" stroke-width="0.6" />
<text x="418.97" y="515.06" font-size="7.4" fill="#231f20" textLength="14.40" lengthAdjust="spacingAndGlyphs" stroke="#231f20" stroke-width="0.3" transform="rotate(55 418.97 515.06)" >31.2</text>
<line x1="424.12" y1="506.49" x2="425.02" y2="509.09" stroke="#777" stroke-width="0.6" />
<text x="426.32" y="512.29" font-size="7.4" fill="#231f20" textLength="14.40" lengthAdjust="spacingAndGlyphs" stroke="#231f20" stroke-width="0.3" transform="rotate(55 426.32 512.29)" >62.5</text>
<line x1="431.46" y1="503.72" x2="432.36" y2="506.32" stroke="#777" stroke-width="0.6" />
<text x="433.66" y="509.52" font-size="7.4" fill="#231f20" textLength="12.30" lengthAdjust="spacingAndGlyphs" stroke="#231f20" stroke-width="0.3" transform="rotate(55 433.66 509.52)" >125</text>
<line x1="438.81" y1="500.95" x2="439.71" y2="503.55" stroke="#777" stroke-width="0.6" />
<text x="441.01" y="506.75" font-size="7.4" fill="#231f20" textLength="12.30" lengthAdjust="spacingAndGlyphs" stroke="#231f20" stroke-width="0.3" transform="rotate(55 441.01 506.75)" >250</text>
<line x1="446.15" y1="498.17" x2="447.05" y2="500.77" stroke="#777" stroke-width="0.6" />
<text x="448.35" y="503.97" font-size="7.4" fill="#231f20" textLength="12.30" lengthAdjust="spacingAndGlyphs" stroke="#231f20" stroke-width="0.3" transform="rotate(55 448.35 503.97)" >500</text>
<line x1="453.50" y1="495.40" x2="454.40" y2="498.00" stroke="#777" stroke-width="0.6" />
<text x="455.70" y="501.20" font-size="7.4" fill="#231f20" textLength="16.40" lengthAdjust="spacingAndGlyphs" stroke="#231f20" stroke-width="0.3" transform="rotate(55 455.70 501.20)" >1000</text>
<text x="419.50" y="542.00" font-size="9.0" fill="#231f20" textLength="45.50" lengthAdjust="spacingAndGlyphs" stroke="#231f20" stroke-width="0.3" transform="rotate(-23.8 419.50 542.00)" >MIK665 (nM)</text>
<rect x="0.50" y="0.50" width="518.60" height="551.60" fill="none" stroke="#000" stroke-width="1" />
<line x1="519.50" y1="0.00" x2="519.50" y2="553.00" stroke="#000" stroke-width="1" />
<line x1="0.00" y1="552.50" x2="520.00" y2="552.50" stroke="#000" stroke-width="1" />
</svg>
</body></html>
